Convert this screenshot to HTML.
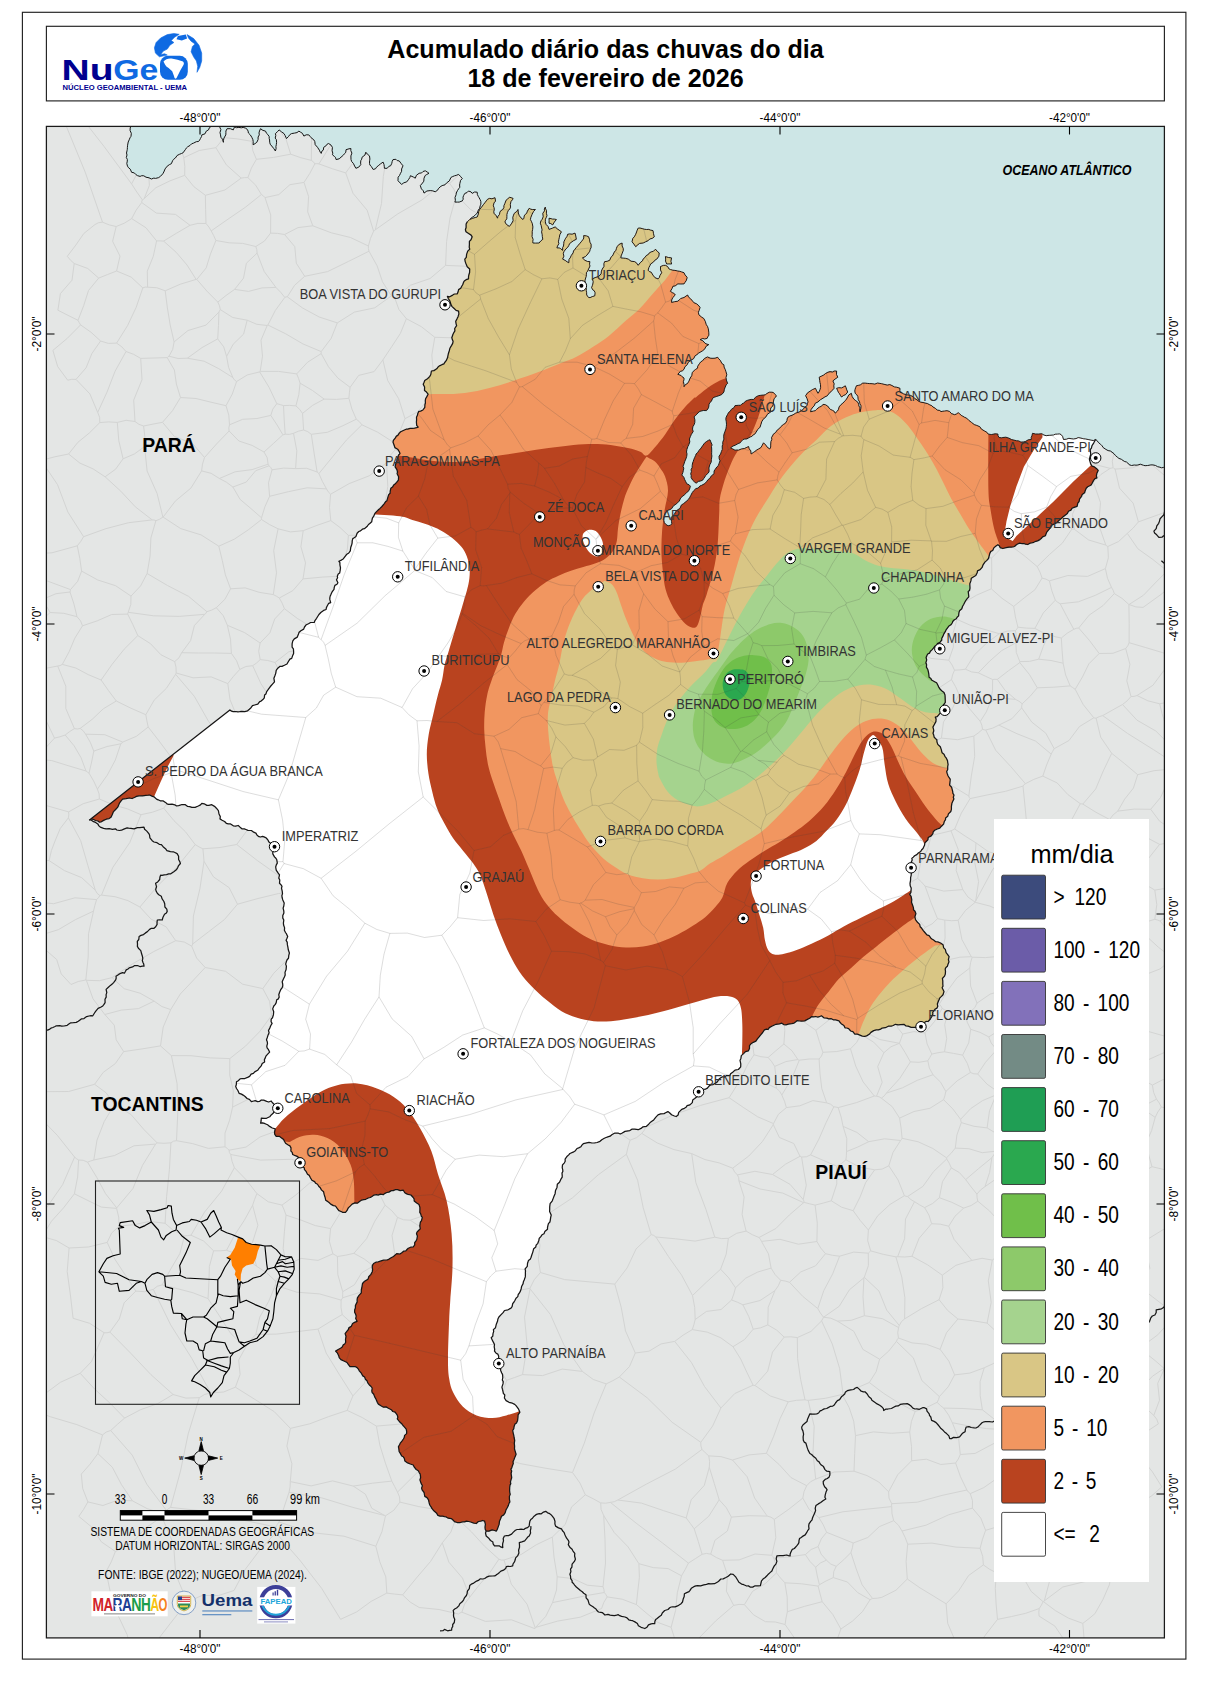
<!DOCTYPE html><html><head><meta charset="utf-8"><title>Acumulado diário das chuvas</title>
<style>html,body{margin:0;padding:0;background:#fff}svg{display:block}text{font-family:"Liberation Sans",sans-serif}</style></head><body>
<svg width="1211" height="1685" viewBox="0 0 1211 1685">
<defs>
<clipPath id="mapclip"><rect x="46" y="126" width="1119" height="1512"/></clipPath>
<clipPath id="maclip"><path d="M467.3,221.9 L469.7,219.5 L472.7,218.3 L475.3,217.5 L477.2,217.0 L478.4,213.9 L478.7,211.5 L479.6,209.5 L481.5,207.2 L483.4,204.6 L485.0,202.6 L486.3,200.9 L487.5,199.3 L489.5,198.4 L491.9,198.8 L495.0,197.7 L495.5,201.1 L494.0,202.9 L493.3,205.8 L494.0,207.4 L494.3,209.6 L493.8,211.5 L494.0,213.3 L496.4,215.9 L497.5,218.2 L497.9,216.5 L499.5,214.4 L499.9,212.1 L500.7,210.8 L502.6,209.6 L503.9,207.6 L503.9,205.7 L504.9,203.4 L506.1,200.2 L507.5,199.2 L509.4,197.2 L511.2,197.7 L513.1,198.4 L512.5,199.7 L511.0,201.4 L510.3,204.6 L510.6,207.1 L509.8,208.9 L508.3,210.5 L507.4,212.5 L506.9,214.5 L506.9,216.6 L506.8,218.8 L505.6,220.4 L504.9,221.9 L506.3,224.3 L508.0,225.5 L509.4,226.4 L511.4,223.8 L513.1,220.7 L512.8,217.3 L513.5,215.2 L514.3,213.3 L516.8,211.4 L518.0,209.5 L518.3,213.0 L519.3,215.7 L521.0,217.9 L523.0,219.5 L523.9,218.2 L524.2,215.9 L525.3,214.3 L526.7,213.3 L527.4,211.1 L529.2,208.3 L530.8,209.2 L532.7,209.6 L535.4,209.5 L533.4,211.7 L532.0,214.5 L530.9,217.2 L530.4,219.5 L531.4,221.4 L532.3,223.6 L532.9,226.9 L532.6,229.6 L532.2,231.4 L532.2,234.3 L532.0,236.5 L533.1,239.3 L532.8,241.3 L532.9,243.0 L535.6,243.1 L539.1,243.0 L540.8,240.9 L542.8,239.3 L542.3,236.6 L542.2,234.8 L541.6,231.8 L542.1,229.9 L541.7,228.1 L541.1,225.3 L540.3,223.2 L540.9,220.9 L542.0,219.6 L543.2,216.8 L542.8,213.3 L544.5,210.9 L544.3,209.0 L545.3,207.1 L545.6,208.9 L546.5,210.5 L546.4,213.3 L547.0,215.7 L546.2,217.6 L545.4,219.2 L545.3,221.8 L546.0,224.4 L548.0,226.4 L549.0,229.4 L552.3,228.2 L555.2,226.9 L557.6,229.1 L559.1,230.1 L561.4,231.8 L559.8,234.8 L559.3,237.5 L558.9,239.3 L558.4,241.8 L558.9,243.6 L557.5,246.1 L556.9,247.9 L559.2,247.9 L560.5,248.5 L562.6,250.4 L562.7,247.6 L563.5,246.0 L563.8,243.6 L563.9,241.8 L564.9,239.7 L565.6,238.3 L567.1,236.3 L567.6,234.3 L569.5,233.9 L572.1,234.2 L575.0,233.1 L575.8,236.0 L576.3,239.3 L573.8,240.5 L571.3,242.3 L569.5,243.7 L568.8,245.5 L567.7,247.3 L565.8,249.0 L563.9,251.7 L563.3,253.5 L563.9,256.2 L562.6,259.1 L565.2,260.4 L567.1,261.8 L568.8,262.8 L569.0,259.3 L570.2,257.9 L571.3,255.4 L573.1,252.9 L573.5,251.0 L575.0,249.2 L576.4,247.4 L578.3,245.2 L579.7,243.6 L581.2,241.8 L583.0,239.5 L583.8,238.0 L583.7,235.6 L586.6,235.9 L588.6,236.8 L589.6,239.8 L589.9,242.2 L591.1,244.2 L591.1,247.5 L590.1,249.6 L589.8,251.2 L588.6,252.9 L586.9,255.1 L585.4,256.6 L582.4,257.9 L584.9,260.3 L587.6,261.5 L589.9,261.6 L589.5,264.2 L590.0,266.0 L588.6,269.0 L587.6,271.2 L586.4,272.7 L586.4,274.3 L586.2,276.4 L585.7,278.0 L585.0,280.2 L585.2,283.5 L584.9,286.3 L586.3,288.7 L586.2,290.7 L586.6,292.3 L586.7,295.0 L588.6,297.5 L590.1,297.6 L592.3,296.6 L594.8,295.8 L595.1,292.7 L594.2,290.7 L592.6,289.7 L591.6,287.6 L592.3,285.7 L592.8,284.1 L593.2,281.7 L592.4,278.9 L595.1,277.6 L598.5,276.4 L601.1,273.9 L601.4,271.1 L602.3,269.0 L604.0,266.4 L603.9,263.6 L604.7,261.6 L607.1,261.3 L609.7,260.3 L610.9,257.3 L612.4,256.0 L613.4,254.1 L614.3,252.0 L615.9,250.3 L616.4,248.5 L617.1,246.7 L618.9,244.5 L622.1,243.0 L622.1,245.9 L623.2,248.3 L623.3,250.4 L622.2,253.3 L621.2,255.8 L620.8,257.9 L623.2,258.1 L625.4,258.3 L628.3,259.1 L631.0,261.2 L634.5,261.6 L636.3,262.7 L638.2,265.3 L639.2,264.0 L640.7,262.2 L642.5,260.8 L643.1,259.1 L645.1,257.3 L646.2,255.6 L648.4,254.4 L649.3,252.9 L651.1,251.9 L653.4,251.3 L655.5,249.2 L657.3,251.4 L659.2,252.9 L658.9,256.2 L656.8,259.1 L654.9,260.2 L653.4,262.1 L650.6,264.0 L649.9,265.7 L649.0,267.3 L648.1,270.2 L649.4,271.6 L651.2,272.2 L653.0,275.2 L655.0,277.7 L658.0,278.9 L659.4,277.4 L659.9,275.6 L661.7,272.7 L660.5,269.9 L660.5,266.5 L663.4,265.4 L665.4,265.3 L667.6,266.5 L669.1,269.0 L670.5,269.6 L672.9,270.2 L674.9,270.4 L677.8,271.0 L679.8,271.3 L681.6,271.9 L684.0,272.7 L684.9,274.8 L686.0,275.8 L687.2,277.7 L686.2,280.7 L684.9,282.5 L684.0,283.9 L680.9,284.0 L677.8,283.9 L675.2,285.9 L672.9,286.3 L672.0,288.6 L670.4,291.3 L672.5,292.7 L673.8,293.2 L675.3,295.0 L672.9,297.4 L671.7,300.0 L671.6,302.4 L674.6,301.7 L677.8,301.2 L679.5,299.7 L680.7,298.5 L684.0,297.5 L686.1,296.0 L687.7,295.0 L688.4,296.9 L690.5,298.7 L692.7,301.2 L693.9,302.7 L696.4,303.7 L698.2,305.1 L700.1,307.4 L699.1,310.6 L698.4,312.3 L698.9,314.8 L701.6,317.1 L703.8,318.5 L705.3,321.4 L706.3,324.7 L707.5,326.4 L708.3,328.8 L708.8,332.2 L708.9,335.2 L707.8,336.8 L707.1,338.4 L704.7,339.0 L702.8,338.5 L700.1,339.6 L702.8,340.7 L705.1,343.3 L707.0,344.2 L708.8,344.6 L705.9,346.5 L704.9,348.8 L702.6,350.8 L700.2,352.2 L698.5,353.2 L697.0,354.6 L695.2,355.7 L693.5,358.8 L691.4,359.9 L690.2,360.7 L688.1,362.5 L687.3,364.6 L684.9,366.8 L684.0,369.3 L682.3,370.9 L680.4,371.3 L679.0,373.0 L677.8,374.3 L681.1,375.5 L682.1,376.7 L684.0,378.0 L684.0,379.7 L683.4,381.6 L684.1,384.7 L684.0,386.7 L685.5,384.5 L687.4,383.6 L688.9,381.2 L690.2,378.0 L691.8,375.6 L692.2,372.7 L694.3,370.3 L695.6,369.4 L697.6,368.1 L697.7,366.2 L699.4,363.7 L700.7,361.9 L702.6,360.7 L704.4,358.5 L707.5,356.9 L710.1,358.1 L712.0,358.3 L715.0,358.2 L717.7,357.3 L718.6,358.6 L720.4,360.5 L721.9,363.5 L723.9,364.8 L724.1,367.1 L725.2,369.4 L725.9,371.4 L726.8,374.7 L726.0,377.4 L726.4,380.1 L727.6,383.4 L726.2,384.8 L725.2,387.2 L724.4,389.2 L723.9,392.0 L721.8,394.5 L718.9,395.7 L716.2,396.6 L714.0,397.3 L712.7,398.2 L711.3,401.4 L709.9,402.5 L709.0,404.4 L708.7,407.2 L707.9,408.9 L706.5,410.6 L703.3,410.5 L700.9,411.1 L699.1,411.8 L696.8,414.2 L695.6,415.5 L694.1,416.8 L694.9,419.8 L694.8,422.5 L694.2,424.5 L692.9,426.7 L692.5,429.1 L693.2,431.5 L691.4,434.3 L690.4,436.6 L689.4,439.0 L689.8,441.9 L688.8,444.7 L687.9,446.5 L686.9,449.5 L686.5,452.0 L687.0,453.9 L686.7,456.4 L685.9,458.9 L684.9,461.1 L684.0,463.9 L683.0,466.3 L683.8,468.1 L683.4,470.3 L682.8,472.8 L681.8,475.0 L683.9,477.3 L684.5,479.2 L685.5,481.2 L686.8,483.8 L689.1,484.8 L690.4,486.2 L689.6,489.0 L688.4,491.3 L686.7,492.4 L684.8,494.6 L682.9,496.0 L680.7,497.9 L679.3,501.0 L677.6,502.8 L675.9,504.2 L673.2,506.1 L671.8,508.5 L670.0,509.6 L668.3,510.2 L666.8,511.6 L664.9,513.4 L664.3,515.4 L663.8,517.8 L663.9,520.8 L664.4,522.6 L665.6,524.2 L668.1,525.8 L670.5,525.2 L671.8,523.8 L671.5,521.4 L670.9,517.9 L672.7,515.8 L674.4,514.3 L675.8,511.4 L678.0,509.6 L680.0,508.4 L681.3,505.1 L683.7,503.5 L686.0,501.6 L688.2,499.7 L689.8,497.3 L690.7,495.6 L692.2,492.7 L693.6,490.8 L696.0,488.5 L698.1,488.1 L699.9,486.0 L701.7,485.3 L704.8,483.6 L706.5,481.7 L708.1,479.6 L709.9,478.3 L711.3,475.9 L714.0,473.8 L714.1,471.0 L715.3,469.2 L716.9,466.9 L718.4,465.5 L718.9,463.9 L720.0,460.7 L719.2,458.9 L719.0,456.2 L720.6,454.0 L721.4,451.5 L722.3,449.4 L722.2,446.0 L722.8,444.4 L722.7,442.3 L723.9,439.1 L723.7,436.9 L723.8,435.0 L724.4,432.9 L725.0,431.3 L725.9,428.9 L726.3,426.7 L726.5,424.2 L726.2,421.1 L725.8,419.4 L726.1,417.3 L727.6,414.3 L728.8,412.2 L730.2,411.3 L731.3,409.4 L734.1,407.5 L735.0,405.6 L738.4,405.3 L740.5,405.3 L742.0,403.8 L743.7,403.2 L745.3,401.3 L747.8,400.2 L751.1,399.4 L753.6,399.5 L755.4,397.3 L756.9,396.4 L758.7,395.6 L760.8,395.3 L763.5,395.0 L765.3,394.8 L766.9,393.5 L769.3,392.2 L771.8,392.2 L773.4,392.5 L774.8,394.2 L776.4,395.7 L775.6,397.2 L774.1,398.6 L773.4,401.9 L773.2,404.6 L772.5,406.4 L770.9,407.7 L770.5,409.8 L770.9,411.8 L769.1,413.1 L767.4,414.3 L766.0,416.8 L764.5,418.0 L762.9,419.8 L761.7,421.8 L761.0,424.2 L760.0,427.2 L757.7,429.6 L756.2,432.0 L754.8,434.1 L753.2,434.9 L751.9,436.4 L750.1,437.0 L748.6,437.9 L746.9,438.9 L744.5,439.1 L742.9,439.6 L741.2,441.6 L740.2,442.8 L738.1,443.6 L735.0,445.3 L733.0,446.0 L730.6,447.8 L732.5,448.8 L735.0,450.2 L736.9,450.0 L738.7,450.1 L741.2,449.0 L744.4,448.5 L746.9,447.3 L748.6,446.5 L749.2,448.8 L750.8,450.8 L751.1,454.0 L753.3,452.5 L754.8,451.5 L756.6,450.1 L758.5,449.0 L760.9,447.6 L761.9,445.9 L763.5,442.8 L765.8,445.1 L766.9,446.8 L769.7,449.0 L770.7,447.1 L770.7,445.1 L770.9,441.6 L771.8,439.5 L771.6,437.3 L772.5,436.0 L773.4,434.1 L775.4,432.7 L777.4,429.9 L779.5,428.4 L780.8,426.7 L783.3,424.5 L785.4,423.3 L787.0,420.5 L787.1,418.9 L788.3,416.8 L789.9,416.0 L792.1,415.2 L793.9,414.3 L795.7,413.1 L799.0,412.1 L801.1,410.9 L803.1,409.4 L804.8,407.2 L806.9,405.8 L807.4,403.6 L808.1,401.9 L807.0,398.5 L805.6,395.7 L807.6,392.8 L810.6,390.8 L812.6,389.5 L815.5,388.3 L816.6,390.8 L818.0,393.3 L819.0,391.9 L819.9,389.9 L820.6,387.6 L820.5,384.6 L820.0,382.7 L819.7,380.4 L819.2,377.2 L821.9,375.9 L823.7,375.0 L825.4,373.6 L827.9,372.2 L830.1,371.6 L832.4,372.0 L834.2,371.0 L836.6,371.0 L836.5,374.5 L837.8,377.2 L835.1,379.1 L832.9,380.9 L834.2,383.8 L833.8,385.8 L834.1,388.3 L832.3,390.3 L830.9,391.8 L829.1,393.3 L827.3,395.8 L824.9,396.9 L823.0,398.2 L820.5,399.7 L818.0,401.9 L815.2,403.3 L814.3,405.7 L813.0,406.9 L811.1,409.5 L810.6,411.8 L813.5,411.0 L815.3,410.7 L816.4,409.5 L818.0,408.1 L819.6,407.0 L821.4,406.3 L823.0,404.4 L825.3,404.7 L827.6,406.0 L829.2,408.1 L830.4,409.4 L832.5,410.3 L833.9,411.1 L835.3,413.1 L837.5,411.0 L838.5,409.3 L839.1,406.9 L840.9,404.7 L842.8,403.2 L844.0,401.9 L845.2,400.7 L846.5,399.1 L847.7,397.0 L848.8,394.9 L851.4,393.3 L852.1,396.4 L853.8,399.1 L855.8,400.7 L857.6,401.9 L858.7,404.2 L858.9,406.0 L860.0,407.8 L859.7,410.2 L860.1,411.8 L860.9,408.3 L861.0,405.7 L859.9,403.8 L859.6,401.9 L858.1,399.4 L857.9,396.6 L856.8,394.8 L855.2,393.3 L854.8,391.0 L855.1,389.2 L855.8,387.3 L856.4,385.8 L858.6,385.3 L860.3,384.9 L862.7,383.1 L865.2,383.1 L867.5,383.4 L869.6,383.6 L872.1,383.7 L874.9,384.1 L877.5,383.0 L879.9,383.4 L881.6,383.7 L884.1,384.3 L887.2,385.1 L889.8,384.6 L891.9,385.5 L894.4,386.9 L896.7,387.2 L900.0,388.3 L899.9,390.3 L900.0,392.4 L901.8,392.7 L903.4,393.8 L906.3,394.7 L908.7,395.1 L910.5,395.4 L913.1,396.7 L914.9,398.6 L917.0,399.9 L918.7,401.3 L920.9,402.2 L923.0,402.5 L925.9,403.2 L927.5,403.6 L929.7,404.8 L931.8,405.7 L933.0,407.0 L935.3,408.3 L937.2,410.0 L939.8,410.5 L941.0,411.6 L942.9,411.2 L944.6,411.0 L947.0,410.7 L949.5,411.4 L951.4,413.5 L954.5,414.7 L956.3,414.1 L958.2,412.7 L959.5,413.6 L961.2,415.4 L962.8,416.2 L964.4,417.2 L966.7,418.2 L969.1,420.6 L971.5,422.4 L974.3,424.6 L976.7,425.4 L979.8,426.7 L981.4,429.1 L984.2,430.8 L986.9,432.3 L988.1,434.0 L990.1,434.4 L991.7,434.5 L995.0,433.8 L997.9,434.0 L998.0,435.6 L999.1,437.5 L1001.4,437.8 L1002.9,437.5 L1005.9,437.2 L1009.0,438.2 L1011.7,439.6 L1013.9,440.1 L1016.4,440.7 L1018.8,440.9 L1020.9,442.1 L1023.9,441.9 L1025.8,441.3 L1028.2,439.8 L1031.3,439.5 L1031.2,437.4 L1031.9,435.9 L1032.5,433.3 L1035.6,434.0 L1038.7,434.0 L1041.8,433.7 L1043.9,435.0 L1046.2,435.7 L1048.0,435.4 L1049.8,435.3 L1052.1,435.1 L1053.6,435.0 L1055.2,434.2 L1057.3,434.1 L1059.5,433.9 L1061.0,434.5 L1062.6,436.4 L1063.5,439.5 L1066.4,439.2 L1068.9,438.3 L1071.1,438.7 L1073.4,439.0 L1076.0,438.6 L1078.2,437.6 L1080.0,437.9 L1082.2,438.4 L1083.7,438.8 L1085.8,439.0 L1088.9,439.7 L1091.9,440.3 L1093.4,440.5 L1095.7,439.5 L1095.7,439.5 L1094.6,441.2 L1093.8,442.8 L1092.0,445.6 L1091.4,448.2 L1090.2,449.7 L1090.4,451.6 L1090.8,454.3 L1090.1,456.5 L1089.4,459.3 L1090.1,461.9 L1090.8,464.2 L1092.1,466.1 L1093.8,466.6 L1096.4,468.4 L1098.2,470.4 L1096.9,473.2 L1096.4,475.8 L1096.9,477.9 L1095.0,478.7 L1093.6,480.4 L1092.1,483.3 L1090.8,485.3 L1087.7,486.7 L1086.2,488.3 L1085.1,491.0 L1084.6,492.7 L1082.2,494.4 L1081.6,496.3 L1079.6,498.9 L1079.1,501.5 L1077.8,503.1 L1077.1,506.3 L1074.8,507.1 L1072.0,508.3 L1070.9,510.1 L1068.5,511.3 L1067.4,513.4 L1064.8,515.4 L1062.8,517.1 L1061.0,518.7 L1059.2,520.2 L1057.5,522.1 L1054.8,523.7 L1052.8,524.6 L1051.4,525.2 L1050.7,527.5 L1048.6,529.9 L1046.6,532.4 L1045.4,535.7 L1042.6,536.9 L1041.2,538.5 L1039.9,539.6 L1037.6,540.9 L1035.9,541.3 L1033.8,542.3 L1031.5,543.0 L1030.0,543.2 L1027.8,544.5 L1025.5,544.2 L1023.9,543.5 L1021.5,543.5 L1019.7,543.2 L1017.6,544.0 L1016.4,544.7 L1014.5,546.5 L1012.8,547.0 L1011.1,547.2 L1009.0,547.2 L1006.2,547.7 L1002.8,548.5 L1000.1,547.6 L999.3,545.7 L997.9,544.7 L996.0,546.0 L993.8,547.9 L992.7,550.5 L990.8,551.4 L989.8,553.4 L989.0,556.5 L988.5,558.5 L986.6,560.6 L984.9,562.1 L983.2,564.6 L982.1,567.4 L980.1,569.7 L977.5,570.8 L977.2,572.8 L975.8,575.5 L973.7,576.7 L971.3,578.2 L970.9,580.9 L969.8,583.8 L969.9,586.0 L970.0,588.1 L969.5,590.5 L968.2,591.5 L968.5,593.8 L968.8,596.8 L967.2,598.6 L965.9,600.3 L964.8,602.3 L963.8,604.2 L962.5,606.5 L961.8,608.7 L959.5,610.8 L958.9,612.9 L958.6,615.9 L957.1,617.3 L956.3,618.8 L954.4,619.7 L952.7,621.5 L952.2,623.0 L950.9,624.8 L948.9,626.1 L947.7,627.7 L946.1,629.8 L945.3,631.7 L943.7,634.2 L942.8,636.4 L941.7,638.5 L941.8,640.0 L939.9,642.4 L937.5,643.6 L936.6,645.1 L935.0,646.1 L933.4,648.2 L932.2,649.6 L930.4,651.3 L929.5,653.1 L927.7,654.0 L926.8,655.7 L926.1,657.5 L926.7,659.9 L925.9,662.7 L926.6,664.8 L926.4,667.1 L927.9,669.8 L928.5,672.3 L928.8,674.0 L929.1,677.2 L930.9,678.6 L931.6,680.0 L934.6,681.7 L936.6,682.8 L937.8,685.0 L938.6,686.8 L940.2,689.3 L941.7,690.7 L944.0,692.4 L945.0,694.9 L945.1,696.9 L945.2,699.3 L945.3,702.3 L944.2,704.0 L943.2,705.2 L942.6,708.0 L941.5,709.7 L940.4,712.8 L938.9,714.6 L937.2,716.6 L935.3,717.2 L936.1,719.0 L935.9,721.6 L934.2,724.7 L932.9,727.1 L933.4,728.7 L933.8,730.8 L933.0,733.3 L933.8,735.3 L934.1,737.0 L935.5,738.7 L936.8,739.5 L937.0,742.1 L937.8,744.4 L940.3,746.7 L941.3,749.6 L942.1,752.8 L944.0,754.3 L944.9,756.3 L946.1,757.8 L947.5,760.6 L947.7,762.3 L948.1,764.3 L947.7,766.7 L947.7,769.5 L946.7,771.6 L947.1,773.2 L948.0,775.7 L949.2,777.7 L950.2,779.1 L950.1,780.9 L949.9,782.7 L949.6,785.1 L951.6,787.2 L952.2,789.6 L952.7,791.5 L952.9,793.4 L954.0,795.0 L953.3,797.2 L953.9,799.0 L953.1,800.6 L951.9,803.3 L951.4,806.3 L951.4,809.4 L950.8,811.5 L948.4,813.9 L947.7,816.3 L945.6,817.9 L945.5,819.7 L944.3,821.5 L943.6,824.1 L941.5,826.2 L939.8,828.1 L937.3,829.0 L934.7,830.3 L933.2,831.9 L932.9,833.6 L931.2,835.9 L928.2,837.5 L927.9,839.9 L926.7,841.0 L924.9,842.9 L924.5,845.3 L923.0,848.5 L921.5,850.0 L920.7,851.5 L918.3,853.0 L916.8,854.6 L914.6,855.8 L913.3,857.1 L911.8,858.4 L912.2,859.9 L911.3,862.1 L912.4,864.7 L911.0,866.1 L910.6,868.3 L910.6,871.0 L911.4,872.5 L911.1,875.7 L910.6,877.7 L910.6,880.0 L910.0,883.3 L910.2,885.8 L911.2,888.1 L911.1,889.9 L910.9,892.5 L909.7,894.4 L911.1,896.3 L911.8,899.8 L911.5,902.3 L912.6,905.3 L913.5,907.9 L913.5,909.7 L915.0,911.3 L915.9,913.5 L914.9,916.9 L915.5,919.6 L917.5,922.3 L919.7,924.4 L920.2,926.8 L921.7,928.3 L923.3,930.6 L924.9,932.5 L926.9,934.9 L929.1,935.7 L930.7,937.9 L931.9,938.9 L933.6,940.0 L935.7,941.7 L937.8,941.9 L940.6,943.0 L943.0,944.7 L943.7,947.9 L945.3,949.4 L946.1,952.7 L947.7,954.6 L949.1,956.6 L948.4,959.6 L949.0,961.8 L948.0,964.2 L947.4,966.3 L945.9,967.5 L945.2,969.1 L945.5,971.3 L945.3,974.1 L944.5,976.2 L942.4,978.5 L942.8,980.9 L942.8,984.0 L943.0,986.1 L942.1,987.7 L943.0,989.5 L944.0,991.6 L943.0,994.8 L941.5,996.4 L939.8,997.9 L938.5,1000.9 L937.3,1003.9 L937.8,1006.3 L937.0,1008.1 L935.3,1009.0 L933.7,1010.8 L932.7,1012.3 L932.9,1014.1 L931.9,1016.3 L930.4,1018.7 L929.3,1020.3 L928.0,1021.5 L926.0,1021.4 L924.4,1022.5 L922.7,1024.7 L920.5,1026.2 L918.3,1026.7 L914.8,1027.4 L911.2,1027.3 L908.1,1026.2 L906.0,1025.9 L904.2,1024.4 L900.8,1024.7 L898.2,1024.9 L895.4,1024.3 L893.2,1025.5 L891.3,1026.1 L888.3,1026.2 L885.3,1027.7 L882.1,1028.1 L880.6,1029.2 L878.4,1029.9 L876.2,1029.9 L873.7,1030.6 L870.9,1032.4 L869.2,1034.3 L866.6,1035.9 L864.7,1036.3 L862.3,1036.1 L859.3,1034.9 L857.4,1034.1 L854.8,1034.1 L852.9,1031.7 L850.7,1031.0 L848.6,1028.6 L846.8,1028.0 L845.0,1027.8 L843.9,1025.5 L841.2,1023.7 L839.7,1022.0 L839.0,1020.8 L835.6,1019.8 L833.3,1019.8 L831.3,1018.7 L828.7,1018.8 L826.9,1018.2 L823.9,1017.8 L821.4,1015.8 L819.3,1016.7 L817.9,1017.1 L815.5,1016.5 L814.0,1016.8 L811.5,1016.7 L809.7,1018.2 L806.9,1019.6 L804.8,1020.9 L801.6,1021.2 L799.3,1021.0 L797.0,1020.7 L795.5,1022.0 L794.1,1023.1 L791.7,1023.7 L788.3,1024.2 L786.0,1024.9 L783.7,1024.6 L781.8,1023.2 L779.5,1023.9 L776.0,1024.3 L773.9,1025.2 L771.8,1026.2 L769.3,1027.6 L768.1,1029.5 L766.6,1029.1 L764.4,1029.9 L762.7,1032.5 L760.7,1034.8 L758.9,1037.1 L757.4,1038.9 L755.9,1041.2 L753.3,1042.3 L751.0,1043.8 L749.5,1045.6 L749.5,1048.4 L748.3,1050.9 L745.5,1051.6 L743.6,1053.6 L741.3,1055.6 L740.9,1058.4 L740.0,1060.4 L740.8,1063.8 L740.7,1066.8 L738.4,1069.5 L735.0,1070.1 L732.7,1072.2 L730.6,1073.8 L729.7,1075.7 L726.3,1075.7 L724.2,1077.0 L722.4,1076.8 L720.4,1078.0 L719.1,1079.0 L717.3,1081.9 L715.6,1082.9 L713.1,1084.6 L711.0,1084.8 L709.2,1085.9 L707.4,1088.1 L705.2,1089.3 L702.2,1089.0 L700.8,1090.8 L698.6,1091.8 L698.1,1093.9 L697.2,1096.6 L694.7,1098.6 L692.7,1100.0 L692.3,1102.6 L689.9,1104.9 L687.1,1105.7 L686.0,1107.3 L684.4,1108.3 L682.3,1109.1 L681.0,1110.1 L678.7,1112.4 L678.1,1115.0 L676.2,1116.5 L674.4,1116.0 L671.6,1114.8 L669.5,1112.7 L667.9,1111.6 L665.6,1112.8 L664.1,1113.6 L660.6,1113.8 L658.0,1114.9 L655.9,1117.1 L653.7,1119.9 L652.2,1121.0 L650.5,1122.2 L648.1,1124.8 L646.2,1126.4 L643.0,1126.8 L641.0,1128.4 L638.2,1129.7 L634.7,1129.1 L631.8,1129.2 L629.9,1130.6 L628.1,1130.9 L625.0,1131.4 L622.3,1133.0 L620.2,1134.0 L618.0,1133.0 L614.9,1133.0 L611.8,1134.7 L610.1,1136.2 L607.8,1136.9 L606.1,1137.5 L604.3,1138.3 L601.8,1139.7 L600.0,1141.3 L597.1,1142.5 L594.7,1142.9 L591.9,1143.0 L589.0,1142.3 L585.7,1143.1 L583.3,1143.7 L581.9,1145.1 L580.9,1146.8 L578.7,1147.9 L577.0,1148.5 L575.4,1150.7 L573.1,1152.2 L569.9,1153.5 L568.7,1154.9 L567.2,1156.2 L565.1,1159.0 L565.2,1161.3 L564.4,1162.8 L562.5,1164.9 L562.2,1167.7 L562.7,1169.6 L562.9,1171.3 L562.0,1173.1 L562.2,1175.4 L562.2,1177.2 L560.8,1179.4 L559.5,1182.2 L557.3,1184.2 L557.0,1187.4 L555.5,1190.6 L555.1,1193.7 L554.1,1196.0 L553.2,1198.4 L552.3,1200.8 L550.1,1203.6 L549.7,1207.0 L549.7,1209.3 L549.6,1211.4 L550.3,1212.9 L551.2,1215.1 L550.7,1217.3 L550.3,1220.1 L549.9,1222.0 L548.4,1223.6 L547.9,1225.6 L547.5,1227.7 L547.5,1229.3 L544.8,1231.6 L544.0,1233.8 L542.0,1234.8 L540.8,1236.6 L539.2,1238.4 L538.9,1240.2 L537.8,1243.3 L536.1,1245.2 L535.8,1247.0 L533.7,1248.7 L532.8,1252.1 L531.7,1255.2 L531.1,1257.2 L530.2,1259.2 L528.4,1260.6 L527.5,1263.5 L527.3,1266.3 L525.1,1268.8 L525.5,1270.9 L525.4,1272.5 L525.4,1275.0 L525.3,1276.9 L524.2,1280.0 L523.4,1281.7 L523.1,1283.6 L521.7,1286.2 L521.1,1289.0 L520.5,1290.9 L519.3,1293.2 L518.2,1294.5 L517.8,1296.6 L516.0,1298.2 L514.9,1300.5 L514.0,1302.0 L512.7,1303.7 L512.1,1306.6 L511.0,1308.1 L508.0,1309.8 L504.5,1310.5 L503.3,1312.3 L501.1,1314.7 L498.9,1317.0 L497.9,1319.1 L497.5,1321.3 L496.2,1324.6 L495.5,1327.7 L493.4,1329.6 L493.7,1331.4 L493.0,1333.6 L492.8,1336.1 L491.2,1337.8 L492.2,1339.9 L493.7,1342.9 L494.5,1344.5 L494.2,1346.9 L494.7,1349.4 L494.5,1351.1 L496.1,1353.2 L497.8,1354.1 L498.7,1356.2 L498.6,1357.7 L499.8,1360.4 L499.9,1362.0 L499.5,1364.3 L500.3,1366.9 L500.7,1370.4 L501.6,1372.7 L502.5,1374.4 L502.8,1377.5 L502.3,1380.0 L503.2,1381.6 L503.0,1383.9 L501.9,1387.1 L502.4,1389.2 L502.8,1390.7 L503.4,1393.5 L504.8,1394.9 L504.4,1398.0 L506.1,1400.6 L509.0,1402.3 L512.4,1403.2 L514.7,1404.4 L516.0,1405.6 L517.5,1407.6 L518.6,1409.2 L519.9,1412.2 L518.1,1414.9 L518.0,1417.0 L517.6,1420.4 L516.5,1423.0 L515.0,1424.1 L514.1,1426.4 L513.8,1428.7 L512.7,1430.5 L513.3,1433.6 L513.8,1435.5 L514.1,1437.5 L514.7,1440.3 L514.3,1443.5 L514.6,1446.0 L514.5,1449.0 L515.5,1452.4 L516.1,1454.3 L515.0,1456.9 L514.0,1459.5 L513.0,1461.8 L513.3,1463.4 L512.4,1465.7 L511.8,1467.9 L510.9,1469.2 L511.7,1471.0 L511.1,1473.5 L511.5,1476.1 L511.7,1477.8 L511.0,1479.9 L510.4,1482.0 L510.8,1483.6 L510.0,1485.1 L509.7,1487.4 L509.6,1490.6 L509.8,1492.6 L510.2,1494.2 L509.4,1496.4 L509.4,1499.2 L509.9,1502.0 L509.0,1503.3 L508.4,1505.4 L507.1,1508.0 L506.1,1509.6 L505.1,1512.9 L503.7,1514.9 L501.5,1516.3 L500.6,1518.8 L499.5,1521.2 L499.1,1524.4 L498.2,1526.9 L497.3,1529.3 L496.2,1531.1 L494.7,1530.5 L492.1,1529.9 L489.0,1531.2 L486.2,1531.1 L485.2,1529.2 L485.0,1527.2 L485.4,1524.3 L484.6,1521.2 L482.5,1520.5 L480.9,1521.1 L478.4,1521.5 L476.3,1523.5 L473.8,1523.1 L470.6,1522.0 L468.8,1521.5 L466.4,1521.2 L464.7,1521.9 L462.8,1521.8 L460.3,1522.5 L457.2,1522.5 L454.4,1521.7 L453.2,1520.2 L451.3,1518.6 L448.2,1518.2 L446.2,1516.9 L444.4,1516.7 L442.6,1516.2 L440.0,1516.2 L437.9,1515.4 L436.4,1512.9 L434.4,1511.2 L433.3,1510.2 L431.9,1508.4 L430.7,1506.3 L429.8,1505.0 L429.1,1502.7 L428.5,1499.9 L427.0,1497.6 L424.8,1496.4 L424.5,1494.9 L424.1,1492.5 L422.1,1489.9 L421.6,1488.1 L422.4,1485.7 L421.0,1483.1 L419.9,1479.9 L420.6,1477.8 L420.5,1476.1 L420.2,1474.1 L419.2,1472.6 L418.3,1470.7 L416.2,1469.5 L414.3,1467.2 L413.2,1465.0 L410.3,1464.0 L407.6,1462.9 L404.9,1461.1 L404.3,1458.3 L403.3,1456.8 L401.7,1456.0 L400.6,1453.9 L399.1,1451.5 L398.8,1448.6 L398.4,1446.8 L399.5,1444.8 L400.5,1442.8 L402.3,1440.6 L403.4,1439.0 L404.3,1437.4 L404.6,1435.4 L406.6,1433.6 L406.7,1431.7 L406.2,1429.1 L404.1,1426.6 L403.0,1425.5 L401.7,1423.7 L399.3,1421.5 L397.3,1418.8 L397.9,1417.1 L397.1,1414.8 L395.1,1412.2 L392.8,1411.5 L391.3,1409.7 L388.4,1408.3 L386.1,1406.9 L383.5,1407.2 L380.9,1405.7 L378.4,1404.1 L377.3,1402.3 L375.9,1399.0 L374.7,1396.9 L373.6,1394.0 L372.1,1392.5 L371.8,1390.8 L372.2,1388.0 L371.1,1386.5 L369.7,1385.3 L367.8,1382.9 L367.0,1380.8 L365.4,1379.2 L364.6,1377.0 L362.8,1375.9 L361.3,1373.2 L359.5,1371.1 L358.4,1369.2 L357.1,1367.6 L355.1,1366.5 L353.0,1366.7 L350.0,1366.7 L348.1,1364.2 L347.0,1362.5 L343.9,1361.0 L340.9,1359.6 L339.2,1357.7 L338.7,1355.7 L337.5,1353.2 L335.6,1351.1 L338.2,1349.5 L340.5,1348.3 L342.2,1347.0 L343.2,1344.9 L344.7,1344.0 L345.7,1342.3 L345.5,1339.5 L346.0,1336.3 L345.1,1333.6 L347.0,1331.2 L348.4,1329.5 L348.8,1327.9 L351.2,1326.4 L352.6,1323.5 L354.5,1322.4 L357.1,1321.3 L355.7,1318.5 L356.2,1316.0 L355.5,1313.9 L354.6,1312.2 L354.7,1309.8 L355.4,1308.1 L355.4,1305.5 L356.2,1303.9 L357.2,1301.9 L357.1,1299.9 L357.4,1297.8 L359.0,1295.4 L361.3,1292.8 L361.3,1290.0 L362.0,1286.6 L362.5,1283.5 L364.6,1281.2 L367.0,1279.9 L368.3,1278.7 L368.7,1276.7 L370.9,1274.4 L372.3,1271.7 L372.6,1269.4 L372.3,1267.9 L372.3,1265.6 L373.6,1263.5 L375.9,1262.2 L377.8,1262.0 L380.3,1261.2 L383.5,1260.2 L385.9,1260.0 L387.4,1259.8 L389.1,1259.1 L391.1,1257.7 L393.0,1256.7 L394.3,1255.7 L396.7,1253.6 L399.9,1254.0 L401.8,1252.7 L403.6,1251.2 L405.8,1250.9 L406.7,1249.8 L408.3,1248.2 L410.6,1247.2 L413.2,1247.0 L414.7,1244.9 L414.7,1242.7 L416.0,1240.8 L416.8,1239.5 L417.4,1236.1 L416.5,1233.8 L417.0,1232.1 L418.3,1230.7 L420.3,1228.8 L419.8,1225.9 L420.1,1223.9 L420.4,1222.1 L421.5,1220.6 L422.3,1217.4 L421.3,1216.1 L420.7,1213.9 L419.8,1212.4 L419.9,1210.2 L419.9,1207.4 L419.0,1204.5 L416.7,1203.0 L414.2,1201.0 L414.1,1198.8 L413.2,1197.5 L410.9,1195.0 L408.1,1194.3 L406.7,1193.9 L404.8,1192.7 L403.3,1190.2 L400.2,1190.6 L397.5,1189.7 L395.4,1189.6 L393.2,1190.6 L391.3,1190.6 L388.9,1192.1 L386.8,1192.5 L384.5,1193.6 L383.3,1194.7 L380.4,1194.1 L378.1,1195.1 L376.5,1194.6 L374.0,1195.1 L372.0,1196.4 L370.3,1197.5 L368.3,1198.0 L365.7,1199.3 L363.7,1199.6 L361.7,1200.1 L359.9,1201.3 L357.3,1203.2 L354.9,1202.9 L352.1,1204.1 L350.4,1205.9 L348.3,1207.9 L346.9,1210.7 L345.5,1212.3 L342.5,1212.3 L341.1,1211.5 L338.9,1210.7 L337.5,1208.8 L335.5,1206.0 L333.4,1205.6 L330.7,1204.1 L329.3,1202.8 L327.9,1201.6 L325.7,1200.2 L325.1,1197.4 L324.1,1194.2 L323.6,1191.8 L321.4,1189.9 L320.3,1187.7 L318.9,1186.5 L317.5,1184.2 L315.7,1183.3 L314.6,1181.6 L311.9,1180.3 L310.4,1177.8 L309.3,1175.4 L307.5,1174.3 L306.1,1171.4 L304.5,1169.6 L304.2,1167.7 L301.8,1166.1 L300.9,1164.4 L299.2,1161.8 L298.8,1158.3 L297.8,1156.7 L295.3,1155.7 L292.7,1154.5 L292.2,1152.4 L290.9,1151.1 L291.0,1147.9 L289.9,1145.9 L287.8,1144.8 L285.6,1143.3 L284.4,1141.3 L283.6,1139.6 L281.6,1137.9 L279.3,1136.3 L276.2,1136.4 L274.8,1134.5 L274.5,1132.3 L275.2,1128.8 L272.3,1128.0 L269.6,1126.4 L267.6,1124.8 L265.1,1123.7 L262.7,1122.8 L260.6,1123.1 L261.1,1121.0 L261.3,1118.2 L264.1,1118.4 L266.5,1118.3 L269.7,1116.8 L271.2,1114.9 L272.9,1113.6 L274.5,1111.1 L275.9,1109.1 L277.2,1106.6 L274.3,1104.5 L272.5,1102.8 L271.2,1101.0 L268.7,1102.0 L266.7,1101.4 L263.7,1100.2 L261.3,1100.0 L259.4,1101.5 L257.6,1101.7 L255.2,1100.7 L253.7,1101.0 L251.4,1101.7 L249.4,1099.4 L247.1,1098.5 L245.1,1096.5 L243.1,1095.1 L241.5,1094.1 L239.1,1093.3 L237.9,1090.5 L236.5,1088.5 L235.7,1086.4 L236.3,1084.7 L236.5,1081.8 L238.3,1080.7 L240.1,1078.9 L242.2,1078.5 L244.8,1078.5 L247.6,1077.4 L249.6,1076.4 L251.1,1074.1 L253.4,1073.4 L254.7,1071.9 L257.6,1070.3 L259.0,1068.4 L261.2,1065.9 L262.2,1063.5 L264.6,1062.0 L264.4,1059.6 L265.2,1058.1 L265.9,1056.2 L267.7,1054.1 L269.6,1052.1 L268.5,1049.7 L267.1,1047.9 L266.8,1046.1 L267.5,1043.5 L267.3,1041.9 L266.5,1039.7 L267.2,1037.8 L267.9,1035.6 L269.1,1032.7 L268.5,1030.5 L270.0,1027.6 L270.7,1025.8 L272.1,1023.4 L271.1,1021.7 L271.2,1019.1 L272.5,1017.7 L273.4,1014.9 L273.7,1011.8 L272.7,1008.9 L273.8,1006.0 L275.3,1004.4 L276.2,1002.6 L276.7,999.8 L278.1,999.1 L279.2,997.1 L278.8,994.7 L279.5,992.5 L280.8,989.5 L281.9,988.2 L282.8,986.1 L282.7,984.0 L282.2,981.8 L283.4,979.0 L284.5,976.7 L285.2,975.1 L285.0,972.4 L286.1,969.5 L286.4,966.1 L285.7,964.1 L286.3,961.9 L287.1,959.7 L288.5,958.2 L288.8,955.4 L289.4,953.0 L288.3,949.8 L287.9,947.2 L287.4,944.9 L287.2,942.1 L286.1,940.3 L286.8,938.7 L287.7,936.5 L286.5,933.9 L285.5,932.5 L284.4,930.3 L284.6,927.9 L283.6,925.0 L283.4,923.1 L283.8,920.0 L282.8,918.1 L282.8,915.6 L283.9,913.0 L283.8,910.8 L283.1,908.1 L283.8,906.0 L284.2,903.0 L282.8,899.9 L282.1,897.5 L281.9,895.6 L282.5,893.6 L282.2,891.2 L281.5,888.2 L282.0,886.3 L281.1,884.9 L279.5,883.3 L279.8,880.0 L278.8,878.1 L279.5,874.8 L278.0,872.8 L276.2,870.1 L275.7,867.0 L276.3,864.9 L277.3,863.1 L276.8,859.8 L275.9,858.3 L274.5,856.9 L272.8,853.9 L272.8,851.5 L273.3,849.8 L273.7,848.0 L272.9,845.4 L270.5,843.3 L268.7,841.8 L268.0,840.1 L266.3,838.0 L264.6,837.1 L262.6,836.3 L260.5,837.0 L259.0,836.7 L257.1,835.3 L255.9,833.1 L253.7,832.2 L251.4,830.5 L248.0,830.3 L245.9,829.5 L244.4,828.9 L242.2,828.9 L239.8,826.9 L238.2,825.5 L235.6,826.2 L233.3,825.8 L230.6,823.9 L228.3,823.9 L226.3,823.3 L224.6,821.5 L222.1,820.2 L220.0,818.9 L220.3,816.6 L219.0,814.0 L218.4,810.7 L216.4,808.2 L214.9,806.6 L211.8,804.7 L208.8,805.3 L206.9,805.4 L204.2,803.8 L201.8,803.4 L200.5,804.9 L198.3,806.0 L195.1,807.3 L191.9,807.4 L189.6,806.6 L187.7,806.5 L185.0,804.5 L182.0,804.5 L178.7,805.7 L176.5,805.9 L174.8,804.8 L172.0,804.1 L168.6,804.4 L167.0,803.8 L165.5,802.4 L163.3,800.9 L160.2,800.8 L158.2,799.8 L156.5,799.1 L154.0,796.8 L151.9,796.1 L149.7,795.0 L148.2,795.2 L145.8,795.3 L142.5,795.9 L139.1,795.8 L136.4,796.4 L134.9,797.3 L132.1,798.5 L129.4,798.0 L126.1,798.7 L122.6,799.1 L121.3,800.6 L119.6,802.8 L118.8,804.7 L117.6,807.4 L115.6,809.5 L113.3,811.9 L112.3,814.4 L111.0,817.3 L109.1,818.6 L106.2,819.2 L103.6,820.4 L101.3,821.8 L99.5,822.2 L97.9,821.0 L95.5,820.5 L93.1,819.3 L91.4,819.0 L89.5,819.9 L229.9,709.9 L231.6,711.2 L233.1,711.6 L235.7,711.5 L237.9,711.9 L239.6,711.7 L241.7,711.4 L244.8,711.6 L247.6,710.8 L249.4,709.2 L251.0,707.7 L252.5,705.6 L254.7,705.0 L257.8,704.1 L259.7,701.6 L261.1,701.1 L262.9,699.6 L264.3,697.9 L264.6,695.1 L265.9,694.0 L266.7,691.6 L268.1,689.7 L269.4,687.8 L270.8,686.0 L272.5,684.1 L274.5,681.8 L273.9,678.3 L274.9,675.8 L275.8,673.1 L276.2,670.3 L277.8,668.2 L280.1,666.3 L282.0,666.4 L284.4,665.3 L287.0,664.0 L288.4,661.5 L289.9,659.1 L291.7,658.4 L292.7,655.4 L293.6,653.4 L293.6,651.5 L293.4,648.8 L292.1,647.2 L292.1,643.8 L292.8,640.9 L294.3,638.9 L297.3,637.1 L298.5,634.0 L299.1,632.3 L300.9,630.7 L303.7,629.1 L304.5,627.0 L306.3,624.7 L308.5,623.7 L310.6,622.5 L314.2,622.4 L315.1,620.3 L316.6,618.3 L318.0,616.0 L319.2,614.2 L320.8,612.5 L323.6,610.4 L326.1,609.5 L326.4,607.6 L327.2,606.0 L328.7,603.3 L330.7,602.6 L329.9,599.9 L329.8,598.0 L330.2,596.0 L330.9,594.6 L332.3,591.6 L334.0,589.4 L334.2,587.5 L334.9,585.4 L337.0,584.3 L337.9,582.8 L336.5,579.8 L337.6,577.8 L337.3,576.2 L338.2,574.0 L339.7,573.0 L340.2,570.2 L340.5,567.9 L339.9,564.9 L339.9,562.7 L338.9,561.3 L341.4,560.1 L343.2,558.9 L344.4,557.3 L346.5,554.5 L348.8,553.0 L350.3,550.9 L350.5,549.3 L350.8,547.2 L351.6,545.0 L352.1,543.1 L352.2,540.9 L352.8,538.6 L354.2,537.7 L356.0,536.4 L357.1,533.2 L358.8,531.5 L360.5,530.9 L362.4,529.2 L364.4,528.7 L367.0,526.6 L368.5,524.5 L369.8,523.4 L371.7,521.8 L372.0,520.0 L372.4,518.1 L373.6,516.4 L374.9,513.4 L376.5,511.6 L378.7,509.5 L380.0,508.4 L381.9,506.5 L384.1,503.8 L385.5,501.8 L386.9,500.7 L387.9,497.2 L388.7,494.6 L390.1,493.2 L390.2,491.1 L390.8,488.3 L392.5,487.1 L393.7,485.0 L395.3,483.7 L396.6,482.4 L398.4,480.0 L398.6,476.7 L397.1,473.7 L397.5,472.0 L396.9,469.7 L395.1,466.8 L395.8,463.6 L396.9,461.3 L396.9,459.6 L398.0,457.1 L398.4,455.3 L400.0,453.6 L399.3,451.8 L398.0,449.6 L396.8,448.7 L394.9,447.6 L393.9,444.5 L393.0,442.1 L393.4,440.4 L395.2,438.1 L396.4,436.1 L397.8,435.4 L399.3,433.1 L400.7,431.8 L403.3,430.5 L406.1,429.2 L407.7,429.1 L410.1,428.3 L412.1,428.3 L414.5,428.2 L416.6,427.7 L418.2,427.2 L416.7,425.4 L416.4,422.0 L416.6,419.9 L416.5,417.3 L417.4,415.3 L417.7,413.8 L418.8,411.3 L420.6,411.1 L422.9,410.0 L424.8,407.4 L424.9,404.7 L425.4,403.0 L425.3,400.5 L425.6,398.8 L426.7,396.9 L428.1,394.2 L426.5,392.1 L424.5,390.5 L424.6,387.1 L423.2,384.2 L424.0,382.5 L424.7,380.6 L427.5,378.7 L429.8,376.4 L430.8,374.5 L431.4,371.0 L433.9,370.6 L436.7,368.8 L438.2,366.8 L440.0,365.6 L441.9,364.7 L443.9,363.9 L444.7,362.5 L446.2,360.7 L447.5,357.8 L448.2,354.3 L449.2,351.0 L449.9,348.3 L451.6,345.4 L452.7,343.4 L453.1,341.3 L452.4,339.8 L451.8,337.7 L452.9,334.5 L454.0,332.3 L454.9,330.9 L454.7,328.5 L456.6,325.7 L456.1,323.8 L455.7,321.2 L456.9,319.1 L458.1,316.4 L458.9,314.0 L458.6,311.1 L456.1,310.4 L453.9,308.2 L452.1,306.6 L451.1,304.9 L450.5,303.0 L449.8,300.8 L448.3,298.5 L447.4,296.3 L449.7,296.8 L452.7,295.1 L454.4,294.0 L457.3,293.8 L458.1,291.8 L458.6,289.6 L460.7,288.3 L461.6,286.5 L462.8,284.5 L463.5,282.4 L464.3,281.0 L466.1,279.7 L468.5,278.9 L468.5,276.8 L468.9,274.7 L469.6,272.5 L469.7,269.0 L467.2,266.7 L465.9,263.5 L465.2,261.6 L464.8,259.1 L466.3,257.4 L466.6,254.4 L467.7,251.1 L469.7,249.2 L469.2,247.2 L469.4,244.9 L469.4,241.4 L471.0,239.7 L472.2,236.8 L471.1,235.1 L468.6,233.5 L466.0,231.8 L465.4,229.8 L466.1,227.5 L466.1,224.0 L467.3,221.9ZM710.0,439.8 L708.3,440.4 L706.4,441.6 L704.4,443.2 L702.6,445.8 L701.0,448.1 L699.0,450.4 L697.9,452.2 L696.1,454.0 L695.6,455.5 L694.7,457.4 L693.8,459.5 L693.2,461.6 L692.6,463.0 L692.2,465.4 L692.1,467.6 L691.1,469.6 L691.4,471.6 L690.7,473.8 L691.2,475.4 L691.1,477.5 L692.7,480.2 L694.5,481.9 L696.1,483.2 L698.4,481.4 L700.3,481.1 L702.6,480.2 L703.6,478.7 L704.9,476.9 L705.7,475.5 L707.3,473.9 L709.0,472.0 L709.1,469.9 L708.9,468.0 L709.8,464.8 L711.2,462.1 L711.4,459.5 L711.9,456.0 L711.6,454.1 L711.7,452.3 L711.7,449.0 L711.5,446.5 L712.1,444.9 L710.8,441.9ZM638.2,228.1 L640.0,228.0 L642.2,228.6 L644.3,229.2 L646.5,229.5 L648.8,229.4 L650.2,230.0 L653.0,230.6 L653.5,233.7 L654.3,236.8 L652.2,238.4 L649.7,239.0 L648.1,240.7 L645.6,241.8 L643.2,243.0 L639.6,243.4 L637.9,244.7 L635.7,246.7 L633.8,244.0 L632.0,241.8 L632.8,238.4 L634.3,236.8 L635.7,234.3 L636.6,231.9 L637.2,230.1ZM549.0,218.2 L551.2,218.7 L552.6,219.1 L554.3,219.1 L556.4,219.5 L554.3,222.1 L552.7,224.9 L550.8,223.6 L549.0,223.2 L549.1,220.5ZM665.4,256.6 L668.5,257.5 L671.6,257.9 L670.9,261.2 L671.6,264.0 L668.9,263.9 L666.7,264.0 L665.5,261.1 L665.7,259.1ZM836.6,388.3 L838.7,387.7 L841.6,387.9 L843.2,387.1 L845.3,385.8 L846.1,387.7 L846.5,389.2 L847.7,392.0 L845.7,394.6 L843.7,395.4 L841.5,397.0 L840.5,395.5 L839.5,393.7 L838.5,392.5 L837.6,390.5Z"/></clipPath>
<clipPath id="legclipL"><rect x="46" y="126" width="948" height="1512"/></clipPath>
</defs>
<rect x="0" y="0" width="1211" height="1685" fill="#fff"/>
<rect x="22.4" y="12.3" width="1163.5" height="1646.8" fill="none" stroke="#222" stroke-width="1.15"/>
<rect x="46.4" y="26.3" width="1118" height="74.6" fill="#fff" stroke="#222" stroke-width="1.15"/>
<text x="605.5" y="57.5" font-size="25.1" font-weight="bold" text-anchor="middle" fill="#000">Acumulado diário das chuvas do dia</text>
<text x="605.5" y="86.5" font-size="25.1" font-weight="bold" text-anchor="middle" fill="#000">18 de fevereiro de 2026</text>
<text x="61.6" y="79.9" font-size="29" font-weight="bold" fill="#00008f" textLength="52" lengthAdjust="spacingAndGlyphs">Nu</text>
<text x="113.2" y="79.9" font-size="29" font-weight="bold" fill="#0f6ae2" textLength="45" lengthAdjust="spacingAndGlyphs">Ge</text>
<rect x="160" y="55.8" width="27.8" height="24" rx="8" ry="8" fill="#0f6ae2"/>
<path d="M163.5,61.5q3,-3.5 8,-3 l6,1.2 5.5,1.8 q1.6,1.2 0.6,3.2 l-3.2,5.5 -2.6,5.2 q-1,2.6 -2.2,3.4 q-1.4,-0.6 -1.8,-3.2 l-1.6,-4.4 -3.6,-3.2 q-2.6,-1.6 -3.6,-3.6 z" fill="#fff"/>
<path d="M155.4,53.1L154.4,47.8 156.1,42.5 160.7,37.9 167.3,34.6 173.9,33.5 179.2,34.3 174.6,37.2 171.3,40.6 173.9,42.5 169.9,45.2 167.3,49.1 163.3,51.1 160.7,54.4 164.7,53.8 167.3,55.1 159.4,56.8z" fill="#0f6ae2" stroke="#0f6ae2" stroke-width="0.6" stroke-linejoin="round"/>
<path d="M187.1,34.6L193.7,38.6 199,45.2 201.7,53.1 201.7,61 199.7,67.6 197,72.3 197.7,66.3 196.4,61 193.7,57.1 191.1,51.8 192.4,46.5 195,43.9 191.1,41.2 188.4,37.9z" fill="#0f6ae2" stroke="#0f6ae2" stroke-width="0.6" stroke-linejoin="round"/>
<path d="M177.9,35.9L185.8,34.6 187.1,38.6 181.8,40.6 176.5,39.2z" fill="#0f6ae2"/>
<text x="62.6" y="90.2" font-size="6.6" font-weight="bold" fill="#00008f" textLength="124.5" lengthAdjust="spacingAndGlyphs">NÚCLEO GEOAMBIENTAL - UEMA</text>
<g clip-path="url(#mapclip)">
<rect x="46" y="126" width="1119" height="1512" fill="#e4e6e5"/>
<path d="M1092.2,189.2L1090.0,184.2L1089.2,178.8M1092.2,189.2L1101.5,200.4L1112.2,210.2M1108.8,154.4L1101.5,159.1L1093.8,162.8M1108.8,154.4L1122.5,163.3L1133.9,175.2M1112.2,210.2L1112.5,210.2L1112.9,210.1M1089.2,178.8L1091.5,170.8L1093.8,162.8M1133.9,175.2L1127.0,186.9L1120.2,198.6L1112.9,210.1M1142.9,125.9L1150.0,139.4L1155.4,153.6L1158.9,168.5M1142.9,125.9L1126.1,127.9L1109.7,132.4M1109.7,132.4L1110.0,143.4L1108.8,154.4M1133.9,175.2L1146.6,172.7L1158.9,168.5M1094.9,1613.7L1102.9,1599.6L1109.3,1584.9L1112.4,1569.0M1124.1,1564.4L1117.8,1565.7L1112.4,1569.0M45.6,949.9L41.6,943.1L39.1,935.6M2.6,910.7L16.0,917.3L25.9,928.8L39.1,935.6M569.3,142.6L579.3,175.7L592.7,207.7L600.9,241.4M569.3,142.6L597.8,156.8L626.1,171.1L656.4,181.2M656.4,181.2L635.9,199.5L621.1,222.9L600.9,241.4M1112.2,210.2L1103.4,220.9L1093.1,230.0M1093.1,230.0L1095.6,246.0L1092.0,261.8M1112.9,210.1L1126.3,221.4L1142.8,227.2M1092.0,261.8L1107.6,259.2L1123.4,262.9L1139.0,260.8M1139.0,260.8L1143.8,252.2L1148.3,243.5M1148.3,243.5L1145.8,235.2L1142.8,227.2M1158.9,168.5L1176.2,174.1L1193.7,179.3M1142.8,227.2L1161.5,213.1L1177.3,195.9L1193.7,179.3M1002.0,391.9L1012.4,399.2L1021.6,408.0M1002.0,391.9L995.4,384.1L991.3,374.6M1011.4,357.0L1001.4,365.9L991.3,374.6M1011.4,357.0L1019.1,376.6L1035.1,391.4L1043.3,410.8M1043.3,410.8L1032.5,408.6L1021.6,408.0M1158.4,1423.8L1142.7,1434.3L1128.2,1446.4M1128.2,1446.4L1141.5,1458.2L1152.4,1471.8L1161.8,1486.8M1140.6,1503.0L1151.8,1495.7L1161.8,1486.8M1140.6,1503.0L1134.7,1511.7L1128.4,1520.1M1128.4,1520.1L1127.2,1534.2L1124.9,1548.2M1125.1,1549.1L1125.0,1548.6L1124.9,1548.2M45.6,949.9L56.7,959.5L61.2,973.9L71.0,984.5M135.5,1666.8L153.3,1645.5L170.2,1623.6L187.2,1601.7M234.0,1590.5L218.7,1595.5L202.2,1595.5L187.2,1601.7M1081.7,1652.1L1084.0,1637.8L1082.8,1623.4M1082.8,1623.4L1089.0,1618.6L1094.9,1613.7M234.0,1590.5L245.3,1569.3L259.6,1550.3L275.8,1532.7M275.8,1532.7L299.6,1559.9L321.7,1588.4L340.6,1619.3M733.7,1605.4L715.5,1621.1L698.7,1638.3L681.5,1655.1M733.7,1605.4L739.0,1604.4L744.4,1604.6M744.4,1604.6L753.5,1614.8L765.4,1621.7M97.4,789.1L93.6,780.9L89.0,773.1M97.4,789.1L107.3,775.1L115.3,760.1L120.8,743.8M120.8,743.8L107.1,746.5L93.8,751.1M89.0,773.1L91.6,762.1L93.8,751.1M122.7,742.1L104.8,734.7L85.6,734.2M122.7,742.1L121.9,743.1L120.8,743.8M93.8,751.1L90.3,742.3L85.6,734.2M723.5,336.7L740.8,327.9L754.7,314.5M723.5,336.7L737.5,347.1L751.4,357.8M775.8,325.6L765.9,318.8L754.7,314.5M775.8,325.6L775.2,332.6L772.9,339.3M751.4,357.8L761.8,348.2L772.9,339.3M723.5,336.7L720.7,337.5L717.7,337.9M716.3,377.9L716.2,357.8L717.7,337.9M716.3,377.9L728.6,380.1L741.2,380.4M751.4,357.8L747.8,369.8L741.2,380.4M716.3,377.9L707.5,383.1L698.1,387.2M729.5,433.2L721.3,416.3L707.3,403.4L698.1,387.2M729.5,433.2L733.1,417.1L745.9,404.9L748.6,388.4M741.2,380.4L744.8,384.5L748.6,388.4M554.2,958.3L567.8,947.6L584.9,944.3L599.8,936.5M554.2,958.3L546.5,944.2L541.5,929.2L539.0,913.4M599.8,936.5L603.2,920.3L604.1,903.9L604.4,887.4M534.1,889.9L536.9,901.6L539.0,913.4M534.1,889.9L548.4,884.4L562.7,879.0L576.8,872.9M576.8,872.9L590.7,880.0L604.4,887.4M543.6,1216.9L526.5,1201.3L515.8,1180.2L499.4,1163.9M543.6,1216.9L572.5,1197.8L598.4,1174.7L626.4,1154.3M626.4,1154.3L628.0,1147.2L630.1,1140.2M630.1,1140.2L613.9,1128.9L596.7,1119.4L580.2,1108.7M580.2,1108.7L561.4,1112.0L542.1,1111.1L523.6,1116.8M523.6,1116.8L512.7,1131.0L510.0,1149.5L499.4,1163.9M554.2,958.3L552.4,962.2L549.7,965.6M599.8,936.5L610.5,941.4L621.9,943.8M549.7,965.6L568.8,983.0L591.0,995.8L613.1,1008.6M613.1,1008.6L614.4,986.8L615.5,964.9L621.9,943.8M333.3,964.3L346.4,979.4L362.9,990.8M333.3,964.3L322.3,954.0L308.9,947.8L295.2,942.3M271.5,1015.6L271.6,1015.7L271.8,1015.7M271.5,1015.6L269.6,1001.3L262.8,988.6M262.8,988.6L273.7,973.3L287.2,959.7L295.2,942.3M271.8,1015.7L282.1,1015.5L292.3,1017.2M362.9,990.8L340.5,1002.8L314.9,1005.8L292.3,1017.2M333.3,964.3L352.8,959.6L372.1,954.0L390.4,945.5M390.4,945.5L386.8,962.2L379.2,977.3L371.4,992.3M362.9,990.8L367.1,991.7L371.4,992.3M436.7,970.7L420.6,962.1L408.0,949.2L395.0,936.9M436.7,970.7L421.2,990.6L404.2,1009.5L392.2,1032.0M390.4,945.5L393.0,941.4L395.0,936.9M371.4,992.3L379.1,1005.2L385.9,1018.4L392.2,1032.0M1002.0,391.9L999.2,410.5L996.6,429.1M1021.6,408.0L1010.8,423.2L1002.9,440.2M996.6,429.1L998.7,435.2L1002.9,440.2M927.1,444.6L929.7,448.5L930.7,453.0M927.1,444.6L942.6,449.3L958.4,449.7L974.4,448.6M984.8,460.9L978.6,455.6L974.4,448.6M984.8,460.9L979.0,470.4L971.5,478.7M930.7,453.0L945.3,460.0L959.1,468.2L971.5,478.7M1221.9,1183.3L1198.1,1204.5L1172.8,1223.7L1145.7,1240.4M1145.7,1240.4L1146.8,1254.5L1149.9,1268.3M1152.0,1166.7L1148.7,1154.9L1146.1,1143.0M1152.0,1166.7L1142.3,1172.3L1131.5,1174.8M1131.5,1174.8L1120.7,1163.7L1107.4,1155.9M1104.1,1108.4L1102.5,1124.4L1108.2,1139.9L1107.4,1155.9M1104.1,1108.4L1111.5,1112.3L1119.7,1114.3M1119.7,1114.3L1131.3,1130.1L1146.1,1143.0M1181.5,955.7L1177.2,957.0L1173.0,958.4M1173.0,958.4L1160.1,968.9L1144.7,974.9M1144.7,974.9L1142.1,984.1L1141.0,993.7M850.5,1048.8L856.7,1042.4L860.9,1034.5M850.5,1048.8L855.7,1066.0L863.1,1081.9L874.3,1096.0M860.9,1034.5L873.6,1042.1L883.9,1052.7M883.9,1052.7L877.7,1066.6L882.2,1082.3L876.5,1096.2M876.5,1096.2L875.4,1096.2L874.3,1096.0M858.7,947.7L860.0,954.0L861.4,960.1M858.7,947.7L870.3,937.1L880.7,925.3M880.7,925.3L891.5,933.3L902.4,941.1M886.5,976.4L877.0,971.5L866.5,969.8M886.5,976.4L891.9,976.5L897.3,975.5M897.3,975.5L902.2,958.7L902.4,941.1M861.4,960.1L863.6,965.1L866.5,969.8M722.3,977.7L717.3,976.1L712.3,974.3M722.3,977.7L728.5,962.6L741.8,952.8L750.1,939.3M712.3,974.3L711.6,957.2L701.7,942.4L700.1,925.5M750.1,939.3L734.5,927.8L715.7,922.8M715.7,922.8L708.1,925.6L700.1,925.5M1037.7,202.9L1048.1,200.9L1058.6,199.8M1037.7,202.9L1030.8,214.5L1025.9,227.1L1022.3,240.1M1022.3,240.1L1026.6,243.4L1031.1,246.4M1031.1,246.4L1042.2,236.0L1054.2,226.8L1067.6,219.5M1067.6,219.5L1062.0,210.5L1059.0,200.2M1059.0,200.2L1058.8,200.0L1058.6,199.8M1092.2,189.2L1076.6,197.8L1059.0,200.2M1093.1,230.0L1079.6,226.6L1067.6,219.5M1089.2,178.8L1073.8,176.1L1058.1,176.0M1058.1,176.0L1058.6,187.9L1058.6,199.8M1020.3,239.7L1021.4,239.7L1022.3,240.1M1020.3,239.7L1012.0,226.7L1007.7,211.4L997.0,199.8M997.0,199.8L1003.1,195.1L1009.2,190.4M1037.7,202.9L1033.9,199.5L1030.7,195.4M1030.7,195.4L1019.6,194.4L1009.2,190.4M1061.9,356.0L1068.3,344.2L1073.0,331.5L1081.1,320.8M1061.9,356.0L1048.1,354.6L1034.3,353.2L1021.7,346.8M1021.7,346.8L1030.4,330.8L1039.6,315.0L1045.4,297.6M1045.4,297.6L1057.8,289.4L1070.0,281.2M1081.1,320.8L1078.3,307.3L1072.2,294.8L1070.0,281.2M1092.0,261.8L1089.0,264.9L1087.3,268.8M1035.6,254.5L1033.0,250.6L1031.1,246.4M1035.6,254.5L1045.1,265.8L1061.0,268.6L1070.2,280.3M1087.3,268.8L1078.4,274.0L1070.2,280.3M1045.4,297.6L1027.7,292.6L1009.3,292.7M1009.3,292.7L1018.5,280.3L1024.9,265.9L1035.6,254.5M1070.0,281.2L1070.1,280.7L1070.2,280.3M1148.3,243.5L1150.2,244.1L1152.1,244.0M1145.1,278.4L1143.7,269.0L1139.0,260.8M1145.1,278.4L1167.8,278.3L1190.1,281.7L1212.5,284.4M1152.1,244.0L1170.8,259.6L1190.8,273.4L1212.5,284.4M1223.1,878.5L1204.2,895.8L1180.8,906.5L1160.0,921.0M1160.0,921.0L1168.8,931.5L1177.1,942.4L1181.5,955.7M1196.9,568.3L1178.1,580.1L1161.1,594.4L1143.1,607.4M919.7,432.8L924.0,438.3L927.1,444.6M919.7,432.8L927.8,422.9L933.9,411.5M974.4,448.6L966.6,436.1L959.7,423.2L954.8,409.3M933.9,411.5L944.3,409.6L954.8,409.3M991.3,374.6L989.9,375.0L988.5,375.0M996.6,429.1L985.8,419.2L971.3,415.2L959.8,406.5M988.5,375.0L976.4,383.2L968.3,395.0L959.8,406.5M984.8,460.9L994.8,457.1L1004.7,453.0M1002.9,440.2L1002.8,446.7L1004.7,453.0M959.8,406.5L957.4,408.0L954.8,409.3M1061.9,356.0L1075.5,370.7L1083.2,389.2M1011.4,357.0L1016.2,352.2L1020.4,346.9M1043.3,410.8L1051.8,412.0L1059.5,416.0M1021.7,346.8L1021.0,346.7L1020.4,346.9M1083.2,389.2L1078.9,394.0L1076.6,400.0M1059.5,416.0L1067.7,407.7L1076.6,400.0M1023.3,1577.4L1028.4,1563.2L1037.6,1551.3M1023.3,1577.4L1031.1,1591.3L1043.1,1601.7M1044.3,1600.9L1049.2,1582.6L1061.3,1567.0L1064.5,1548.1M1044.3,1600.9L1043.9,1601.2L1043.4,1601.6M1037.6,1551.3L1051.1,1551.5L1064.1,1547.7M1043.4,1601.6L1043.3,1601.6L1043.1,1601.7M1064.1,1547.7L1064.4,1547.9L1064.5,1548.1M1104.7,1568.4L1090.7,1562.8L1077.7,1555.4L1064.5,1548.1M1104.7,1568.4L1085.7,1581.4L1062.8,1587.0L1044.3,1600.9M1082.8,1623.4L1068.6,1618.2L1055.5,1610.7L1043.4,1601.6M1112.4,1569.0L1108.5,1569.2L1104.7,1568.4M1081.7,1652.1L1065.7,1642.2L1054.9,1626.1L1039.1,1616.1M1039.1,1616.1L1038.8,1612.2L1039.3,1608.5M1039.3,1608.5L1041.4,1605.1L1043.1,1601.7M1124.1,1564.4L1123.5,1556.7L1125.1,1549.1M1124.9,1548.2L1107.7,1532.8L1088.9,1519.6L1068.8,1508.0M1064.1,1547.7L1067.5,1534.1L1060.4,1520.6L1063.7,1507.0M1063.7,1507.0L1066.2,1507.7L1068.8,1508.0M1128.4,1520.1L1117.2,1509.0L1104.2,1500.0M1068.8,1508.0L1086.3,1502.9L1104.2,1500.0M292.3,1017.2L320.3,1030.0L350.0,1038.7L378.0,1051.5M378.0,1051.5L384.1,1047.3L389.9,1042.8M392.2,1032.0L392.2,1034.6L392.8,1037.2M392.8,1037.2L391.0,1039.8L389.9,1042.8M237.5,904.2L258.0,898.5L278.6,893.5L299.7,890.9M237.5,904.2L229.2,887.7L213.5,876.9L204.0,861.3M299.7,890.9L278.6,875.6L257.3,860.5L236.7,844.5M236.7,844.5L220.0,847.5L202.9,848.8M204.0,861.3L203.5,855.0L202.9,848.8M192.7,944.0L193.4,916.0L199.9,888.8L204.0,861.3M192.7,944.0L208.5,931.8L224.4,919.6L237.5,904.2M265.9,798.2L262.7,798.8L259.5,799.3M265.9,798.2L281.3,809.9L294.9,823.5L307.6,838.0M259.5,799.3L254.1,815.5L246.9,830.7L236.7,844.5M299.7,890.9L300.1,891.1L300.5,891.2M307.6,838.0L306.2,855.9L299.4,873.0L300.5,891.2M265.9,798.2L281.1,788.6L294.1,776.3M294.1,776.3L308.0,785.9L324.6,789.1L339.8,795.6M307.6,838.0L316.4,822.4L329.6,810.1L339.8,795.6M295.2,942.3L301.0,928.7L307.5,915.3L308.0,900.0M395.0,936.9L391.5,925.0L390.5,912.7M390.5,912.7L377.8,905.1L364.8,898.1L349.9,895.9M349.9,895.9L336.0,898.1L321.9,898.5L308.0,900.0M43.1,861.2L46.0,860.4L49.1,860.6M55.0,841.1L51.4,850.6L49.1,860.6M-7.0,783.5L19.4,789.6L42.6,804.5L68.6,811.9M68.4,817.8L68.8,814.8L68.6,811.9M68.4,817.8L60.2,828.6L55.0,841.1M2.6,910.7L18.0,908.1L32.1,901.5M32.1,901.5L32.4,887.1L42.3,875.4L43.1,861.2M95.3,890.2L87.9,865.5L80.7,840.7L68.4,817.8M95.3,890.2L81.6,877.6L64.4,870.6L49.1,860.6M32.1,901.5L53.7,903.7L75.0,897.8L96.6,899.6M95.3,890.2L97.1,893.3L99.9,895.6M96.6,899.6L98.4,897.7L99.9,895.6M39.1,935.6L58.3,929.7L75.5,919.6L93.5,911.1M96.6,899.6L94.9,905.3L93.5,911.1M71.0,984.5L78.2,981.5L85.8,980.0M93.5,911.1L88.5,933.8L88.2,957.0L85.8,980.0M141.0,814.7L129.8,842.5L112.8,867.4L101.5,895.1M141.0,814.7L127.3,808.8L113.0,804.8L99.4,799.0M99.4,799.0L83.2,803.7L68.6,811.9M101.5,895.1L100.7,895.4L99.9,895.6M141.0,814.7L152.5,812.2L163.7,808.2M163.7,808.2L173.9,820.6L185.5,831.8L195.2,844.6M195.2,844.6L177.6,866.2L157.8,885.7L139.9,907.0M101.5,895.1L115.0,896.7L127.9,900.6L139.9,907.0M94.6,1084.3L103.2,1072.4L115.3,1063.6L123.7,1051.6M94.6,1084.3L68.7,1091.5L41.4,1091.7L15.4,1098.6M123.7,1051.6L116.2,1039.8L114.3,1025.2L104.8,1014.5M104.8,1014.5L93.0,998.8L86.4,980.3M86.4,980.3L86.1,980.1L85.8,980.0M229.8,1058.6L245.5,1046.1L259.5,1031.8L271.5,1015.6M229.8,1058.6L229.7,1074.9L233.3,1090.8L232.6,1107.1M281.3,1037.4L278.4,1025.7L271.8,1015.7M281.3,1037.4L283.4,1053.5L279.5,1069.5L281.0,1085.6M232.6,1107.1L248.4,1099.2L263.5,1089.6L281.0,1085.6M353.9,1253.3L345.7,1255.2L337.4,1256.5M353.9,1253.3L364.1,1258.9L373.3,1265.9M373.3,1265.9L361.7,1272.8L354.4,1284.8L342.7,1291.7M337.4,1256.5L337.8,1274.5L342.7,1291.7M15.4,1098.6L37.8,1115.4L57.2,1135.2L74.6,1157.1M29.6,1234.6L45.5,1209.3L62.6,1184.7L74.6,1157.1M29.6,1234.6L35.8,1235.8L42.1,1236.5M42.1,1236.5L56.3,1240.5L69.1,1248.0M69.1,1248.0L67.2,1271.6L70.4,1294.9L73.1,1318.3M171.4,1055.6L177.1,1083.7L177.8,1112.2L176.5,1140.7M171.4,1055.6L190.9,1055.7L210.3,1057.9L229.8,1058.6M232.6,1107.1L229.6,1120.2L225.0,1133.1L225.0,1146.8M176.5,1140.7L192.6,1143.6L208.4,1148.4L225.0,1146.8M162.1,1284.9L177.6,1288.7L193.1,1292.8L208.0,1298.6M162.1,1284.9L170.7,1269.1L179.9,1253.5L184.5,1235.8M191.0,1235.2L187.7,1235.6L184.5,1235.8M191.0,1235.2L203.6,1241.0L213.6,1250.8M208.0,1298.6L208.9,1282.5L209.4,1266.4L213.6,1250.8M173.1,1394.5L185.9,1398.1L199.3,1397.7M173.1,1394.5L151.0,1374.7L130.7,1353.2L109.9,1332.1M109.9,1332.1L119.3,1319.0L124.1,1302.9L135.8,1291.1M199.3,1397.7L204.7,1394.4L210.8,1393.0M210.8,1393.0L191.8,1358.4L170.7,1324.9L153.3,1289.4M153.3,1289.4L144.6,1291.7L135.8,1291.1M69.1,1248.0L88.4,1247.0L107.2,1242.4M107.2,1242.4L115.1,1259.6L125.5,1275.3L135.8,1291.1M73.1,1318.3L89.6,1323.3L104.1,1332.7M104.1,1332.7L107.0,1332.8L109.9,1332.1M162.1,1284.9L157.2,1286.3L153.3,1289.4M235.4,1387.2L223.6,1392.0L210.8,1393.0M235.4,1387.2L240.1,1374.4L238.7,1360.0L245.4,1347.7M245.4,1347.7L230.5,1333.2L219.4,1315.8L208.0,1298.6M651.2,1234.6L636.1,1248.9L627.2,1267.8L614.8,1284.1M651.2,1234.6L643.2,1207.7L637.6,1180.2L626.4,1154.3M543.6,1216.9L540.5,1224.5L536.7,1231.8M614.8,1284.1L589.8,1281.9L564.7,1279.6L540.4,1272.5M536.7,1231.8L540.0,1245.2L538.3,1259.0L540.4,1272.5M440.6,1253.6L432.7,1240.4L423.2,1228.7L410.2,1220.2M440.6,1253.6L428.0,1265.7L412.3,1273.7L399.3,1285.4M392.7,1272.9L396.4,1278.9L399.3,1285.4M392.7,1272.9L394.8,1254.4L392.0,1235.5L397.5,1217.4M397.5,1217.4L403.6,1219.8L410.2,1220.2M454.0,1255.2L462.6,1243.4L468.5,1230.1M454.0,1255.2L447.4,1253.7L440.6,1253.6M468.5,1230.1L456.6,1218.1L443.5,1207.5M443.5,1207.5L427.1,1214.6L410.2,1220.2M353.9,1253.3L366.6,1238.7L374.8,1221.2L385.1,1205.2M373.3,1265.9L382.8,1270.0L392.7,1272.9M385.1,1205.2L391.8,1210.7L397.5,1217.4M41.2,460.4L57.5,484.6L67.9,512.1L83.6,536.7M83.6,536.7L80.7,541.5L77.3,545.8M77.3,545.8L52.0,552.8L26.0,554.2L0.1,556.0M41.2,460.4L54.8,456.8L68.6,454.0M83.6,536.7L105.8,528.7L128.6,522.7L152.2,519.9M68.6,454.0L79.9,463.1L93.1,468.9L105.1,476.8M105.1,476.8L120.8,491.2L135.3,506.8L152.2,519.9M67.7,380.2L57.7,366.6L52.9,350.4M205.4,195.3L205.6,209.4L206.0,223.5M205.4,195.3L224.9,190.0L241.2,178.1M206.0,223.5L208.9,227.0L211.2,230.9M247.9,177.6L244.5,177.6L241.2,178.1M247.9,177.6L255.7,185.2L261.4,194.5M261.4,194.5L245.2,207.4L228.1,219.1L211.2,230.9M449.7,183.5L480.2,154.6L512.2,127.6L545.5,102.1M449.7,183.5L446.6,183.2L443.7,182.5M418.3,150.8L426.9,161.2L435.9,171.4L443.7,182.5M418.3,150.8L411.2,147.1L404.1,143.5M443.7,182.5L422.0,199.9L397.9,213.8L375.3,229.8M375.3,229.8L381.5,203.5L383.3,176.6L387.6,150.0M404.1,143.5L396.0,147.2L387.6,150.0M94.9,224.6L83.8,233.5L75.8,245.1L67.3,256.3M46.2,73.6L65.0,123.1L85.2,172.1L102.5,222.2M102.5,222.2L98.5,222.7L94.9,224.6M57.9,310.2L60.4,293.6L72.0,280.2L74.2,263.5M74.2,263.5L70.5,260.2L67.3,256.3M141.7,202.5L156.4,213.1L175.5,214.4L190.0,225.3M141.7,202.5L136.1,210.2L131.7,218.6M163.6,241.1L176.7,233.1L190.0,225.3M163.6,241.1L160.1,240.9L156.6,240.9M131.7,218.6L146.0,227.8L156.6,240.9M46.2,73.6L75.4,109.7L104.0,146.4L131.6,183.9M131.6,183.9L136.8,192.0L142.4,199.9M102.5,222.2L109.2,224.9L116.2,226.5M142.4,199.9L141.8,201.1L141.7,202.5M131.7,218.6L124.3,223.2L116.2,226.5M144.2,198.6L155.9,187.7L169.9,180.9L184.7,175.3M144.2,198.6L149.4,185.4L148.5,171.3L150.1,157.5M184.7,175.3L184.8,166.5L183.8,157.7M183.8,157.7L179.5,143.2L170.5,131.7L160.8,120.5M150.1,157.5L156.1,139.2L160.8,120.5M142.4,199.9L143.4,199.3L144.2,198.6M205.4,195.3L193.8,186.6L184.7,175.3M206.0,223.5L197.9,223.4L190.0,225.3M131.6,183.9L139.2,169.5L150.1,157.5M215.9,147.7L226.3,164.8L241.2,178.1M215.9,147.7L199.2,150.5L183.8,157.7M-7.0,783.5L6.9,775.7L19.4,765.4L33.9,758.7M97.4,789.1L99.1,793.9L99.4,799.0M89.0,773.1L87.5,772.1L86.0,771.0M33.9,758.7L51.8,760.6L68.9,765.9L86.0,771.0M80.2,728.4L83.3,730.9L85.6,734.2M80.2,728.4L77.3,729.0L74.4,728.6M86.0,771.0L81.1,757.8L74.1,745.8L65.2,735.0M74.4,728.6L69.6,731.6L65.2,735.0M33.9,758.7L44.7,748.9L54.5,738.1M23.9,669.2L31.8,693.2L43.6,715.5L54.5,738.1M54.5,738.1L59.9,736.8L65.2,735.0M424.3,611.7L436.6,625.5L443.6,642.6M424.3,611.7L412.9,618.3L400.0,621.0M400.0,621.0L389.3,632.3L380.4,645.1M380.4,645.1L394.0,654.2L408.9,661.3L421.8,671.6M421.8,671.6L422.5,671.0L423.1,670.2M443.6,642.6L433.6,656.6L423.1,670.2M534.1,889.9L532.7,888.5L531.1,887.1M576.8,872.9L575.4,844.4L566.3,817.2L561.7,789.2M561.7,789.2L546.7,793.6L533.8,802.3M531.1,887.1L532.0,858.8L534.2,830.6L533.8,802.3M443.6,642.6L456.6,645.5L469.8,645.9M423.1,670.2L446.7,673.5L470.2,676.8L493.8,679.7M469.8,645.9L485.8,654.7L503.5,658.7M503.5,658.7L502.7,662.2L502.6,665.7M502.6,665.7L497.9,672.6L493.8,679.7M289.9,741.9L305.2,744.9L320.9,742.6L336.2,745.8M289.9,741.9L289.8,741.8L289.7,741.7M289.7,741.7L302.0,729.2L310.8,714.0M336.2,745.8L329.0,734.1L321.8,722.5L310.8,714.0M754.7,314.5L754.5,314.2L754.4,313.9M700.5,312.6L714.5,307.9L729.3,306.8M700.5,312.6L701.3,319.5L700.7,326.3M717.7,337.9L710.2,330.6L700.7,326.3M754.4,313.9L742.4,308.4L729.3,306.8M774.1,396.9L779.6,395.2L785.3,394.4M774.1,396.9L760.7,394.8L748.6,388.4M772.9,339.3L780.1,351.4L782.4,365.9L790.7,377.5M785.3,394.4L789.1,386.3L790.7,377.5M775.8,325.6L784.8,322.0L793.4,317.5M793.4,317.5L798.1,334.7L807.2,349.7L816.9,364.4M790.7,377.5L802.6,368.5L816.9,364.4M839.8,321.6L839.3,335.3L831.3,347.4L830.8,361.2M839.8,321.6L825.8,310.8L809.8,303.1M809.8,303.1L800.6,309.1L793.4,317.5M830.8,361.2L829.0,363.1L827.3,365.1M816.9,364.4L822.0,365.6L827.3,365.1M729.5,433.2L730.5,436.1L730.3,439.2M698.1,387.2L693.5,387.5L688.9,387.5M656.4,410.5L670.6,396.1L688.9,387.5M656.4,410.5L652.6,416.2L651.1,422.8M651.1,422.8L664.6,435.9L681.2,444.8M730.3,439.2L713.8,439.8L697.5,442.5L681.2,444.8M774.1,396.9L768.9,410.0L764.0,423.1M764.0,423.1L750.5,434.1L737.8,445.9M730.3,439.2L734.3,442.2L737.8,445.9M764.0,423.1L773.4,428.2L780.9,435.9M780.9,435.9L769.1,449.4L759.7,464.5L752.3,481.0M737.8,445.9L746.6,462.8L752.3,481.0M758.9,938.5L754.5,939.0L750.1,939.3M758.9,938.5L755.1,923.3L754.7,907.4L749.5,892.4M715.7,922.8L725.9,911.7L738.7,903.6L748.8,892.4M749.5,892.4L749.2,892.5L748.8,892.4M605.3,886.7L613.0,868.3L615.4,848.8L618.5,829.4M605.3,886.7L628.9,882.5L652.9,880.3L676.7,877.1M618.5,829.4L634.9,838.8L652.3,846.0L669.5,853.7M669.5,853.7L676.0,858.8L680.9,865.5M676.7,877.1L678.0,871.0L680.9,865.5M680.9,914.1L691.4,918.3L700.1,925.5M680.9,914.1L679.7,895.5L676.7,877.1M700.0,855.2L689.4,858.5L680.9,865.5M700.0,855.2L701.1,855.1L702.3,855.3M702.3,855.3L716.0,869.9L731.9,881.7L748.8,892.4M458.1,1147.3L468.0,1130.1L480.9,1115.0L492.6,1099.1M458.1,1147.3L444.2,1145.7L433.5,1135.6L419.9,1133.2M427.7,1117.0L423.9,1125.1L419.9,1133.2M427.7,1117.0L449.8,1113.3L470.3,1103.9L491.8,1098.2M491.8,1098.2L492.2,1098.7L492.6,1099.1M379.1,1111.9L377.3,1095.1L377.0,1078.2L372.5,1061.9M379.1,1111.9L388.4,1121.6L397.6,1131.3L408.0,1139.8M408.0,1139.8L413.9,1136.3L419.9,1133.2M372.5,1061.9L374.6,1056.4L378.0,1051.5M427.9,1087.9L413.6,1074.2L404.5,1056.2L389.9,1042.8M427.9,1087.9L430.5,1102.5L427.7,1117.0M427.9,1087.9L446.0,1082.2L462.1,1072.4L479.0,1064.2M479.0,1064.2L486.4,1080.9L491.8,1098.2M546.4,968.6L557.6,993.2L568.8,1017.8L578.9,1042.9M546.4,968.6L548.2,967.2L549.7,965.6M578.9,1042.9L592.8,1035.4L606.4,1027.6L617.2,1015.9M613.1,1008.6L614.9,1010.5L616.6,1012.4M617.2,1015.9L617.0,1014.1L616.6,1012.4M919.7,432.8L906.0,437.8L891.6,439.4M891.6,439.4L890.0,444.2L889.1,449.2M930.7,453.0L930.3,468.3L924.4,482.4M924.4,482.4L909.5,476.1L893.4,473.9M893.4,473.9L893.2,461.2L889.1,449.2M924.4,482.4L925.9,486.8L927.2,491.2M971.5,478.7L971.5,481.9L970.6,485.0M927.2,491.2L934.9,494.4L941.7,499.4M941.7,499.4L956.4,492.7L970.6,485.0M927.2,491.2L920.0,497.3L911.1,500.4M941.7,499.4L941.7,513.4L942.7,527.5L937.2,541.0M911.1,500.4L922.7,512.0L931.2,525.7L937.2,541.0M990.6,512.7L993.8,530.6L1002.6,546.6M990.6,512.7L989.2,511.6L987.7,510.8M1002.6,546.6L997.2,552.4L991.6,558.0M991.6,558.0L975.0,555.1L958.1,554.6M958.1,554.6L946.1,551.9L935.5,545.7M987.7,510.8L970.0,519.4L955.1,532.7L937.2,541.0M935.5,545.7L936.6,543.4L937.2,541.0M987.7,510.8L978.5,498.3L970.6,485.0M937.2,541.0L937.3,541.0L937.2,541.0M812.1,598.7L801.4,582.8L793.8,565.6L789.5,546.9M812.1,598.7L813.5,599.2L815.0,599.3M789.5,546.9L790.1,545.9L790.5,544.8M815.0,599.3L826.8,585.6L840.3,573.5M840.3,573.5L838.0,568.8L837.1,563.6M837.1,563.6L821.7,557.1L806.0,551.0L790.5,544.8M868.7,1141.7L857.8,1147.0L846.5,1151.6M868.7,1141.7L856.9,1132.4L843.1,1126.4M843.1,1126.4L846.8,1138.7L846.5,1151.6M838.2,1107.6L841.1,1116.9L843.1,1126.4M838.2,1107.6L836.0,1107.1L833.8,1106.8M833.8,1106.8L826.0,1122.8L818.9,1139.1L810.6,1154.9M845.9,1159.8L846.4,1155.7L846.5,1151.6M845.9,1159.8L841.6,1163.5L836.6,1166.1M836.6,1166.1L823.6,1160.5L810.6,1154.9M772.5,1174.5L790.0,1184.3L803.2,1199.5M772.5,1174.5L785.5,1164.2L800.0,1156.3M800.0,1156.3L800.9,1156.5L801.6,1157.0M801.6,1157.0L803.8,1171.1L806.3,1185.2L803.2,1199.5M772.5,1174.5L754.9,1171.3L737.4,1174.9M800.0,1156.3L793.8,1143.5L779.4,1137.5L773.3,1124.6M737.4,1174.9L734.6,1171.9L732.7,1168.2M732.7,1168.2L748.8,1156.0L762.4,1141.6L773.3,1124.6M833.8,1106.8L830.6,1104.2L826.7,1102.9M826.7,1102.9L812.9,1100.6L799.8,1105.8L786.4,1107.6M786.4,1107.6L778.4,1114.3L773.5,1123.6M801.6,1157.0L806.3,1156.8L810.6,1154.9M773.3,1124.6L773.4,1124.1L773.5,1123.6M1152.0,1166.7L1175.3,1172.2L1198.6,1177.7L1221.9,1183.3M1145.7,1240.4L1138.8,1234.3L1130.2,1230.9M1131.5,1174.8L1125.7,1181.5L1120.6,1188.8M1130.2,1230.9L1125.7,1217.2L1126.0,1202.3L1120.6,1188.8M1145.1,1344.2L1145.6,1348.6L1145.6,1353.0M1145.1,1344.2L1157.8,1334.8L1168.4,1323.0L1181.5,1314.1M1145.6,1353.0L1155.0,1360.5L1164.1,1368.4M1164.5,1368.5L1164.3,1368.4L1164.1,1368.4M1139.2,1286.3L1126.6,1294.8L1112.0,1298.8M1139.2,1286.3L1152.5,1296.8L1165.9,1307.1L1181.5,1314.1M1112.0,1298.8L1125.9,1311.8L1135.9,1327.7L1145.1,1344.2M1131.7,1396.5L1122.0,1383.5L1111.2,1371.4M1131.7,1396.5L1132.9,1396.7L1134.1,1397.0M1111.2,1371.4L1126.8,1359.2L1145.6,1353.0M1134.1,1397.0L1143.0,1386.3L1152.5,1376.2L1164.1,1368.4M1149.9,1268.3L1142.9,1276.3L1139.2,1286.3M1153.8,1415.4L1159.5,1400.2L1157.7,1383.4L1164.5,1368.5M1153.8,1415.4L1143.8,1406.3L1134.1,1397.0M1158.4,1423.8L1156.7,1419.2L1153.8,1415.4M1077.8,1322.3L1072.4,1348.7L1067.2,1375.2L1059.1,1401.0M1077.8,1322.3L1088.7,1337.4L1096.7,1354.1L1105.0,1370.7M1105.0,1370.7L1092.5,1382.5L1081.1,1395.1L1073.7,1410.8M1073.7,1410.8L1068.7,1409.3L1063.4,1409.7M1063.4,1409.7L1061.9,1405.0L1059.1,1401.0M733.7,1605.4L726.4,1591.2L727.5,1575.0L722.6,1560.3M722.6,1560.3L739.1,1559.9L755.1,1554.0L771.8,1555.3M744.4,1604.6L752.5,1591.4L765.7,1583.3L776.5,1572.9M771.8,1555.3L772.9,1556.6L773.7,1558.1M776.5,1572.9L776.2,1565.3L773.7,1558.1M1082.1,1135.2L1092.1,1146.0L1103.6,1155.2M1082.1,1135.2L1076.0,1139.3L1069.6,1142.9M1103.6,1155.2L1088.2,1156.4L1074.7,1165.9L1059.0,1165.7M1069.6,1142.9L1063.9,1151.7L1058.5,1160.7M1059.0,1165.7L1058.5,1163.2L1058.5,1160.7M1104.1,1108.4L1100.4,1105.7L1097.2,1102.5M1107.4,1155.9L1105.5,1155.5L1103.6,1155.2M1096.9,1102.4L1088.4,1118.3L1082.1,1135.2M1096.9,1102.4L1097.1,1102.5L1097.2,1102.5M1070.1,1086.6L1083.5,1094.5L1096.9,1102.4M1070.1,1086.6L1060.0,1088.3L1049.7,1087.7M1049.7,1087.7L1053.2,1107.2L1060.4,1125.4L1069.6,1142.9M1070.1,1086.6L1082.2,1070.9L1089.6,1052.4M1089.6,1052.4L1101.7,1056.7L1113.8,1060.8M1097.2,1102.5L1106.2,1090.0L1119.1,1081.8M1119.1,1081.8L1117.5,1071.0L1113.8,1060.8M937.5,918.7L932.1,923.9L925.4,927.3M937.5,918.7L941.2,919.4L944.8,920.1M944.8,920.1L945.1,938.0L941.5,955.6M925.4,927.3L922.2,931.5L919.7,936.2M919.7,936.2L925.2,944.5L930.3,953.1M941.5,955.6L936.1,953.4L930.3,953.1M958.2,920.3L961.9,939.5L971.3,956.7M958.2,920.3L951.5,920.7L944.8,920.1M948.9,959.7L959.9,957.2L971.3,956.7M948.9,959.7L945.3,957.3L941.5,955.6M1042.1,1086.8L1036.3,1090.3L1031.8,1095.5M1042.1,1086.8L1045.8,1087.9L1049.7,1087.7M1058.5,1160.7L1048.0,1148.1L1036.0,1136.6L1026.8,1123.0M1031.8,1095.5L1030.8,1109.5L1026.8,1123.0M977.7,1074.0L987.1,1084.2L998.5,1092.2M977.7,1074.0L985.6,1062.2L995.1,1051.5M995.1,1051.5L1009.0,1064.2L1023.7,1075.6L1041.1,1083.0M1041.1,1083.0L1041.5,1084.9L1042.1,1086.8M1031.8,1095.5L1015.2,1093.6L998.5,1092.2M1089.6,1052.4L1093.5,1035.6L1091.5,1018.6M1126.9,1020.6L1128.1,1033.2L1131.4,1045.3M1126.9,1020.6L1124.7,1017.0L1122.1,1013.6M1122.1,1013.6L1112.0,1012.5L1101.8,1012.3M1131.4,1045.3L1122.5,1052.9L1113.8,1060.8M1101.8,1012.3L1096.9,1015.8L1091.5,1018.6M1041.1,1083.0L1036.5,1069.7L1039.9,1055.7L1037.6,1042.2M1037.6,1042.2L1051.6,1031.0L1068.5,1025.5L1084.3,1017.9M1091.5,1018.6L1087.9,1018.4L1084.3,1017.9M1026.3,1019.4L1040.1,1016.0L1052.7,1009.7L1065.0,1002.8M1026.3,1019.4L1036.4,1007.5L1042.0,993.0L1048.8,979.2M1065.0,1002.8L1056.9,991.0L1048.8,979.2M753.7,970.3L762.8,985.8L768.8,1002.8M753.7,970.3L762.4,962.9L772.3,957.0M768.8,1002.8L773.7,985.1L779.9,967.8M779.9,967.8L776.1,962.3L772.3,957.0M758.9,938.5L764.7,940.5L770.4,942.7M724.3,979.3L738.4,973.0L753.7,970.3M724.3,979.3L723.2,978.6L722.3,977.7M772.3,957.0L772.3,949.7L770.4,942.7M838.2,1107.6L856.5,1102.6L874.3,1096.0M826.7,1102.9L821.8,1088.6L820.0,1073.9L819.1,1059.0M850.5,1048.8L836.8,1051.5L822.9,1052.3M822.9,1052.3L821.5,1056.0L819.1,1059.0M856.6,1015.5L859.5,1018.5L862.8,1021.0M856.6,1015.5L859.6,1000.7L861.9,985.9L865.4,971.3M886.5,976.4L879.9,989.3L876.5,1003.2L873.2,1017.2M865.4,971.3L866.0,970.5L866.5,969.8M873.2,1017.2L867.7,1018.4L862.8,1021.0M860.9,1034.5L861.5,1032.4L861.8,1030.3M883.9,1052.7L890.9,1046.8L899.4,1043.3M861.8,1030.3L879.7,1039.5L899.4,1043.3M822.9,963.5L837.9,955.9L849.3,943.5M822.9,963.5L821.5,949.0L816.6,935.2M816.6,935.2L828.9,933.6L841.1,936.0M849.3,943.5L845.8,939.2L841.1,936.0M842.5,911.9L827.3,910.9L812.4,913.5L797.3,913.4M842.5,911.9L840.9,923.9L841.1,936.0M797.3,913.4L796.9,917.5L796.6,921.6M796.6,921.6L800.1,926.0L804.5,929.3M804.5,929.3L810.4,932.7L816.6,935.2M858.7,947.7L854.2,945.2L849.3,943.5M853.2,895.9L866.8,897.2L880.4,896.0M853.2,895.9L848.0,904.0L842.5,911.9M880.7,925.3L877.8,910.7L880.4,896.0M856.6,1015.5L851.1,1013.3L845.5,1011.5M822.9,1052.3L819.3,1041.3L815.9,1030.3M861.8,1030.3L862.5,1025.7L862.8,1021.0M845.5,1011.5L829.7,1019.4L815.9,1030.3M861.4,960.1L843.2,965.2L825.9,972.7M822.9,963.5L822.2,966.8L820.8,969.9M820.8,969.9L823.5,971.1L825.9,972.7M651.2,1234.6L653.7,1235.4L655.9,1237.0M630.1,1140.2L636.5,1137.7L641.8,1133.4M691.7,1153.6L674.0,1149.6L657.3,1143.0L641.8,1133.4M691.7,1153.6L695.8,1182.5L706.0,1209.6L714.8,1237.2M655.9,1237.0L675.5,1238.8L695.1,1241.1L714.8,1237.2M737.4,1174.9L738.7,1177.7L738.9,1180.8M732.7,1168.2L719.2,1162.9L705.0,1159.6L691.7,1153.6M714.8,1237.2L721.5,1238.6L728.4,1238.3M728.4,1238.3L736.7,1233.3L746.1,1231.1M738.9,1180.8L744.1,1197.1L742.1,1214.5L746.1,1231.1M1020.3,239.7L1011.2,241.5L1003.3,246.2M997.0,199.8L985.6,197.2L973.8,197.0M967.5,211.5L970.1,204.0L973.8,197.0M967.5,211.5L979.9,226.1L991.5,241.2M1003.3,246.2L997.2,244.1L991.5,241.2M1009.2,190.4L1010.7,184.1L1012.2,177.7M970.0,189.9L972.0,193.4L973.8,197.0M970.0,189.9L971.8,174.9L970.9,159.9M970.9,159.9L974.9,156.5L978.0,152.2M1012.2,177.7L1000.3,169.8L989.7,160.2L978.0,152.2M1111.0,824.0L1126.0,833.7L1144.0,836.1L1159.6,844.4M1111.0,824.0L1110.7,821.7L1109.6,819.5M1109.6,819.5L1113.2,814.8L1117.8,811.1M1117.8,811.1L1134.2,809.1L1150.7,809.3M1150.7,809.3L1159.6,821.2L1171.9,829.5L1182.2,839.9M1182.2,839.9L1171.0,842.4L1159.6,844.4M1137.7,774.7L1124.8,763.8L1111.7,753.3M1137.7,774.7L1133.4,788.1L1124.7,799.1L1117.8,811.1M1111.7,753.3L1103.3,770.9L1095.7,789.0L1082.8,804.1M1082.8,804.1L1096.0,812.3L1109.6,819.5M1170.8,769.1L1154.0,770.7L1137.7,774.7M1170.8,769.1L1166.9,783.9L1160.5,797.5L1150.7,809.3M1170.8,769.1L1174.7,767.1L1179.0,766.2M1183.9,765.2L1181.5,766.0L1179.0,766.2M933.9,411.5L929.0,403.5L925.7,394.7M988.5,375.0L977.6,366.1L966.0,358.0M966.0,358.0L954.7,359.8L943.2,360.5M925.7,394.7L932.7,376.7L943.2,360.5M925.9,344.0L917.2,341.7L908.5,339.7M925.9,344.0L933.7,353.1L943.2,360.5M925.7,394.7L913.0,382.6L898.4,372.9M908.5,339.7L901.4,355.7L898.4,372.9M1020.4,346.9L1011.5,331.7L1000.6,318.0L991.2,303.1M1009.3,292.7L1000.0,297.4L991.2,302.8M991.2,303.1L991.2,303.0L991.2,302.8M1003.3,246.2L993.4,256.6L991.6,271.9L980.9,281.8M991.2,302.8L987.1,291.8L980.9,281.8M1153.6,327.2L1154.6,317.5L1157.7,308.3M1153.6,327.2L1139.8,329.7L1127.0,335.3M1127.0,335.3L1124.1,329.2L1119.9,323.9M1119.9,323.9L1125.7,313.7L1127.7,302.1M1157.7,308.3L1148.8,300.9L1138.9,294.8M1138.9,294.8L1133.4,298.6L1127.7,302.1M1220.7,365.1L1197.8,353.4L1175.1,341.4L1153.6,327.2M1220.7,365.1L1201.1,367.5L1183.3,375.9M1129.5,376.2L1147.4,375.0L1165.3,375.8L1183.3,375.9M1129.5,376.2L1128.2,362.6L1126.0,349.0L1127.0,335.3M1081.1,320.8L1100.4,323.4L1119.9,323.9M1087.3,268.8L1098.6,282.5L1113.7,291.6L1127.7,302.1M1145.1,278.4L1142.2,286.7L1138.9,294.8M1083.2,389.2L1098.7,385.2L1114.6,386.9M1076.6,400.0L1084.7,418.2L1096.0,434.6M1096.0,434.6L1104.7,444.8L1113.7,454.8M1113.7,454.8L1119.6,443.6L1126.3,433.0M1114.6,386.9L1120.7,401.7L1121.3,417.9L1126.3,433.0M1129.5,376.2L1122.9,379.6L1118.1,385.1M1114.6,386.9L1116.2,385.7L1118.1,385.1M1165.5,415.9L1159.3,419.0L1154.3,423.9M1165.5,415.9L1175.3,428.0L1182.5,441.9M1182.5,441.9L1171.0,443.0L1159.6,441.0M1159.6,441.0L1156.8,433.2L1153.9,425.5M1153.9,425.5L1153.9,424.7L1154.3,423.9M1183.3,375.9L1180.6,390.6L1169.1,401.5L1165.5,415.9M1118.1,385.1L1128.1,399.9L1143.8,409.4L1154.3,423.9M1148.8,462.1L1150.0,455.6L1151.5,449.1M1148.8,462.1L1165.8,476.5L1183.8,489.7L1199.9,505.2M1151.5,449.1L1154.9,444.5L1159.6,441.0M1151.5,449.1L1140.1,443.0L1130.9,433.9M1130.9,433.9L1142.8,430.8L1153.9,425.5M1126.3,433.0L1128.7,433.1L1130.9,433.9M822.3,1685.8L825.1,1665.8L834.2,1647.8L840.9,1629.0M822.3,1685.8L811.2,1664.6L798.8,1644.2L785.1,1624.5M785.1,1624.5L786.0,1618.1L787.4,1611.7M787.4,1611.7L804.7,1606.3L822.2,1601.7M822.2,1601.7L832.8,1614.5L840.9,1629.0M872.6,1598.5L871.3,1599.0L870.1,1599.7M872.6,1598.5L877.3,1598.2L881.9,1597.3M870.1,1599.7L862.5,1611.6L852.5,1621.1L840.9,1629.0M765.4,1621.7L775.4,1622.0L785.1,1624.5M776.5,1572.9L780.5,1578.0L784.9,1582.8M784.9,1582.8L787.2,1597.2L787.4,1611.7M784.9,1582.8L801.6,1583.8L818.1,1586.1M818.1,1586.1L820.1,1593.9L822.2,1601.7M997.5,1619.4L986.2,1634.0L975.4,1649.1L960.0,1660.0M997.5,1619.4L996.1,1603.9L995.3,1588.3L996.3,1572.7M960.0,1660.0L955.4,1641.3L947.7,1623.3L946.1,1603.8M946.1,1603.8L958.6,1590.9L968.6,1575.5L983.4,1564.9M996.3,1572.7L989.6,1569.3L983.4,1564.9M1039.3,1608.5L1025.7,1613.3L1011.7,1616.5L997.5,1619.4M1023.3,1577.4L1009.9,1574.4L996.3,1572.7M881.9,1597.3L896.0,1590.2L907.3,1579.0M907.3,1579.0L919.9,1587.8L933.1,1595.8L946.1,1603.8M1050.3,1492.0L1068.2,1486.8L1084.1,1476.1L1102.5,1472.1M1050.3,1492.0L1048.6,1491.1L1047.0,1490.2M1047.0,1490.2L1047.1,1489.0L1046.9,1487.7M1046.9,1487.7L1063.5,1469.1L1079.6,1450.1L1097.4,1432.7M1111.8,1445.4L1108.5,1456.3L1105.9,1467.3M1111.8,1445.4L1105.7,1440.2L1100.4,1434.1M1105.9,1467.3L1104.0,1469.5L1102.5,1472.1M1100.4,1434.1L1098.9,1433.5L1097.4,1432.7M1063.7,1507.0L1056.7,1499.8L1050.3,1492.0M1104.2,1500.0L1105.9,1485.9L1102.5,1472.1M1037.6,1551.3L1027.7,1536.3L1018.3,1520.8M1018.3,1520.8L1029.5,1506.9L1041.2,1493.3M1041.2,1493.3L1044.1,1491.8L1047.0,1490.2M1030.4,1433.5L1039.5,1422.9L1051.1,1415.9L1063.4,1409.7M1030.4,1433.5L1035.8,1451.7L1044.8,1468.6L1046.9,1487.7M1073.7,1410.8L1084.7,1422.7L1097.4,1432.7M1140.6,1503.0L1131.8,1488.4L1117.9,1478.8L1105.9,1467.3M1128.2,1446.4L1120.1,1444.8L1111.8,1445.4M1131.7,1396.5L1119.6,1407.7L1110.5,1421.4L1100.4,1434.1M1111.2,1371.4L1108.0,1371.6L1105.0,1370.7M980.1,1548.3L956.0,1547.1L932.0,1543.1L907.7,1544.2M980.1,1548.3L982.5,1539.2L985.6,1530.3M985.6,1530.3L980.8,1518.1L972.4,1508.1M972.4,1508.1L948.6,1514.8L926.0,1525.2L902.0,1531.0M902.0,1531.0L905.2,1537.5L907.7,1544.2M907.3,1579.0L906.1,1561.6L907.7,1544.2M983.4,1564.9L982.7,1556.4L980.1,1548.3M1018.3,1520.8L1001.9,1525.5L985.6,1530.3M1041.2,1493.3L1025.0,1492.2L1011.1,1483.3L995.8,1479.2M972.4,1508.1L972.5,1500.7L970.3,1493.6M995.8,1479.2L983.8,1487.6L970.3,1493.6M379.1,1111.9L363.0,1118.9L345.7,1122.4M408.0,1139.8L405.0,1149.9L400.3,1159.3M345.7,1122.4L345.6,1124.0L345.9,1125.6M400.3,1159.3L387.2,1172.1L376.4,1186.8M345.9,1125.6L358.0,1145.0L366.5,1166.3L376.4,1186.8M341.8,1120.3L331.5,1122.2L321.1,1123.7M341.8,1120.3L340.2,1107.0L334.3,1094.5L334.4,1080.8M321.1,1123.7L316.0,1111.3L308.6,1100.0M308.6,1100.0L316.1,1089.5L325.3,1080.4M325.3,1080.4L329.9,1080.4L334.4,1080.8M372.5,1061.9L361.3,1071.3L348.0,1076.3L334.4,1080.8M345.7,1122.4L343.9,1121.2L341.8,1120.3M281.3,1037.4L295.8,1051.8L313.2,1063.4L325.3,1080.4M281.0,1085.6L284.5,1094.6L290.3,1102.3M290.3,1102.3L299.5,1101.7L308.6,1100.0M396.2,1037.0L424.4,1037.6L452.5,1038.5L480.7,1039.1M396.2,1037.0L426.1,1018.1L453.0,994.7L483.0,975.8M480.7,1039.1L490.1,1029.7L496.3,1018.0M496.3,1018.0L496.5,1001.8L502.1,986.6M502.1,986.6L494.0,982.1L487.1,976.0M483.0,975.8L485.1,975.8L487.1,976.0M479.0,1064.2L478.7,1051.6L480.7,1039.1M392.8,1037.2L394.5,1036.9L396.2,1037.0M436.7,970.7L452.2,971.7L467.5,974.8L483.0,975.8M572.0,1082.3L546.0,1061.8L522.6,1038.2L496.3,1018.0M572.0,1082.3L576.6,1095.4L580.2,1108.7M523.6,1116.8L507.2,1109.5L492.6,1099.1M572.0,1082.3L577.7,1069.8L578.3,1056.4L578.9,1042.9M546.4,968.6L532.2,976.0L517.4,981.9L502.1,986.6M539.0,913.4L516.2,912.7L493.5,914.8L470.9,918.1M470.9,918.1L477.8,936.9L484.0,956.0L487.1,976.0M191.7,946.1L184.2,942.0L175.7,940.7M191.7,946.1L196.6,958.0L205.2,967.5M175.7,940.7L153.7,951.6L132.5,963.9L112.1,977.6M205.2,967.5L192.8,980.8L180.3,994.0L170.7,1009.6M112.1,977.6L124.2,988.7L140.1,993.2L154.1,1001.1M154.1,1001.1L161.8,1006.5L170.7,1009.6M192.7,944.0L192.3,945.1L191.7,946.1M195.2,844.6L199.0,846.9L202.9,848.8M139.9,907.0L151.0,919.1L166.2,926.9L175.7,940.7M262.8,988.6L242.6,984.2L225.6,971.3L205.2,967.5M308.0,900.0L304.6,895.4L300.5,891.2M86.4,980.3L99.4,980.7L112.1,977.6M171.4,1055.6L166.0,1050.8L160.5,1045.9M160.5,1045.9L163.2,1027.1L170.7,1009.6M104.8,1014.5L121.3,1010.1L138.5,1008.6L154.1,1001.1M160.5,1045.9L142.1,1048.9L123.7,1051.6M104.1,1332.7L97.8,1347.2L91.4,1361.7L80.2,1373.3M80.2,1373.3L60.4,1382.3L42.9,1395.3L24.4,1406.6M173.1,1394.5L157.6,1403.7L140.5,1409.7L124.6,1418.1M80.2,1373.3L94.4,1388.8L109.9,1403.1L124.6,1418.1M132.4,1500.8L147.1,1508.6L163.0,1513.7M132.4,1500.8L121.5,1484.7L112.3,1467.2L97.9,1453.6M97.9,1453.6L100.2,1444.3L102.5,1434.9M166.4,1510.4L164.8,1512.1L163.0,1513.7M166.4,1510.4L146.9,1484.4L132.2,1455.1L110.7,1430.5M110.7,1430.5L106.3,1432.0L102.5,1434.9M81.3,1474.1L82.7,1488.5L87.9,1501.9M81.3,1474.1L90.0,1464.2L97.9,1453.6M87.9,1501.9L102.9,1505.5L117.6,1500.2L132.4,1500.8M24.4,1406.6L50.2,1416.7L76.8,1424.6L102.5,1434.9M187.2,1601.7L175.7,1574.3L173.6,1544.2L161.9,1516.9M275.8,1532.7L276.0,1529.8L275.9,1527.0M161.9,1516.9L162.3,1515.2L163.0,1513.7M170.6,1507.4L206.2,1511.3L241.0,1519.7L275.9,1527.0M170.6,1507.4L168.4,1508.7L166.4,1510.4M170.6,1507.4L180.5,1471.0L188.2,1433.9L199.3,1397.7M124.6,1418.1L117.6,1424.2L110.7,1430.5M78.8,1516.4L91.9,1527.2L101.3,1541.8L115.4,1551.5M106.1,1571.6L111.3,1561.8L115.4,1551.5M87.9,1501.9L83.6,1509.4L78.8,1516.4M135.5,1666.8L127.1,1634.6L112.8,1604.3L106.1,1571.6M161.9,1516.9L145.9,1527.7L132.6,1542.2L115.4,1551.5M42.1,1236.5L51.5,1221.2L63.5,1207.9L74.4,1193.8M74.6,1157.1L76.5,1158.7L78.6,1160.0M78.6,1160.0L77.6,1177.1L74.4,1193.8M601.6,1608.5L580.3,1617.2L557.6,1621.1L535.6,1627.4M535.0,1628.7L535.1,1628.3L535.2,1627.9M535.6,1627.4L535.4,1627.6L535.2,1627.9M485.5,1442.2L475.0,1435.8L463.1,1432.6M485.5,1442.2L488.8,1420.3L499.7,1401.0L506.7,1380.3M463.1,1432.6L452.7,1428.2L444.2,1420.8M506.7,1380.3L493.9,1361.0L479.0,1343.2L466.1,1324.0M466.1,1324.0L450.6,1326.4L436.9,1334.2M444.2,1420.8L438.7,1392.2L435.6,1363.3L436.9,1334.2M454.0,1255.2L464.1,1271.4L475.1,1287.1L481.4,1305.3M468.5,1230.1L472.8,1227.8L477.4,1226.4M536.7,1231.8L520.7,1225.4L503.1,1229.2L486.9,1224.0M540.4,1272.5L534.2,1279.8L529.9,1288.3M529.9,1288.3L512.8,1291.5L498.3,1301.9L481.4,1305.3M486.9,1224.0L482.3,1225.6L477.4,1226.4M435.8,1180.7L441.8,1188.2L446.6,1196.5M435.8,1180.7L452.3,1170.6L468.2,1159.3M446.6,1196.5L454.3,1192.8L461.7,1188.4M461.7,1188.4L468.2,1180.1L477.0,1174.2M477.0,1174.2L478.4,1171.1L479.7,1167.8M479.7,1167.8L473.1,1164.6L468.2,1159.3M385.1,1205.2L380.6,1196.2L376.1,1187.2M443.5,1207.5L444.7,1201.9L446.6,1196.5M400.3,1159.3L410.9,1168.5L423.0,1175.2L435.8,1180.7M376.4,1186.8L376.2,1187.0L376.1,1187.2M458.1,1147.3L463.5,1153.0L468.2,1159.3M477.4,1226.4L475.8,1212.3L467.1,1201.0L461.7,1188.4M486.9,1224.0L483.8,1207.4L484.0,1190.1L477.0,1174.2M499.4,1163.9L489.6,1166.3L479.7,1167.8M74.4,728.6L65.8,708.5L65.8,686.2L57.7,666.0M23.9,669.2L27.2,668.5L30.5,667.5M30.5,667.5L44.2,668.6L57.7,666.0M101.1,680.0L108.5,690.6L116.3,701.0M101.1,680.0L88.2,674.6L75.8,668.0L62.3,664.4M116.3,701.0L103.3,708.8L92.2,719.3L80.2,728.4M62.3,664.4L60.1,665.6L57.7,666.0M77.3,545.8L79.8,558.4L81.6,571.1M0.1,556.0L23.6,567.1L46.0,580.5L70.5,589.6M81.6,571.1L77.7,581.3L70.5,589.6M155.9,520.7L154.1,520.0L152.2,519.9M155.9,520.7L150.9,537.9L150.1,555.9L147.1,573.5M147.1,573.5L140.6,585.9L131.0,596.1M81.6,571.1L97.8,580.0L115.6,585.7L131.0,596.1M101.1,680.0L112.2,664.2L124.2,649.2L137.8,635.6M137.8,635.6L132.9,624.7L127.7,614.1M62.3,664.4L69.2,651.6L74.8,638.2L82.5,625.8M82.5,625.8L97.3,620.8L111.7,614.5L127.7,614.1M163.6,241.1L176.2,252.3L187.1,265.1L196.1,279.4M156.6,240.9L153.3,256.3L147.3,271.1L147.6,287.2M147.6,287.2L156.7,287.7L165.2,290.8M165.2,290.8L180.3,284.2L196.1,279.4M211.2,230.9L213.7,235.6L215.9,240.5M215.9,240.5L210.5,253.9L206.2,267.9L196.8,279.4M196.1,279.4L196.5,279.4L196.8,279.4M215.9,147.7L219.9,142.9L223.0,137.5M256.4,159.3L252.8,150.6L251.6,141.3M256.4,159.3L273.6,157.4L290.7,154.2M277.6,127.5L286.2,139.8L290.7,154.2M277.6,127.5L266.5,129.3L255.4,130.7M255.4,130.7L253.6,136.0L251.6,141.3M247.9,177.6L251.4,168.1L256.4,159.3M223.0,137.5L237.3,138.9L251.6,141.3M530.7,204.1L517.3,211.4L501.3,211.5L488.1,219.2M530.7,204.1L539.1,222.7L549.2,240.4L559.5,258.1M488.1,219.2L491.6,236.3L499.9,252.0L503.5,269.1M559.5,258.1L546.1,266.3L534.5,277.6L518.9,282.2M518.9,282.2L510.9,276.1L503.5,269.1M552.2,120.6L541.3,147.4L539.0,176.6L530.7,204.1M552.2,120.6L549.7,111.0L545.5,102.1M449.7,183.5L453.7,188.9L456.4,195.0M456.4,195.0L470.5,209.5L488.1,219.2M552.2,120.6L559.8,132.3L569.3,142.6M600.9,241.4L600.0,247.2L599.1,253.0M590.4,255.3L594.7,254.1L599.1,253.0M590.4,255.3L574.8,255.8L559.5,258.1M456.4,195.0L450.0,218.0L446.6,241.5L445.6,265.4M445.6,265.4L464.9,266.2L484.2,267.2L503.5,269.1M509.4,334.1L513.7,317.0L515.4,299.5L518.9,282.2M509.4,334.1L515.4,341.3L520.6,349.1M590.4,255.3L582.1,286.8L573.1,318.2L565.9,350.0M565.9,350.0L550.8,352.0L535.7,347.7L520.6,349.1M509.4,334.1L484.5,333.4L459.7,338.0L434.8,337.3M445.6,265.4L430.1,278.5L410.5,285.2L394.9,298.3M394.9,298.3L398.9,309.5L406.4,318.7M434.8,337.3L421.4,326.7L406.4,318.7M375.3,229.8L374.5,230.6L373.6,231.2M387.6,150.0L375.5,151.5L363.8,155.3M373.6,231.2L367.2,210.3L353.0,193.3L345.7,172.9M363.8,155.3L353.2,162.5L345.7,172.9M74.2,263.5L87.8,268.5L98.7,278.1M116.2,226.5L112.6,241.3L120.0,256.1L116.6,271.0M98.7,278.1L107.6,274.5L116.6,271.0M57.9,310.2L67.9,315.3L78.0,320.3M98.7,278.1L88.5,290.5L83.7,305.6L78.0,320.3M147.6,287.2L145.2,287.1L142.8,287.9M116.6,271.0L131.2,277.1L142.8,287.9M52.9,350.4L67.3,338.3L80.6,324.9M78.0,320.3L79.2,322.6L80.6,324.9M230.6,588.8L245.2,587.9L259.1,592.3L273.3,594.6M230.6,588.8L225.4,574.9L222.3,560.5L218.8,546.2M218.8,546.2L234.3,539.2L248.2,529.9L261.5,519.5M273.3,594.6L276.5,572.8L273.7,550.6L278.1,528.8M278.1,528.8L269.6,524.6L261.5,519.5M424.3,611.7L429.5,602.7L432.2,592.7M400.0,621.0L391.3,613.0L386.1,602.5M432.2,592.7L414.9,587.3L399.2,578.3M399.2,578.3L394.8,591.6L386.1,602.5M470.9,918.1L467.0,905.7L461.1,894.2M531.1,887.1L513.4,885.4L495.5,885.7L477.9,882.3M461.1,894.2L469.0,887.5L477.9,882.3M390.5,912.7L402.2,902.1L415.7,894.6L430.0,888.4M461.1,894.2L445.4,892.2L430.0,888.4M533.8,802.3L514.5,803.7L495.2,804.9M477.9,882.3L486.8,857.2L489.9,830.8L495.2,804.9M358.0,750.0L363.1,757.3L367.2,765.1M358.0,750.0L357.9,730.1L350.4,711.4L348.5,691.9M367.2,765.1L379.2,748.4L392.1,732.5L408.0,719.2M408.0,719.2L392.1,709.0L378.9,695.7M378.9,695.7L364.5,692.4L350.5,687.5M348.5,691.9L349.3,689.6L350.5,687.5M315.7,705.8L330.8,695.7L348.5,691.9M315.7,705.8L313.9,710.3L310.8,714.0M336.2,745.8L346.9,748.6L358.0,750.0M435.2,713.7L434.0,699.4L424.7,687.8L421.8,674.1M435.2,713.7L434.8,714.1L434.4,714.6M421.8,674.1L407.0,680.5L393.7,689.5L378.9,695.7M434.4,714.6L420.8,714.7L408.0,719.2M380.4,645.1L365.0,651.6L348.5,654.6M421.8,674.1L421.5,672.9L421.8,671.6M348.5,654.6L350.2,671.0L350.5,687.5M363.8,789.7L364.6,804.4L365.7,819.0L370.0,833.2M363.8,789.7L367.1,786.6L369.8,782.9M369.8,782.9L378.8,783.7L387.7,785.1M387.7,785.1L404.3,794.4L420.8,803.8L437.3,813.3M370.0,833.2L387.4,843.0L406.4,848.6L425.6,853.2M437.3,813.3L433.3,826.6L426.3,839.0L425.6,853.2M339.8,795.6L351.9,793.1L363.8,789.7M349.9,895.9L357.5,875.3L362.2,853.8L370.0,833.2M294.1,776.3L290.4,759.3L289.9,741.9M367.2,765.1L368.8,774.0L369.8,782.9M434.4,714.6L432.8,731.6L436.1,748.4M436.1,748.4L417.9,758.0L405.8,775.4L387.7,785.1M474.8,782.9L477.4,790.5L479.9,798.1M474.8,782.9L459.8,773.7L451.5,757.1L436.1,748.4M479.9,798.1L466.8,806.1L451.4,807.8L437.3,813.3M430.0,888.4L430.8,870.4L425.6,853.2M479.9,798.1L487.4,801.8L495.2,804.9M629.8,622.1L646.2,618.9L660.4,610.3M629.8,622.1L622.0,610.7L623.1,595.7L614.6,584.5M614.6,584.5L622.7,569.6L620.2,551.9L627.2,536.7M674.0,586.2L666.5,597.8L660.4,610.3M674.0,586.2L669.3,563.4L660.6,542.2L649.2,522.0M627.2,536.7L631.1,529.6L635.8,523.0M649.2,522.0L642.4,521.3L635.8,523.0M628.3,429.8L619.1,449.4L612.9,470.2L603.3,489.5M628.3,429.8L639.2,425.2L650.9,422.9M603.3,489.5L612.0,502.8L623.3,513.4L635.8,523.0M650.9,422.9L653.7,454.6L655.0,486.4L658.2,518.1M658.2,518.1L653.4,519.5L649.2,522.0M435.2,713.7L449.5,709.1L465.0,710.9L479.3,705.9M474.8,782.9L478.7,767.7L483.9,752.9L483.2,737.0M483.2,737.0L481.3,721.4L479.3,705.9M493.8,679.7L488.5,691.7L482.1,703.1M479.3,705.9L480.6,704.4L482.1,703.1M348.5,654.6L342.0,649.0L336.0,643.0M336.0,643.0L331.4,641.9L326.7,641.6M315.7,705.8L303.4,695.3L288.3,689.6M288.3,689.6L304.1,676.1L312.1,656.2L326.7,641.6M854.7,725.6L854.9,706.6L848.2,688.8M854.7,725.6L866.8,723.9L878.8,726.0M848.2,688.8L850.1,685.9L851.2,682.6M878.8,726.0L890.7,711.3L905.5,699.6M905.5,699.6L900.0,689.9L894.2,680.5M851.2,682.6L865.7,684.0L880.0,684.5L894.2,680.5M729.1,643.3L735.0,638.1L740.5,632.6M729.1,643.3L722.5,643.9L715.8,643.0M715.8,643.0L705.0,635.6L697.3,624.8M697.3,624.8L706.4,608.5L715.8,592.3M740.5,632.6L733.6,618.3L726.6,604.2L715.8,592.3M696.3,574.5L706.2,580.4L717.4,583.6M696.3,574.5L686.1,582.2L674.0,586.2M697.3,624.8L678.0,619.8L660.4,610.3M715.8,592.3L716.8,588.0L717.4,583.6M756.8,491.0L756.3,490.3L755.8,489.8M756.8,491.0L751.9,508.2L741.3,522.8L734.8,539.2M755.8,489.8L744.3,501.7L730.5,510.4L715.9,517.9M715.9,517.9L721.8,530.4L727.7,543.1M734.8,539.2L731.2,541.1L727.7,543.1M756.8,491.0L769.5,497.1L781.4,504.6L792.6,513.3M789.5,546.9L775.6,554.4L765.2,566.1M790.5,544.8L792.5,529.1L792.6,513.3M734.8,539.2L744.9,548.2L754.9,557.3L765.2,566.1M689.8,530.7L703.1,524.7L715.9,517.9M689.8,530.7L695.3,536.6L699.6,543.3M699.6,543.3L712.1,543.0L724.3,545.4M724.3,545.4L726.1,544.4L727.7,543.1M812.1,598.7L806.1,600.1L801.0,603.4M801.0,603.4L790.4,589.9L776.5,580.5L762.4,571.3M765.2,566.1L764.1,568.9L762.4,571.3M916.8,170.9L916.3,170.8L916.0,170.6M916.8,170.9L922.7,179.2L929.1,187.2M911.6,234.4L905.6,232.1L899.3,231.7M911.6,234.4L916.4,231.7L921.3,229.1M888.6,182.6L901.3,174.4L916.0,170.6M888.6,182.6L893.7,196.2L891.1,210.9L894.5,224.7M921.3,229.1L925.3,215.4L928.5,201.6L929.1,187.2M894.5,224.7L897.0,228.1L899.3,231.7M656.4,181.2L666.1,177.8L676.3,176.3M620.5,268.7L611.1,259.1L599.1,253.0M620.5,268.7L641.4,243.0L660.5,215.9L683.3,191.7M683.3,191.7L679.0,184.3L676.3,176.3M558.4,449.9L575.2,438.5L594.2,431.5L612.1,422.3M558.4,449.9L561.7,436.7L561.3,422.6L567.3,410.0M567.3,410.0L580.5,408.6L593.0,404.0M612.1,422.3L601.9,413.8L593.0,404.0M628.3,429.8L620.0,426.5L612.1,422.3M603.3,489.5L582.8,493.0L561.9,487.1L541.3,491.6M541.3,491.6L537.8,483.5L536.9,474.8M536.9,474.8L548.7,463.2L558.4,449.9M529.5,397.4L548.3,404.2L567.3,410.0M529.5,397.4L528.0,415.2L521.2,431.9L517.8,449.3M517.8,449.3L527.7,461.8L536.9,474.8M588.8,376.3L581.2,362.0L569.3,350.9M588.8,376.3L589.1,390.4L593.0,404.0M529.5,397.4L522.8,379.9L519.4,361.4M565.9,350.0L567.6,350.3L569.3,350.9M520.6,349.1L520.1,355.3L519.4,361.4M657.0,274.5L644.5,276.2L632.2,278.8M657.0,274.5L668.4,264.5L671.6,248.7L682.8,238.6M632.2,278.8L627.2,272.8L620.5,268.7M683.3,191.7L688.6,201.0L694.2,210.1M682.8,238.6L688.3,224.2L694.2,210.1M780.9,435.9L786.5,433.3L792.5,432.8M753.6,485.3L753.4,485.0L753.2,484.8M753.6,485.3L770.2,476.3L784.0,463.6L798.0,451.3M753.2,484.8L753.0,482.8L752.3,481.0M792.5,432.8L795.6,441.9L798.0,451.3M792.0,402.3L792.4,415.3L794.9,428.0M792.0,402.3L790.5,400.2L789.3,398.1M789.3,398.1L787.6,395.9L785.3,394.4M792.5,432.8L793.4,430.2L794.9,428.0M632.2,278.8L631.8,295.0L630.7,311.3M569.3,350.9L587.5,341.6L604.0,329.2L622.9,321.1M630.7,311.3L627.2,316.5L622.9,321.1M588.8,376.3L607.1,373.7L624.4,367.3M622.9,321.1L622.4,336.5L624.4,351.9L624.4,367.3M656.4,410.5L652.3,395.9L643.8,383.2M650.9,422.9L651.0,422.9L651.1,422.8M624.4,367.3L633.4,376.1L643.8,383.2M682.5,339.6L683.6,356.9L685.6,374.1M682.5,339.6L667.4,336.5L652.5,332.4M685.6,374.1L673.9,367.5L665.3,356.4L652.6,351.0M652.5,332.4L654.1,341.7L652.6,351.0M700.7,326.3L692.1,333.7L682.5,339.6M688.9,387.5L686.0,381.1L685.6,374.1M657.0,274.5L672.4,284.5L690.4,288.1M690.4,288.1L697.7,299.4L700.5,312.6M630.7,311.3L642.7,320.7L652.5,332.4M643.8,383.2L645.8,366.4L652.6,351.0M691.8,465.9L685.6,457.0L681.7,447.0M691.8,465.9L686.6,484.8L683.8,504.2M681.7,447.0L677.3,471.6L667.9,494.6L659.4,517.9M683.8,504.2L677.4,512.0L669.2,517.9M669.2,517.9L664.3,517.6L659.4,517.9M681.2,444.8L681.5,445.9L681.7,447.0M727.4,485.6L740.3,485.9L753.2,484.8M727.4,485.6L714.7,480.6L704.5,471.0L691.8,465.9M727.4,485.6L711.9,489.5L698.6,498.5L683.8,504.2M658.2,518.1L658.8,518.1L659.4,517.9M689.8,530.7L679.3,524.7L669.2,517.9M753.6,485.3L754.4,487.7L755.8,489.8M699.6,543.3L699.5,559.1L696.3,574.5M744.7,814.0L748.3,798.9L754.8,784.7L756.8,769.1M744.7,814.0L731.7,807.2L722.1,796.1M756.8,769.1L743.2,782.1L726.4,790.5M722.1,796.1L724.6,793.6L726.4,790.5M700.0,855.2L698.3,836.6L703.8,818.5L704.0,800.0M704.0,800.0L713.2,799.0L722.1,796.1M746.5,816.2L745.7,815.1L744.7,814.0M746.5,816.2L739.2,828.7L735.0,842.6M702.3,855.3L718.9,849.5L735.0,842.6M760.9,765.3L759.2,767.6L756.8,769.1M760.9,765.3L754.4,761.8L748.7,757.2M721.5,766.7L736.0,764.4L748.7,757.2M721.5,766.7L722.8,778.9L726.4,790.5M762.7,842.1L752.9,844.7L742.8,845.7M762.7,842.1L774.9,852.3L788.5,860.9L800.6,871.4M742.8,845.7L751.8,858.8L762.1,871.0L772.0,883.4M772.0,883.4L782.1,883.3L792.1,882.4M792.1,882.4L796.6,877.1L800.6,871.4M772.1,818.3L770.9,815.7L769.5,813.3M772.1,818.3L766.4,829.8L762.7,842.1M746.5,816.2L758.1,815.9L769.5,813.3M735.0,842.6L738.6,844.9L742.8,845.7M814.4,852.6L811.8,857.6L810.4,863.1M814.4,852.6L812.5,850.9L810.7,849.1M810.4,863.1L804.7,866.3L800.6,871.4M810.7,849.1L796.0,841.2L786.8,826.3L772.1,818.3M749.5,892.4L761.4,889.5L772.0,883.4M797.3,913.4L792.1,898.4L792.1,882.4M770.4,942.7L782.5,930.8L796.6,921.6M810.4,863.1L824.0,874.9L839.5,884.1L853.2,895.9M648.4,979.2L662.9,992.7L676.8,1006.8M648.4,979.2L647.0,962.5L640.5,947.1M644.7,944.8L664.6,955.3L681.6,970.4L701.9,980.3M644.7,944.8L642.8,946.3L640.5,947.1M701.9,980.3L689.7,993.9L676.8,1006.8M621.9,943.8L631.5,943.8L640.5,947.1M616.6,1012.4L630.1,1004.1L636.7,989.3L648.4,979.2M680.9,914.1L671.4,927.4L657.2,935.1L644.7,944.8M712.3,974.3L706.5,976.3L701.9,980.3M604.4,887.4L604.8,887.0L605.3,886.7M892.3,477.8L882.7,484.8L872.7,491.1M892.3,477.8L897.1,490.4L901.8,503.0M872.7,491.1L887.1,497.2L900.2,505.6M901.8,503.0L901.1,504.4L900.2,505.6M893.4,473.9L893.0,475.9L892.3,477.8M911.1,500.4L906.4,501.2L901.8,503.0M894.3,519.6L896.7,512.3L900.2,505.6M894.3,519.6L907.2,527.8L915.3,541.1L926.6,551.0M926.6,551.0L930.9,548.1L935.5,545.7M891.6,439.4L884.8,432.7L876.1,428.6M889.1,449.2L878.7,459.3L866.4,466.9M839.3,451.2L840.2,453.8L841.7,456.1M839.3,451.2L841.0,443.3L845.3,436.5M876.1,428.6L861.2,434.3L845.3,436.5M866.4,466.9L854.0,461.6L841.7,456.1M837.7,451.8L827.1,466.1L814.6,478.8M837.7,451.8L825.2,450.4L812.6,450.4M814.6,478.8L808.8,466.9L807.8,453.7M812.6,450.4L810.1,451.9L807.8,453.7M812.8,493.1L813.3,485.9L814.6,478.8M812.8,493.1L828.3,488.7L844.1,485.9M839.3,451.2L838.4,451.3L837.7,451.8M841.7,456.1L842.8,471.0L844.1,485.9M812.8,493.1L804.2,504.4L793.0,513.2M792.6,513.3L792.8,513.3L793.0,513.2M798.0,451.3L802.8,452.8L807.8,453.7M794.9,428.0L805.4,428.6L815.4,432.1M815.4,432.1L814.7,441.3L812.6,450.4M876.1,428.6L874.3,422.5L873.6,416.3M898.4,372.9L889.0,374.7L880.3,378.7M873.6,416.3L874.8,397.1L880.3,378.7M805.7,408.0L812.5,418.9L820.1,429.2M805.7,408.0L818.4,411.2L831.5,410.2M831.5,410.2L834.0,418.2L833.9,426.6M820.1,429.2L826.9,427.3L833.9,426.6M792.0,402.3L798.6,405.5L805.7,408.0M815.4,432.1L817.7,430.6L820.1,429.2M845.3,436.5L839.7,431.4L833.9,426.6M1196.9,568.3L1182.1,569.8L1167.2,571.0M1143.1,607.4L1135.9,606.9L1129.0,604.5M1167.2,571.0L1155.2,583.0L1143.4,595.3L1129.0,604.5M923.9,555.6L923.9,566.1L924.3,576.5M923.9,555.6L906.3,557.5L888.9,560.7M888.9,560.7L888.0,573.5L884.6,586.0M924.3,576.5L911.9,583.2L897.8,582.7L884.6,586.0M991.6,558.0L991.8,573.4L991.3,588.8M958.1,554.6L957.4,571.0L959.2,587.2L963.0,603.1M963.0,603.1L976.7,595.1L991.3,588.8M923.9,555.6L925.3,553.3L926.6,551.0M924.3,576.5L925.4,582.7L926.2,588.9M926.2,588.9L929.6,593.6L933.4,598.0M942.6,605.0L938.0,601.5L933.4,598.0M942.6,605.0L948.8,607.2L954.5,610.5M963.0,603.1L958.4,606.4L954.5,610.5M954.5,670.2L952.1,665.0L948.8,660.2M954.5,670.2L960.0,669.9L965.4,669.2M948.8,660.2L953.4,647.0L953.2,632.8L957.0,619.4M965.4,669.2L974.2,655.1L986.0,643.7L999.2,633.7M957.0,619.4L970.6,625.4L984.9,629.5L999.2,633.7M1015.9,642.8L1001.7,650.6L989.6,661.2L978.3,672.8M1015.9,642.8L1016.5,636.7L1015.4,630.7M965.4,669.2L971.6,671.9L978.3,672.8M999.2,633.7L1007.1,631.1L1015.4,630.7M886.4,520.7L875.4,528.5L867.5,539.3M886.4,520.7L890.2,519.4L894.3,519.6M888.9,560.7L882.9,557.7L876.3,556.4M876.3,556.4L870.7,548.5L867.5,539.3M867.5,539.3L867.5,539.3L867.5,539.3M837.1,563.6L843.9,553.6L846.6,541.7M793.0,513.2L805.3,518.7L818.6,521.1L831.4,524.9M846.6,541.7L839.8,532.6L831.4,524.9M868.1,492.9L862.6,490.2L856.5,489.7M868.1,492.9L872.5,503.5L878.8,513.1M878.8,513.1L867.5,513.5L856.2,514.1M855.6,489.9L856.1,489.8L856.5,489.7M855.6,489.9L852.8,500.1L852.5,510.6M852.5,510.6L854.6,512.0L856.2,514.1M872.7,491.1L870.4,492.0L868.1,492.9M866.4,466.9L860.7,478.0L856.5,489.7M886.4,520.7L882.2,517.2L878.8,513.1M867.5,539.3L859.9,527.6L856.2,514.1M844.1,485.9L850.0,487.7L855.6,489.9M831.4,524.9L842.5,518.5L852.5,510.6M867.5,539.3L856.9,539.3L846.6,541.7M851.5,577.2L853.2,587.6L855.0,598.1M851.5,577.2L855.7,576.0L859.9,575.1M859.9,575.1L869.1,585.4L881.0,592.4M855.0,598.1L867.9,594.2L881.4,594.9M881.4,594.9L881.2,593.6L881.0,592.4M815.0,599.3L825.2,611.0L835.0,623.1L844.5,635.4M844.5,635.4L849.8,616.7L855.0,598.1M840.3,573.5L845.8,575.6L851.5,577.2M876.3,556.4L867.0,564.8L859.9,575.1M884.6,586.0L882.9,589.2L881.0,592.4M926.2,588.9L912.5,593.7L901.7,604.2L887.5,608.1M887.5,608.1L884.4,601.5L881.4,594.9M965.7,1179.6L971.2,1187.0L976.9,1194.1M965.7,1179.6L959.4,1172.6L951.3,1167.9M963.7,1208.1L971.2,1205.5L977.8,1201.2M963.7,1208.1L951.8,1202.3L939.4,1197.7M977.8,1201.2L977.1,1197.7L976.9,1194.1M951.3,1167.9L942.5,1181.6L939.4,1197.7M645.6,1127.5L672.6,1115.1L700.5,1105.4L729.1,1097.7M645.6,1127.5L652.0,1105.0L656.1,1081.9L663.7,1059.7M663.7,1059.7L669.7,1052.3L676.1,1045.2M742.5,1075.3L736.0,1086.7L729.1,1097.7M742.5,1075.3L726.7,1066.4L712.6,1055.5L701.0,1041.5M701.0,1041.5L688.7,1044.4L676.1,1045.2M773.5,1123.6L757.7,1116.8L743.3,1107.4L729.1,1097.7M641.8,1133.4L644.0,1130.6L645.6,1127.5M617.2,1015.9L631.1,1032.2L647.1,1046.3L663.7,1059.7M676.8,1006.8L678.1,1026.0L676.1,1045.2M731.6,992.1L726.9,986.3L724.3,979.3M731.6,992.1L723.1,1007.7L713.0,1022.5L706.1,1038.9M706.1,1038.9L703.4,1040.0L701.0,1041.5M1104.3,1243.4L1105.3,1226.8L1107.4,1210.3L1105.8,1193.6M1104.3,1243.4L1098.4,1247.4L1092.2,1251.1M1092.2,1251.1L1088.4,1240.7L1084.1,1230.6M1084.1,1230.6L1083.0,1214.9L1082.6,1199.0M1082.6,1199.0L1094.2,1196.1L1105.8,1193.6M1130.2,1230.9L1116.9,1236.6L1104.3,1243.4M1120.6,1188.8L1113.1,1190.7L1105.8,1193.6M1055.2,1181.3L1057.7,1185.1L1060.1,1188.8M1055.2,1181.3L1056.5,1173.4L1059.0,1165.7M1060.1,1188.8L1072.0,1192.5L1082.6,1199.0M1028.5,1255.6L1021.0,1259.4L1012.6,1260.3M1028.5,1255.6L1050.2,1265.3L1070.9,1277.2L1092.3,1287.7M1012.6,1260.3L1029.1,1277.8L1042.1,1297.8L1054.1,1318.6M1054.1,1318.6L1064.9,1317.9L1075.7,1316.5M1075.7,1316.5L1085.6,1307.7L1094.8,1298.2M1092.3,1287.7L1093.7,1293.0L1094.8,1298.2M1015.2,1347.1L1028.4,1366.2L1042.5,1384.6L1059.1,1401.0M1015.2,1347.1L1028.2,1337.7L1042.6,1330.2L1054.1,1318.6M1077.8,1322.3L1076.4,1319.5L1075.7,1316.5M1112.0,1298.8L1103.4,1297.7L1094.8,1298.2M1088.8,1262.9L1090.3,1256.9L1092.2,1251.1M1088.8,1262.9L1091.6,1275.1L1092.3,1287.7M1051.0,1208.7L1044.8,1213.5L1038.3,1217.9M1051.0,1208.7L1054.1,1219.6L1056.0,1230.8M1038.3,1217.9L1041.1,1232.8L1046.1,1247.1M1056.0,1230.8L1053.9,1239.0L1049.5,1246.2M1049.5,1246.2L1047.9,1246.9L1046.1,1247.1M1055.2,1181.3L1041.2,1183.4L1027.2,1181.5M1060.1,1188.8L1055.0,1198.5L1051.0,1208.7M1002.1,1230.9L1019.5,1222.4L1038.3,1217.9M1002.1,1230.9L1000.9,1226.5L999.7,1222.1M999.7,1222.1L1009.4,1208.9L1015.5,1193.2L1027.2,1181.5M1084.1,1230.6L1070.0,1230.4L1056.0,1230.8M1000.2,1255.3L1006.7,1257.1L1012.6,1260.3M1000.2,1255.3L1002.9,1243.2L1002.1,1230.9M1028.5,1255.6L1037.4,1251.5L1046.1,1247.1M1088.8,1262.9L1075.9,1257.0L1063.0,1250.7L1049.5,1246.2M1015.3,1171.5L999.1,1176.8L985.0,1186.6M1015.3,1171.5L1010.4,1159.6L1004.1,1148.2M985.0,1186.6L989.6,1172.4L991.9,1157.7M1004.1,1148.2L1000.0,1149.7L995.9,1151.2M991.9,1157.7L994.0,1154.5L995.9,1151.2M999.7,1222.1L989.5,1210.9L977.8,1201.2M976.9,1194.1L980.6,1189.9L985.0,1186.6M1027.2,1181.5L1021.2,1176.6L1015.3,1171.5M1026.8,1123.0L1014.5,1131.9L1005.5,1144.3M1005.5,1144.3L1004.6,1146.2L1004.1,1148.2M965.7,1179.6L978.7,1168.5L991.9,1157.7M946.5,1157.8L946.6,1158.4L946.7,1159.0M946.5,1157.8L951.2,1153.2L955.3,1148.1M955.3,1148.1L968.8,1148.7L982.2,1152.7L995.9,1151.2M946.7,1159.0L949.3,1163.3L951.3,1167.9M815.7,1479.1L834.2,1472.0L854.0,1471.2M815.7,1479.1L813.0,1452.9L814.2,1426.3L808.2,1400.4M808.2,1400.4L825.3,1398.3L842.1,1394.5M854.0,1471.2L854.7,1453.4L855.5,1435.6M842.1,1394.5L849.1,1407.4L853.7,1421.1L855.5,1435.6M722.6,1560.3L716.5,1557.6L710.7,1554.2M771.8,1555.3L775.8,1537.5L774.3,1519.4M767.2,1516.1L771.0,1517.2L774.3,1519.4M767.2,1516.1L749.2,1515.7L731.4,1517.1M710.7,1554.2L714.9,1540.3L727.4,1531.0L731.4,1517.1M818.9,1517.6L823.2,1524.7L826.6,1532.3M818.9,1517.6L842.8,1511.8L867.3,1509.1L891.7,1506.6M893.7,1520.7L892.0,1513.8L891.7,1506.6M893.7,1520.7L879.4,1526.6L867.8,1537.5L853.2,1543.0M826.6,1532.3L839.9,1537.6L853.2,1543.0M872.6,1598.5L862.1,1584.8L856.2,1568.8L850.9,1552.6M893.7,1520.7L898.6,1525.3L902.0,1531.0M850.9,1552.6L852.4,1547.8L853.2,1543.0M1156.5,1099.2L1146.6,1104.4L1135.7,1106.7M1156.5,1099.2L1159.2,1102.9L1161.3,1107.0M1135.7,1106.7L1146.0,1111.0L1155.2,1117.4M1161.3,1107.0L1157.8,1112.0L1155.2,1117.4M1119.7,1114.3L1126.8,1111.7L1132.5,1106.7M1146.1,1143.0L1151.6,1130.6L1155.2,1117.4M1132.5,1106.7L1134.1,1107.0L1135.7,1106.7M1170.3,1107.4L1165.8,1108.0L1161.3,1107.0M1144.6,1061.4L1143.6,1069.2L1142.3,1077.0M1144.6,1061.4L1159.6,1054.6L1174.6,1048.0L1189.6,1041.2M1174.0,1078.2L1162.6,1079.8L1152.4,1085.1M1152.4,1085.1L1148.2,1082.7L1144.5,1079.6M1144.5,1079.6L1143.3,1078.4L1142.3,1077.0M1131.4,1045.3L1137.1,1054.0L1144.6,1061.4M1119.1,1081.8L1130.4,1078.0L1142.3,1077.0M1126.9,1020.6L1146.7,1031.0L1167.8,1037.0L1189.6,1041.2M1170.3,1107.4L1170.3,1092.5L1174.0,1078.2M1156.5,1099.2L1153.6,1092.4L1152.4,1085.1M1132.5,1106.7L1139.5,1093.6L1144.5,1079.6M1122.1,1013.6L1132.2,1004.2L1141.0,993.7M944.5,1051.8L953.5,1053.4L962.6,1055.1M944.5,1051.8L946.7,1038.4L944.7,1024.6L948.4,1011.3M962.6,1055.1L968.7,1042.9L970.7,1029.3M970.7,1029.3L967.5,1022.8L965.3,1015.8M965.3,1015.8L957.0,1012.9L948.4,1011.3M929.3,995.5L934.4,999.7L939.3,1004.1M929.3,995.5L933.9,982.5L941.5,971.2L948.9,959.7M972.2,957.2L970.6,962.5L969.8,968.0M972.2,957.2L971.8,956.9L971.3,956.7M969.8,968.0L957.0,977.8L947.7,990.5L939.3,1004.1M995.1,1051.5L995.2,1049.8L995.4,1048.1M1037.6,1042.2L1034.2,1039.0L1031.4,1035.2M995.4,1048.1L1013.3,1041.3L1031.4,1035.2M977.7,1074.0L973.9,1073.8L970.4,1072.5M962.6,1055.1L967.3,1063.4L970.4,1072.5M970.7,1029.3L980.1,1032.4L988.8,1036.9M995.4,1048.1L991.2,1043.0L988.8,1036.9M1026.3,1019.4L1025.6,1020.1L1024.9,1020.9M1084.3,1017.9L1073.2,1012.2L1065.0,1002.8M1031.4,1035.2L1027.6,1028.3L1024.9,1020.9M1005.4,989.6L990.2,994.1L977.0,1003.1M1005.4,989.6L1010.0,1004.8L1019.3,1017.5M1019.3,1017.5L1014.3,1019.5L1009.2,1020.6M1009.2,1020.6L991.0,1012.7L971.2,1011.0M977.0,1003.1L974.8,1007.6L971.2,1011.0M988.8,1036.9L999.9,1029.9L1009.2,1020.6M1024.9,1020.9L1021.8,1019.7L1019.3,1017.5M965.3,1015.8L968.7,1013.9L971.2,1011.0M969.8,968.0L970.6,986.1L977.0,1003.1M948.4,1011.3L945.1,1010.1L942.1,1008.4M942.1,1008.4L941.0,1006.1L939.3,1004.1M976.0,842.9L988.5,851.8L1003.3,855.7M976.0,842.9L974.7,862.2L978.6,881.6L975.7,901.0M1003.3,855.7L992.5,869.8L984.1,885.4L975.7,901.0M958.2,920.3L965.6,910.3L975.2,902.3M937.5,918.7L931.0,902.6L925.1,886.2M962.8,889.6L943.7,891.1L925.1,886.2M962.8,889.6L967.9,897.0L975.2,902.2M975.2,902.3L975.2,902.3L975.2,902.2M1080.3,803.7L1081.6,803.8L1082.8,804.1M1080.3,803.7L1068.4,825.9L1051.3,844.8L1039.8,867.3M1111.0,824.0L1109.4,837.9L1103.8,850.8M1046.7,879.4L1042.5,873.8L1039.8,867.3M1046.7,879.4L1051.3,878.3L1055.9,877.2M1103.8,850.8L1088.3,860.5L1070.1,865.2L1055.9,877.2M1160.0,921.0L1157.4,920.0L1154.8,919.3M1173.0,958.4L1158.6,947.4L1145.2,935.1L1129.1,926.6M1129.1,926.6L1142.0,923.2L1154.8,919.3M1144.7,974.9L1129.6,965.3L1117.8,952.6L1107.9,937.9M1107.9,937.9L1112.4,932.6L1116.6,927.1M1129.1,926.6L1122.9,926.9L1116.6,927.1M1223.1,878.5L1200.2,881.3L1177.6,886.4L1154.8,890.1M1154.8,919.3L1156.8,904.7L1154.8,890.1M996.1,1094.9L989.5,1110.8L987.1,1127.9M996.1,1094.9L982.6,1100.6L970.7,1108.6L960.6,1119.3M987.1,1127.9L974.0,1126.3L961.3,1122.6M960.6,1119.3L960.9,1121.0L961.3,1122.6M998.5,1092.2L997.3,1093.6L996.1,1094.9M1005.5,1144.3L997.8,1134.4L987.1,1127.9M955.3,1148.1L956.9,1135.0L961.3,1122.6M881.4,1098.2L892.2,1106.6L899.6,1118.1M881.4,1098.2L884.2,1095.9L886.4,1093.1M886.4,1093.1L902.3,1087.9L917.3,1080.3L933.0,1074.7M899.6,1118.1L914.0,1111.5L929.9,1108.3L943.6,1099.7M943.6,1099.7L944.9,1095.7L945.8,1091.5M945.8,1091.5L940.6,1082.2L933.0,1074.7M902.1,1138.3L901.5,1139.5L900.6,1140.5M902.1,1138.3L901.1,1128.1L899.6,1118.1M900.6,1140.5L884.6,1138.8L868.7,1141.7M876.5,1096.2L879.1,1096.8L881.4,1098.2M946.5,1157.8L932.9,1148.5L918.2,1141.8L902.1,1138.3M960.6,1119.3L952.8,1108.9L943.6,1099.7M970.4,1072.5L957.2,1080.8L945.8,1091.5M1107.9,937.9L1106.4,938.3L1104.9,938.9M1101.8,1012.3L1099.8,996.9L1097.4,981.6L1092.0,966.9M1104.9,938.9L1098.6,953.0L1092.0,966.9M1048.8,979.2L1048.0,976.6L1047.8,973.8M1092.0,966.9L1077.3,969.4L1063.0,974.6L1047.8,973.8M561.7,789.2L562.6,788.3L563.6,787.4M618.5,829.4L613.8,815.2L605.0,803.3L596.4,791.4M596.4,791.4L580.0,789.8L563.6,787.4M483.2,737.0L507.4,747.5L532.7,754.2L558.6,759.0M563.6,787.4L561.7,773.1L558.6,759.0M482.1,703.1L508.7,719.1L532.6,739.0L558.4,756.0M558.6,759.0L558.2,757.5L558.4,756.0M775.7,683.7L781.4,687.3L787.4,690.3M775.7,683.7L773.2,663.7L763.7,645.2L762.5,624.8M801.4,653.8L793.7,671.1L788.4,689.4M801.4,653.8L787.8,639.2L775.9,623.1M788.4,689.4L787.9,689.8L787.4,690.3M775.9,623.1L771.7,623.4L767.5,622.4M767.5,622.4L764.9,623.4L762.5,624.8M848.2,688.8L828.3,687.5L808.3,688.3L788.4,689.4M845.0,636.6L845.8,637.1L846.5,637.6M845.0,636.6L829.0,638.7L817.3,651.6L801.4,653.8M846.5,637.6L849.8,652.4L848.1,667.8L851.2,682.6M801.0,603.4L788.9,613.8L775.9,623.1M845.0,636.6L844.7,636.0L844.5,635.4M729.1,643.3L730.2,644.7L730.7,646.4M740.5,632.6L742.3,631.1L744.3,630.0M744.3,630.0L753.0,626.2L762.5,624.8M775.7,683.7L771.4,682.6L767.4,680.9M767.4,680.9L756.3,668.1L741.7,659.2L730.7,646.4M760.9,765.3L761.9,765.4L763.0,765.3M748.7,757.2L741.9,744.8L731.3,735.7L721.4,726.0M784.9,710.8L771.9,714.8L758.4,714.8M784.9,710.8L787.0,715.1L788.2,719.6M788.2,719.6L780.5,735.3L771.5,750.2L763.0,765.3M721.4,726.0L740.5,722.6L758.4,714.8M784.9,710.8L784.3,700.3L787.4,690.3M767.4,680.9L753.3,686.5L738.8,691.1M758.4,714.8L749.3,702.3L738.8,691.1M730.7,646.4L730.0,658.9L729.9,671.5M729.9,671.5L733.0,681.4L733.5,691.7M733.5,691.7L736.2,691.6L738.8,691.1M810.7,849.1L803.8,830.8L793.4,814.1L787.3,795.4M769.5,813.3L774.8,803.8L778.1,793.5M787.3,795.4L782.8,794.2L778.1,793.5M854.7,725.6L854.5,726.0L854.1,726.3M788.2,719.6L797.8,726.8L808.8,731.5M854.1,726.3L839.1,729.2L823.5,726.0L808.8,731.5M804.5,948.6L801.2,960.3L796.7,971.6M804.5,948.6L810.9,960.5L820.7,969.9M796.7,971.6L801.0,974.8L805.6,977.4M820.7,969.9L813.5,974.2L805.6,977.4M779.9,967.8L788.1,970.7L796.7,971.6M804.5,929.3L803.0,938.9L804.5,948.6M820.8,969.9L820.8,969.9L820.7,969.9M783.8,1016.9L784.8,1030.4L783.9,1044.0M783.8,1016.9L775.4,1014.6L767.3,1011.4M762.1,1012.7L764.7,1011.9L767.3,1011.4M762.1,1012.7L756.2,1024.3L747.8,1034.3M783.9,1044.0L775.9,1050.7L768.1,1057.5M747.8,1034.3L752.5,1044.1L754.0,1054.8M754.0,1054.8L760.9,1056.7L768.1,1057.5M768.8,1002.8L768.5,1007.2L767.3,1011.4M796.5,1014.8L799.6,1006.9L805.4,1000.8M796.5,1014.8L790.4,1017.0L783.8,1016.9M805.4,1000.8L803.5,989.1L805.6,977.4M731.6,992.1L745.9,1003.9L762.1,1012.7M706.1,1038.9L720.3,1040.3L733.5,1032.4L747.8,1034.3M742.5,1075.3L742.5,1075.3L742.5,1075.3M742.5,1075.3L747.6,1064.7L754.0,1054.8M888.8,1019.0L892.1,1020.8L895.8,1021.3M888.8,1019.0L892.7,1004.7L895.0,990.2L897.5,975.6M895.8,1021.3L906.2,1004.6L922.0,992.9M922.0,992.9L915.6,988.3L911.3,981.8M911.3,981.8L904.9,977.5L897.5,975.6M897.3,975.5L897.4,975.6L897.5,975.6M873.2,1017.2L881.0,1018.5L888.8,1019.0M929.3,995.5L925.4,994.9L922.0,992.9M930.3,953.1L921.6,967.9L911.3,981.8M902.4,941.1L910.7,937.4L919.7,936.2M899.4,1043.3L901.1,1038.7L902.7,1034.0M899.4,1043.3L905.1,1052.5L910.4,1061.9M902.7,1034.0L913.8,1031.6L925.0,1032.9M925.0,1032.9L927.1,1043.9L931.8,1054.1M910.4,1061.9L919.1,1062.3L927.8,1060.8M931.8,1054.1L929.8,1057.5L927.8,1060.8M899.4,1043.3L899.4,1043.3L899.4,1043.3M895.8,1021.3L898.1,1028.3L902.7,1034.0M886.4,1093.1L899.7,1078.5L910.4,1061.9M942.1,1008.4L934.6,1021.4L925.0,1032.9M944.5,1051.8L938.1,1052.7L931.8,1054.1M933.0,1074.7L929.4,1068.1L927.8,1060.8M841.5,1005.6L837.0,1001.9L833.1,997.7M841.5,1005.6L847.9,992.2L853.7,978.6M833.1,997.7L834.7,990.9L833.9,984.0M853.7,978.6L844.0,982.2L833.9,984.0M845.5,1011.5L843.1,1008.8L841.5,1005.6M815.9,1030.3L805.7,1023.2L796.5,1014.8M805.4,1000.8L819.2,998.6L833.1,997.7M865.4,971.3L859.7,975.1L853.7,978.6M825.9,972.7L829.7,978.5L833.9,984.0M720.6,1269.2L706.4,1282.2L692.5,1295.5M720.6,1269.2L728.8,1277.9L735.5,1287.8M735.5,1287.8L733.8,1294.0L731.6,1300.0M731.6,1300.0L721.1,1309.5L706.5,1311.4L695.2,1319.5M692.5,1295.5L694.7,1307.4L695.2,1319.5M655.9,1237.0L668.3,1256.3L681.6,1275.1L692.5,1295.5M728.4,1238.3L726.2,1254.2L720.6,1269.2M759.0,1237.5L775.9,1228.5L789.3,1215.0L803.6,1202.7M759.0,1237.5L760.4,1239.3L761.5,1241.4M761.5,1241.4L780.0,1239.3L798.4,1244.2L816.9,1241.5M816.9,1241.5L817.3,1223.2L815.1,1205.1M815.1,1205.1L809.6,1203.8L804.2,1202.4M804.2,1202.4L804.0,1202.6L803.6,1202.7M738.9,1180.8L760.1,1189.0L782.8,1193.1L803.6,1202.7M746.1,1231.1L752.3,1234.7L759.0,1237.5M771.1,1268.1L757.8,1272.0L745.7,1278.2L735.5,1287.8M771.1,1268.1L768.5,1253.9L761.5,1241.4M836.6,1166.1L836.8,1183.9L831.3,1200.8M831.3,1200.8L823.2,1203.1L815.1,1205.1M803.2,1199.5L803.8,1200.9L804.2,1202.4M853.2,1210.7L860.4,1220.7L868.4,1230.0M853.2,1210.7L860.1,1196.9L865.7,1182.5L874.7,1169.8M868.4,1230.0L877.7,1215.8L889.9,1204.5L904.4,1195.7M904.4,1195.7L898.1,1180.0L888.8,1165.8M874.7,1169.8L882.1,1169.1L888.8,1165.8M845.9,1159.8L859.5,1167.1L874.7,1169.8M831.3,1200.8L841.6,1207.2L853.2,1210.7M900.6,1140.5L893.0,1152.4L888.8,1165.8M946.7,1159.0L933.6,1171.5L922.9,1186.4L907.6,1196.5M907.6,1196.5L906.0,1196.3L904.4,1195.7M992.3,1260.1L996.0,1257.3L1000.2,1255.3M992.3,1260.1L982.1,1258.3L971.9,1260.4M963.7,1208.1L955.0,1216.2L948.7,1226.2M948.7,1226.2L954.0,1239.3L962.9,1249.9L971.9,1260.4M942.3,229.2L948.0,226.5L954.1,224.9M942.3,229.2L948.4,240.6L950.9,253.2M954.1,224.9L961.9,235.6L969.7,246.4M950.9,253.2L959.4,255.1L967.9,256.7M969.7,246.4L967.8,251.4L967.9,256.7M921.3,229.1L931.8,231.1L942.3,229.2M929.1,187.2L942.5,190.8L956.5,187.2L970.0,189.9M967.5,211.5L959.9,217.2L954.1,224.9M991.5,241.2L980.9,245.1L969.7,246.4M980.9,281.8L978.4,280.8L976.2,279.3M976.2,279.3L970.7,268.5L967.9,256.7M938.9,156.5L935.3,143.1L928.6,130.8M938.9,156.5L945.6,154.4L952.6,154.9M952.6,154.9L945.1,136.3L941.1,116.7M928.6,130.8L935.7,124.5L941.1,116.7M916.8,170.9L927.4,163.0L938.9,156.5M905.4,137.9L910.6,154.3L916.0,170.6M905.4,137.9L916.6,133.1L928.6,130.8M970.9,159.9L961.8,157.4L952.6,154.9M1012.2,177.7L1021.4,162.9L1033.3,150.1M978.0,152.2L985.7,140.9L993.0,129.4L998.4,116.7M1033.3,150.1L1019.1,141.6L1008.0,130.0L998.4,116.7M1109.7,132.4L1096.2,118.8L1083.3,104.6M905.4,137.9L880.9,121.7L857.6,103.9L834.3,86.0M1191.8,702.1L1177.9,711.9L1165.2,723.2M1191.8,702.1L1175.6,700.6L1159.7,703.8M1159.7,703.8L1162.0,713.6L1165.2,723.2M1183.9,765.2L1177.2,755.7L1170.9,746.0M1170.9,746.0L1167.2,734.8L1165.2,723.2M966.0,358.0L964.0,341.1L959.6,324.6M991.2,303.1L983.4,309.3L974.2,313.0M974.2,313.0L967.8,320.0L959.6,324.6M925.9,344.0L944.0,336.8L959.0,324.6M959.6,324.6L959.3,324.6L959.0,324.6M1023.0,459.1L1032.0,458.8L1041.0,458.5M1023.0,459.1L1018.1,473.4L1015.4,488.5L1009.2,502.4M1041.0,458.5L1037.7,475.6L1039.8,492.7L1042.2,509.7M1009.2,502.4L1025.8,505.7L1042.2,509.7M1004.7,453.0L1013.3,457.7L1023.0,459.1M990.6,512.7L999.2,506.3L1009.2,502.4M1002.6,546.6L1007.6,547.8L1012.7,547.1M1012.7,547.1L1025.2,538.4L1034.0,525.4L1046.4,516.5M1046.4,516.5L1043.8,513.4L1042.2,509.7M1059.5,416.0L1055.8,432.4L1050.6,448.4M1096.0,434.6L1088.2,444.8L1081.3,455.5M1050.6,448.4L1065.5,453.7L1081.3,455.5M1041.0,458.5L1042.6,457.4L1044.3,456.7M1050.6,448.4L1047.8,452.8L1044.3,456.7M1199.9,505.2L1178.5,507.4L1158.4,514.7L1138.4,521.9M1167.2,571.0L1152.9,559.5L1137.9,548.8L1127.3,533.4M1138.4,521.9L1133.2,528.0L1127.3,533.4M1148.8,462.1L1132.4,467.8L1115.1,469.1M1138.4,521.9L1133.2,503.2L1119.5,488.2L1115.1,469.1M1113.7,454.8L1112.3,461.2L1113.1,467.7M1081.3,455.5L1094.6,464.4L1110.2,468.4M1110.2,468.4L1111.6,468.1L1113.1,467.7M1115.1,469.1L1114.0,468.6L1113.1,467.7M1107.8,546.5L1118.6,541.5L1127.3,533.4M1107.8,546.5L1106.8,545.9L1105.8,545.1M1110.2,468.4L1101.0,474.4L1093.4,482.2M1105.8,545.1L1098.7,524.7L1100.5,502.6L1093.4,482.2M1000.9,1439.8L988.1,1446.5L975.2,1453.4L960.3,1454.5M1000.9,1439.8L1004.0,1435.5L1008.2,1432.2M1008.2,1432.2L1006.2,1430.6L1004.0,1429.6M1004.0,1429.6L986.6,1428.6L969.4,1426.1L952.3,1422.7M952.3,1422.7L958.6,1438.1L960.3,1454.5M1013.9,1430.5L1021.9,1433.4L1030.4,1433.5M1013.9,1430.5L1011.1,1431.6L1008.2,1432.2M995.8,1479.2L999.0,1459.6L1000.9,1439.8M982.4,1409.8L963.1,1408.5L943.7,1408.1M982.4,1409.8L993.9,1418.9L1004.0,1429.6M943.7,1408.1L948.6,1415.1L952.3,1422.7M966.9,1490.0L960.5,1476.8L955.6,1463.0M966.9,1490.0L942.0,1495.4L917.3,1502.2L891.7,1503.7M955.6,1463.0L940.8,1464.5L926.4,1459.2L911.6,1460.8M911.6,1460.8L897.8,1474.6L888.6,1491.8M891.7,1503.7L889.0,1498.1L888.6,1491.8M970.3,1493.6L968.3,1492.0L966.9,1490.0M960.3,1454.5L958.3,1459.0L955.6,1463.0M891.7,1506.6L891.5,1505.2L891.7,1503.7M854.0,1471.2L867.0,1475.6L878.8,1482.0L888.6,1491.8M855.5,1435.6L873.4,1431.9L891.6,1433.3L909.7,1432.0M909.7,1432.0L911.5,1446.4L911.6,1460.8M815.7,1479.1L810.6,1481.7L806.7,1485.7M806.7,1485.7L804.0,1491.7L802.8,1498.1M802.8,1498.1L809.1,1509.3L818.9,1517.6M308.2,1140.4L314.7,1153.4L321.0,1166.6M308.2,1140.4L292.8,1133.0L275.9,1131.2M321.0,1166.6L291.3,1159.3L260.6,1160.1L230.7,1154.5M275.9,1131.2L260.0,1137.0L246.0,1147.1L229.0,1150.2M229.0,1150.2L229.4,1152.5L230.7,1154.5M345.9,1125.6L339.0,1140.8L331.9,1155.8L323.8,1170.5M321.1,1123.7L313.3,1131.0L308.2,1140.4M323.8,1170.5L322.2,1168.7L321.0,1166.6M290.3,1102.3L282.6,1116.6L275.9,1131.2M225.0,1146.8L227.2,1148.3L229.0,1150.2M191.0,1235.2L204.5,1212.1L221.6,1191.2L234.4,1167.7M184.5,1235.8L173.9,1230.9L165.1,1223.3M176.5,1140.7L173.5,1141.2L170.9,1142.8M234.4,1167.7L232.0,1161.2L230.7,1154.5M165.1,1223.3L166.6,1196.5L169.4,1169.7L170.9,1142.8M107.2,1242.4L111.6,1233.1L119.1,1226.1M165.1,1223.3L149.6,1221.4L134.4,1224.6L119.1,1226.1M74.4,1193.8L87.9,1200.5L101.3,1207.1L116.6,1208.4M119.1,1226.1L118.7,1217.1L116.6,1208.4M94.6,1084.3L106.1,1092.8L114.5,1104.3M114.5,1104.3L131.1,1114.6L143.7,1129.3L157.2,1142.9M170.9,1142.8L164.1,1143.3L157.2,1142.9M681.5,1575.8L668.2,1568.6L653.2,1567.6L638.9,1563.7M681.5,1575.8L677.3,1592.8L675.6,1610.4L671.1,1627.3M638.9,1563.7L639.4,1577.4L637.8,1591.0L636.4,1604.6M671.1,1627.3L657.8,1622.4L647.0,1613.6L636.4,1604.6M610.4,1502.4L605.6,1503.2L600.7,1502.9M610.4,1502.4L636.1,1523.1L662.4,1542.9L688.4,1563.1M688.4,1563.1L685.2,1569.5L681.5,1575.8M600.7,1502.9L601.1,1509.5L603.7,1515.5M603.7,1515.5L614.2,1532.5L628.1,1546.9L638.9,1563.7M681.5,1655.1L675.6,1641.5L671.1,1627.3M688.4,1563.1L695.3,1558.7L702.1,1554.3M702.1,1554.3L706.4,1553.4L710.7,1554.2M607.2,1596.9L622.2,1599.2L636.4,1604.6M607.2,1596.9L603.8,1602.4L601.6,1608.5M604.3,1592.5L603.9,1589.5L603.0,1586.7M604.3,1592.5L586.9,1595.5L569.7,1599.1L552.5,1602.6M603.0,1586.7L587.3,1585.2L572.8,1578.5L557.2,1576.8M552.5,1602.6L556.5,1590.0L557.2,1576.8M607.2,1596.9L605.9,1594.6L604.3,1592.5M603.7,1515.5L605.0,1539.3L605.5,1563.0L603.0,1586.7M535.6,1627.4L545.8,1616.3L552.5,1602.6M552.3,1537.1L554.0,1557.1L557.2,1576.8M552.3,1537.1L565.2,1524.5L571.6,1506.9L585.3,1494.8M585.3,1494.8L593.1,1498.7L600.7,1502.9M504.0,1560.0L511.3,1584.1L527.1,1604.2L535.2,1627.9M504.0,1560.0L521.1,1554.5L536.2,1544.8L552.3,1537.1M419.2,1607.5L439.1,1609.5L458.5,1614.0M535.0,1628.7L511.4,1619.8L485.4,1621.4L461.9,1612.2M461.9,1612.2L460.1,1612.9L458.5,1614.0M582.3,1371.4L563.8,1344.6L550.4,1314.5L530.1,1288.9M582.3,1371.4L562.2,1369.1L542.6,1375.6L522.5,1374.6M522.5,1374.6L527.2,1346.2L524.5,1317.2L530.1,1288.9M614.8,1284.1L621.2,1307.2L625.5,1330.9L635.3,1353.0M635.3,1353.0L629.5,1366.5L619.3,1377.0M606.2,1383.9L612.8,1380.7L619.3,1377.0M606.2,1383.9L593.3,1379.5L582.3,1371.4M529.9,1288.3L530.0,1288.6L530.1,1288.9M572.5,1472.5L584.3,1443.2L594.1,1413.1L606.2,1383.9M572.5,1472.5L546.0,1468.3L519.7,1463.5L494.2,1455.0M494.2,1455.0L489.0,1449.2L485.5,1442.2M506.7,1380.3L514.6,1377.5L522.5,1374.6M466.1,1324.0L474.5,1315.3L481.4,1305.3M235.4,1387.2L254.9,1399.4L274.3,1411.7L290.4,1428.4M245.4,1347.7L250.1,1340.7L255.8,1334.4M255.8,1334.4L276.6,1334.1L297.3,1331.6L318.0,1329.1M290.4,1428.4L309.8,1423.8L328.4,1416.7L347.2,1410.4M347.2,1410.4L349.9,1403.1L352.9,1395.9M352.9,1395.9L339.4,1374.6L326.2,1353.1L318.0,1329.1M399.4,1287.3L380.1,1289.0L361.1,1292.0L342.6,1297.8M399.4,1287.3L408.5,1300.1L414.8,1314.1L417.3,1329.7M417.3,1329.7L403.7,1337.1L392.0,1348.1L376.8,1352.7M376.8,1352.7L364.1,1341.1L355.0,1326.2L342.2,1314.6M342.2,1314.6L341.0,1307.4L341.1,1300.1M342.6,1297.8L341.9,1299.0L341.1,1300.1M342.7,1291.7L342.7,1294.8L342.6,1297.8M399.3,1285.4L399.4,1286.3L399.4,1287.3M436.9,1334.2L427.2,1331.5L417.3,1329.7M444.2,1420.8L421.6,1422.5L399.0,1424.2L376.4,1426.1M347.2,1410.4L362.2,1417.5L376.4,1426.1M352.9,1395.9L364.3,1383.4L368.3,1366.8L376.8,1352.7M318.0,1329.1L330.0,1321.7L342.2,1314.6M255.8,1334.4L259.8,1317.0L268.6,1301.5L275.4,1285.2M275.4,1285.2L296.8,1292.2L319.5,1293.9L341.1,1300.1M30.5,667.5L34.8,652.7L39.2,638.0L40.7,622.5M31.6,596.5L37.9,608.9L40.7,622.5M142.8,287.9L136.2,307.3L127.5,325.7L116.6,343.1M80.6,324.9L91.1,332.3L100.6,341.0M116.6,343.1L108.4,343.4L100.6,341.0M67.7,380.2L71.8,379.3L76.0,379.4M100.6,341.0L91.9,353.5L86.1,367.8L76.0,379.4M163.1,517.1L175.3,501.1L190.9,488.1L201.6,470.9M163.1,517.1L163.0,517.1L162.9,517.1M162.9,517.1L157.1,493.5L147.1,471.0L144.6,446.5M162.5,422.3L153.0,424.1L143.6,426.0M162.5,422.3L174.4,436.5L192.5,443.4L204.5,457.5M204.5,457.5L202.5,464.1L201.6,470.9M143.6,426.0L144.8,436.2L144.6,446.5M105.1,476.8L115.6,469.2L123.1,458.8M162.9,517.1L159.5,519.3L155.9,520.7M144.6,446.5L134.5,453.9L123.1,458.8M314.8,163.9L316.8,163.6L318.9,163.9M314.8,163.9L313.4,161.8L311.3,160.4M318.9,163.9L330.7,145.1L335.9,122.8L349.5,105.0M311.3,160.4L311.6,138.0L307.1,116.3L302.5,94.7M261.4,194.5L263.4,195.9L265.0,197.6M290.7,154.2L300.8,157.7L311.3,160.4M265.0,197.6L278.8,194.6L289.9,184.7L304.0,182.4M304.0,182.4L309.8,173.4L314.8,163.9M363.8,155.3L362.2,137.7L351.9,122.4L349.5,105.0M345.7,172.9L332.2,168.7L318.9,163.9M277.6,127.5L288.6,118.6L297.1,107.8L302.5,94.7M215.9,240.5L229.1,242.8L242.7,243.4L255.8,246.5M265.0,197.6L270.7,214.9L270.6,233.1M270.6,233.1L264.4,241.1L255.8,246.5M196.8,279.4L206.9,291.1L217.8,302.1M217.8,302.1L226.0,295.5L234.6,289.4M234.6,289.4L243.5,278.2L246.4,263.2L257.1,253.1M255.8,246.5L256.8,249.7L257.1,253.1M234.6,289.4L248.5,291.4L262.1,287.9L275.9,287.4M257.1,253.1L264.2,271.5L275.9,287.4M614.6,584.5L585.9,576.6L558.1,565.1L528.5,560.2M627.2,536.7L594.3,541.0L561.6,546.3L528.6,549.6M528.6,549.6L527.7,554.9L528.5,560.2M528.0,629.5L528.4,612.6L522.2,596.7L520.2,580.1M528.0,629.5L514.1,642.7L503.5,658.7M469.8,645.9L463.8,625.8L463.6,604.6L457.3,584.5M520.2,580.1L499.4,583.3L478.0,579.2L457.3,584.5M432.2,592.7L437.7,587.7L443.1,582.5M457.3,584.5L450.2,583.7L443.1,582.5M519.4,361.4L506.7,370.1L496.1,381.1L486.1,392.7M517.8,449.3L502.1,443.7L485.5,442.9M486.1,392.7L487.4,409.4L485.6,426.2L485.5,442.9M399.2,578.3L394.2,574.4L389.8,569.8M386.1,602.5L376.9,595.4L366.7,590.0M389.8,569.8L379.5,581.4L366.7,590.0M336.0,643.0L339.9,625.6L344.8,608.4L349.6,591.3M349.6,591.3L358.2,591.0L366.7,590.0M260.2,659.6L256.7,662.9L252.7,665.7M260.2,659.6L267.7,660.5L275.0,662.5M252.7,665.7L261.0,683.8L271.9,700.5M275.0,662.5L281.7,675.8L287.0,689.6M271.9,700.5L280.3,696.3L287.0,689.6M284.4,608.7L297.3,618.4L311.1,626.9L321.4,639.6M284.4,608.7L274.7,619.0L269.9,632.8L260.1,643.0M260.1,643.0L258.7,651.3L260.2,659.6M321.4,639.6L306.7,648.9L288.9,651.7L275.0,662.5M288.3,689.6L287.6,689.7L287.0,689.6M321.4,639.6L324.1,640.6L326.7,641.6M257.8,726.8L262.4,712.3L271.9,700.5M257.8,726.8L272.9,736.1L289.7,741.7M230.6,588.8L224.9,599.3L216.3,607.7M284.4,608.7L282.2,603.2L279.3,598.0M273.3,594.6L276.4,596.2L279.3,598.0M260.1,643.0L244.6,632.6L227.4,625.3M227.4,625.3L223.2,615.6L216.3,607.7M147.1,573.5L167.5,585.5L188.6,596.4L206.9,611.7M131.0,596.1L130.8,604.4L128.2,612.3M128.2,612.3L153.7,615.8L179.2,616.4L204.8,614.3M204.8,614.3L206.0,613.1L206.9,611.7M218.8,546.2L201.1,534.9L180.7,528.6L163.1,517.1M216.3,607.7L211.7,610.1L206.9,611.7M886.2,612.7L899.2,616.1L910.8,622.7M886.2,612.7L880.8,624.4L871.5,633.3M871.5,633.3L887.1,642.5L900.6,654.5M910.8,622.7L914.2,630.4L915.7,638.6M900.6,654.5L907.5,651.8L914.7,650.4M914.7,650.4L916.2,644.6L915.7,638.6M887.5,608.1L886.8,610.4L886.2,612.7M933.4,598.0L924.0,612.2L910.8,622.7M846.5,637.6L858.8,634.2L871.5,633.3M894.2,680.5L896.3,667.2L900.6,654.5M942.6,605.0L933.5,616.1L924.6,627.3L915.7,638.6M954.5,670.2L952.6,674.8L951.5,679.6M948.8,660.2L930.9,658.4L914.7,650.4M905.5,699.6L913.3,699.8L920.6,702.5M951.5,679.6L935.5,690.2L920.6,702.5M957.0,619.4L956.3,614.8L954.5,610.5M734.4,584.4L728.2,582.3L721.7,582.3M734.4,584.4L747.2,579.5L759.9,574.2M759.9,574.2L760.2,573.9L760.3,573.6M760.3,573.6L743.6,564.5L726.5,556.1M721.7,582.3L723.2,569.0L726.5,556.1M744.3,630.0L739.0,615.2L735.2,600.1L734.4,584.4M717.4,583.6L719.6,583.2L721.7,582.3M767.5,622.4L767.6,605.9L764.8,589.9L759.9,574.2M762.4,571.3L761.3,572.4L760.3,573.6M724.3,545.4L725.4,550.7L726.5,556.1M810.6,297.4L803.8,280.7L800.2,263.0M810.6,297.4L823.8,284.5L839.3,274.5M800.2,263.0L811.1,252.0L826.5,247.5L837.9,237.2M837.9,237.2L838.5,237.9L839.0,238.7M839.3,274.5L842.4,256.6L839.0,238.7M888.6,182.6L885.5,180.9L882.2,179.7M882.2,179.7L866.1,158.5L847.7,139.0L835.0,115.2M835.0,115.2L833.6,111.5L832.6,107.7M834.3,86.0L833.6,94.2L832.9,102.3M832.6,107.7L833.2,105.1L832.9,102.3M676.3,176.3L678.8,168.7L682.9,161.7M682.9,161.7L688.7,140.6L694.9,119.6L698.5,97.9M832.9,102.3L806.6,123.6L778.0,141.3L749.0,158.4M698.5,97.9L713.7,119.5L733.8,136.8L749.0,158.4M1179.0,766.2L1153.4,749.6L1127.5,733.4L1102.7,715.6M1170.9,746.0L1155.8,731.0L1137.0,720.2L1122.5,704.5M1122.5,704.5L1112.6,710.0L1102.7,715.6M1111.7,753.3L1100.7,737.2L1096.1,718.2M1102.7,715.6L1099.3,716.6L1096.1,718.2M939.4,1197.7L932.6,1203.5L924.6,1207.6M907.6,1196.5L910.8,1199.5L914.5,1201.7M924.6,1207.6L919.5,1204.8L914.5,1201.7M948.7,1226.2L940.3,1224.2L931.6,1223.7M924.6,1207.6L929.0,1215.2L931.6,1223.7M686.2,1517.9L691.2,1499.8L704.3,1485.4L709.3,1467.3M686.2,1517.9L690.2,1523.3L694.2,1528.8M694.2,1528.8L708.8,1516.2L719.2,1499.8M709.3,1467.3L714.3,1483.5L719.2,1499.8M617.8,1500.0L641.4,1503.1L663.7,1510.7L686.2,1517.9M617.8,1500.0L614.3,1501.7L610.4,1502.4M702.1,1554.3L698.3,1541.5L694.2,1528.8M731.4,1517.1L726.3,1507.7L719.2,1499.8M802.8,1498.1L788.9,1509.2L774.3,1519.4M773.7,1558.1L789.6,1556.8L805.4,1554.6M826.6,1532.3L821.3,1538.9L818.1,1546.6M805.4,1554.6L811.1,1549.5L818.1,1546.6M1117.2,869.2L1112.6,882.4L1108.2,895.6M1117.2,869.2L1128.3,871.0L1139.2,874.2M1139.2,874.2L1142.4,879.5L1144.4,885.3M1144.4,885.3L1133.3,894.9L1123.4,905.6L1117.1,919.1M1108.2,895.6L1110.6,908.1L1117.1,919.1M1103.8,850.8L1110.3,860.1L1117.2,869.2M1055.9,877.2L1074.1,881.2L1090.6,889.9L1108.2,895.6M1159.6,844.4L1148.4,858.6L1139.2,874.2M1154.8,890.1L1149.9,887.1L1144.4,885.3M1116.6,927.1L1116.1,923.0L1117.1,919.1M1037.2,963.3L1041.6,947.4L1047.8,932.2L1056.3,918.1M1037.2,963.3L1024.0,963.7L1010.9,966.1M1010.9,966.1L1005.3,960.7L998.8,956.4M998.8,956.4L1002.0,942.0L999.1,926.8L1003.8,912.5M1003.8,912.5L1017.3,905.8L1030.7,899.1L1044.3,892.6M1044.3,892.6L1051.2,904.9L1056.3,918.1M1104.9,938.9L1088.6,932.3L1072.6,924.9L1056.3,918.1M1047.8,973.8L1043.1,967.9L1037.2,963.3M1005.4,989.6L1006.4,977.4L1010.9,966.1M972.2,957.2L985.5,957.6L998.8,956.4M975.2,902.3L990.0,906.1L1003.8,912.5M1046.7,879.4L1045.2,885.9L1044.3,892.6M1039.8,867.3L1035.1,861.8L1028.9,858.2M1028.9,858.2L1016.0,857.5L1003.3,855.7M975.7,901.0L975.4,901.6L975.2,902.2M721.5,766.7L711.5,760.5L700.5,756.4M721.4,726.0L719.5,725.2L717.5,724.7M700.5,756.4L710.3,741.2L717.5,724.7M704.0,800.0L690.3,789.2L678.2,776.5M700.5,756.4L690.9,768.1L678.2,776.5M669.5,853.7L669.4,827.0L661.9,801.3L659.6,774.9M678.2,776.5L668.9,776.4L659.6,774.9M596.4,791.4L611.1,781.7L627.7,775.6L643.6,768.1M659.6,774.9L651.0,773.0L643.6,768.1M733.5,691.7L721.6,702.8L712.4,716.2M712.4,716.2L714.6,720.6L717.5,724.7M729.9,671.5L717.4,682.0L703.7,691.1L692.7,703.4M712.4,716.2L703.1,708.9L692.7,703.4M812.6,761.6L816.8,769.0L822.7,775.1M812.6,761.6L798.5,768.3L783.4,770.4L767.9,770.2M822.7,775.1L806.1,779.0L789.0,776.1L772.4,778.5M767.9,770.2L770.9,774.0L772.4,778.5M763.0,765.3L765.9,767.3L767.9,770.2M808.8,731.5L809.5,746.7L812.6,761.6M778.1,793.5L775.8,785.8L772.4,778.5M973.8,736.1L978.3,732.9L982.6,729.3M973.8,736.1L957.7,739.7L941.4,738.1M941.4,738.1L943.5,721.9L952.4,708.5L958.9,694.1M958.9,694.1L969.1,708.2L980.3,721.4M980.3,721.4L981.8,725.2L982.6,729.3M933.0,740.2L926.7,721.4L920.6,702.5M933.0,740.2L937.4,739.8L941.4,738.1M951.5,679.6L955.6,686.7L958.9,694.1M799.3,1060.2L798.6,1060.0L797.9,1059.5M799.3,1060.2L791.9,1078.3L781.8,1095.0M797.9,1059.5L785.9,1061.6L774.7,1066.4M774.7,1066.4L776.1,1077.3L776.3,1088.2M776.3,1088.2L779.6,1091.2L781.8,1095.0M819.1,1059.0L809.2,1059.0L799.3,1060.2M783.9,1044.0L792.0,1050.8L797.9,1059.5M786.4,1107.6L784.5,1101.2L781.8,1095.0M768.1,1057.5L771.7,1061.7L774.7,1066.4M742.5,1075.3L760.0,1080.2L776.3,1088.2M774.9,1290.7L760.1,1300.5L742.9,1304.8M774.9,1290.7L768.2,1307.2L767.8,1324.9M742.9,1304.8L748.8,1316.6L753.2,1329.2M767.8,1324.9L760.7,1327.8L753.2,1329.2M780.7,1280.3L775.2,1274.7L771.1,1268.1M780.7,1280.3L778.3,1285.8L774.9,1290.7M731.6,1300.0L737.4,1302.2L742.9,1304.8M695.2,1319.5L693.9,1324.6L692.3,1329.6M753.2,1329.2L744.5,1339.6L733.0,1346.7M733.0,1346.7L720.8,1337.8L707.2,1332.1L692.3,1329.6M635.3,1353.0L649.0,1351.2L661.1,1343.9L674.7,1341.4M674.7,1341.4L683.2,1335.1L692.3,1329.6M943.7,1408.1L940.2,1405.4L937.1,1402.3M909.7,1432.0L911.4,1421.5L915.1,1411.5M937.1,1402.3L926.4,1407.6L915.1,1411.5M842.1,1394.5L842.5,1394.1L843.0,1393.7M843.0,1393.7L856.2,1388.2L869.3,1382.5M915.1,1411.5L899.0,1403.1L883.7,1393.4L869.3,1382.5M1045.6,155.4L1045.1,154.3L1044.2,153.5M1045.6,155.4L1046.9,156.4L1048.1,157.4M1044.2,153.5L1055.0,139.0L1067.6,126.1L1078.9,112.1M1048.1,157.4L1065.4,159.6L1082.8,157.5M1082.8,157.5L1081.6,142.3L1079.9,127.3L1078.9,112.1M1030.7,195.4L1032.2,180.8L1037.6,167.6L1045.6,155.4M1033.3,150.1L1038.7,151.9L1044.2,153.5M1058.1,176.0L1054.1,166.2L1048.1,157.4M1083.3,104.6L1081.1,108.4L1078.9,112.1M1093.8,162.8L1088.2,160.4L1082.8,157.5M990.6,701.5L1002.9,698.3L1015.6,699.4M990.6,701.5L992.5,690.6L992.6,679.5M1015.6,699.4L1005.2,690.5L997.3,679.4M992.6,679.5L994.9,679.3L997.3,679.4M978.3,672.8L985.4,676.2L992.6,679.5M980.3,721.4L986.3,711.9L990.6,701.5M1019.8,662.6L1008.4,670.8L997.3,679.4M1019.8,662.6L1029.5,674.6L1037.3,687.8M1037.3,687.8L1030.2,696.2L1022.2,703.8M1022.2,703.8L1019.1,701.3L1015.6,699.4M1019.8,661.6L1016.3,652.5L1015.9,642.8M1019.8,661.6L1019.7,662.1L1019.8,662.6M998.9,725.1L992.5,728.2L985.7,730.0M998.9,725.1L1016.9,733.7L1035.6,741.1L1051.2,754.1M985.7,730.0L995.7,750.3L1010.9,766.7L1025.4,783.7M1025.4,783.7L1033.8,779.4L1042.8,776.1M1042.8,776.1L1046.6,765.0L1051.2,754.1M1021.7,707.9L1021.7,705.8L1022.2,703.8M1021.7,707.9L1011.9,718.7L998.9,725.1M982.6,729.3L984.1,729.8L985.7,730.0M1054.2,748.7L1045.8,733.2L1031.8,722.1L1021.7,707.9M1054.2,748.7L1052.6,751.4L1051.2,754.1M1080.3,803.7L1067.8,794.5L1057.1,782.9L1042.8,776.1M1023.0,786.1L1024.0,784.7L1025.4,783.7M1023.0,786.1L1025.4,810.1L1027.6,834.1L1028.9,858.2M1054.2,748.7L1069.0,740.5L1079.4,726.6L1093.8,717.8M1096.1,718.2L1094.9,718.1L1093.8,717.8M892.3,321.6L884.1,303.3L883.3,283.3M892.3,321.6L878.2,324.5L863.9,326.7M851.7,321.7L857.6,324.8L863.9,326.7M851.7,321.7L859.6,308.0L862.2,292.5L866.4,277.6M883.3,283.3L877.7,279.6L872.9,274.9M866.4,277.6L869.4,275.6L872.9,274.9M908.5,339.7L905.4,332.5L902.4,325.4M864.9,361.8L868.5,369.2L874.3,375.1M864.9,361.8L862.8,344.3L863.9,326.7M880.3,378.7L878.4,377.8L876.5,376.8M902.4,325.4L897.5,323.1L892.3,321.6M874.3,375.1L875.6,375.8L876.5,376.8M839.8,321.6L845.8,320.6L851.7,321.7M830.8,361.2L847.8,362.7L864.9,361.8M809.8,303.1L810.1,301.4L809.9,299.8M809.9,299.8L810.4,298.6L810.6,297.4M839.3,274.5L853.0,274.7L866.4,277.6M911.6,234.4L917.7,247.2L919.1,261.4M919.1,261.4L907.9,269.6L898.5,279.7M899.3,231.7L888.9,241.9L877.4,250.9M898.5,279.7L890.7,280.4L883.3,283.3M877.4,250.9L877.5,263.3L872.9,274.9M839.0,238.7L852.4,241.1L865.5,244.3L877.4,250.9M947.5,296.0L946.5,305.5L943.6,314.5M947.5,296.0L943.7,287.4L942.5,278.1M933.8,277.7L928.1,290.7L920.1,302.4M933.8,277.7L937.8,277.6L941.8,277.8M943.6,314.5L930.8,313.3L918.5,309.5M941.8,277.8L942.1,278.0L942.5,278.1M918.5,309.5L919.3,305.9L920.1,302.4M974.2,313.0L959.8,306.2L947.5,296.0M959.0,324.6L950.5,320.8L943.6,314.5M976.2,279.3L959.4,278.5L942.5,278.1M919.1,261.4L927.7,268.3L933.8,277.7M898.5,279.7L907.9,292.4L920.1,302.4M950.9,253.2L944.9,265.0L941.8,277.8M902.4,325.4L909.7,316.7L918.5,309.5M1070.1,481.1L1075.4,483.4L1080.5,486.0M1070.1,481.1L1063.7,493.3L1057.1,505.4L1051.9,518.2M1080.5,486.0L1078.3,500.4L1072.5,514.3L1074.4,529.3M1051.9,518.2L1062.3,522.9L1072.0,528.9M1072.0,528.9L1073.2,529.1L1074.4,529.3M1044.3,456.7L1056.7,469.4L1070.1,481.1M1093.4,482.2L1087.2,484.8L1080.5,486.0M1046.4,516.5L1049.2,517.1L1051.9,518.2M1105.8,545.1L1088.7,540.0L1074.4,529.3M1037.2,566.6L1049.4,554.6L1062.3,543.2L1072.0,528.9M1037.2,566.6L1025.3,556.5L1012.7,547.1M337.4,1256.5L335.2,1255.1L332.9,1253.8M275.4,1285.2L275.8,1283.2L275.5,1281.1M332.9,1253.8L318.0,1260.4L301.1,1258.4L286.3,1265.2M275.5,1281.1L282.1,1274.0L286.3,1265.2M330.6,1228.6L315.3,1225.6L300.8,1220.0L286.0,1215.1M330.6,1228.6L339.1,1214.8L346.8,1200.5L357.9,1188.4M357.9,1188.4L342.6,1181.4L326.5,1176.7M326.5,1176.7L309.6,1183.1L296.2,1194.7L282.0,1205.1M282.0,1205.1L284.2,1210.0L286.0,1215.1M332.9,1253.8L329.4,1241.4L330.6,1228.6M286.3,1265.2L283.2,1248.5L284.4,1231.8L286.0,1215.1M376.1,1187.2L367.1,1188.8L357.9,1188.4M323.8,1170.5L324.7,1173.8L326.5,1176.7M234.4,1167.7L246.4,1180.0L256.9,1193.6M256.9,1193.6L268.3,1201.8L282.0,1205.1M116.7,1207.9L132.9,1188.6L142.5,1165.3L155.6,1144.1M116.7,1207.9L105.5,1193.6L96.9,1177.6L87.5,1162.1M155.6,1144.1L134.0,1145.8L114.6,1155.5L93.8,1160.0M87.5,1162.1L90.6,1161.0L93.8,1160.0M116.6,1208.4L116.7,1208.1L116.7,1207.9M157.2,1142.9L156.4,1143.5L155.6,1144.1M78.6,1160.0L83.2,1160.3L87.5,1162.1M114.5,1104.3L104.2,1121.6L97.0,1140.1L93.8,1160.0M290.4,1428.4L286.9,1446.1L291.9,1463.8L290.3,1481.6M376.4,1426.1L379.8,1444.9L385.4,1463.1L391.8,1481.1M290.3,1481.6L311.1,1485.9L332.6,1480.9L353.3,1486.1M391.8,1481.1L372.5,1483.2L353.3,1486.1M463.1,1432.6L441.2,1452.4L418.4,1471.3L397.5,1492.1M391.8,1481.1L394.7,1486.6L397.5,1492.1M504.0,1560.0L501.4,1560.1L498.9,1559.2M461.9,1612.2L464.6,1604.0L469.8,1597.1M498.9,1559.2L490.0,1572.4L479.6,1584.5L469.8,1597.1M572.5,1472.5L580.0,1483.1L585.3,1494.8M494.2,1455.0L480.0,1475.0L472.8,1499.1L457.4,1518.5M498.9,1559.2L484.5,1546.2L471.5,1531.9L457.4,1518.5M42.9,599.2L46.3,606.0L50.2,612.5M42.9,599.2L56.0,593.7L70.0,592.0M50.2,612.5L63.8,613.3L77.0,616.7M70.0,592.0L74.0,604.2L77.0,616.7M31.6,596.5L37.4,597.4L42.9,599.2M40.7,622.5L45.0,617.2L50.2,612.5M70.5,589.6L70.4,590.8L70.0,592.0M82.5,625.8L80.5,620.8L77.0,616.7M127.7,614.1L127.8,613.2L128.2,612.3M261.5,519.5L261.4,518.7L261.5,517.8M261.5,517.8L250.9,508.5L240.1,499.4L232.9,487.0M201.6,470.9L211.1,473.3L219.4,478.5M232.9,487.0L226.4,482.2L219.4,478.5M217.7,338.9L223.7,346.8L226.6,356.4M217.7,338.9L218.5,325.5L218.9,312.1M226.6,356.4L233.2,344.2L243.6,334.1L247.2,320.2M247.2,320.2L232.7,317.5L220.3,309.6M220.3,309.6L219.5,310.8L218.9,312.1M187.4,358.2L202.0,347.6L217.7,338.9M187.4,358.2L204.1,361.2L218.8,368.7L232.9,377.6M232.9,377.6L228.6,367.4L226.6,356.4M169.0,356.2L178.1,358.5L187.4,358.2M169.0,356.2L172.7,349.4L174.1,341.9M174.1,341.9L188.0,330.5L206.0,325.1L218.9,312.1M165.2,290.8L167.4,307.9L170.2,325.0L174.1,341.9M217.8,302.1L219.5,305.7L220.3,309.6M169.0,356.2L168.0,356.7L167.2,357.6M167.2,357.6L174.4,370.0L176.4,384.1L180.5,397.5M180.5,397.5L196.0,398.5L211.0,402.2L226.0,405.7M232.9,377.6L234.4,379.9L236.6,381.5M236.6,381.5L232.3,394.0L226.0,405.7M140.7,358.4L142.0,379.7L133.7,400.1L135.0,421.5M140.7,358.4L133.6,354.3L126.0,351.5M126.0,351.5L115.1,371.2L107.0,392.1L97.7,412.4M135.0,421.5L126.1,420.3L117.3,422.4M117.3,422.4L108.6,421.9L99.8,422.6M99.8,422.6L99.6,417.3L97.7,412.4M167.2,357.6L154.0,358.0L140.7,358.4M180.5,397.5L172.5,410.7L162.5,422.3M143.6,426.0L138.9,424.3L135.0,421.5M116.6,343.1L121.8,346.8L126.0,351.5M76.0,379.4L89.9,393.9L97.7,412.4M123.1,458.8L118.8,440.8L117.3,422.4M68.6,454.0L77.8,442.4L89.3,433.0L99.8,422.6M312.8,225.8L298.0,227.6L284.6,234.5M312.8,225.8L331.3,232.8L350.5,237.5L368.4,246.0M284.6,234.5L294.8,246.7L296.3,263.2L304.7,276.3M304.7,276.3L327.6,271.6L348.3,261.5L369.0,251.2M369.0,251.2L368.4,248.6L368.4,246.0M304.0,182.4L308.6,196.5L307.7,211.8L312.8,225.8M270.6,233.1L277.6,233.4L284.6,234.5M373.6,231.2L370.5,238.4L368.4,246.0M275.9,287.4L280.6,292.2L284.8,297.4M284.8,297.4L286.0,296.9L287.3,296.8M287.3,296.8L294.6,285.3L304.7,276.3M391.4,295.9L374.8,307.8L354.4,312.1L337.3,322.9M391.4,295.9L382.5,281.8L377.1,265.8L369.0,251.2M337.3,322.9L319.2,317.0L302.6,308.0L287.3,296.8M394.9,298.3L393.3,296.9L391.4,295.9M541.3,491.6L532.1,505.7L526.2,521.5M528.6,549.6L526.4,542.1L525.8,534.3M526.2,521.5L526.4,527.9L525.8,534.3M528.5,560.2L523.0,569.6L520.2,580.1M443.1,582.5L439.9,568.8L435.0,555.4L433.0,541.4M525.8,534.3L494.6,533.9L463.9,539.5L433.0,541.4M434.8,337.3L431.8,355.1L433.4,372.8L436.6,390.4M406.4,318.7L400.4,333.4L391.7,346.7L382.9,359.9M382.9,359.9L387.7,380.5L398.7,398.7L405.0,418.7M436.6,390.4L426.9,400.7L417.8,411.8L405.0,418.7M486.1,392.7L468.5,395.1L451.6,400.8M436.6,390.4L443.9,395.9L451.6,400.8M485.5,442.9L476.7,443.6L468.1,444.9M451.6,400.8L454.7,416.4L462.6,430.2L468.1,444.9M279.3,598.0L292.9,590.6L303.0,578.9M278.1,528.8L290.5,531.9L303.2,530.7M303.2,530.7L300.9,546.7L305.5,562.8L303.0,578.9M349.6,591.3L346.8,583.1L341.7,576.0M303.0,578.9L322.3,577.1L341.7,576.0M116.3,701.0L130.9,708.2L145.8,714.7M122.7,742.1L136.4,736.3L148.2,727.0M148.2,727.0L146.9,720.9L145.8,714.7M163.7,808.2L171.9,796.9L171.8,782.5L178.1,770.4M148.2,727.0L159.0,740.9L169.5,755.0L178.1,770.4M259.5,799.3L245.7,784.8L229.7,772.5L217.6,756.4M178.1,770.4L191.0,765.0L205.3,763.5L217.6,756.4M252.7,665.7L245.9,666.5L239.8,669.4M227.4,625.3L230.5,639.2L231.4,653.4M239.8,669.4L236.6,660.8L231.4,653.4M204.8,614.3L194.4,625.5L190.6,640.6L181.7,652.7M231.4,653.4L214.8,653.0L198.3,653.0L181.7,652.7M137.8,635.6L150.5,643.7L161.0,654.8L174.7,661.6M174.7,661.6L179.0,657.8L181.7,652.7M704.8,214.7L713.3,213.9L721.6,216.0M704.8,214.7L711.5,231.0L720.8,245.8L730.0,260.7M721.6,216.0L736.6,224.8L753.8,227.5M740.0,260.3L745.2,243.2L753.8,227.5M740.0,260.3L739.4,261.0L738.8,261.7M738.8,261.7L734.4,261.0L730.0,260.7M682.8,238.6L695.1,249.0L711.4,252.7L723.4,263.5M694.2,210.1L697.0,211.2L699.8,211.9M704.8,214.7L702.5,212.9L699.8,211.9M730.0,260.7L726.5,261.5L723.4,263.5M690.4,288.1L691.8,287.7L693.0,286.8M723.4,263.5L710.4,278.0L693.0,286.8M729.3,306.8L726.5,300.4L725.4,293.6M693.0,286.8L709.3,289.6L725.4,293.6M754.4,313.9L752.4,303.9L751.0,293.9M725.4,293.6L735.6,287.2L743.9,278.5M751.0,293.9L747.8,286.1L743.9,278.5M809.9,299.8L799.7,290.3L786.5,286.8L774.2,281.5M751.0,293.9L761.5,285.6L774.2,281.5M738.8,261.7L740.0,265.2L742.2,268.3M743.9,278.5L743.8,273.3L742.2,268.3M699.8,211.9L711.8,200.3L729.0,197.3L741.7,186.9M721.6,216.0L735.6,207.0L747.0,195.0M747.0,195.0L745.0,190.5L741.7,186.9M682.9,161.7L702.4,169.2L720.8,179.6L741.4,184.5M741.7,186.9L741.6,185.7L741.4,184.5M789.3,398.1L803.1,398.5L815.7,392.8L828.9,390.7M827.3,365.1L827.6,366.3L828.1,367.4M828.1,367.4L829.3,379.0L828.9,390.7M874.3,375.1L861.2,378.2L847.8,379.3M828.1,367.4L836.9,375.1L847.8,379.3M1037.3,687.8L1053.8,687.2L1070.2,685.9M1093.8,717.8L1083.1,704.4L1075.2,689.3M1070.2,685.9L1072.7,687.6L1075.2,689.3M1137.0,695.5L1134.1,696.4L1131.0,696.5M1137.0,695.5L1152.9,685.3L1164.2,670.1L1178.8,658.5M1131.0,696.5L1126.8,680.8L1129.9,664.3L1125.7,648.5M1178.8,658.5L1162.5,652.6L1145.8,647.6L1129.1,642.7M1129.1,642.7L1127.8,645.8L1125.7,648.5M1159.7,703.8L1147.9,700.8L1137.0,695.5M1122.5,704.5L1127.1,700.9L1131.0,696.5M1099.2,653.5L1088.9,663.8L1082.5,676.9L1075.2,689.3M1099.2,653.5L1112.9,653.3L1125.7,648.5M1129.0,604.5L1129.0,604.5L1128.9,604.5M1128.9,604.5L1129.2,623.6L1129.1,642.7M836.2,1566.3L830.8,1564.1L826.4,1560.2M836.2,1566.3L833.7,1571.7L833.3,1577.6M826.4,1560.2L820.5,1562.9L815.6,1567.2M833.3,1577.6L826.2,1580.9L819.4,1584.7M819.4,1584.7L817.3,1576.0L815.6,1567.2M850.9,1552.6L843.8,1559.7L836.2,1566.3M818.1,1546.6L821.1,1554.1L826.4,1560.2M870.1,1599.7L857.7,1592.6L847.4,1582.0L833.3,1577.6M805.4,1554.6L809.9,1561.4L815.6,1567.2M818.1,1586.1L818.8,1585.4L819.4,1584.7M814.4,852.6L826.3,838.8L840.4,827.3M787.3,795.4L800.7,797.5L814.3,796.7L827.8,796.8M840.4,827.3L841.6,824.0L842.8,820.7M842.8,820.7L834.8,809.0L827.8,796.8M854.1,726.3L852.2,738.9L852.8,751.6M822.7,775.1L824.3,777.4L826.6,779.1M852.8,751.6L841.8,767.3L826.6,779.1M827.8,796.8L826.7,788.0L826.6,779.1M878.8,726.0L889.0,737.8L900.1,748.6L910.5,760.2M933.0,740.2L928.7,748.1L923.8,755.6M910.5,760.2L917.3,758.3L923.8,755.6M852.8,751.6L867.7,762.4L875.2,780.1L889.9,791.0M910.5,760.2L897.4,773.7L889.9,791.0M973.8,736.1L974.7,756.3L971.3,776.1L968.8,796.0M923.8,755.6L941.2,766.3L951.3,785.3L968.8,796.0M842.8,820.7L858.9,816.2L871.7,804.3L888.3,801.0M889.9,791.0L888.3,795.8L888.3,801.0M1023.0,786.1L1005.6,791.3L987.9,794.8L970.1,798.6M968.8,796.0L969.3,797.4L970.1,798.6M976.0,842.9L965.2,836.1L954.7,829.0M970.1,798.6L961.3,813.2L954.7,829.0M962.8,889.6L956.2,870.5L958.3,849.7L951.0,830.8M954.7,829.0L952.9,829.9L951.0,830.8M872.0,859.6L888.6,848.1L908.9,844.0L925.3,832.2M872.0,859.6L874.2,878.0L881.0,895.3M886.2,894.1L883.7,895.0L881.0,895.3M886.2,894.1L902.3,886.9L917.7,878.4M917.7,878.4L920.4,863.4L927.4,849.8L931.4,835.3M931.4,835.3L928.5,833.4L925.3,832.2M840.4,827.3L851.0,838.0L864.0,846.4L872.0,859.6M888.3,801.0L901.9,809.8L913.1,821.7L925.3,832.2M880.4,896.0L880.7,895.6L881.0,895.3M925.4,927.3L913.6,914.7L899.0,905.5L886.2,894.1M925.1,886.2L921.6,882.1L917.7,878.4M951.0,830.8L941.2,833.2L931.4,835.3M715.8,643.0L703.2,655.4L692.4,669.3L681.8,683.4M629.8,622.1L626.7,628.1L624.1,634.2M681.8,683.4L663.1,666.4L642.7,651.4L624.1,634.2M692.7,703.4L688.0,701.6L684.0,698.7M681.8,683.4L683.0,691.0L684.0,698.7M643.6,768.1L644.6,754.6L646.1,741.2L647.3,727.7M684.0,698.7L672.3,709.1L660.5,719.3L647.3,727.7M528.0,629.5L552.2,637.1L577.5,641.1L600.6,652.0M600.6,652.0L612.0,642.6L624.1,634.2M733.0,1346.7L740.7,1359.0L746.8,1372.2L753.1,1385.2M674.7,1341.4L691.5,1362.6L704.5,1386.5L720.9,1408.0M753.1,1385.2L734.8,1393.5L720.9,1408.0M806.7,1485.7L791.0,1477.6L779.3,1464.7L766.4,1453.3M767.2,1516.1L754.6,1498.0L747.2,1476.8L732.5,1460.0M766.4,1453.3L749.1,1454.9L732.5,1460.0M619.3,1377.0L647.2,1397.8L672.2,1422.3L700.8,1442.3M720.9,1408.0L712.6,1426.1L700.8,1442.3M709.3,1467.3L709.6,1461.6L708.8,1455.9M732.5,1460.0L720.9,1456.6L708.8,1455.9M617.8,1500.0L646.4,1484.1L675.5,1469.0L702.0,1449.4M708.8,1455.9L705.3,1452.8L702.0,1449.4M700.8,1442.3L700.9,1445.9L702.0,1449.4M914.5,1201.7L905.5,1219.0L904.6,1238.8L897.6,1256.7M931.6,1223.7L919.1,1238.3L912.0,1256.3M897.6,1256.7L904.8,1257.0L912.0,1256.3M868.4,1230.0L867.7,1240.7L870.7,1250.9M870.7,1250.9L883.2,1254.3L895.9,1256.9M897.6,1256.7L896.8,1256.7L895.9,1256.9M971.9,1260.4L955.9,1265.3L942.3,1275.2M912.0,1256.3L927.7,1264.9L942.3,1275.2M1013.9,1430.5L1012.8,1406.0L1001.9,1383.3L1000.9,1358.8M982.4,1409.8L980.2,1395.7L980.1,1381.6L984.2,1367.8M984.2,1367.8L992.8,1363.8L1000.9,1358.8M992.3,1260.1L988.3,1280.9L991.2,1302.3L987.1,1323.1M1015.2,1347.1L1012.4,1347.9L1009.5,1347.9M987.1,1323.1L999.4,1334.5L1009.5,1347.9M1000.9,1358.8L1005.4,1353.5L1009.5,1347.9M895.9,1256.9L901.8,1277.1L904.9,1297.8L904.6,1318.9M942.3,1275.2L942.9,1287.8L939.1,1299.7M904.6,1318.9L921.5,1308.6L939.1,1299.7M987.1,1323.1L972.6,1320.7L957.9,1319.0M939.1,1299.7L947.5,1310.3L957.9,1319.0M226.5,1250.3L242.7,1256.0L256.5,1266.2M226.5,1250.3L234.7,1235.0L244.2,1220.5L252.6,1205.3M252.6,1205.3L257.9,1225.3L251.3,1246.1L256.5,1266.2M213.6,1250.8L220.1,1250.8L226.5,1250.3M275.5,1281.1L266.7,1272.8L256.5,1266.2M256.9,1193.6L254.6,1199.4L252.6,1205.3M397.5,1492.1L399.5,1496.9L399.9,1502.1M457.4,1518.5L456.5,1518.9L455.6,1519.1M399.9,1502.1L418.8,1506.6L438.1,1509.8L455.6,1519.1M340.6,1619.3L356.7,1611.9L371.1,1601.4L386.8,1593.1M419.2,1607.5L410.2,1602.1L402.6,1594.9M386.8,1593.1L394.7,1594.1L402.6,1594.9M469.8,1597.1L462.5,1578.1L448.9,1562.2L442.3,1542.8M402.6,1594.9L416.4,1578.0L430.6,1561.4L442.3,1542.8M455.6,1519.1L450.9,1532.1L442.3,1542.8M284.8,297.4L275.3,310.5L267.9,325.0M247.2,320.2L256.8,324.3L267.2,325.5M267.2,325.5L267.5,325.3L267.9,325.0M337.3,322.9L331.2,338.3L321.2,351.6M267.9,325.0L285.7,333.8L302.9,343.9L321.2,351.6M204.5,457.5L216.5,444.0L229.1,431.0M226.0,405.7L228.8,415.1L229.5,424.8M229.1,431.0L228.8,427.9L229.5,424.8M475.8,502.2L463.3,517.2L447.2,528.1L431.8,539.7M475.8,502.2L464.0,490.6L453.9,477.3L440.5,467.4M435.2,468.1L437.8,467.2L440.5,467.4M435.2,468.1L434.0,490.2L426.8,511.0L421.9,532.3M421.9,532.3L426.9,536.0L431.8,539.7M526.2,521.5L510.7,511.8L493.7,505.7L475.8,502.2M433.0,541.4L432.4,540.6L431.8,539.7M468.1,444.9L456.0,458.1L440.5,467.4M405.0,418.7L400.0,430.9L392.1,441.4M395.3,449.7L393.9,445.5L392.1,441.4M395.3,449.7L408.4,456.3L422.9,459.7L435.2,468.1M387.4,534.4L385.9,552.3L389.8,569.8M387.4,534.4L404.8,536.2L421.9,532.3M330.6,494.2L349.2,483.6L369.2,475.8L386.5,462.9M330.6,494.2L329.5,507.4L330.8,520.6M330.8,520.6L340.0,527.5L348.4,535.4M386.5,462.9L387.8,486.4L384.1,509.8L385.0,533.2M385.0,533.2L366.7,534.9L348.4,535.4M269.6,496.3L264.9,506.8L261.5,517.8M269.6,496.3L288.3,491.7L307.1,487.8L326.5,488.9M326.5,488.9L328.2,491.8L330.6,494.2M303.2,530.7L316.9,525.4L330.8,520.6M341.7,576.0L343.3,562.3L347.4,549.1L348.4,535.4M387.4,534.4L386.2,533.7L385.0,533.2M395.3,449.7L390.0,455.7L386.5,462.9M227.8,683.6L211.2,676.9L193.1,677.8L176.2,673.0M227.8,683.6L230.0,699.6L236.0,714.3L242.5,728.8M242.5,728.8L235.3,737.7L225.9,744.2M225.9,744.2L208.5,721.3L194.3,696.3L175.6,674.3M175.6,674.3L175.9,673.6L176.2,673.0M239.8,669.4L233.5,676.3L227.8,683.6M174.7,661.6L176.0,667.2L176.2,673.0M257.8,726.8L250.1,727.4L242.5,728.8M217.6,756.4L222.1,750.5L225.9,744.2M145.8,714.7L154.2,700.1L166.4,688.3L175.6,674.3M782.4,254.4L786.3,253.6L790.0,252.1M782.4,254.4L772.2,261.9L764.6,272.1M771.3,276.0L768.0,274.0L764.6,272.1M771.3,276.0L782.1,265.3L790.4,252.7M790.4,252.7L790.2,252.4L790.0,252.1M788.7,243.7L789.4,247.8L790.0,252.1M788.7,243.7L772.6,236.0L760.0,223.4M740.0,260.3L754.2,259.1L768.4,257.4L782.4,254.4M760.0,223.4L756.8,225.3L753.8,227.5M742.2,268.3L753.1,272.1L764.6,272.1M774.2,281.5L773.2,278.5L771.3,276.0M800.2,263.0L794.6,258.6L790.4,252.7M837.9,237.2L837.4,235.9L837.3,234.6M788.7,243.7L799.7,234.3L806.5,221.6M806.5,221.6L822.9,225.7L837.3,234.6M880.1,181.2L866.6,184.2L855.6,192.0L844.8,200.0M880.1,181.2L872.9,195.6L864.3,209.1M844.8,200.0L854.0,205.7L864.3,209.1M882.2,179.7L881.3,180.6L880.1,181.2M835.0,115.2L834.9,139.9L830.1,164.6L833.6,189.4M833.6,189.4L837.4,195.7L843.3,200.1M844.8,200.0L844.0,200.1L843.3,200.1M833.6,189.4L817.9,196.4L802.3,203.7M802.3,203.7L803.9,212.7L806.5,221.6M837.3,234.6L838.1,232.4L839.3,230.5M843.3,200.1L842.1,215.4L839.3,230.5M749.0,158.4L749.3,158.6L749.4,159.0M741.4,184.5L745.4,175.9L750.1,167.7M749.4,159.0L749.1,163.4L750.1,167.7M873.6,416.3L864.1,411.0L854.8,405.5M876.5,376.8L865.7,383.8L854.6,390.3M854.6,390.3L854.0,397.9L854.8,405.5M1049.1,634.1L1055.0,636.7L1061.3,638.0M1049.1,634.1L1043.3,646.4L1038.7,659.2M1061.3,638.0L1062.1,650.6L1063.1,663.2M1038.7,659.2L1051.0,660.5L1063.1,663.2M1019.8,661.6L1029.4,661.4L1038.7,659.2M1070.2,685.9L1065.6,674.9L1063.1,663.2M1060.2,603.8L1078.4,601.8L1095.2,595.4L1111.5,587.4M1060.2,603.8L1066.9,616.6L1073.8,629.3M1078.7,628.0L1076.2,628.3L1073.8,629.3M1078.7,628.0L1089.2,615.1L1103.0,605.6L1114.3,593.6M1114.3,593.6L1113.2,590.3L1111.5,587.4M1099.2,653.5L1089.4,640.4L1078.7,628.0M1061.3,638.0L1067.2,633.2L1073.8,629.3M1128.9,604.5L1122.1,598.4L1114.3,593.6M1107.8,546.5L1108.4,557.7L1105.4,568.6M1105.4,568.6L1107.5,578.3L1111.5,587.4M1055.3,600.2L1051.8,590.7L1049.4,580.9M1055.3,600.2L1043.3,612.9L1034.9,628.4M1013.7,606.4L1015.4,616.9L1017.9,627.2M1013.7,606.4L1024.2,597.9L1034.9,589.8L1042.1,578.1M1042.1,578.1L1045.9,579.1L1049.4,580.9M1017.9,627.2L1026.4,628.1L1034.9,628.4M1105.4,568.6L1087.6,576.4L1067.8,575.5L1049.4,580.9M1060.2,603.8L1057.6,602.2L1055.3,600.2M1049.1,634.1L1041.7,632.0L1034.9,628.4M991.3,588.8L1002.0,598.3L1013.7,606.4M1015.4,630.7L1016.8,629.1L1017.9,627.2M1037.2,566.6L1040.0,572.2L1042.1,578.1M599.5,672.9L612.8,692.5L627.4,711.0L645.7,726.3M599.5,672.9L587.5,690.2L573.3,706.1L564.3,725.4M645.7,726.3L618.6,722.8L591.5,725.2L564.3,725.8M564.3,725.4L564.3,725.6L564.3,725.8M647.3,727.7L646.5,727.0L645.7,726.3M600.6,652.0L599.2,662.4L599.5,672.9M502.6,665.7L523.9,684.9L545.8,703.5L564.3,725.4M558.4,756.0L561.5,740.9L564.3,725.8M755.0,1385.5L770.4,1396.0L788.2,1401.8M755.0,1385.5L767.7,1371.2L772.5,1352.1L784.2,1337.1M797.3,1337.6L797.6,1358.6L800.6,1379.3L805.0,1399.8M797.3,1337.6L790.8,1336.8L784.2,1337.1M805.0,1399.8L796.6,1400.3L788.2,1401.8M753.1,1385.2L754.0,1385.5L755.0,1385.5M766.4,1453.3L773.7,1436.2L780.1,1418.6L788.2,1401.8M767.8,1324.9L776.7,1330.1L784.2,1337.1M808.2,1400.4L806.6,1400.2L805.0,1399.8M843.0,1393.7L839.6,1368.3L832.3,1344.1L821.6,1320.9M821.6,1320.9L811.0,1331.4L797.3,1337.6M825.5,1253.7L815.6,1265.8L800.8,1271.9L789.5,1282.3M825.5,1253.7L832.5,1255.3L839.6,1256.2M839.6,1256.2L832.7,1273.8L823.8,1290.6L817.8,1308.6M789.5,1282.3L802.8,1296.4L817.8,1308.6M780.7,1280.3L785.1,1281.0L789.5,1282.3M816.9,1241.5L820.7,1248.0L825.5,1253.7M870.7,1250.9L869.5,1252.0L868.3,1253.2M868.3,1253.2L853.7,1252.1L839.6,1256.2M821.6,1320.9L822.6,1319.1L823.5,1317.2M823.5,1317.2L820.4,1313.1L817.8,1308.6M869.3,1382.5L876.2,1371.6L879.6,1359.2M879.6,1359.2L862.9,1349.4L853.8,1331.3L837.4,1321.1M823.5,1317.2L823.5,1317.2L823.6,1317.2M837.4,1321.1L830.8,1318.2L823.6,1317.2M939.4,1396.6L921.9,1380.6L913.3,1357.8L896.4,1341.4M939.4,1396.6L948.3,1386.7L954.6,1374.9M954.6,1374.9L948.9,1361.2L940.1,1349.3M940.1,1349.3L926.5,1344.3L912.0,1342.9L898.5,1338.0M896.4,1341.4L897.2,1339.6L898.5,1338.0M937.1,1402.3L938.5,1399.6L939.4,1396.6M879.6,1359.2L888.8,1351.0L896.4,1341.4M984.2,1367.8L969.8,1373.1L954.6,1374.9M957.9,1319.0L946.5,1332.7L940.1,1349.3M384.7,1515.5L385.1,1515.6L385.5,1515.8M384.7,1515.5L352.9,1507.4L321.5,1497.8L289.0,1492.4M385.5,1515.8L382.0,1531.5L375.8,1546.2M375.8,1546.2L344.0,1536.2L310.7,1532.5L279.0,1522.0M279.0,1522.0L284.1,1507.2L289.0,1492.4M353.3,1486.1L365.4,1494.2L371.8,1508.3L384.7,1515.5M399.9,1502.1L393.9,1510.2L385.5,1515.8M290.3,1481.6L290.1,1487.0L289.0,1492.4M386.8,1593.1L385.8,1576.9L379.8,1561.8L375.8,1546.2M275.9,1527.0L277.3,1524.4L279.0,1522.0M382.9,359.9L374.1,371.6L358.7,375.4L350.1,387.3M321.2,351.6L321.2,352.6L321.2,353.6M350.1,387.3L338.0,378.2L328.5,366.8L321.2,353.6M392.1,441.4L377.5,432.1L361.9,424.8M350.1,387.3L349.4,392.8L348.9,398.3M348.9,398.3L351.9,409.0L356.3,419.2M361.9,424.8L359.4,421.7L356.3,419.2M326.5,488.9L322.4,481.4L318.9,473.6M361.9,424.8L346.4,440.1L332.6,456.8L318.9,473.6M881.0,220.8L865.4,224.1L849.7,226.9M881.0,220.8L873.5,216.0L866.2,211.0M866.2,211.0L858.2,219.3L849.7,226.9M894.5,224.7L887.7,222.7L881.0,220.8M839.3,230.5L844.3,228.1L849.7,226.9M864.3,209.1L865.3,210.0L866.2,211.0M747.0,195.0L752.2,199.7L758.1,203.4M750.1,167.7L761.2,177.0L774.0,183.8M774.0,183.8L766.5,193.9L758.1,203.4M760.0,223.4L760.2,220.9L761.3,218.7M802.3,203.7L801.3,203.2L800.5,202.5M800.5,202.5L785.9,204.2L772.9,209.8L761.3,218.7M761.3,218.7L758.9,211.2L758.1,203.4M847.2,382.2L840.4,389.5L831.9,394.7M847.2,382.2L848.2,386.5L848.7,390.9M848.7,390.9L844.0,396.3L838.2,400.5M838.2,400.5L836.8,400.9L835.2,400.9M835.2,400.9L833.6,397.7L831.9,394.7M847.8,379.3L847.7,380.8L847.2,382.2M828.9,390.7L830.5,392.6L831.9,394.7M854.6,390.3L851.6,390.6L848.7,390.9M854.8,405.5L846.1,404.4L838.2,400.5M831.5,410.2L833.6,405.6L835.2,400.9M864.3,1277.3L864.2,1277.6L863.9,1277.8M864.3,1277.3L879.0,1291.1L886.7,1310.1L899.3,1325.5M863.9,1277.8L863.0,1296.8L864.4,1315.7M864.4,1315.7L882.5,1318.7L898.6,1327.6M898.6,1327.6L898.8,1326.5L899.3,1325.5M868.3,1253.2L868.4,1265.6L864.3,1277.3M823.6,1317.2L839.2,1306.3L849.4,1289.8L863.9,1277.8M904.6,1318.9L901.4,1321.7L899.3,1325.5M837.4,1321.1L851.3,1320.3L864.4,1315.7M898.5,1338.0L897.7,1332.8L898.6,1327.6M267.2,325.5L261.0,340.2L262.5,356.1L260.2,371.4M321.2,353.6L307.6,362.2L296.7,373.9M296.7,373.9L278.5,371.4L260.2,371.4M236.6,381.5L247.4,374.9L259.7,371.9M229.5,424.8L242.7,419.3L257.0,418.5L270.8,415.4M270.8,415.4L272.8,409.1L276.8,403.7M276.8,403.7L269.1,387.4L259.7,371.9M259.7,371.9L260.0,371.7L260.2,371.4M356.3,419.2L341.9,426.2L327.3,432.3L311.3,434.3M318.9,473.6L318.1,472.6L317.1,472.0M311.3,434.3L314.1,453.1L317.1,472.0M799.9,201.4L787.6,192.6L775.7,183.3M799.9,201.4L802.8,182.7L804.3,164.0L804.7,145.1M775.7,183.3L783.5,171.9L787.6,158.7M804.7,145.1L796.5,152.3L787.6,158.7M774.0,183.8L774.9,183.5L775.7,183.3M800.5,202.5L800.1,202.0L799.9,201.4M832.6,107.7L820.3,117.9L815.4,133.7L804.7,145.1M749.4,159.0L768.5,161.3L787.6,158.7M324.2,399.1L312.5,390.5L300.1,383.2M324.2,399.1L312.7,405.3L302.5,413.4M300.1,383.2L298.8,394.7L295.9,405.9M302.5,413.4L299.6,409.3L295.9,405.9M348.9,398.3L336.5,399.4L324.2,399.1M296.7,373.9L298.6,378.5L300.1,383.2M311.3,434.3L307.7,431.6L303.6,430.0M303.6,430.0L303.1,421.7L302.5,413.4M276.8,403.7L280.2,404.6L283.5,405.6M283.5,405.6L289.7,405.4L295.9,405.9M285.2,434.2L284.1,434.6L282.9,434.8M285.2,434.2L289.4,434.4L293.5,433.3M293.5,433.3L296.8,450.8L295.6,468.6M282.9,434.8L273.5,443.4L264.0,452.0M264.0,452.0L267.2,457.7L268.1,464.2M268.1,464.2L268.7,464.9L269.0,465.8M269.0,465.8L270.8,467.6L272.0,469.8M272.0,469.8L283.7,468.1L295.6,468.6M270.8,415.4L277.1,425.0L282.9,434.8M283.5,405.6L284.2,419.9L285.2,434.2M303.6,430.0L298.4,431.2L293.5,433.3M317.1,472.0L306.7,468.3L295.6,468.6M229.1,431.0L238.9,441.0L252.1,445.4L264.0,452.0M219.4,478.5L235.1,471.8L252.1,469.6L268.1,464.2M232.9,487.0L246.2,482.1L255.7,470.7L269.0,465.8M269.6,496.3L268.5,482.8L272.0,469.8" fill="none" stroke="#d3d4d3" stroke-width="1"/>
<path d="M131.0,120.0 L130.8,125.9 L130.2,128.1 L130.1,130.5 L131.3,133.3 L131.0,136.3 L130.0,137.8 L129.2,139.8 L128.2,142.0 L127.6,145.2 L127.4,147.4 L127.3,149.3 L127.0,150.8 L126.5,153.0 L127.0,155.0 L126.3,157.5 L127.3,159.3 L127.3,161.1 L126.8,163.5 L127.5,166.2 L128.6,167.8 L130.3,169.2 L131.6,172.3 L134.3,172.9 L135.8,174.5 L137.6,175.7 L140.1,176.4 L141.7,175.7 L143.8,175.8 L146.0,177.2 L149.0,177.8 L151.4,179.0 L153.8,178.1 L155.6,178.4 L158.7,177.6 L160.6,176.2 L162.8,173.8 L163.8,172.0 L165.1,168.9 L167.2,166.2 L169.6,164.5 L171.4,163.7 L172.6,160.7 L173.5,159.4 L175.4,158.0 L177.1,155.5 L179.7,154.2 L181.5,153.5 L183.2,152.7 L184.3,151.0 L185.3,149.7 L186.3,148.1 L187.7,146.8 L190.1,145.4 L191.6,143.8 L193.6,143.1 L196.3,141.7 L198.5,141.5 L199.7,140.0 L200.5,138.4 L201.6,136.4 L201.8,134.9 L205.0,133.8 L206.3,131.1 L208.5,129.9 L209.4,127.7 L211.8,125.9 L213.6,125.0 L216.4,125.1 L219.6,125.9 L220.0,127.9 L220.9,129.5 L220.0,132.5 L220.5,134.9 L220.9,137.3 L222.5,139.2 L223.4,142.3 L223.4,140.5 L224.0,138.0 L225.8,134.9 L225.9,132.7 L225.9,131.0 L227.1,128.7 L230.3,128.7 L233.3,129.9 L234.5,126.9 L236.4,127.7 L238.9,127.4 L241.3,127.8 L243.2,127.4 L245.6,128.2 L247.2,129.3 L248.1,131.1 L248.4,133.0 L250.3,134.9 L251.8,137.3 L252.9,139.7 L253.2,141.7 L253.1,144.8 L255.1,143.6 L256.8,142.3 L258.1,139.5 L258.1,137.0 L259.3,134.9 L259.0,132.9 L259.5,131.0 L260.5,128.7 L262.9,130.4 L265.5,131.1 L266.5,133.3 L267.9,134.6 L269.2,136.6 L269.2,138.6 L269.6,140.0 L269.7,142.2 L270.2,144.2 L271.7,146.0 L273.6,148.3 L275.4,151.0 L276.1,148.6 L275.9,146.7 L276.3,144.7 L276.6,142.3 L276.3,139.5 L275.2,138.1 L275.8,135.6 L275.4,133.6 L277.5,131.7 L279.1,129.9 L281.6,131.9 L284.0,133.6 L285.1,135.5 L286.5,138.6 L288.6,136.4 L289.9,134.6 L291.5,133.6 L294.5,133.1 L297.0,132.6 L298.9,131.1 L300.4,132.1 L302.4,133.3 L303.9,136.1 L306.2,134.8 L308.8,134.9 L310.0,136.3 L311.1,137.7 L313.8,139.8 L314.8,141.6 L315.2,144.7 L317.5,147.3 L319.4,150.2 L320.3,152.3 L321.2,153.4 L321.9,151.1 L323.3,150.1 L323.7,147.3 L325.9,145.9 L327.1,144.2 L328.6,143.5 L331.0,145.1 L332.4,147.3 L332.1,150.8 L332.8,153.2 L332.4,154.7 L334.3,156.4 L335.5,157.4 L336.1,159.6 L339.2,158.8 L341.0,157.2 L343.3,155.2 L344.6,153.6 L345.8,152.2 L346.0,149.7 L349.0,148.8 L350.9,148.5 L350.8,150.6 L351.9,153.1 L350.9,155.9 L351.0,159.5 L351.7,161.6 L353.4,163.4 L354.6,166.0 L355.9,168.3 L358.8,167.1 L360.8,164.6 L360.6,163.1 L360.8,160.6 L361.7,159.2 L362.1,157.2 L364.9,155.1 L365.8,152.2 L367.4,154.2 L369.5,155.9 L369.9,159.0 L369.6,160.8 L369.5,163.4 L369.9,165.0 L371.3,166.5 L373.2,169.5 L375.6,168.7 L376.5,167.2 L378.2,165.8 L380.6,163.8 L383.1,162.1 L384.0,164.5 L384.3,166.8 L384.4,168.3 L387.2,168.3 L388.9,166.3 L390.6,165.8 L391.8,163.3 L392.2,161.4 L393.0,159.6 L395.9,159.3 L397.2,160.6 L399.2,160.9 L401.3,163.7 L403.0,165.8 L401.6,169.0 L401.6,171.3 L400.5,173.3 L399.5,175.5 L398.1,177.2 L398.0,180.7 L400.0,182.9 L401.7,184.4 L403.8,182.8 L406.7,181.9 L408.7,179.3 L409.9,177.4 L410.4,175.7 L413.3,177.0 L415.3,178.2 L416.4,175.3 L419.1,173.3 L421.7,172.9 L423.0,171.5 L425.3,170.8 L427.6,172.3 L429.0,173.3 L426.7,174.5 L425.2,175.5 L424.0,178.2 L423.8,181.2 L422.5,183.0 L420.3,185.6 L421.4,188.9 L423.3,190.8 L424.0,193.1 L426.9,191.0 L430.2,190.6 L432.7,190.8 L435.2,191.8 L437.6,190.2 L438.3,188.8 L440.1,186.9 L442.1,185.6 L445.0,184.8 L446.6,182.9 L449.4,180.9 L450.2,179.0 L451.1,177.3 L452.8,176.5 L454.5,175.8 L456.2,175.4 L458.6,174.4 L460.4,176.3 L462.3,178.6 L460.6,180.3 L459.9,183.3 L459.6,185.0 L459.8,187.3 L458.7,188.7 L457.4,190.7 L456.3,193.0 L456.1,194.7 L455.0,197.5 L455.4,200.3 L454.9,202.1 L457.4,202.1 L459.2,202.1 L462.3,200.9 L463.2,199.2 L463.0,197.2 L463.7,195.4 L464.8,193.4 L467.0,192.6 L468.5,191.0 L471.0,191.9 L472.2,193.4 L474.6,192.0 L477.2,192.2 L477.4,194.6 L478.3,196.4 L479.1,197.7 L480.1,199.6 L480.8,201.3 L480.9,204.1 L480.2,205.8 L479.6,208.3 L478.3,210.1 L477.2,213.3 L475.5,214.5 L473.9,216.4 L472.1,217.3 L469.7,219.5 L467.3,221.9 L469.7,219.5 L472.7,218.3 L475.3,217.5 L477.2,217.0 L478.4,213.9 L478.7,211.5 L479.6,209.5 L481.5,207.2 L483.4,204.6 L485.0,202.6 L486.3,200.9 L487.5,199.3 L489.5,198.4 L491.9,198.8 L495.0,197.7 L495.5,201.1 L494.0,202.9 L493.3,205.8 L494.0,207.4 L494.3,209.6 L493.8,211.5 L494.0,213.3 L496.4,215.9 L497.5,218.2 L497.9,216.5 L499.5,214.4 L499.9,212.1 L500.7,210.8 L502.6,209.6 L503.9,207.6 L503.9,205.7 L504.9,203.4 L506.1,200.2 L507.5,199.2 L509.4,197.2 L511.2,197.7 L513.1,198.4 L512.5,199.7 L511.0,201.4 L510.3,204.6 L510.6,207.1 L509.8,208.9 L508.3,210.5 L507.4,212.5 L506.9,214.5 L506.9,216.6 L506.8,218.8 L505.6,220.4 L504.9,221.9 L506.3,224.3 L508.0,225.5 L509.4,226.4 L511.4,223.8 L513.1,220.7 L512.8,217.3 L513.5,215.2 L514.3,213.3 L516.8,211.4 L518.0,209.5 L518.3,213.0 L519.3,215.7 L521.0,217.9 L523.0,219.5 L523.9,218.2 L524.2,215.9 L525.3,214.3 L526.7,213.3 L527.4,211.1 L529.2,208.3 L530.8,209.2 L532.7,209.6 L535.4,209.5 L533.4,211.7 L532.0,214.5 L530.9,217.2 L530.4,219.5 L531.4,221.4 L532.3,223.6 L532.9,226.9 L532.6,229.6 L532.2,231.4 L532.2,234.3 L532.0,236.5 L533.1,239.3 L532.8,241.3 L532.9,243.0 L535.6,243.1 L539.1,243.0 L540.8,240.9 L542.8,239.3 L542.3,236.6 L542.2,234.8 L541.6,231.8 L542.1,229.9 L541.7,228.1 L541.1,225.3 L540.3,223.2 L540.9,220.9 L542.0,219.6 L543.2,216.8 L542.8,213.3 L544.5,210.9 L544.3,209.0 L545.3,207.1 L545.6,208.9 L546.5,210.5 L546.4,213.3 L547.0,215.7 L546.2,217.6 L545.4,219.2 L545.3,221.8 L546.0,224.4 L548.0,226.4 L549.0,229.4 L552.3,228.2 L555.2,226.9 L557.6,229.1 L559.1,230.1 L561.4,231.8 L559.8,234.8 L559.3,237.5 L558.9,239.3 L558.4,241.8 L558.9,243.6 L557.5,246.1 L556.9,247.9 L559.2,247.9 L560.5,248.5 L562.6,250.4 L562.7,247.6 L563.5,246.0 L563.8,243.6 L563.9,241.8 L564.9,239.7 L565.6,238.3 L567.1,236.3 L567.6,234.3 L569.5,233.9 L572.1,234.2 L575.0,233.1 L575.8,236.0 L576.3,239.3 L573.8,240.5 L571.3,242.3 L569.5,243.7 L568.8,245.5 L567.7,247.3 L565.8,249.0 L563.9,251.7 L563.3,253.5 L563.9,256.2 L562.6,259.1 L565.2,260.4 L567.1,261.8 L568.8,262.8 L569.0,259.3 L570.2,257.9 L571.3,255.4 L573.1,252.9 L573.5,251.0 L575.0,249.2 L576.4,247.4 L578.3,245.2 L579.7,243.6 L581.2,241.8 L583.0,239.5 L583.8,238.0 L583.7,235.6 L586.6,235.9 L588.6,236.8 L589.6,239.8 L589.9,242.2 L591.1,244.2 L591.1,247.5 L590.1,249.6 L589.8,251.2 L588.6,252.9 L586.9,255.1 L585.4,256.6 L582.4,257.9 L584.9,260.3 L587.6,261.5 L589.9,261.6 L589.5,264.2 L590.0,266.0 L588.6,269.0 L587.6,271.2 L586.4,272.7 L586.4,274.3 L586.2,276.4 L585.7,278.0 L585.0,280.2 L585.2,283.5 L584.9,286.3 L586.3,288.7 L586.2,290.7 L586.6,292.3 L586.7,295.0 L588.6,297.5 L590.1,297.6 L592.3,296.6 L594.8,295.8 L595.1,292.7 L594.2,290.7 L592.6,289.7 L591.6,287.6 L592.3,285.7 L592.8,284.1 L593.2,281.7 L592.4,278.9 L595.1,277.6 L598.5,276.4 L601.1,273.9 L601.4,271.1 L602.3,269.0 L604.0,266.4 L603.9,263.6 L604.7,261.6 L607.1,261.3 L609.7,260.3 L610.9,257.3 L612.4,256.0 L613.4,254.1 L614.3,252.0 L615.9,250.3 L616.4,248.5 L617.1,246.7 L618.9,244.5 L622.1,243.0 L622.1,245.9 L623.2,248.3 L623.3,250.4 L622.2,253.3 L621.2,255.8 L620.8,257.9 L623.2,258.1 L625.4,258.3 L628.3,259.1 L631.0,261.2 L634.5,261.6 L636.3,262.7 L638.2,265.3 L639.2,264.0 L640.7,262.2 L642.5,260.8 L643.1,259.1 L645.1,257.3 L646.2,255.6 L648.4,254.4 L649.3,252.9 L651.1,251.9 L653.4,251.3 L655.5,249.2 L657.3,251.4 L659.2,252.9 L658.9,256.2 L656.8,259.1 L654.9,260.2 L653.4,262.1 L650.6,264.0 L649.9,265.7 L649.0,267.3 L648.1,270.2 L649.4,271.6 L651.2,272.2 L653.0,275.2 L655.0,277.7 L658.0,278.9 L659.4,277.4 L659.9,275.6 L661.7,272.7 L660.5,269.9 L660.5,266.5 L663.4,265.4 L665.4,265.3 L667.6,266.5 L669.1,269.0 L670.5,269.6 L672.9,270.2 L674.9,270.4 L677.8,271.0 L679.8,271.3 L681.6,271.9 L684.0,272.7 L684.9,274.8 L686.0,275.8 L687.2,277.7 L686.2,280.7 L684.9,282.5 L684.0,283.9 L680.9,284.0 L677.8,283.9 L675.2,285.9 L672.9,286.3 L672.0,288.6 L670.4,291.3 L672.5,292.7 L673.8,293.2 L675.3,295.0 L672.9,297.4 L671.7,300.0 L671.6,302.4 L674.6,301.7 L677.8,301.2 L679.5,299.7 L680.7,298.5 L684.0,297.5 L686.1,296.0 L687.7,295.0 L688.4,296.9 L690.5,298.7 L692.7,301.2 L693.9,302.7 L696.4,303.7 L698.2,305.1 L700.1,307.4 L699.1,310.6 L698.4,312.3 L698.9,314.8 L701.6,317.1 L703.8,318.5 L705.3,321.4 L706.3,324.7 L707.5,326.4 L708.3,328.8 L708.8,332.2 L708.9,335.2 L707.8,336.8 L707.1,338.4 L704.7,339.0 L702.8,338.5 L700.1,339.6 L702.8,340.7 L705.1,343.3 L707.0,344.2 L708.8,344.6 L705.9,346.5 L704.9,348.8 L702.6,350.8 L700.2,352.2 L698.5,353.2 L697.0,354.6 L695.2,355.7 L693.5,358.8 L691.4,359.9 L690.2,360.7 L688.1,362.5 L687.3,364.6 L684.9,366.8 L684.0,369.3 L682.3,370.9 L680.4,371.3 L679.0,373.0 L677.8,374.3 L681.1,375.5 L682.1,376.7 L684.0,378.0 L684.0,379.7 L683.4,381.6 L684.1,384.7 L684.0,386.7 L685.5,384.5 L687.4,383.6 L688.9,381.2 L690.2,378.0 L691.8,375.6 L692.2,372.7 L694.3,370.3 L695.6,369.4 L697.6,368.1 L697.7,366.2 L699.4,363.7 L700.7,361.9 L702.6,360.7 L704.4,358.5 L707.5,356.9 L710.1,358.1 L712.0,358.3 L715.0,358.2 L717.7,357.3 L718.6,358.6 L720.4,360.5 L721.9,363.5 L723.9,364.8 L724.1,367.1 L725.2,369.4 L725.9,371.4 L726.8,374.7 L726.0,377.4 L726.4,380.1 L727.6,383.4 L726.2,384.8 L725.2,387.2 L724.4,389.2 L723.9,392.0 L721.8,394.5 L718.9,395.7 L716.2,396.6 L714.0,397.3 L712.7,398.2 L711.3,401.4 L709.9,402.5 L709.0,404.4 L708.7,407.2 L707.9,408.9 L706.5,410.6 L703.3,410.5 L700.9,411.1 L699.1,411.8 L696.8,414.2 L695.6,415.5 L694.1,416.8 L694.9,419.8 L694.8,422.5 L694.2,424.5 L692.9,426.7 L692.5,429.1 L693.2,431.5 L691.4,434.3 L690.4,436.6 L689.4,439.0 L689.8,441.9 L688.8,444.7 L687.9,446.5 L686.9,449.5 L686.5,452.0 L687.0,453.9 L686.7,456.4 L685.9,458.9 L684.9,461.1 L684.0,463.9 L683.0,466.3 L683.8,468.1 L683.4,470.3 L682.8,472.8 L681.8,475.0 L683.9,477.3 L684.5,479.2 L685.5,481.2 L686.8,483.8 L689.1,484.8 L690.4,486.2 L689.6,489.0 L688.4,491.3 L686.7,492.4 L684.8,494.6 L682.9,496.0 L680.7,497.9 L679.3,501.0 L677.6,502.8 L675.9,504.2 L673.2,506.1 L671.8,508.5 L670.0,509.6 L668.3,510.2 L666.8,511.6 L664.9,513.4 L664.3,515.4 L663.8,517.8 L663.9,520.8 L664.4,522.6 L665.6,524.2 L668.1,525.8 L670.5,525.2 L671.8,523.8 L671.5,521.4 L670.9,517.9 L672.7,515.8 L674.4,514.3 L675.8,511.4 L678.0,509.6 L680.0,508.4 L681.3,505.1 L683.7,503.5 L686.0,501.6 L688.2,499.7 L689.8,497.3 L690.7,495.6 L692.2,492.7 L693.6,490.8 L696.0,488.5 L698.1,488.1 L699.9,486.0 L701.7,485.3 L704.8,483.6 L706.5,481.7 L708.1,479.6 L709.9,478.3 L711.3,475.9 L714.0,473.8 L714.1,471.0 L715.3,469.2 L716.9,466.9 L718.4,465.5 L718.9,463.9 L720.0,460.7 L719.2,458.9 L719.0,456.2 L720.6,454.0 L721.4,451.5 L722.3,449.4 L722.2,446.0 L722.8,444.4 L722.7,442.3 L723.9,439.1 L723.7,436.9 L723.8,435.0 L724.4,432.9 L725.0,431.3 L725.9,428.9 L726.3,426.7 L726.5,424.2 L726.2,421.1 L725.8,419.4 L726.1,417.3 L727.6,414.3 L728.8,412.2 L730.2,411.3 L731.3,409.4 L734.1,407.5 L735.0,405.6 L738.4,405.3 L740.5,405.3 L742.0,403.8 L743.7,403.2 L745.3,401.3 L747.8,400.2 L751.1,399.4 L753.6,399.5 L755.4,397.3 L756.9,396.4 L758.7,395.6 L760.8,395.3 L763.5,395.0 L765.3,394.8 L766.9,393.5 L769.3,392.2 L771.8,392.2 L773.4,392.5 L774.8,394.2 L776.4,395.7 L775.6,397.2 L774.1,398.6 L773.4,401.9 L773.2,404.6 L772.5,406.4 L770.9,407.7 L770.5,409.8 L770.9,411.8 L769.1,413.1 L767.4,414.3 L766.0,416.8 L764.5,418.0 L762.9,419.8 L761.7,421.8 L761.0,424.2 L760.0,427.2 L757.7,429.6 L756.2,432.0 L754.8,434.1 L753.2,434.9 L751.9,436.4 L750.1,437.0 L748.6,437.9 L746.9,438.9 L744.5,439.1 L742.9,439.6 L741.2,441.6 L740.2,442.8 L738.1,443.6 L735.0,445.3 L733.0,446.0 L730.6,447.8 L732.5,448.8 L735.0,450.2 L736.9,450.0 L738.7,450.1 L741.2,449.0 L744.4,448.5 L746.9,447.3 L748.6,446.5 L749.2,448.8 L750.8,450.8 L751.1,454.0 L753.3,452.5 L754.8,451.5 L756.6,450.1 L758.5,449.0 L760.9,447.6 L761.9,445.9 L763.5,442.8 L765.8,445.1 L766.9,446.8 L769.7,449.0 L770.7,447.1 L770.7,445.1 L770.9,441.6 L771.8,439.5 L771.6,437.3 L772.5,436.0 L773.4,434.1 L775.4,432.7 L777.4,429.9 L779.5,428.4 L780.8,426.7 L783.3,424.5 L785.4,423.3 L787.0,420.5 L787.1,418.9 L788.3,416.8 L789.9,416.0 L792.1,415.2 L793.9,414.3 L795.7,413.1 L799.0,412.1 L801.1,410.9 L803.1,409.4 L804.8,407.2 L806.9,405.8 L807.4,403.6 L808.1,401.9 L807.0,398.5 L805.6,395.7 L807.6,392.8 L810.6,390.8 L812.6,389.5 L815.5,388.3 L816.6,390.8 L818.0,393.3 L819.0,391.9 L819.9,389.9 L820.6,387.6 L820.5,384.6 L820.0,382.7 L819.7,380.4 L819.2,377.2 L821.9,375.9 L823.7,375.0 L825.4,373.6 L827.9,372.2 L830.1,371.6 L832.4,372.0 L834.2,371.0 L836.6,371.0 L836.5,374.5 L837.8,377.2 L835.1,379.1 L832.9,380.9 L834.2,383.8 L833.8,385.8 L834.1,388.3 L832.3,390.3 L830.9,391.8 L829.1,393.3 L827.3,395.8 L824.9,396.9 L823.0,398.2 L820.5,399.7 L818.0,401.9 L815.2,403.3 L814.3,405.7 L813.0,406.9 L811.1,409.5 L810.6,411.8 L813.5,411.0 L815.3,410.7 L816.4,409.5 L818.0,408.1 L819.6,407.0 L821.4,406.3 L823.0,404.4 L825.3,404.7 L827.6,406.0 L829.2,408.1 L830.4,409.4 L832.5,410.3 L833.9,411.1 L835.3,413.1 L837.5,411.0 L838.5,409.3 L839.1,406.9 L840.9,404.7 L842.8,403.2 L844.0,401.9 L845.2,400.7 L846.5,399.1 L847.7,397.0 L848.8,394.9 L851.4,393.3 L852.1,396.4 L853.8,399.1 L855.8,400.7 L857.6,401.9 L858.7,404.2 L858.9,406.0 L860.0,407.8 L859.7,410.2 L860.1,411.8 L860.9,408.3 L861.0,405.7 L859.9,403.8 L859.6,401.9 L858.1,399.4 L857.9,396.6 L856.8,394.8 L855.2,393.3 L854.8,391.0 L855.1,389.2 L855.8,387.3 L856.4,385.8 L858.6,385.3 L860.3,384.9 L862.7,383.1 L865.2,383.1 L867.5,383.4 L869.6,383.6 L872.1,383.7 L874.9,384.1 L877.5,383.0 L879.9,383.4 L881.6,383.7 L884.1,384.3 L887.2,385.1 L889.8,384.6 L891.9,385.5 L894.4,386.9 L896.7,387.2 L900.0,388.3 L899.9,390.3 L900.0,392.4 L901.8,392.7 L903.4,393.8 L906.3,394.7 L908.7,395.1 L910.5,395.4 L913.1,396.7 L914.9,398.6 L917.0,399.9 L918.7,401.3 L920.9,402.2 L923.0,402.5 L925.9,403.2 L927.5,403.6 L929.7,404.8 L931.8,405.7 L933.0,407.0 L935.3,408.3 L937.2,410.0 L939.8,410.5 L941.0,411.6 L942.9,411.2 L944.6,411.0 L947.0,410.7 L949.5,411.4 L951.4,413.5 L954.5,414.7 L956.3,414.1 L958.2,412.7 L959.5,413.6 L961.2,415.4 L962.8,416.2 L964.4,417.2 L966.7,418.2 L969.1,420.6 L971.5,422.4 L974.3,424.6 L976.7,425.4 L979.8,426.7 L981.4,429.1 L984.2,430.8 L986.9,432.3 L988.1,434.0 L990.1,434.4 L991.7,434.5 L995.0,433.8 L997.9,434.0 L998.0,435.6 L999.1,437.5 L1001.4,437.8 L1002.9,437.5 L1005.9,437.2 L1009.0,438.2 L1011.7,439.6 L1013.9,440.1 L1016.4,440.7 L1018.8,440.9 L1020.9,442.1 L1023.9,441.9 L1025.8,441.3 L1028.2,439.8 L1031.3,439.5 L1031.2,437.4 L1031.9,435.9 L1032.5,433.3 L1035.6,434.0 L1038.7,434.0 L1041.8,433.7 L1043.9,435.0 L1046.2,435.7 L1048.0,435.4 L1049.8,435.3 L1052.1,435.1 L1053.6,435.0 L1055.2,434.2 L1057.3,434.1 L1059.5,433.9 L1061.0,434.5 L1062.6,436.4 L1063.5,439.5 L1066.4,439.2 L1068.9,438.3 L1071.1,438.7 L1073.4,439.0 L1076.0,438.6 L1078.2,437.6 L1080.0,437.9 L1082.2,438.4 L1083.7,438.8 L1085.8,439.0 L1088.9,439.7 L1091.9,440.3 L1093.4,440.5 L1095.7,439.5 L1097.2,440.7 L1098.3,442.4 L1100.7,444.4 L1102.2,445.9 L1103.1,447.5 L1105.9,449.4 L1108.1,450.6 L1110.4,451.0 L1112.1,452.2 L1114.0,453.7 L1115.5,455.6 L1117.2,457.0 L1118.9,458.4 L1121.4,459.3 L1123.0,460.5 L1124.8,461.6 L1126.5,462.0 L1127.8,463.0 L1129.1,464.7 L1131.6,465.5 L1134.2,465.0 L1136.0,465.2 L1137.9,465.0 L1140.3,464.2 L1143.5,465.3 L1145.1,465.7 L1147.7,465.5 L1150.9,464.9 L1152.9,464.9 L1155.6,465.5 L1157.6,466.7 L1159.9,467.2 L1161.6,467.8 L1163.6,467.4 L1166.3,468.2 L1170.0,468.0 L1170.0,120.0Z" fill="#cde6e6"/>
<path d="M130.8,125.9 L130.2,128.1 L130.1,130.5 L131.3,133.3 L131.0,136.3 L130.0,137.8 L129.2,139.8 L128.2,142.0 L127.6,145.2 L127.4,147.4 L127.3,149.3 L127.0,150.8 L126.5,153.0 L127.0,155.0 L126.3,157.5 L127.3,159.3 L127.3,161.1 L126.8,163.5 L127.5,166.2 L128.6,167.8 L130.3,169.2 L131.6,172.3 L134.3,172.9 L135.8,174.5 L137.6,175.7 L140.1,176.4 L141.7,175.7 L143.8,175.8 L146.0,177.2 L149.0,177.8 L151.4,179.0 L153.8,178.1 L155.6,178.4 L158.7,177.6 L160.6,176.2 L162.8,173.8 L163.8,172.0 L165.1,168.9 L167.2,166.2 L169.6,164.5 L171.4,163.7 L172.6,160.7 L173.5,159.4 L175.4,158.0 L177.1,155.5 L179.7,154.2 L181.5,153.5 L183.2,152.7 L184.3,151.0 L185.3,149.7 L186.3,148.1 L187.7,146.8 L190.1,145.4 L191.6,143.8 L193.6,143.1 L196.3,141.7 L198.5,141.5 L199.7,140.0 L200.5,138.4 L201.6,136.4 L201.8,134.9 L205.0,133.8 L206.3,131.1 L208.5,129.9 L209.4,127.7 L211.8,125.9 L213.6,125.0 L216.4,125.1 L219.6,125.9 L220.0,127.9 L220.9,129.5 L220.0,132.5 L220.5,134.9 L220.9,137.3 L222.5,139.2 L223.4,142.3 L223.4,140.5 L224.0,138.0 L225.8,134.9 L225.9,132.7 L225.9,131.0 L227.1,128.7 L230.3,128.7 L233.3,129.9 L234.5,126.9 L236.4,127.7 L238.9,127.4 L241.3,127.8 L243.2,127.4 L245.6,128.2 L247.2,129.3 L248.1,131.1 L248.4,133.0 L250.3,134.9 L251.8,137.3 L252.9,139.7 L253.2,141.7 L253.1,144.8 L255.1,143.6 L256.8,142.3 L258.1,139.5 L258.1,137.0 L259.3,134.9 L259.0,132.9 L259.5,131.0 L260.5,128.7 L262.9,130.4 L265.5,131.1 L266.5,133.3 L267.9,134.6 L269.2,136.6 L269.2,138.6 L269.6,140.0 L269.7,142.2 L270.2,144.2 L271.7,146.0 L273.6,148.3 L275.4,151.0 L276.1,148.6 L275.9,146.7 L276.3,144.7 L276.6,142.3 L276.3,139.5 L275.2,138.1 L275.8,135.6 L275.4,133.6 L277.5,131.7 L279.1,129.9 L281.6,131.9 L284.0,133.6 L285.1,135.5 L286.5,138.6 L288.6,136.4 L289.9,134.6 L291.5,133.6 L294.5,133.1 L297.0,132.6 L298.9,131.1 L300.4,132.1 L302.4,133.3 L303.9,136.1 L306.2,134.8 L308.8,134.9 L310.0,136.3 L311.1,137.7 L313.8,139.8 L314.8,141.6 L315.2,144.7 L317.5,147.3 L319.4,150.2 L320.3,152.3 L321.2,153.4 L321.9,151.1 L323.3,150.1 L323.7,147.3 L325.9,145.9 L327.1,144.2 L328.6,143.5 L331.0,145.1 L332.4,147.3 L332.1,150.8 L332.8,153.2 L332.4,154.7 L334.3,156.4 L335.5,157.4 L336.1,159.6 L339.2,158.8 L341.0,157.2 L343.3,155.2 L344.6,153.6 L345.8,152.2 L346.0,149.7 L349.0,148.8 L350.9,148.5 L350.8,150.6 L351.9,153.1 L350.9,155.9 L351.0,159.5 L351.7,161.6 L353.4,163.4 L354.6,166.0 L355.9,168.3 L358.8,167.1 L360.8,164.6 L360.6,163.1 L360.8,160.6 L361.7,159.2 L362.1,157.2 L364.9,155.1 L365.8,152.2 L367.4,154.2 L369.5,155.9 L369.9,159.0 L369.6,160.8 L369.5,163.4 L369.9,165.0 L371.3,166.5 L373.2,169.5 L375.6,168.7 L376.5,167.2 L378.2,165.8 L380.6,163.8 L383.1,162.1 L384.0,164.5 L384.3,166.8 L384.4,168.3 L387.2,168.3 L388.9,166.3 L390.6,165.8 L391.8,163.3 L392.2,161.4 L393.0,159.6 L395.9,159.3 L397.2,160.6 L399.2,160.9 L401.3,163.7 L403.0,165.8 L401.6,169.0 L401.6,171.3 L400.5,173.3 L399.5,175.5 L398.1,177.2 L398.0,180.7 L400.0,182.9 L401.7,184.4 L403.8,182.8 L406.7,181.9 L408.7,179.3 L409.9,177.4 L410.4,175.7 L413.3,177.0 L415.3,178.2 L416.4,175.3 L419.1,173.3 L421.7,172.9 L423.0,171.5 L425.3,170.8 L427.6,172.3 L429.0,173.3 L426.7,174.5 L425.2,175.5 L424.0,178.2 L423.8,181.2 L422.5,183.0 L420.3,185.6 L421.4,188.9 L423.3,190.8 L424.0,193.1 L426.9,191.0 L430.2,190.6 L432.7,190.8 L435.2,191.8 L437.6,190.2 L438.3,188.8 L440.1,186.9 L442.1,185.6 L445.0,184.8 L446.6,182.9 L449.4,180.9 L450.2,179.0 L451.1,177.3 L452.8,176.5 L454.5,175.8 L456.2,175.4 L458.6,174.4 L460.4,176.3 L462.3,178.6 L460.6,180.3 L459.9,183.3 L459.6,185.0 L459.8,187.3 L458.7,188.7 L457.4,190.7 L456.3,193.0 L456.1,194.7 L455.0,197.5 L455.4,200.3 L454.9,202.1 L457.4,202.1 L459.2,202.1 L462.3,200.9 L463.2,199.2 L463.0,197.2 L463.7,195.4 L464.8,193.4 L467.0,192.6 L468.5,191.0 L471.0,191.9 L472.2,193.4 L474.6,192.0 L477.2,192.2 L477.4,194.6 L478.3,196.4 L479.1,197.7 L480.1,199.6 L480.8,201.3 L480.9,204.1 L480.2,205.8 L479.6,208.3 L478.3,210.1 L477.2,213.3 L475.5,214.5 L473.9,216.4 L472.1,217.3 L469.7,219.5" fill="none" stroke="#161616" stroke-width="1.0" stroke-linejoin="round"/>
<path d="M1095.7,439.5 L1097.2,440.7 L1098.3,442.4 L1100.7,444.4 L1102.2,445.9 L1103.1,447.5 L1105.9,449.4 L1108.1,450.6 L1110.4,451.0 L1112.1,452.2 L1114.0,453.7 L1115.5,455.6 L1117.2,457.0 L1118.9,458.4 L1121.4,459.3 L1123.0,460.5 L1124.8,461.6 L1126.5,462.0 L1127.8,463.0 L1129.1,464.7 L1131.6,465.5 L1134.2,465.0 L1136.0,465.2 L1137.9,465.0 L1140.3,464.2 L1143.5,465.3 L1145.1,465.7 L1147.7,465.5 L1150.9,464.9 L1152.9,464.9 L1155.6,465.5 L1157.6,466.7 L1159.9,467.2 L1161.6,467.8 L1163.6,467.4 L1166.3,468.2" fill="none" stroke="#161616" stroke-width="1.0" stroke-linejoin="round"/>
<path d="M89.5,819.9 L91.0,820.0 L92.9,821.3 L95.6,822.4 L97.8,823.9 L98.9,825.9 L100.3,827.1 L103.6,828.3 L106.1,828.8 L109.2,828.6 L112.5,829.3 L115.4,828.8 L116.8,830.0 L119.3,830.5 L121.5,830.2 L123.8,829.1 L127.1,827.9 L128.6,828.2 L130.9,828.4 L134.1,828.8 L137.4,827.7 L139.7,827.7 L141.9,827.4 L144.0,827.2 L144.6,829.2 L146.8,831.1 L149.0,833.8 L149.6,835.3 L149.9,837.9 L152.2,840.7 L154.0,842.0 L157.0,842.7 L159.3,844.3 L161.4,844.7 L163.1,846.7 L165.5,848.7 L166.9,850.6 L170.4,851.7 L173.3,851.8 L174.9,852.5 L177.1,853.6 L178.6,856.3 L178.6,859.5 L179.8,861.6 L180.4,863.5 L178.4,865.9 L177.6,867.8 L176.3,869.8 L173.8,871.8 L170.8,873.8 L168.6,873.9 L166.6,874.7 L164.2,874.8 L162.0,875.3 L160.6,875.1 L159.9,877.3 L159.7,879.5 L157.7,881.9 L155.6,883.3 L156.5,886.7 L155.7,889.4 L156.2,891.3 L157.3,893.2 L158.8,894.7 L161.3,896.2 L162.0,898.7 L163.9,901.5 L164.7,903.7 L164.9,907.0 L166.8,909.1 L167.2,911.4 L166.4,913.0 L164.5,914.3 L163.0,917.2 L162.2,920.0 L159.6,919.8 L157.3,920.0 L157.0,922.7 L157.1,924.4 L155.7,926.7 L154.0,928.3 L151.4,928.3 L149.6,929.4 L147.1,931.9 L145.5,932.9 L143.5,934.6 L141.0,935.4 L139.1,936.5 L138.8,939.5 L137.3,941.4 L137.5,944.1 L137.4,946.4 L138.4,948.3 L140.8,950.6 L141.6,953.8 L142.4,956.3 L142.8,958.3 L142.3,960.6 L143.0,962.4 L143.7,963.9 L144.0,966.2 L142.3,966.2 L140.3,966.7 L137.6,965.5 L134.7,965.5 L132.6,966.9 L129.2,967.9 L128.0,969.0 L126.2,969.9 L125.5,971.3 L124.4,973.2 L122.5,972.7 L120.7,973.3 L118.7,974.4 L116.0,976.2 L116.2,978.0 L115.7,979.8 L113.8,982.4 L112.2,984.1 L110.4,985.4 L108.4,987.2 L106.1,989.4 L106.8,992.6 L106.1,994.6 L106.2,997.1 L105.0,999.3 L105.1,1002.6 L103.8,1004.7 L102.8,1005.9 L101.1,1007.0 L98.1,1008.4 L95.8,1011.1 L94.5,1013.0 L92.8,1015.8 L91.0,1015.7 L89.0,1016.0 L86.6,1016.6 L84.0,1018.6 L81.6,1018.8 L79.7,1020.2 L78.3,1021.3 L76.3,1022.4 L73.5,1022.7 L70.8,1022.8 L69.2,1023.8 L67.2,1025.3 L64.1,1026.0 L61.7,1026.1 L59.8,1025.7 L56.3,1025.8 L55.0,1026.5 L52.9,1027.5 L50.9,1028.2 L49.3,1029.4 L47.7,1030.1 L45.0,1029.7" fill="none" stroke="#161616" stroke-width="1.25" stroke-linejoin="round"/>
<path d="M486.2,1531.1 L485.5,1533.0 L486.2,1536.0 L488.5,1537.9 L490.5,1540.5 L492.9,1542.1 L493.1,1543.9 L494.5,1545.9 L497.2,1545.9 L499.2,1545.8 L500.7,1546.9 L502.8,1547.6 L502.6,1545.5 L502.7,1543.5 L503.5,1540.9 L503.2,1538.6 L504.4,1536.0 L506.6,1535.7 L508.5,1535.6 L511.6,1534.1 L513.1,1532.4 L515.4,1530.3 L517.1,1529.5 L519.3,1529.4 L521.1,1529.2 L523.9,1529.5 L525.4,1528.3 L527.4,1527.7 L529.2,1526.1 L529.5,1523.2 L529.9,1521.1 L530.8,1519.5 L532.5,1518.2 L534.1,1516.2 L535.7,1514.9 L537.2,1514.1 L539.2,1513.6 L541.0,1513.9 L543.5,1512.1 L545.7,1511.3 L547.6,1512.8 L549.1,1513.3 L550.7,1514.4 L552.3,1516.2 L554.0,1518.3 L555.0,1521.5 L554.9,1523.9 L555.6,1526.1 L558.5,1527.9 L561.5,1528.9 L562.5,1530.8 L564.2,1532.6 L564.7,1534.3 L565.5,1536.0 L566.6,1538.2 L568.3,1540.3 L569.0,1542.0 L568.3,1544.6 L569.8,1547.2 L572.1,1549.2 L573.0,1551.1 L574.8,1553.4 L574.6,1556.0 L575.4,1559.2 L574.4,1561.4 L572.1,1564.1 L571.9,1567.1 L570.5,1569.1 L570.9,1571.5 L569.9,1574.3 L570.5,1576.0 L570.7,1578.7 L572.1,1580.7 L572.1,1582.3 L573.5,1583.5 L574.6,1585.1 L576.3,1587.0 L578.7,1589.0 L580.4,1590.5 L582.3,1591.8 L583.7,1593.3 L586.0,1594.7 L586.1,1597.9 L588.0,1600.0 L588.6,1602.1 L589.2,1604.1 L590.5,1605.3 L593.0,1606.8 L594.2,1607.8 L596.0,1609.0 L597.2,1610.8 L598.5,1612.0 L600.7,1612.3 L602.5,1612.7 L605.0,1615.0 L608.0,1614.4 L610.1,1615.2 L611.8,1615.3 L614.4,1615.6 L616.6,1615.2 L618.3,1614.7 L619.7,1615.7 L621.6,1616.4 L625.0,1617.0 L627.0,1617.9 L628.8,1619.8 L630.8,1620.4 L632.6,1620.7 L634.9,1621.9 L637.4,1623.5 L638.4,1625.7 L641.1,1627.3 L643.3,1628.0 L644.8,1628.5 L647.0,1627.2 L648.5,1624.9 L651.1,1623.9 L652.6,1623.7 L654.7,1623.6 L654.9,1621.2 L655.7,1619.6 L657.1,1618.5 L659.5,1616.5 L661.3,1615.3 L662.3,1613.0 L664.7,1610.5 L668.0,1609.5 L669.7,1607.7 L671.2,1607.0 L672.7,1606.9 L675.1,1606.9 L677.6,1605.9 L679.1,1605.0 L681.1,1603.7 L682.5,1602.0 L683.3,1598.7 L684.2,1596.5 L684.4,1593.8 L686.7,1592.6 L689.0,1591.7 L690.0,1590.3 L691.3,1588.3 L693.8,1586.7 L695.8,1585.9 L697.6,1585.6 L700.6,1585.9 L703.8,1584.9 L706.5,1584.4 L708.6,1583.7 L710.9,1583.9 L714.5,1583.7 L717.6,1582.0 L718.9,1581.0 L720.8,1579.0 L723.2,1578.9 L725.9,1577.5 L728.2,1576.2 L730.7,1574.0 L733.2,1574.4 L734.9,1576.1 L735.9,1577.2 L737.6,1580.0 L738.9,1582.3 L741.6,1584.1 L743.8,1584.7 L746.7,1586.0 L748.4,1585.9 L750.5,1587.2 L752.7,1587.1 L755.1,1585.8 L758.1,1585.9 L760.4,1585.6 L761.1,1582.5 L761.5,1580.8 L763.0,1579.1 L765.2,1577.5 L766.9,1575.8 L768.3,1574.2 L770.3,1572.4 L771.9,1571.0 L772.7,1569.0 L774.3,1565.9 L775.9,1564.1 L776.9,1561.4 L776.2,1558.8 L776.9,1555.9 L779.9,1555.6 L783.1,1555.7 L786.6,1555.0 L788.5,1555.6 L790.1,1555.9 L790.1,1554.2 L790.8,1552.2 L792.3,1549.3 L794.4,1548.5 L796.7,1545.9 L798.1,1544.2 L798.9,1542.6 L799.0,1540.6 L799.5,1538.6 L800.8,1537.7 L802.5,1536.4 L805.2,1534.9 L806.6,1532.7 L807.9,1530.3 L809.0,1528.9 L808.7,1526.1 L809.0,1523.8 L810.7,1521.4 L812.1,1519.8 L812.4,1518.2 L813.2,1516.2 L814.7,1513.1 L815.6,1510.4 L815.2,1508.3 L815.9,1505.6 L818.3,1503.9 L820.7,1502.5 L823.3,1500.5 L825.8,1499.0 L824.9,1497.2 L825.3,1494.7 L826.0,1492.1 L827.1,1489.8 L826.1,1488.2 L824.6,1486.7 L823.4,1484.1 L823.2,1481.5 L825.2,1479.3 L827.3,1478.5 L829.2,1476.9 L829.9,1474.7 L829.8,1471.6 L826.8,1471.2 L825.0,1469.6 L823.5,1466.6 L821.3,1465.1 L819.9,1463.4 L819.1,1461.9 L817.3,1460.8 L815.8,1458.3 L813.3,1456.2 L811.6,1454.5 L809.9,1453.5 L808.2,1450.4 L807.2,1447.6 L806.6,1445.5 L805.9,1443.1 L804.2,1442.1 L803.3,1440.2 L803.1,1436.9 L803.6,1434.1 L802.9,1430.9 L801.9,1428.9 L801.7,1427.0 L802.9,1425.0 L804.6,1423.6 L807.0,1421.6 L807.4,1419.6 L808.5,1417.1 L809.9,1413.8 L812.2,1414.2 L814.2,1414.2 L816.8,1413.9 L818.6,1413.0 L820.1,1410.9 L821.7,1410.3 L824.2,1408.9 L826.7,1408.5 L828.6,1407.4 L830.1,1406.4 L832.8,1406.1 L834.2,1405.1 L835.5,1403.0 L837.4,1400.6 L839.6,1399.7 L841.4,1396.8 L843.0,1395.5 L844.7,1394.0 L845.5,1391.9 L847.3,1390.7 L850.7,1389.9 L853.6,1389.5 L855.4,1388.0 L857.2,1387.4 L859.5,1389.4 L861.2,1391.2 L863.4,1391.8 L865.0,1391.8 L867.2,1394.0 L868.5,1396.1 L869.5,1397.3 L871.1,1398.6 L871.9,1400.3 L874.4,1402.0 L877.1,1403.9 L879.7,1405.2 L881.4,1406.4 L883.4,1408.6 L883.7,1410.5 L886.0,1409.0 L887.9,1409.0 L891.4,1408.5 L893.6,1407.2 L895.8,1406.1 L898.1,1405.9 L900.3,1404.4 L903.5,1403.9 L905.1,1403.8 L907.2,1403.6 L909.6,1404.9 L911.3,1406.3 L912.9,1408.2 L915.0,1409.0 L916.7,1408.9 L919.4,1409.3 L922.6,1407.7 L924.4,1407.7 L926.6,1408.9 L927.0,1411.1 L929.2,1413.8 L929.5,1415.4 L930.8,1417.0 L931.6,1420.4 L934.1,1421.4 L936.1,1422.6 L937.8,1424.5 L939.1,1426.1 L941.0,1428.6 L943.1,1430.3 L944.5,1431.9 L946.6,1433.6 L948.9,1435.9 L949.7,1438.6 L951.4,1438.6 L953.5,1437.4 L956.8,1437.6 L959.6,1436.9 L961.4,1434.5 L963.0,1432.9 L965.1,1431.7 L965.3,1429.6 L966.2,1427.0 L969.0,1426.6 L971.2,1427.5 L974.3,1427.9 L975.9,1428.0 L977.8,1427.0 L979.5,1425.4 L982.0,1422.8 L984.1,1421.8 L985.8,1421.5 L989.3,1421.6 L992.4,1422.0 L994.3,1421.1 L996.9,1418.8 L998.3,1417.9 L1000.7,1417.4 L1002.5,1416.8 L1005.3,1415.8 L1007.5,1415.8 L1009.9,1415.9 L1012.9,1415.0 L1015.0,1414.5 L1017.1,1414.9 L1019.4,1414.9 L1020.8,1415.3 L1022.8,1413.8 L1024.3,1413.6 L1026.5,1413.6 L1028.5,1413.9 L1030.5,1413.5 L1032.7,1411.9 L1035.4,1411.5 L1038.8,1410.9 L1042.2,1410.5 L1044.0,1409.9 L1045.3,1408.4 L1047.7,1408.2 L1049.5,1407.5 L1051.6,1407.5 L1052.8,1406.1 L1055.5,1404.9 L1057.4,1403.4 L1059.3,1400.5 L1060.7,1399.3 L1063.3,1398.4 L1064.9,1398.1 L1067.1,1396.7 L1069.4,1394.0 L1071.7,1392.6 L1073.2,1392.3 L1075.6,1391.9 L1078.6,1390.0 L1080.4,1388.4 L1083.5,1388.3 L1085.7,1388.1 L1087.8,1386.6 L1088.7,1384.8 L1091.8,1384.1 L1094.0,1383.8 L1096.5,1382.6 L1098.5,1381.2 L1099.6,1379.8 L1101.0,1377.5 L1101.6,1375.9 L1103.3,1374.5 L1105.2,1373.1 L1106.1,1371.3 L1108.3,1370.0 L1110.2,1367.9 L1112.3,1365.2 L1113.8,1363.4 L1115.5,1362.8 L1117.4,1361.3 L1119.5,1360.2 L1120.5,1359.1 L1123.2,1358.0 L1124.5,1356.8 L1125.2,1354.9 L1126.8,1352.4 L1128.1,1351.1 L1128.9,1348.7 L1130.7,1347.3 L1131.5,1345.6 L1132.8,1343.5 L1134.9,1343.3 L1137.1,1341.8 L1138.5,1339.5 L1140.3,1337.8 L1140.9,1336.4 L1142.5,1334.9 L1143.2,1333.6 L1143.7,1330.9 L1144.9,1329.0 L1146.4,1327.2 L1146.7,1325.0 L1147.8,1323.5 L1149.6,1321.3 L1150.8,1317.9 L1152.3,1316.0 L1154.9,1315.0 L1156.2,1312.5 L1156.2,1309.8 L1158.9,1309.3 L1161.5,1308.8 L1163.2,1307.8 L1164.4,1306.5" fill="none" stroke="#161616" stroke-width="1.25" stroke-linejoin="round"/>
<path d="M530.8,1526.1 L530.9,1528.4 L530.3,1530.9 L530.6,1533.1 L529.2,1536.0 L527.7,1537.1 L526.5,1538.7 L524.7,1540.8 L521.8,1541.8 L519.3,1542.6 L519.5,1545.0 L519.5,1547.3 L518.6,1550.2 L518.9,1552.9 L517.6,1555.9 L515.6,1557.9 L515.2,1559.8 L514.6,1561.6 L513.0,1564.0 L512.7,1565.8 L510.3,1566.5 L507.8,1566.4 L506.3,1566.7 L505.6,1568.6 L503.5,1570.2 L500.9,1571.1 L499.5,1572.4 L497.6,1574.0 L496.2,1574.9 L494.8,1575.9 L492.6,1576.0 L489.1,1576.2 L486.6,1577.2 L484.7,1578.5 L482.9,1579.0 L480.1,1578.8 L478.9,1580.1 L476.6,1581.1 L473.7,1583.1 L471.9,1583.8 L469.7,1585.6 L469.3,1588.7 L467.4,1591.2 L467.1,1593.6 L466.4,1595.5 L464.4,1597.9 L463.6,1599.8 L462.2,1601.8 L459.8,1603.7 L458.8,1605.9 L456.6,1608.0 L454.7,1609.0 L453.2,1610.4 L453.7,1613.0 L453.5,1615.1 L453.7,1617.1 L454.7,1619.3 L454.3,1622.5 L452.7,1624.5 L452.7,1626.6 L451.8,1628.0 L451.6,1630.2 L449.7,1630.3 L447.6,1630.8 L444.5,1629.4 L443.0,1630.7 L440.0,1630.8" fill="none" stroke="#161616" stroke-width="1.25" stroke-linejoin="round"/>
<path d="M1165.6,508.8 L1164.8,510.3 L1164.5,512.3 L1163.9,514.8 L1161.8,516.9 L1160.1,518.7 L1159.5,521.1 L1158.7,523.3 L1156.8,525.9 L1156.2,528.6 L1153.9,531.1 L1154.6,533.0 L1156.7,534.8 L1158.9,537.3 L1162.0,537.2 L1163.3,536.1 L1165.6,534.8" fill="none" stroke="#161616" stroke-width="1.25" stroke-linejoin="round"/>
<path d="M1161.4,560.8 L1163.9,562.9 L1165.6,564.6" fill="none" stroke="#161616" stroke-width="1.25" stroke-linejoin="round"/>
<g clip-path="url(#maclip)">
<rect x="46" y="126" width="1119" height="1512" fill="#b9431f"/>
<path d="M370.0,514.0 C375.0,514.4 392.9,515.3 400.0,516.3 C407.1,517.3 408.3,518.8 412.4,520.0 C416.5,521.2 420.7,522.3 424.8,523.7 C428.9,525.1 433.1,526.5 437.2,528.6 C441.3,530.7 445.8,533.4 449.5,536.1 C453.2,538.8 456.8,541.8 459.5,544.7 C462.2,547.6 464.0,549.9 465.6,553.4 C467.2,556.9 468.8,561.7 469.4,565.8 C470.0,569.9 469.8,574.1 469.4,578.2 C469.0,582.3 467.9,586.5 466.9,590.6 C465.9,594.7 464.4,598.9 463.2,603.0 C462.0,607.1 460.8,611.2 459.5,615.3 C458.2,619.4 456.9,623.6 455.7,627.7 C454.4,631.8 453.2,636.0 452.0,640.1 C450.8,644.2 449.5,648.4 448.3,652.5 C447.1,656.6 445.6,660.3 444.6,664.9 C443.6,669.5 443.2,675.0 442.1,680.0 C441.0,685.0 439.4,689.1 437.9,694.9 C436.4,700.7 434.7,708.1 433.2,714.7 C431.7,721.3 429.8,727.9 428.7,734.5 C427.6,741.1 426.8,747.7 426.8,754.3 C426.8,760.9 427.6,767.9 428.5,774.1 C429.4,780.3 430.8,785.7 432.2,791.5 C433.6,797.3 435.1,803.4 437.2,808.8 C439.3,814.2 441.9,818.8 444.6,823.7 C447.3,828.7 450.2,834.0 453.3,838.5 C456.4,843.0 459.9,846.8 463.2,850.9 C466.5,855.0 470.2,859.2 473.1,863.3 C476.0,867.4 478.1,870.4 480.5,875.7 C482.9,881.0 485.1,888.4 487.2,894.9 C489.3,901.4 491.1,908.1 493.4,914.7 C495.7,921.3 498.1,927.9 500.8,934.5 C503.5,941.1 506.4,948.1 509.5,954.3 C512.6,960.5 515.7,966.3 519.4,971.7 C523.1,977.1 527.3,981.8 531.8,986.5 C536.3,991.2 541.6,996.0 546.6,1000.1 C551.6,1004.2 556.5,1008.4 561.5,1011.3 C566.5,1014.2 570.9,1015.9 576.3,1017.5 C581.7,1019.1 587.9,1020.6 593.7,1021.2 C599.5,1021.8 605.2,1021.6 611.0,1021.2 C616.8,1020.8 622.2,1019.7 628.4,1018.7 C634.6,1017.7 641.6,1016.4 648.2,1015.0 C654.8,1013.6 661.8,1011.8 668.0,1010.1 C674.2,1008.5 679.5,1006.8 685.3,1005.1 C691.1,1003.4 697.3,1001.6 702.7,1000.1 C708.1,998.6 713.0,997.0 717.5,996.4 C722.0,995.8 726.6,995.8 729.9,996.4 C733.2,997.0 735.5,998.0 737.4,1000.1 C739.3,1002.2 740.3,1004.9 741.1,1008.8 C741.9,1012.7 742.1,1018.3 742.3,1023.7 C742.5,1029.1 742.4,1035.0 742.3,1041.0 C742.2,1047.0 741.9,1056.5 741.8,1059.6 L760.0,1100.0 L800.0,1660.0 L60.0,1660.0 L60.0,514.0Z" fill="#ffffff"/>
<path d="M910.6,890.6 C909.4,891.4 906.4,893.4 903.1,895.5 C899.8,897.6 894.9,900.7 890.8,903.0 C886.7,905.3 883.4,906.6 878.4,909.1 C873.4,911.6 866.8,914.9 861.0,917.8 C855.2,920.7 849.1,923.6 843.7,926.5 C838.3,929.4 834.2,932.3 828.8,935.2 C823.4,938.1 816.9,941.3 811.5,943.8 C806.1,946.3 801.1,948.4 796.6,950.0 C792.1,951.6 787.9,953.0 784.2,953.7 C780.5,954.5 777.0,955.1 774.3,954.5 C771.6,953.9 769.7,952.4 768.1,950.0 C766.5,947.6 765.7,943.8 764.9,940.1 C764.1,936.4 764.1,931.8 763.2,927.7 C762.3,923.6 760.8,919.4 759.5,915.3 C758.2,911.2 757.0,906.7 755.7,903.0 C754.5,899.3 752.8,896.3 752.0,893.0 C751.2,889.7 750.6,886.0 750.8,883.1 C751.0,880.2 751.4,878.2 753.3,875.7 C755.1,873.2 758.4,870.8 761.9,868.3 C765.4,865.8 769.8,863.1 774.3,860.8 C778.8,858.5 784.2,856.6 789.2,854.6 C794.2,852.6 799.5,850.8 804.0,848.5 C808.5,846.2 812.7,843.9 816.4,841.0 C820.1,838.1 823.0,834.6 826.3,831.1 C829.6,827.6 833.0,824.5 836.3,820.0 C839.6,815.5 843.3,809.5 846.2,803.9 C849.1,798.3 851.3,792.3 853.6,786.5 C855.9,780.7 858.1,774.6 859.8,769.2 C861.4,763.8 862.3,758.8 863.5,754.3 C864.7,749.8 866.0,744.9 867.2,741.9 C868.4,738.9 869.7,737.5 870.9,736.5 C872.1,735.5 872.7,734.0 874.6,735.7 C876.5,737.4 880.4,742.1 882.1,746.9 C883.8,751.6 883.6,758.0 884.6,764.2 C885.6,770.4 886.4,777.8 888.3,784.0 C890.1,790.2 892.8,795.6 895.7,801.4 C898.6,807.2 902.3,813.8 905.6,818.7 C908.9,823.7 912.6,827.4 915.5,831.1 C918.4,834.8 921.5,838.5 923.0,841.0 C924.5,843.5 924.0,845.2 924.2,846.0 L937.8,850.9 L937.8,888.1Z" fill="#ffffff"/>
<path d="M1042.4,424.6 L1103.1,424.6 L1103.1,454.3 L1092.0,464.2 L1073.4,481.6 L1053.6,501.4 L1033.8,520.0 L1016.4,536.1 L1012.7,541.0 L1007.8,538.5 L1005.3,528.6 L1006.5,521.2 L1010.2,506.3 L1016.4,486.5 L1023.9,466.7 L1035.0,448.1 L1042.4,437.5Z" fill="#ffffff"/>
<path d="M583.3,533.6 C584.2,532.0 586.2,530.3 588.3,529.9 C590.4,529.5 593.6,529.9 595.7,531.1 C597.8,532.3 599.5,535.0 600.7,537.3 C601.9,539.6 602.9,542.0 603.1,544.7 C603.3,547.4 602.9,551.5 601.9,553.4 C600.9,555.3 598.8,556.4 596.9,556.4 C595.0,556.4 592.6,554.9 590.8,553.4 C588.9,551.9 587.1,549.5 585.8,547.2 C584.5,544.9 583.2,542.1 582.8,539.8 C582.4,537.5 582.4,535.2 583.3,533.6Z" fill="#ffffff"/>
<path d="M275.2,1128.8 C276.7,1127.0 280.1,1122.2 284.4,1118.2 C288.7,1114.2 294.9,1109.4 301.0,1105.0 C307.1,1100.6 314.8,1095.1 320.8,1091.8 C326.9,1088.5 331.2,1086.6 337.3,1085.2 C343.4,1083.8 350.5,1083.0 357.1,1083.5 C363.7,1084.0 370.8,1086.3 376.9,1088.5 C382.9,1090.7 388.4,1093.4 393.4,1096.7 C398.3,1100.0 402.2,1103.1 406.6,1108.3 C411.0,1113.5 415.8,1120.8 419.9,1128.0 C424.0,1135.2 428.4,1143.5 431.4,1151.2 C434.4,1158.9 435.5,1166.0 438.0,1174.3 C440.5,1182.6 444.3,1190.9 446.6,1200.8 C448.9,1210.7 450.6,1222.8 451.6,1233.8 C452.6,1244.8 452.7,1255.8 452.5,1266.8 C452.3,1277.8 450.9,1291.2 450.3,1300.0 C449.8,1308.8 449.6,1309.5 449.2,1319.3 C448.8,1329.1 448.0,1349.0 448.0,1358.9 C448.0,1368.8 448.3,1373.1 449.2,1378.7 C450.1,1384.3 450.9,1388.0 453.2,1392.6 C455.4,1397.2 458.8,1402.7 462.7,1406.5 C466.6,1410.3 471.7,1413.5 476.6,1415.4 C481.6,1417.3 487.4,1418.0 492.4,1418.0 C497.3,1418.0 501.8,1416.5 506.3,1415.4 C510.8,1414.3 517.1,1411.9 519.3,1411.2 L570.0,1420.0 L570.0,1620.0 L200.0,1620.0 L200.0,1135.0Z" fill="#b9431f"/>
<path d="M80.0,740.0 L173.8,755.2 L168.0,766.0 L161.0,781.0 L154.0,796.8 L150.0,840.0 L80.0,840.0Z" fill="#b9431f"/>
<path d="M360.0,452.0 C366.3,452.6 386.3,454.1 398.0,455.5 C409.7,456.9 420.5,459.4 430.0,460.5 C439.5,461.6 447.3,462.2 455.0,462.0 C462.7,461.8 468.6,460.6 476.0,459.5 C483.4,458.4 491.1,456.9 499.1,455.6 C507.1,454.3 515.6,453.1 523.9,451.8 C532.1,450.6 540.4,449.2 548.6,448.1 C556.9,447.0 566.0,445.6 573.4,444.9 C580.8,444.2 587.0,443.9 593.2,443.9 C599.4,443.9 604.8,444.2 610.6,444.9 C616.4,445.6 623.0,447.0 627.9,448.1 C632.8,449.2 637.2,450.6 640.3,451.8 C643.4,453.1 644.0,456.4 646.5,455.6 C649.0,454.8 652.1,450.4 655.2,446.9 C658.3,443.4 661.8,439.1 665.1,434.5 C668.4,429.9 671.7,424.1 675.0,419.6 C678.3,415.1 681.6,411.0 684.9,407.3 C688.2,403.6 693.1,398.9 694.8,397.3 C696.5,395.7 693.1,399.4 695.2,397.8 C697.3,396.2 703.4,390.8 707.5,387.9 C711.6,385.0 716.6,382.1 719.9,380.5 C723.2,378.9 726.1,378.4 727.4,378.0 L727.5,300.0 L727.5,150.0 L360.0,150.0Z" fill="#f19660"/>
<path d="M646.5,456.8 C645.7,458.0 643.4,461.3 641.5,464.2 C639.6,467.1 637.4,470.4 635.3,474.1 C633.2,477.8 631.0,482.4 629.1,486.5 C627.2,490.6 625.6,494.3 624.2,498.9 C622.8,503.4 621.5,508.8 620.5,513.8 C619.5,518.8 618.6,524.1 618.0,528.6 C617.4,533.1 617.6,537.3 616.8,541.0 C616.0,544.7 614.9,548.0 613.0,550.9 C611.1,553.8 608.5,556.3 605.6,558.4 C602.7,560.5 599.4,561.9 595.7,563.3 C592.0,564.7 587.4,565.8 583.3,567.0 C579.2,568.2 575.0,569.3 570.9,570.8 C566.8,572.2 562.6,573.9 558.5,575.7 C554.4,577.6 550.1,579.4 546.2,581.9 C542.3,584.4 538.7,587.3 535.0,590.6 C531.3,593.9 527.2,597.8 523.9,601.7 C520.6,605.6 517.7,609.8 515.2,614.1 C512.7,618.4 510.9,623.0 509.0,627.7 C507.1,632.5 505.4,637.6 504.0,642.6 C502.6,647.6 502.4,651.3 500.3,657.5 C498.2,663.7 493.9,673.8 491.7,680.0 C489.5,686.2 488.4,689.5 487.2,694.9 C486.0,700.3 485.2,706.4 484.7,712.2 C484.2,718.0 484.1,723.7 484.2,729.5 C484.3,735.3 484.9,741.1 485.5,746.9 C486.1,752.7 486.7,758.4 487.9,764.2 C489.1,770.0 491.0,775.8 492.9,781.6 C494.8,787.4 497.0,793.1 499.1,798.9 C501.2,804.7 503.0,810.5 505.3,816.3 C507.6,822.1 510.0,827.8 512.7,833.6 C515.4,839.4 518.7,845.1 521.4,850.9 C524.1,856.7 525.8,861.4 528.8,868.3 C531.8,875.2 535.8,885.9 539.2,892.4 C542.6,898.9 545.4,902.8 549.1,907.3 C552.8,911.8 557.0,915.7 561.5,919.6 C566.0,923.5 571.3,927.5 576.3,930.8 C581.2,934.1 585.8,937.1 591.2,939.5 C596.6,941.9 602.7,943.6 608.5,944.9 C614.3,946.2 620.1,947.1 625.9,947.4 C631.7,947.6 637.4,947.3 643.2,946.4 C649.0,945.5 654.8,943.9 660.6,941.9 C666.4,939.9 672.5,937.2 677.9,934.5 C683.3,931.8 688.2,928.7 692.8,925.8 C697.3,922.9 701.5,920.3 705.2,917.2 C708.9,914.1 712.2,910.6 715.1,907.3 C718.0,904.0 720.5,901.3 722.5,897.3 C724.5,893.3 724.8,887.5 727.3,883.1 C729.8,878.7 733.5,874.5 737.2,870.8 C740.9,867.1 745.0,864.1 749.5,860.8 C754.0,857.5 759.4,854.0 764.4,850.9 C769.4,847.8 774.3,845.4 779.3,842.3 C784.2,839.2 789.1,835.9 794.1,832.4 C799.1,828.9 804.0,825.6 809.0,821.2 C814.0,816.9 819.4,811.7 823.9,806.3 C828.4,800.9 832.6,794.8 836.3,789.0 C840.0,783.2 843.1,777.5 846.2,771.7 C849.3,765.9 852.1,759.5 854.8,754.3 C857.5,749.1 859.8,744.2 862.3,740.7 C864.8,737.2 867.4,734.8 869.7,733.3 C872.0,731.8 873.6,731.3 875.9,731.5 C878.2,731.7 880.8,732.1 883.3,734.5 C885.8,736.9 888.3,741.1 890.8,745.6 C893.3,750.1 895.7,756.6 898.2,761.8 C900.7,767.0 902.7,771.6 905.6,776.6 C908.5,781.6 912.2,786.5 915.5,791.5 C918.8,796.5 922.1,801.8 925.4,806.3 C928.7,810.8 932.6,815.6 935.3,818.7 C938.0,821.8 940.5,823.9 941.5,824.9 L985.0,800.0 L1000.0,700.0 L1003.0,560.0 L999.0,543.5 C998.2,541.0 995.5,534.4 994.1,528.6 C992.7,522.8 991.4,515.4 990.4,508.8 C989.4,502.2 988.7,501.6 988.4,489.0 C988.1,476.4 988.4,442.3 988.4,433.0 L988.0,355.0 L775.0,355.0 L761.9,406.0 C761.3,407.9 759.6,413.3 758.2,417.2 C756.8,421.1 754.8,426.2 753.3,429.5 C751.8,432.8 752.2,433.3 749.5,437.0 C746.8,440.7 740.5,446.9 737.2,451.8 C733.9,456.8 732.0,461.3 729.7,466.7 C727.4,472.1 725.1,478.6 723.5,484.0 C721.9,489.4 720.5,494.1 719.8,498.9 C719.1,503.7 719.6,505.1 719.2,513.0 C718.8,520.9 718.5,536.4 717.5,546.0 C716.5,555.6 715.2,562.8 713.4,570.8 C711.6,578.8 708.6,588.2 706.8,594.0 C705.0,599.8 703.8,601.6 702.7,605.5 C701.6,609.4 701.2,613.6 700.2,617.1 C699.2,620.6 698.3,624.5 696.9,626.2 C695.5,627.9 693.8,627.9 691.9,627.5 C690.0,627.1 687.8,626.0 685.3,623.7 C682.8,621.4 679.6,617.4 677.1,613.8 C674.6,610.2 672.4,606.3 670.5,602.2 C668.6,598.1 666.8,594.0 665.5,589.0 C664.2,584.0 663.7,578.8 663.0,572.5 C662.3,566.2 661.5,558.2 661.4,551.0 C661.3,543.8 661.7,536.4 662.2,529.5 C662.8,522.6 663.7,516.1 664.7,509.7 C665.7,503.3 667.9,496.5 668.0,491.0 C668.1,485.5 666.4,480.5 665.1,476.6 C663.8,472.8 661.8,470.4 660.1,467.9 C658.5,465.4 656.9,463.3 655.2,461.8 C653.6,460.3 651.7,459.6 650.2,458.8 C648.8,458.0 647.1,457.1 646.5,456.8Z" fill="#f19660"/>
<path d="M289.4,1142.0 C291.3,1141.1 296.9,1137.6 301.0,1136.4 C305.1,1135.2 309.8,1134.4 314.2,1134.7 C318.6,1135.0 323.0,1135.8 327.4,1138.0 C331.8,1140.2 336.8,1143.5 340.6,1147.9 C344.5,1152.3 348.3,1158.9 350.5,1164.4 C352.7,1169.9 353.2,1174.8 353.8,1180.9 C354.4,1187.0 354.3,1197.5 354.4,1200.8 L350.0,1235.0 L280.0,1205.0 L268.0,1140.0Z" fill="#f19660"/>
<path d="M812.7,1015.0 C813.7,1013.1 816.2,1007.8 818.9,1003.9 C821.6,1000.0 825.5,995.6 828.8,991.5 C832.1,987.4 835.0,983.0 838.7,979.1 C842.4,975.2 847.0,971.6 851.1,967.9 C855.2,964.2 859.4,960.3 863.5,956.8 C867.6,953.3 871.8,950.2 875.9,946.9 C880.0,943.6 884.6,939.9 888.3,937.0 C892.0,934.1 894.9,932.0 898.2,929.5 C901.5,927.0 905.2,924.1 908.1,922.1 C911.0,920.1 914.3,918.0 915.5,917.2 L960.0,900.0 L995.0,960.0 L975.0,1065.0 L800.0,1065.0Z" fill="#f19660"/>
<path d="M400.0,394.0 C406.7,394.0 429.2,394.3 440.0,394.1 C450.8,393.9 456.6,393.9 464.8,392.9 C473.1,391.9 481.2,390.0 489.5,387.9 C497.8,385.8 506.0,383.2 514.3,380.5 C522.6,377.8 531.5,374.7 539.1,371.8 C546.7,368.9 553.7,365.9 559.9,363.4 C566.1,360.9 571.0,359.5 576.5,356.7 C582.0,353.9 587.6,350.4 593.1,346.8 C598.6,343.2 603.9,339.8 609.4,335.4 C614.9,331.0 621.0,324.9 626.0,320.5 C631.0,316.1 635.0,313.3 639.4,308.9 C643.8,304.5 648.2,298.9 652.6,294.0 C657.0,289.1 663.5,281.7 665.7,279.2 L680.0,260.0 L700.0,150.0 L400.0,150.0Z" fill="#d9c685"/>
<path d="M603.1,581.9 C602.3,582.5 600.2,584.1 598.2,585.6 C596.2,587.1 593.3,588.5 590.8,590.6 C588.3,592.7 585.6,595.1 583.3,598.0 C581.0,600.9 579.0,604.6 577.1,607.9 C575.2,611.2 573.9,614.1 572.2,617.8 C570.6,621.5 568.7,626.1 567.2,630.2 C565.8,634.3 564.5,638.5 563.5,642.6 C562.5,646.7 561.8,650.9 561.0,655.0 C560.2,659.1 559.5,663.2 558.5,667.4 C557.5,671.6 556.2,675.4 555.1,680.0 C554.0,684.6 553.1,689.5 551.9,694.9 C550.7,700.3 548.7,706.4 548.1,712.2 C547.5,718.0 547.8,723.7 548.1,729.5 C548.4,735.3 549.2,741.1 549.9,746.9 C550.6,752.7 551.2,758.4 552.4,764.2 C553.6,770.0 555.4,775.8 557.3,781.6 C559.1,787.4 561.2,793.5 563.5,798.9 C565.8,804.3 568.2,808.8 570.9,813.8 C573.6,818.8 576.5,823.6 579.6,828.6 C582.7,833.6 586.0,839.0 589.5,843.5 C593.0,848.0 596.8,852.2 600.7,855.9 C604.6,859.6 608.5,862.7 613.0,865.8 C617.5,868.9 622.9,872.4 627.9,874.5 C632.9,876.6 637.8,877.4 642.8,878.2 C647.8,879.0 652.6,879.4 657.6,879.4 C662.6,879.4 667.5,879.0 672.5,878.2 C677.5,877.4 682.8,875.7 687.4,874.5 C692.0,873.3 696.2,872.6 700.0,870.8 C703.8,869.0 705.8,866.2 709.9,863.6 C714.0,861.0 719.4,858.2 724.8,854.9 C730.2,851.6 736.3,847.6 742.1,844.0 C747.9,840.4 754.1,837.3 759.5,833.3 C764.9,829.3 769.3,824.8 774.3,820.0 C779.2,815.2 784.2,809.6 789.2,804.4 C794.2,799.2 799.5,794.0 804.0,789.0 C808.5,784.0 812.3,779.5 816.4,774.1 C820.5,768.7 824.7,762.4 828.8,756.8 C832.9,751.2 837.1,745.5 841.2,740.7 C845.3,736.0 849.5,731.6 853.6,728.3 C857.7,725.0 861.9,722.5 866.0,720.9 C870.1,719.2 874.3,718.4 878.4,718.4 C882.5,718.4 886.7,719.0 890.8,720.9 C894.9,722.8 899.4,726.0 903.1,729.5 C906.8,733.0 909.7,737.8 913.0,741.9 C916.3,746.0 919.7,750.8 923.0,754.3 C926.3,757.8 929.8,760.9 932.9,763.0 C936.0,765.1 939.4,765.9 941.5,766.7 C943.6,767.5 944.7,767.7 945.3,767.9 L975.0,760.0 L1005.0,650.0 L998.0,560.0 L988.6,555.9 C988.0,555.1 986.8,553.4 984.9,550.9 C983.0,548.4 980.2,544.7 977.5,541.0 C974.8,537.3 971.7,533.1 968.8,528.6 C965.9,524.1 963.0,518.8 960.1,513.8 C957.2,508.8 954.1,503.9 951.4,498.9 C948.7,493.9 946.5,488.9 944.0,484.0 C941.5,479.1 939.3,474.1 936.6,469.2 C933.9,464.2 931.0,459.2 927.9,454.3 C924.8,449.4 921.3,444.2 918.0,439.5 C914.7,434.8 911.4,429.7 908.1,425.8 C904.8,421.9 901.5,418.4 898.2,415.9 C894.9,413.4 892.0,411.9 888.3,411.0 C884.6,410.1 880.4,410.0 875.9,410.2 C871.4,410.4 866.0,411.0 861.0,412.2 C856.0,413.4 851.2,414.9 846.2,417.2 C841.2,419.5 836.3,422.0 831.3,425.8 C826.3,429.6 821.8,434.9 816.4,440.0 C811.0,445.1 804.7,450.4 799.1,456.5 C793.5,462.6 787.6,469.7 782.6,476.3 C777.6,482.9 773.8,489.3 769.4,496.2 C765.0,503.1 760.1,510.5 756.2,517.6 C752.3,524.8 749.2,531.7 746.2,539.1 C743.2,546.5 740.5,554.5 738.0,562.2 C735.5,569.9 733.6,577.6 731.4,585.3 C729.2,593.0 726.4,601.3 724.8,608.5 C723.1,615.7 722.5,621.8 721.5,628.3 C720.5,634.8 719.7,642.9 718.6,647.5 C717.5,652.1 716.7,654.0 715.0,656.0 C713.3,658.0 711.6,658.5 708.6,659.3 C705.6,660.1 701.5,660.4 697.0,661.0 C692.5,661.6 685.9,662.5 681.3,662.7 C676.7,662.9 673.2,662.7 669.5,662.3 C665.8,661.9 662.5,661.4 659.1,660.2 C655.7,659.0 652.4,657.6 649.2,655.3 C646.0,653.0 642.6,650.1 639.8,646.5 C637.0,642.9 634.8,638.0 632.5,633.5 C630.2,629.0 628.2,624.2 626.3,619.5 C624.4,614.8 622.6,609.6 621.0,605.0 C619.4,600.4 618.0,595.5 616.5,592.0 C615.0,588.5 613.6,586.0 611.8,584.2 C610.0,582.4 607.0,581.6 605.6,581.2 C604.2,580.8 603.5,581.8 603.1,581.9Z" fill="#d9c685"/>
<path d="M858.5,1034.8 C859.3,1032.5 861.4,1026.0 863.5,1021.2 C865.6,1016.5 868.0,1011.0 870.9,1006.3 C873.8,1001.5 877.1,997.2 880.8,992.7 C884.5,988.2 889.1,983.2 893.2,979.1 C897.3,975.0 901.5,971.4 905.6,967.9 C909.7,964.4 914.3,960.9 918.0,958.0 C921.7,955.1 925.0,952.7 927.9,950.6 C930.8,948.5 934.1,946.4 935.3,945.6 L990.0,940.0 L990.0,1065.0 L850.0,1065.0Z" fill="#d9c685"/>
<path d="M971.3,585.6 C970.3,585.4 968.2,585.2 965.1,584.4 C962.0,583.6 957.2,582.2 952.7,580.7 C948.2,579.2 942.8,577.2 937.8,575.7 C932.8,574.2 928.0,573.0 923.0,572.0 C918.0,571.0 913.1,570.1 908.1,569.5 C903.1,568.9 898.2,568.9 893.2,568.3 C888.2,567.7 882.9,567.0 878.4,565.8 C873.9,564.5 870.1,562.9 866.0,560.8 C861.9,558.7 858.1,555.0 853.6,553.4 C849.1,551.8 843.7,551.5 838.7,550.9 C833.8,550.3 828.4,550.1 823.9,549.7 C819.4,549.3 815.6,548.7 811.5,548.5 C807.4,548.3 803.2,547.7 799.1,548.5 C795.0,549.3 790.4,550.9 786.7,553.4 C783.0,555.9 780.1,559.6 776.8,563.3 C773.5,567.0 770.2,571.6 766.9,575.7 C763.6,579.8 760.3,583.6 757.0,588.1 C753.7,592.6 750.4,597.6 747.1,603.0 C743.8,608.4 740.5,614.1 737.2,620.3 C733.9,626.5 730.6,633.5 727.3,640.1 C724.0,646.7 719.7,656.1 717.3,659.9 C714.9,663.7 714.6,660.9 712.7,662.7 C710.8,664.5 708.6,668.1 706.1,670.9 C703.6,673.6 700.6,676.5 697.8,679.2 C695.0,682.0 692.2,684.4 689.5,687.4 C686.8,690.4 684.0,693.7 681.3,697.3 C678.5,700.9 675.5,704.8 673.0,708.9 C670.5,713.0 668.3,717.7 666.4,722.1 C664.5,726.5 663.0,730.9 661.5,735.3 C660.0,739.7 658.1,744.1 657.3,748.5 C656.5,752.9 656.4,757.7 656.5,761.8 C656.6,765.9 657.6,770.4 658.2,773.3 C658.8,776.2 658.6,776.1 660.1,779.1 C661.6,782.1 664.6,788.0 667.5,791.5 C670.4,795.0 673.8,797.8 677.5,800.1 C681.2,802.4 686.0,804.1 689.8,805.1 C693.5,806.1 696.2,806.7 700.0,806.3 C703.8,805.9 708.3,804.2 712.4,802.6 C716.5,801.0 720.3,798.7 724.8,796.4 C729.3,794.1 734.6,791.9 739.6,789.0 C744.6,786.1 749.1,783.2 754.5,779.1 C759.9,775.0 766.4,769.2 771.8,764.2 C777.2,759.2 781.7,754.8 786.7,749.4 C791.7,744.0 797.1,737.4 801.6,732.0 C806.1,726.6 809.5,722.2 814.0,717.2 C818.5,712.2 823.8,706.6 828.8,702.3 C833.8,697.9 838.8,693.9 843.7,691.1 C848.7,688.3 853.5,686.5 858.5,685.5 C863.5,684.5 868.4,684.3 873.4,685.0 C878.4,685.7 883.8,687.6 888.3,689.9 C892.8,692.2 896.6,695.7 900.7,698.6 C904.8,701.5 908.9,705.0 913.0,707.3 C917.1,709.6 921.0,711.2 925.4,712.2 C929.8,713.2 936.8,713.2 939.1,713.4 L975.0,700.0 L985.0,600.0Z" fill="#a5d38e"/>
<path d="M782.0,623.0 C785.9,623.5 790.1,625.1 793.6,627.2 C797.1,629.3 800.4,632.0 802.7,635.4 C805.0,638.8 806.6,643.5 807.6,647.8 C808.6,652.1 808.9,656.3 808.5,661.0 C808.1,665.7 806.6,671.2 805.2,675.9 C803.8,680.6 802.1,684.1 800.2,689.1 C798.3,694.1 795.8,700.4 793.6,705.6 C791.4,710.8 789.5,716.1 787.0,720.5 C784.5,724.9 781.7,728.4 778.7,732.0 C775.7,735.6 772.4,738.6 768.8,741.9 C765.2,745.2 761.1,749.0 757.3,751.8 C753.4,754.6 749.8,756.6 745.7,758.5 C741.6,760.4 736.9,762.7 732.5,763.4 C728.1,764.1 723.4,763.7 719.3,762.6 C715.2,761.5 711.0,759.1 707.7,756.8 C704.4,754.4 701.7,751.5 699.5,748.5 C697.3,745.5 695.6,742.5 694.5,738.6 C693.4,734.8 692.8,729.8 692.8,725.4 C692.8,721.0 693.7,716.1 694.5,712.2 C695.3,708.4 696.1,705.9 697.8,702.3 C699.4,698.7 702.2,694.3 704.4,690.7 C706.6,687.1 708.5,684.4 711.0,680.8 C713.5,677.2 716.5,673.1 719.3,669.3 C722.0,665.4 724.8,661.3 727.5,657.7 C730.2,654.1 732.8,651.1 735.8,647.8 C738.8,644.5 742.1,640.9 745.7,637.9 C749.3,634.9 753.2,631.9 757.3,629.6 C761.4,627.3 766.4,625.0 770.5,623.9 C774.6,622.8 778.1,622.5 782.0,623.0Z" fill="#8dc96a"/>
<path d="M955.2,619.1 C953.1,618.7 946.9,616.6 942.8,616.6 C938.7,616.6 934.1,617.5 930.4,619.1 C926.7,620.8 923.2,623.4 920.5,626.5 C917.8,629.6 915.8,633.7 914.3,637.6 C912.8,641.5 911.8,645.9 911.8,650.0 C911.8,654.1 912.8,658.7 914.3,662.4 C915.8,666.1 917.8,669.2 920.5,672.3 C923.2,675.4 928.8,679.5 930.4,681.0 L947.7,681.0 L962.6,652.5 L962.6,627.7Z" fill="#8dc96a"/>
<path d="M754.0,655.2 C757.3,655.4 761.1,655.6 763.9,656.9 C766.6,658.1 769.1,660.1 770.5,662.7 C771.9,665.3 772.1,669.0 772.1,672.6 C772.1,676.2 771.3,680.2 770.5,684.1 C769.7,688.0 768.6,691.6 767.2,695.7 C765.8,699.8 764.1,705.0 762.2,708.9 C760.3,712.8 758.1,716.0 755.6,718.8 C753.1,721.5 750.3,723.8 747.3,725.4 C744.3,727.0 740.7,728.2 737.4,728.7 C734.1,729.2 730.5,729.2 727.5,728.7 C724.5,728.2 721.6,727.0 719.3,725.4 C717.0,723.8 714.8,721.5 713.5,718.8 C712.2,716.0 711.6,712.5 711.3,708.9 C711.0,705.3 711.3,700.9 711.8,697.3 C712.3,693.7 713.0,691.0 714.3,687.4 C715.5,683.8 717.4,679.5 719.3,675.9 C721.2,672.3 723.4,668.8 725.9,666.0 C728.4,663.2 731.1,661.1 734.1,659.4 C737.1,657.7 740.7,656.4 744.0,655.7 C747.3,655.0 750.7,655.0 754.0,655.2Z" fill="#70bf4a"/>
<path d="M739.1,669.3 C741.2,669.5 743.9,669.5 745.7,670.9 C747.5,672.3 749.2,675.0 749.8,677.5 C750.3,680.0 749.7,683.0 749.0,685.8 C748.3,688.5 747.4,691.7 745.7,694.0 C744.1,696.3 741.4,699.0 739.1,699.8 C736.8,700.6 733.9,699.8 731.7,699.0 C729.5,698.2 727.4,696.8 725.9,694.9 C724.4,693.0 723.3,690.0 722.9,687.4 C722.5,684.8 722.6,681.7 723.4,679.2 C724.2,676.7 725.9,674.2 727.5,672.6 C729.1,671.0 731.4,670.2 733.3,669.6 C735.2,669.0 737.0,669.1 739.1,669.3Z" fill="#2aa84f"/>
<path d="M1004.8,1317.7L997.3,1296.7L987.6,1276.5L981.4,1255.1M401.4,1452.6L389.3,1453.4L377.7,1449.9M377.7,1449.9L367.5,1464.4L361.3,1481.5L350.1,1495.5M276.4,1438.9L302.2,1456.2L326.0,1476.0L350.1,1495.5M276.4,1438.9L294.3,1432.0L313.0,1426.6L328.8,1415.2M328.8,1415.2L345.3,1426.5L359.1,1441.5L377.7,1449.9M276.4,1438.9L276.0,1439.0L275.7,1439.2M275.7,1439.2L266.8,1450.9L257.5,1462.1L244.8,1469.9M135.5,1496.6L144.5,1473.2L160.7,1453.5L169.7,1430.1M244.8,1469.9L220.1,1455.9L196.3,1440.4L169.7,1430.1M69.5,1380.5L101.0,1400.1L135.2,1414.0L168.9,1429.0M168.9,1429.0L169.3,1429.6L169.7,1430.1M280.7,1273.0L294.9,1281.7L305.5,1294.4M280.7,1273.0L282.0,1245.6L293.2,1220.1L295.8,1192.9M295.8,1192.9L316.1,1187.2L336.3,1180.9L355.5,1171.8M355.5,1171.8L341.4,1213.1L327.0,1254.3L314.7,1296.2M314.7,1296.2L310.1,1295.0L305.5,1294.4M364.3,1164.4L359.3,1167.4L355.5,1171.8M364.3,1164.4L361.5,1149.9L364.9,1135.5L365.2,1121.1M365.2,1121.1L329.5,1128.6L292.8,1130.5L257.2,1139.1M246.2,1158.4L253.1,1149.5L257.2,1139.1M246.2,1158.4L263.9,1168.3L281.2,1178.7L295.8,1192.9M43.4,611.6L74.3,618.1L104.5,627.1L134.5,637.0M146.3,666.9L141.9,651.3L134.5,637.0M146.3,666.9L123.6,710.0L98.0,751.5L76.4,795.3M328.8,1415.2L335.8,1388.0L346.0,1362.0L354.4,1335.3M251.2,1354.9L261.7,1382.3L266.4,1411.4L275.7,1439.2M251.2,1354.9L269.3,1334.8L289.5,1316.5L305.5,1294.4M314.7,1296.2L324.1,1303.0L335.3,1306.3M354.4,1335.3L344.9,1320.7L335.3,1306.3M401.4,1452.6L423.9,1437.3L451.1,1431.3L473.5,1416.0M497.1,1436.6L487.1,1424.3L473.5,1416.0M354.4,1335.3L389.9,1343.4L425.3,1351.8L460.7,1360.2M473.5,1416.0L472.6,1396.6L463.1,1379.2L460.7,1360.2M1131.8,1151.0L1085.1,1166.2L1036.8,1176.0L989.9,1190.8M1131.8,1151.0L1101.6,1115.9L1070.4,1081.7L1038.1,1048.5M989.9,1190.8L982.2,1155.6L969.5,1121.9L959.1,1087.5M1038.1,1048.5L1012.0,1062.1L986.4,1076.5L959.1,1087.5M981.4,1255.1L971.7,1241.6L965.1,1226.3M965.1,1226.3L972.5,1213.9L981.2,1202.3L989.9,1190.8M116.6,967.4L117.1,947.8L114.6,928.3L112.2,908.9M112.2,908.9L99.1,892.8L85.1,877.5L72.7,860.8M183.7,853.5L146.6,854.9L109.8,859.3L72.7,860.8M183.7,853.5L184.1,853.7L184.5,853.9M112.2,908.9L128.7,912.4L145.3,915.1L162.2,915.9M184.5,853.9L178.0,874.9L169.5,895.2L162.2,915.9M251.2,1354.9L232.2,1352.4L213.1,1353.2M280.7,1273.0L265.8,1264.6L248.8,1262.9L232.7,1258.2M232.7,1258.2L224.5,1284.1L212.3,1308.5L204.2,1334.4M204.2,1334.4L210.0,1343.1L213.1,1353.2M168.9,1429.0L178.6,1407.9L187.3,1386.2L201.4,1367.3M201.4,1367.3L207.4,1360.4L213.1,1353.2M278.4,799.8L243.3,791.6L209.1,780.4L174.9,769.5M278.4,799.8L289.7,773.1L297.7,745.3L305.8,717.5M305.8,717.5L261.6,714.2L218.5,704.0L174.9,696.6M174.9,769.5L170.9,745.2L177.5,720.9L174.9,696.6M417.0,720.8L419.1,746.2L418.3,771.8L423.2,797.0M417.0,720.8L408.9,714.8L402.1,707.5M402.1,707.5L380.7,698.2L357.0,696.7L335.7,687.2M335.7,687.2L323.6,695.2L316.4,708.0L305.8,717.5M283.0,861.7L283.6,862.5L284.0,863.5M283.0,861.7L284.7,840.8L282.6,820.2L278.4,799.8M284.0,863.5L303.4,868.7L321.1,878.3M321.1,878.3L355.5,851.6L389.1,823.9L423.2,797.0M177.4,603.6L225.1,612.0L271.6,625.5L318.6,637.3M177.4,603.6L178.5,601.3L178.7,598.8M178.7,598.8L205.0,579.2L233.6,562.9L259.3,542.5M318.6,637.3L313.1,616.0L305.7,595.3L296.3,575.4M296.3,575.4L284.6,563.7L273.8,551.0L259.3,542.5M171.1,772.8L175.2,795.3L176.9,818.1L179.5,840.8M171.1,772.8L153.9,778.5L137.4,786.4L119.1,788.6M119.1,788.6L139.3,805.9L158.0,825.0L179.5,840.8M183.7,853.5L181.8,847.1L179.5,840.8M283.0,861.7L249.9,861.6L217.1,858.5L184.5,853.9M174.9,769.5L173.0,771.2L171.1,772.8M146.3,666.9L158.1,674.6L167.1,685.0L174.9,696.6M76.4,795.3L90.9,794.9L104.4,787.7L119.1,788.6M701.8,1377.7L707.8,1362.7L717.8,1350.1M842.1,1386.7L824.1,1367.9L810.5,1345.7L794.5,1325.3M717.8,1350.1L742.2,1338.2L769.4,1335.0L794.5,1325.3M364.3,1164.4L374.7,1176.2L384.3,1188.7L396.5,1198.7M335.3,1306.3L357.9,1288.4L378.7,1268.6L398.6,1247.8M398.6,1247.8L398.1,1231.4L395.7,1215.1L396.5,1198.7M365.2,1121.1L367.9,1115.1L370.1,1108.8M455.2,1159.2L442.4,1150.1L432.0,1138.7L422.8,1126.1M455.2,1159.2L446.2,1170.1L439.3,1182.4L432.3,1194.6M370.1,1108.8L388.6,1111.9L405.4,1119.9L422.8,1126.1M432.3,1194.6L414.3,1196.0L396.5,1198.7M455.2,1159.2L479.1,1155.1L503.5,1156.7L527.6,1153.7M432.3,1194.6L454.4,1204.1L474.9,1216.3L494.2,1230.5M494.2,1230.5L504.7,1204.7L514.9,1178.6L527.6,1153.7M563.1,1089.4L515.9,1099.9L469.7,1114.6L422.8,1126.1M563.1,1089.4L569.5,1096.3L574.7,1104.2M527.6,1153.7L545.1,1139.0L560.9,1122.6L574.7,1104.2M667.7,969.5L647.0,966.1L625.9,970.0L605.3,965.7M667.7,969.5L675.4,972.4L682.4,976.6M605.3,965.7L594.1,1007.8L575.0,1047.1L562.7,1088.7M693.4,1065.9L663.7,1082.5L635.3,1101.4L603.9,1114.9M693.4,1065.9L694.3,1059.9L693.2,1054.0M682.4,976.6L689.4,1001.9L693.2,1027.7L693.2,1054.0M562.7,1088.7L562.8,1089.1L563.1,1089.4M574.7,1104.2L589.4,1109.3L603.9,1114.9M701.8,1377.7L680.0,1368.8L656.9,1364.8L634.1,1359.3M634.1,1359.3L621.1,1397.1L602.9,1432.6L587.1,1469.1M497.1,1436.6L516.5,1444.4L538.1,1444.5L556.9,1453.9M587.1,1469.1L572.8,1459.9L556.9,1453.9M859.4,1230.6L876.0,1227.4L892.9,1226.8L909.6,1224.7M859.4,1230.6L830.3,1214.3L804.0,1193.7L774.4,1178.1M909.6,1224.7L892.8,1192.9L875.8,1161.2L859.4,1129.3M859.4,1129.3L833.6,1139.5L805.6,1141.2L779.3,1149.8M774.4,1178.1L775.1,1163.7L779.3,1149.8M924.9,1230.6L904.4,1274.4L888.9,1320.4L865.6,1362.9M924.9,1230.6L916.8,1228.8L909.6,1224.7M842.1,1386.7L854.4,1375.4L865.6,1362.9M788.3,1297.1L792.6,1311.0L794.5,1325.3M788.3,1297.1L812.5,1275.5L836.7,1253.9L859.4,1230.6M873.5,1094.0L867.5,1112.0L859.4,1129.3M873.5,1094.0L901.6,1091.8L929.6,1088.2L957.8,1086.6M957.8,1086.6L958.5,1086.9L959.1,1087.5M965.1,1226.3L951.4,1225.1L938.3,1228.9L924.9,1230.6M990.2,1424.8L1020.9,1440.0L1053.4,1450.8L1085.6,1462.2M1103.9,1460.9L1094.7,1461.1L1085.6,1462.2M1004.4,1325.7L1003.8,1332.9L1001.2,1339.7M1001.2,1339.7L1002.3,1353.7L1005.8,1367.4L1007.3,1381.4M1004.8,1317.7L1004.9,1321.7L1004.4,1325.7M865.6,1362.9L910.2,1352.1L955.5,1344.9L1001.2,1339.7M990.2,1424.8L992.7,1409.1L1002.8,1396.3L1007.3,1381.4M1070.4,244.7L1065.7,240.7L1061.3,236.4M1070.4,244.7L1067.8,262.6L1059.0,278.5L1054.0,295.7M1061.3,236.4L1041.6,240.6L1023.9,250.2M1054.0,295.7L1053.5,296.0L1053.2,296.3M1053.2,296.3L1038.8,285.3L1028.6,270.3M1023.9,250.2L1025.8,260.4L1028.6,270.3M1133.1,219.2L1111.8,226.8L1091.4,236.3L1070.4,244.7M246.2,1158.4L237.2,1163.5L227.8,1167.6M232.7,1258.2L229.4,1255.9L226.2,1253.5M227.8,1167.6L223.7,1185.6L218.1,1203.1L212.1,1220.4M226.2,1253.5L217.1,1237.8L212.1,1220.4M227.8,1167.6L208.6,1153.1L189.3,1138.7L167.8,1127.8M156.5,1131.4L162.5,1130.7L167.8,1127.8M156.5,1131.4L149.1,1157.9L141.8,1184.4L131.5,1209.9M212.1,1220.4L185.0,1218.9L157.8,1217.2L131.5,1209.9M148.0,1128.3L140.5,1097.9L127.7,1069.1L121.6,1038.3M284.0,863.5L266.5,891.9L246.5,918.9L231.4,948.9M162.2,915.9L176.3,931.8L191.8,946.1L207.8,960.1M231.4,948.9L227.4,951.5L223.9,954.8M207.8,960.1L215.9,957.8L223.9,954.8M137.6,167.2L139.8,186.7L146.6,205.1M137.6,167.2L128.0,184.3L121.9,203.2L111.1,219.7M111.1,219.7L122.1,215.7L133.8,215.5M133.8,215.5L141.1,211.4L146.6,205.1M102.4,485.1L116.8,476.7L133.3,474.4L148.6,468.7M148.6,468.7L148.5,455.1L144.5,442.1M138.2,431.7L140.7,437.4L144.5,442.1M138.2,431.7L143.1,410.8L140.4,388.8L146.8,368.1M178.7,598.8L176.3,584.4L179.0,570.1M259.3,542.5L255.9,529.4L252.2,516.4M219.9,503.9L209.0,527.7L194.5,549.2L179.0,570.1M219.9,503.9L223.9,504.3L227.8,505.5M252.2,516.4L240.6,509.5L227.8,505.5M189.2,479.4L196.7,483.5L205.0,485.6M189.2,479.4L193.7,460.1L193.7,440.2M205.0,485.6L218.7,471.9L230.0,456.3L238.8,439.0M193.7,440.2L204.0,431.0L219.0,429.3L228.7,418.8M238.8,439.0L233.2,429.2L228.7,418.8M148.6,468.7L156.4,475.6L165.2,481.2M165.2,481.2L177.3,481.7L189.2,479.4M144.5,442.1L162.0,433.6L180.8,428.8M180.8,428.8L186.3,435.6L193.7,440.2M219.9,503.9L212.9,494.4L205.0,485.6M227.8,505.5L240.5,487.7L249.7,467.7L262.0,449.7M262.0,449.7L250.9,443.3L238.8,439.0M156.3,527.0L156.5,513.5L159.7,500.3M156.3,527.0L140.6,527.8L124.9,526.5M159.7,500.3L146.0,501.9L132.3,503.8L119.6,509.8M124.9,526.5L122.5,518.1L119.6,509.8M165.2,481.2L162.2,490.7L159.7,500.3M179.0,570.1L168.4,557.4L163.7,541.5L156.3,527.0M43.4,611.6L68.9,581.6L96.5,553.7L124.9,526.5M134.5,637.0L148.3,625.2L163.0,614.7L177.4,603.6M102.4,485.1L111.9,496.8L119.6,509.8M518.8,209.9L516.8,215.0L515.7,220.4M518.8,209.9L484.0,209.5L449.4,206.7L415.3,199.7M452.3,235.8L441.2,222.6L427.5,211.9L415.3,199.7M452.3,235.8L461.7,247.1L474.5,254.3M515.7,220.4L501.4,231.0L487.9,242.5L474.5,254.3M654.7,1293.7L671.7,1304.6L690.9,1311.7L706.5,1324.9M654.7,1293.7L660.0,1270.9L662.5,1247.6L667.4,1224.8M706.5,1324.9L718.5,1302.7L733.1,1282.3L749.7,1263.3M667.4,1224.8L686.9,1222.1L706.0,1225.8L725.2,1228.7M725.2,1228.7L734.1,1239.7L741.3,1251.9L749.7,1263.3M717.8,1350.1L713.9,1336.7L706.5,1324.9M627.2,1335.8L632.6,1347.0L634.1,1359.3M627.2,1335.8L634.0,1320.2L642.4,1305.7L654.7,1293.7M788.3,1297.1L775.3,1286.0L762.3,1274.9L749.7,1263.3M774.4,1178.1L760.8,1197.7L742.7,1212.9L725.2,1228.7M486.4,1281.7L490.7,1276.0L496.0,1271.2M486.4,1281.7L483.1,1303.8L475.3,1324.7L468.9,1345.9M496.0,1271.2L514.8,1268.7L533.4,1270.2L551.9,1273.7M468.9,1345.9L500.3,1344.0L531.6,1344.2L563.0,1345.7M551.9,1273.7L564.9,1290.5L578.2,1307.1L590.0,1324.7M590.0,1324.7L575.8,1334.3L563.0,1345.7M398.6,1247.8L428.5,1257.6L457.4,1269.7L486.4,1281.7M494.2,1230.5L497.7,1243.9L491.8,1257.8L496.0,1271.2M460.7,1360.2L465.7,1353.6L468.9,1345.9M637.8,1198.7L623.6,1171.9L617.4,1142.0L603.9,1114.9M637.8,1198.7L608.4,1222.8L578.6,1246.6L551.9,1273.7M556.9,1453.9L562.3,1418.0L563.4,1381.9L563.0,1345.7M637.8,1198.7L651.2,1213.4L667.4,1224.8M627.2,1335.8L608.5,1330.6L590.0,1324.7M153.7,1290.9L140.4,1267.3L128.9,1242.7L115.9,1219.0M153.7,1290.9L150.3,1299.3L147.8,1308.0M147.8,1308.0L137.6,1318.1L126.6,1327.4M88.7,1218.9L94.6,1258.1L107.9,1295.5L117.3,1333.8M88.7,1218.9L102.3,1218.4L115.9,1219.0M117.3,1333.8L122.3,1331.1L126.6,1327.4M226.2,1253.5L202.0,1265.9L178.2,1279.0L153.7,1290.9M131.5,1209.9L123.9,1214.9L115.9,1219.0M204.2,1334.4L186.2,1323.9L165.7,1318.8L147.8,1308.0M201.4,1367.3L177.5,1352.2L150.8,1342.0L126.6,1327.4M69.5,1380.5L83.3,1362.8L99.1,1347.2L117.3,1333.8M156.5,1131.4L152.2,1130.0L148.0,1128.3M116.6,967.4L129.6,981.0L142.5,994.6L158.2,1005.1M207.8,960.1L195.7,977.6L175.9,987.2L163.3,1004.2M158.2,1005.1L160.8,1004.7L163.3,1004.2M251.5,1084.8L237.1,1083.4L224.8,1076.1L211.7,1071.0M251.5,1084.8L265.8,1071.6L285.1,1065.3L298.8,1051.3M298.8,1051.3L282.2,1041.0L264.9,1032.0L250.4,1018.6M250.4,1018.6L238.0,1033.9L221.8,1044.7L206.3,1056.3M211.7,1071.0L208.0,1064.0L206.3,1056.3M223.9,954.8L232.8,976.1L241.4,997.4L250.4,1018.6M163.3,1004.2L176.6,1022.4L192.4,1038.6L206.3,1056.3M335.7,687.2L331.3,673.5L328.4,659.4L325.1,645.4M318.6,637.3L319.9,638.4L321.1,639.6M321.1,639.6L323.6,642.2L325.1,645.4M146.8,368.1L150.1,363.7L154.5,360.3M180.8,428.8L179.8,413.9L183.6,399.4M154.5,360.3L162.7,374.5L172.4,387.5L183.6,399.4M228.7,418.8L228.6,418.4L228.6,418.0M183.6,399.4L199.5,403.5L212.3,415.1L228.6,418.0M154.5,360.3L154.8,359.6L155.0,358.9M155.0,358.9L148.3,346.5L146.5,332.5M128.8,328.5L137.7,330.3L146.5,332.5M111.1,219.7L95.4,225.9L82.3,236.2L69.3,246.7M133.8,215.5L134.2,229.8L129.2,243.8L130.8,258.1M146.6,205.1L146.8,205.3L146.9,205.4M146.9,205.4L149.4,215.4L155.1,223.9M155.1,223.9L144.9,233.8L141.6,248.6L130.8,258.1M69.3,246.7L88.8,252.7L107.7,260.4L127.8,264.6M130.8,258.1L128.9,261.2L127.8,264.6M305.2,510.3L311.7,496.2L316.1,481.4L318.2,466.0M305.2,510.3L288.9,513.7L272.2,513.1L255.7,513.9M255.7,513.9L265.3,492.7L281.7,475.5L290.2,453.8M290.2,453.8L302.3,452.3L313.0,446.5M313.0,446.5L316.0,456.1L318.2,466.0M313.6,528.8L308.9,519.8L305.2,510.3M313.6,528.8L330.4,524.2L347.9,522.6M341.5,490.4L347.0,506.0L347.9,522.6M341.5,490.4L327.8,480.1L318.2,466.0M296.3,575.4L299.0,558.7L311.2,545.6L313.6,528.8M252.2,516.4L254.0,515.2L255.7,513.9M262.0,449.7L276.3,450.5L290.2,453.8M323.0,429.4L325.1,429.3L327.0,428.5M323.0,429.4L319.4,438.8L313.0,446.5M327.0,428.5L350.8,442.5L378.6,447.3L402.4,461.5M402.4,461.5L389.5,476.4L374.6,489.3M374.6,489.3L358.1,492.9L341.5,490.4M231.4,948.9L257.7,966.9L282.6,986.9L309.4,1004.2M298.8,1051.3L304.3,1050.9L309.6,1049.1M309.6,1049.1L310.5,1034.1L305.7,1019.2L309.4,1004.2M257.2,1139.1L255.2,1121.0L256.9,1102.6L251.5,1084.8M370.1,1108.8L370.2,1106.9L370.0,1104.9M370.0,1104.9L356.6,1093.5L350.7,1075.7L336.7,1064.8M309.6,1049.1L324.7,1054.4L336.7,1064.8M321.1,878.3L333.1,895.8L349.4,909.1L364.9,923.2M309.4,1004.2L326.5,976.3L347.6,951.1L364.9,923.2M484.3,1027.9L472.0,996.2L458.5,965.0L441.9,935.2M484.3,1027.9L462.6,1035.1L443.6,1047.5L424.1,1058.9M424.1,1058.9L411.6,1036.3L392.1,1018.9L379.0,996.9M441.9,935.2L424.5,937.5L407.3,933.1L389.9,933.4M389.9,933.4L384.0,954.2L380.3,975.3L379.0,996.9M562.7,1088.7L544.7,1073.8L530.4,1054.8L510.8,1041.7M510.8,1041.7L497.9,1034.2L484.3,1027.9M370.0,1104.9L386.0,1087.2L408.0,1076.5L424.1,1058.9M336.7,1064.8L351.3,1042.5L364.6,1019.3L379.0,996.9M364.9,923.2L376.9,929.5L389.9,933.4M543.6,768.5L552.9,767.1L562.3,768.3M543.6,768.5L539.2,789.0L534.7,809.6L528.0,829.6M562.3,768.3L556.2,788.6L553.3,809.3L554.3,830.5M554.3,830.5L550.6,831.9L546.9,833.2M528.0,829.6L537.3,832.2L546.9,833.2M423.2,797.0L440.8,814.2L458.3,831.5L474.0,850.5M441.9,935.2L450.1,926.8L457.6,917.7M474.0,850.5L469.8,873.2L459.8,894.5L457.6,917.7M667.7,969.5L662.3,951.6L654.0,934.9M605.3,965.7L604.6,964.0L603.5,962.6M603.5,962.6L611.9,949.7L616.8,935.0M616.8,935.0L627.2,924.0L634.3,910.6M654.0,934.9L641.8,924.6L634.3,910.6M786.5,1002.8L805.8,1006.1L825.0,1010.0L843.8,1015.8M786.5,1002.8L773.5,1029.1L754.1,1051.4L739.4,1076.7M740.2,1077.2L739.9,1076.9L739.4,1076.7M740.2,1077.2L777.5,1073.7L813.6,1063.0L850.7,1058.5M850.7,1058.5L856.6,1039.5L856.8,1019.5M856.8,1019.5L850.3,1017.6L843.8,1015.8M783.0,982.4L796.9,980.7L809.7,975.2M783.0,982.4L782.9,992.9L786.5,1002.8M809.7,975.2L819.2,990.3L830.6,1003.8L843.8,1015.8M693.4,1065.9L709.3,1067.1L723.9,1074.1L739.4,1076.7M693.2,1054.0L719.8,1023.7L747.3,994.2L769.8,960.6M769.8,960.6L775.7,972.0L783.0,982.4M779.3,1149.8L767.2,1125.2L755.5,1100.3L740.2,1077.2M873.5,1094.0L864.9,1082.8L861.4,1068.4L850.7,1058.5M681.7,554.2L676.5,538.4L674.0,522.4L676.1,505.8M681.7,554.2L687.1,555.5L692.4,557.0M686.8,498.4L681.2,501.7L676.1,505.8M686.8,498.4L702.9,496.9L718.6,503.3L734.7,500.5M734.7,500.5L738.1,517.1L735.3,533.8M735.3,533.8L732.2,537.0L730.4,541.1M730.4,541.1L717.4,545.4L705.2,551.9L692.4,557.0M1073.4,544.2L1089.0,518.2L1104.0,491.8L1117.9,464.9M1073.4,544.2L1077.2,558.0L1075.9,572.1M1078.9,574.9L1077.4,573.5L1075.9,572.1M809.7,975.2L823.0,971.0L834.7,963.3M856.8,1019.5L857.3,1018.9L857.7,1018.3M834.7,963.3L844.9,980.6L852.5,998.9L857.7,1018.3M957.8,1086.6L951.1,1057.2L944.2,1027.8L936.9,998.5M1038.1,1048.5L1039.7,1028.6L1046.8,1009.6L1048.2,989.6M1048.2,989.6L1011.2,993.2L974.3,999.3L936.9,998.5M1048.2,989.6L1055.5,977.7L1064.2,966.9L1072.7,955.9M857.7,1018.3L878.4,1005.2L899.6,993.1L922.3,983.7M936.9,998.5L928.9,991.8L922.3,983.7M600.4,563.8L619.0,565.4L636.3,572.2M600.4,563.8L586.1,572.8L575.3,585.9M575.3,585.9L574.2,590.1L574.0,594.3M574.0,594.3L584.5,613.6L600.0,629.1L612.5,646.9M612.5,646.9L614.8,648.3L617.4,649.1M636.3,572.2L638.3,583.6L643.7,593.8M643.7,593.8L638.9,610.6L639.3,628.6L632.3,644.9M617.4,649.1L624.9,647.2L632.3,644.9M562.3,768.3L566.9,762.2L573.1,757.7M554.3,830.5L556.6,830.0L558.9,830.0M558.9,830.0L568.1,819.2L579.8,811.7L592.3,805.4M573.1,757.7L583.1,760.2L593.5,759.9M592.3,805.4L590.3,790.2L596.7,775.2L593.5,759.9M1053.2,296.3L1046.0,314.4L1032.9,328.8M1028.6,270.3L1013.8,266.3L998.6,263.3M994.7,322.8L1008.5,326.8L1021.0,333.6M994.7,322.8L993.1,306.7L985.6,292.3M1032.9,328.8L1027.4,332.1L1021.0,333.6M985.6,292.3L992.9,278.2L998.6,263.3M1023.9,250.2L1023.4,249.6L1023.1,248.8M998.6,263.3L993.0,249.8L988.6,235.8M1023.1,248.8L1006.6,240.2L988.6,235.8M1061.3,236.4L1050.5,222.5L1038.3,209.7M1023.1,248.8L1030.2,236.5L1033.2,222.7L1038.3,209.7M1133.1,219.2L1094.3,202.6L1056.6,183.3L1017.1,168.3M1038.3,209.7L1033.3,194.8L1020.9,183.7L1017.1,168.3M872.1,310.6L868.8,305.2L867.1,299.0M872.1,310.6L890.8,313.8L909.0,319.3M867.1,299.0L880.5,281.5L894.3,264.3L911.5,250.2M931.7,299.1L921.5,310.5L909.0,319.3M931.7,299.1L929.4,288.2L929.8,277.2M911.5,250.2L922.7,262.3L929.8,277.2M988.6,235.8L984.5,229.3L979.2,223.8M1017.1,168.3L1012.2,160.1L1004.8,154.1M1004.8,154.1L996.7,173.7L982.0,189.7L973.9,209.3M973.9,209.3L975.5,217.0L979.2,223.8M626.2,438.4L632.7,424.3L633.6,408.2L641.4,394.6M626.2,438.4L642.6,436.5L657.8,431.1L672.7,424.4M672.7,424.4L673.1,420.1L673.8,415.8M673.8,415.8L672.6,413.7L672.3,411.2M672.3,411.2L656.9,402.8L641.4,394.6M626.2,438.4L623.3,440.4L620.7,442.9M624.5,383.3L629.5,383.3L634.5,383.6M624.5,383.3L613.3,400.7L604.6,419.4L596.8,438.5M620.7,442.9L608.4,442.5L596.8,438.5M641.4,394.6L638.3,388.8L634.5,383.6M709.6,282.9L692.4,288.9L677.9,300.0M709.6,282.9L722.3,292.1L733.4,303.0M677.9,300.0L693.5,310.2L711.1,316.4L727.5,325.0M727.5,325.0L731.4,314.2L733.4,303.0M726.5,262.4L716.4,271.3L709.6,282.9M726.5,262.4L744.1,264.0L760.5,270.8M760.5,270.8L759.8,272.5L759.8,274.3M733.4,303.0L747.6,289.6L759.8,274.3M931.2,540.9L925.8,525.2L926.0,508.6M931.2,540.9L931.3,541.0L931.5,541.2M931.5,541.2L946.5,541.3L960.7,536.5L975.2,533.3M926.0,508.6L942.8,506.3L958.5,500.5L974.4,495.1M975.2,533.3L976.5,518.9L981.4,505.3M974.4,495.1L977.2,500.7L981.4,505.3M912.8,500.3L899.8,505.3L887.9,512.4M912.8,500.3L919.0,505.1L926.0,508.6M887.9,512.4L891.7,526.9L891.6,542.0M891.6,542.0L911.4,540.2L931.2,540.9M849.0,269.1L832.0,268.4L815.1,268.5L798.3,270.7M849.0,269.1L852.2,283.4L859.9,296.0M859.9,296.0L857.5,296.6L854.9,296.9M798.3,270.7L800.2,273.4L801.2,276.5M854.9,296.9L836.7,291.0L818.3,285.4L801.2,276.5M968.6,327.3L953.9,339.3L942.1,354.1L930.3,368.8M968.6,327.3L956.7,317.3L944.9,307.3L931.7,299.1M909.0,319.3L914.7,331.9L913.8,346.2L919.5,358.8M930.3,368.8L924.9,363.9L919.5,358.8M994.7,322.8L981.3,322.7L968.6,327.3M974.1,398.0L964.7,397.5L955.3,398.0M974.1,398.0L987.5,387.0L997.8,372.5L1013.4,364.0M1013.4,364.0L1014.3,348.0L1021.0,333.6M955.3,398.0L942.6,388.6L931.2,377.6M930.3,368.8L930.8,373.2L931.2,377.6M872.1,310.6L870.1,330.3L862.3,348.5M862.3,348.5L862.9,350.0L863.2,351.6M919.5,358.8L900.5,357.9L881.7,356.2L863.2,351.6M1032.9,328.8L1046.3,340.0L1060.9,349.5M1008.2,507.2L994.8,506.8L981.4,505.3M1008.2,507.2L1017.7,494.8L1023.1,480.3L1027.8,465.6M996.7,450.4L1009.9,452.3L1022.9,455.3M996.7,450.4L995.0,452.0L993.1,453.3M974.2,493.1L979.9,479.6L988.0,467.1L993.1,453.3M974.2,493.1L974.2,494.1L974.4,495.1M1027.8,465.6L1026.0,460.1L1022.9,455.3M1008.2,507.2L1014.3,511.4L1021.3,513.7M1021.3,513.7L1034.3,511.9L1046.6,507.2M1046.6,507.2L1050.7,496.5L1056.5,486.6M1027.8,465.6L1042.3,476.0L1056.5,486.6M1073.4,544.2L1064.9,531.6L1056.6,518.7L1046.6,507.2M1117.9,464.9L1110.8,464.9L1103.7,464.9M1056.5,486.6L1070.8,476.3L1088.5,473.2L1103.7,464.9M1022.9,455.3L1032.9,443.6L1044.9,434.0M1103.7,464.9L1084.8,456.9L1066.4,447.9L1050.7,434.4M1050.7,434.4L1047.8,434.2L1044.9,434.0M996.7,450.4L994.1,438.5L995.0,426.5M995.0,426.5L1011.8,416.0L1029.9,408.0M1044.9,434.0L1039.9,419.6L1029.9,408.0M974.1,398.0L987.3,410.3L995.0,426.5M1013.4,364.0L1025.2,379.9L1030.6,399.0M1030.6,399.0L1030.7,403.5L1029.9,408.0M947.2,437.4L939.4,446.4L932.2,456.0M947.2,437.4L948.1,430.0L948.8,422.7M948.8,422.7L935.1,420.4L921.5,423.0M932.2,456.0L923.1,458.1L913.9,459.6M919.1,424.6L914.5,441.0L910.1,457.3M919.1,424.6L920.2,423.7L921.5,423.0M913.9,459.6L912.1,458.4L910.1,457.3M974.2,493.1L961.0,479.9L945.0,469.8L932.2,456.0M993.1,453.3L978.6,445.6L962.5,442.7L947.2,437.4M955.3,398.0L952.6,410.5L948.8,422.7M931.2,377.6L929.9,378.6L928.6,379.6M928.6,379.6L927.5,394.3L923.6,408.5L921.5,423.0M912.8,500.3L911.1,486.7L912.0,473.2L913.9,459.6M901.0,400.7L912.3,411.0L919.1,424.6M901.0,400.7L909.5,391.5L920.3,385.1M920.3,385.1L924.5,382.5L928.6,379.6M170.8,1120.8L158.5,1091.0L144.8,1062.0L126.8,1035.1M170.8,1120.8L173.5,1115.2L177.2,1110.3M177.2,1110.3L166.4,1080.8L156.4,1051.0L141.2,1023.3M126.8,1035.1L134.6,1030.0L141.2,1023.3M167.8,1127.8L169.1,1124.2L170.8,1120.8M121.6,1038.3L124.3,1036.9L126.8,1035.1M211.7,1071.0L197.9,1082.1L189.6,1098.0L177.2,1110.3M158.2,1005.1L149.0,1013.5L141.2,1023.3M575.3,585.9L560.0,584.9L545.7,580.1L531.8,573.8M574.0,594.3L563.5,606.5L558.5,621.7L551.9,635.9M551.9,635.9L540.8,639.1L529.3,639.2M529.3,639.2L511.9,623.7L498.8,604.8L486.3,585.5M531.8,573.8L516.6,577.6L501.9,583.2L486.3,585.5M374.6,489.3L373.0,503.0L373.2,516.8M347.9,522.6L351.5,524.3L354.4,527.1M373.2,516.8L364.7,523.6L354.4,527.1M321.1,639.6L332.9,607.3L344.2,574.7L357.2,542.8M357.2,542.8L354.4,535.2L354.4,527.1M373.2,516.8L386.4,518.2L398.7,522.9M357.2,542.8L372.9,542.8L388.0,546.4L402.9,551.1M398.7,522.9L398.4,537.3L402.9,551.1M325.1,645.4L357.2,623.1L385.1,595.7L414.8,570.5M414.8,570.5L414.7,570.0L414.7,569.5M414.7,569.5L408.8,560.4L402.9,551.1M340.5,414.9L343.6,393.2L341.4,370.9L347.6,349.4M340.5,414.9L357.3,407.1L371.7,395.2M371.7,395.2L374.3,377.3L378.2,359.6L383.8,342.3M383.8,342.3L366.2,348.5L347.6,349.4M393.8,279.1L397.4,294.4L404.9,308.4L407.1,324.1M393.8,279.1L407.4,283.9L421.6,285.9M407.1,324.1L412.6,311.6L417.6,299.0L421.6,285.9M452.3,235.8L448.6,251.7L449.5,268.6L443.0,283.9M415.3,199.7L411.9,198.7L408.9,196.9M408.9,196.9L413.9,225.7L427.1,252.1L433.8,280.4M443.0,283.9L438.4,282.3L433.8,280.4M620.7,442.9L631.7,455.5L639.9,470.1M683.1,446.7L677.0,436.0L672.7,424.4M683.1,446.7L674.7,457.8L661.3,463.8L654.0,476.0M639.9,470.1L647.1,472.7L654.0,476.0M708.5,461.0L695.8,454.1L683.4,446.8M708.5,461.0L704.2,475.2L694.7,486.3L686.8,498.4M676.1,505.8L667.2,499.6L660.4,491.3M683.1,446.7L683.2,446.8L683.4,446.8M654.0,476.0L657.4,483.5L660.4,491.3M522.2,386.6L520.9,386.9L519.5,386.8M522.2,386.6L544.4,405.4L567.8,422.7L591.8,439.1M538.8,463.1L523.3,449.1L512.2,431.6L500.0,415.0M538.8,463.1L541.8,465.5L544.4,468.3M591.8,439.1L589.7,447.8L587.4,456.5M500.0,415.0L511.9,402.4L519.5,386.8M544.4,468.3L559.2,466.1L572.7,459.0L587.4,456.5M155.0,358.9L155.9,358.8L156.7,358.6M156.7,358.6L181.8,371.2L205.9,385.9L232.8,394.5M228.6,418.0L235.2,409.8L238.5,399.8M238.5,399.8L235.9,397.0L232.8,394.5M156.7,358.6L172.3,353.8L188.3,350.2L204.2,346.5M232.8,394.5L226.7,376.5L216.9,360.6L204.2,346.5M146.5,332.5L147.1,328.9L147.8,325.4M127.8,264.6L140.9,273.2L150.4,285.7M147.8,325.4L150.6,305.6L150.4,285.7M557.7,279.4L561.8,299.2L568.8,318.4L570.3,338.7M557.7,279.4L564.3,272.3L573.0,268.0M573.0,268.0L584.8,275.2L598.3,277.7M598.3,277.7L608.2,290.8L612.9,306.4M612.9,306.4L597.5,315.6L582.5,325.3L570.3,338.7M557.7,279.4L549.8,277.9L541.9,278.8M522.2,386.6L535.2,379.3L545.1,367.3L559.6,362.2M509.4,354.8L518.3,328.7L529.9,303.6L541.9,278.8M509.4,354.8L511.3,369.0L516.6,382.4M516.6,382.4L517.9,384.7L519.5,386.8M570.3,338.7L565.5,350.7L559.6,362.2M624.5,383.3L609.7,374.2L594.0,366.7M591.8,439.1L594.3,439.1L596.8,438.5M559.6,362.2L577.1,362.2L594.0,366.7M605.5,916.7L619.6,911.7L634.2,908.7M605.5,916.7L592.5,910.9L580.6,903.0M585.2,900.2L583.1,901.9L580.6,903.0M585.2,900.2L602.0,899.5L618.1,904.1L634.3,907.4M634.3,907.4L634.3,908.0L634.2,908.7M616.8,935.0L610.0,926.5L605.5,916.7M634.3,910.6L634.4,909.6L634.2,908.7M683.9,888.2L669.4,886.9L655.6,891.5L641.3,892.7M683.9,888.2L675.1,904.5L663.8,919.2L654.0,934.9M641.3,892.7L638.3,900.3L634.3,907.4M579.6,903.5L569.8,902.2L560.2,899.8M579.6,903.5L589.0,921.6L596.5,940.3L600.6,960.4M560.2,899.8L546.5,908.9L535.9,921.5M535.9,921.5L544.4,936.0L551.5,951.2M551.5,951.2L568.4,951.7L584.9,953.9L600.6,960.4M603.5,962.6L602.2,961.3L600.6,960.4M580.6,903.0L580.0,903.2L579.6,903.5M518.8,829.1L503.5,835.4L490.5,846.7L474.0,850.5M518.8,829.1L523.4,828.6L528.0,829.6M546.9,833.2L551.0,855.5L552.8,878.2L560.2,899.8M457.6,917.7L483.6,920.5L509.8,918.8L535.9,921.5M510.8,1041.7L522.7,1010.8L538.1,981.4L551.5,951.2M558.9,830.0L573.1,838.4L587.2,846.9M585.2,900.2L593.4,884.7L605.9,872.5M605.9,872.5L597.3,859.2L587.2,846.9M641.3,892.7L633.1,884.2L628.0,873.4M605.9,872.5L616.9,874.7L628.0,873.4M925.9,885.9L931.3,868.8L936.1,851.4M925.9,885.9L932.9,904.8L934.6,924.9L940.3,944.1M940.3,944.1L968.4,933.2L995.2,918.9L1024.0,909.7M936.1,851.4L963.6,873.6L993.9,891.5L1024.0,909.7M681.7,554.2L667.5,562.5L651.2,565.7L636.3,572.2M643.7,593.8L654.7,608.8L668.0,621.7M692.4,557.0L700.5,568.2L704.1,581.6M704.1,581.6L704.3,596.4L699.1,610.2M668.0,621.7L684.6,618.8L699.1,610.2M1125.5,806.2L1105.9,810.0L1086.5,814.8L1066.3,814.1M1072.7,955.9L1056.8,940.3L1038.5,927.1L1024.4,909.7M1024.4,909.7L1031.5,890.6L1034.1,870.7L1034.2,850.4M1066.3,814.1L1057.9,828.3L1046.8,840.0L1034.2,850.4M1066.3,814.1L1049.6,795.9L1033.6,776.9L1014.3,761.2M996.6,829.3L1007.8,838.8L1020.1,846.1L1034.2,850.4M996.6,829.3L1003.1,806.7L1004.7,783.0L1013.0,760.9M1013.0,760.9L1013.6,761.1L1014.3,761.2M1024.7,553.6L1043.2,559.4L1059.2,570.5M1024.7,553.6L1011.4,555.8L998.2,558.7L985.8,564.3M1059.2,570.5L1040.6,583.1L1021.9,595.5L1002.0,606.2M983.0,571.4L984.4,567.9L985.8,564.3M983.0,571.4L987.7,588.4L994.3,604.6M994.3,604.6L998.2,605.2L1002.0,606.2M1021.3,513.7L1021.8,527.1L1024.2,540.3L1024.7,553.6M1075.9,572.1L1067.5,572.0L1059.2,570.5M975.2,533.3L979.6,549.1L985.8,564.3M932.1,560.1L940.2,568.0L945.7,578.0M932.1,560.1L932.5,550.6L931.5,541.2M945.7,578.0L964.8,577.6L983.0,571.4M462.4,613.2L480.8,625.7L500.7,635.0L521.1,643.6M462.4,613.2L462.3,613.7L462.1,614.1M462.1,614.1L475.9,625.7L489.0,638.0L498.5,653.7M521.1,643.6L515.2,651.1L508.8,658.1M508.8,658.1L503.5,656.2L498.5,653.7M529.3,639.2L524.8,640.7L521.1,643.6M464.7,596.8L471.4,589.8L480.2,585.6M464.7,596.8L464.7,605.2L462.4,613.2M486.3,585.5L483.3,585.9L480.2,585.6M402.1,707.5L412.5,688.8L427.0,673.0L439.1,655.5M414.8,570.5L432.3,577.6L446.2,591.5L464.7,596.8M439.1,655.5L448.2,642.5L456.3,628.9L462.1,614.1M439.1,655.5L459.0,657.6L478.7,654.4L498.5,653.7M417.0,720.8L427.0,720.5L436.9,721.5M436.9,721.5L460.8,703.1L483.5,683.2L507.2,664.6M507.2,664.6L507.6,661.3L508.8,658.1M543.6,768.5L542.2,767.0L540.6,765.9M573.1,757.7L565.3,746.7L555.9,736.9M555.9,736.9L551.0,752.9L540.6,765.9M518.8,829.1L516.2,801.5L508.6,775.0L500.6,748.6M540.6,765.9L527.6,759.2L515.1,751.5L500.6,748.6M436.9,721.5L456.9,722.7L474.4,733.7L494.0,736.2M500.6,748.6L498.2,741.9L494.0,736.2M898.7,232.3L899.1,213.2L893.8,194.8L891.7,176.0M898.7,232.3L905.8,236.4L911.3,242.6M891.7,176.0L918.2,187.7L945.5,197.7L971.7,210.3M911.3,242.6L932.9,234.7L953.4,224.5L971.7,210.3M855.5,232.3L869.9,232.0L884.3,234.2L898.7,232.3M855.5,232.3L848.0,220.2L845.0,206.8L843.5,192.9M849.0,237.1L846.6,253.1L849.0,269.1M849.0,237.1L852.7,235.3L855.5,232.3M859.9,296.0L863.3,297.9L867.1,299.0M911.5,250.2L911.4,246.4L911.3,242.6M973.9,209.3L972.7,209.7L971.7,210.3M974.6,282.0L974.4,270.1L970.9,258.7M974.6,282.0L961.1,281.7L948.1,277.7L934.7,276.9M934.7,276.9L946.7,270.7L957.9,262.9L970.9,258.7M985.6,292.3L979.3,288.0L974.6,282.0M979.2,223.8L977.2,241.8L970.9,258.7M929.8,277.2L932.2,276.7L934.7,276.9M672.3,411.2L678.2,393.6L685.3,376.5M634.5,383.6L647.2,369.7L657.8,354.2M685.3,376.5L684.9,375.4L684.5,374.2M684.5,374.2L669.6,366.2L657.8,354.2M594.0,366.7L615.0,353.0L634.9,337.7L653.6,321.0M657.8,354.2L655.3,337.6L653.6,321.0M612.9,306.4L626.8,309.2L640.8,311.8L654.4,315.9M653.6,321.0L654.3,318.5L654.4,315.9M901.0,400.7L886.4,412.0L869.2,419.2M920.3,385.1L899.5,382.1L879.7,375.4L860.1,367.8M869.2,419.2L864.3,402.4L863.8,384.8L860.1,367.8M863.2,351.6L862.2,358.3L859.2,364.4M859.2,364.4L859.6,366.1L860.1,367.8M739.6,192.9L728.1,199.2L718.3,207.8M664.3,146.2L663.3,144.2L662.1,142.3M664.3,146.2L681.9,165.3L699.4,184.5L713.5,206.4M713.5,206.4L716.0,207.0L718.3,207.8M792.4,263.3L777.4,264.1L763.1,269.0M792.4,263.3L798.7,251.3L804.4,238.9M763.1,269.0L755.3,254.8L752.0,239.4L751.3,223.3M804.4,238.9L802.5,223.3L795.3,209.3M751.3,223.3L757.5,212.6L766.4,204.0M795.3,209.3L790.0,202.8L784.0,197.1M766.4,204.0L774.6,199.0L784.0,197.1M849.0,237.1L834.1,234.6L819.5,242.3L804.4,238.9M798.3,270.7L795.6,266.8L792.4,263.3M726.5,262.4L723.4,256.1L718.7,251.0M760.5,270.8L761.7,269.7L763.1,269.0M718.7,251.0L726.6,238.3L731.1,224.0M731.1,224.0L741.3,225.0L751.3,223.3M843.5,192.9L828.4,201.2L811.2,203.4L795.3,209.3M739.6,192.9L753.7,196.8L766.4,204.0M731.1,224.0L723.3,217.0L718.3,207.8M733.2,335.5L742.5,343.8L751.2,352.6M733.2,335.5L715.2,336.3L698.8,343.6M751.2,352.6L733.4,359.6L713.8,356.9L695.8,362.8M698.8,343.6L697.8,353.3L695.8,362.8M756.6,356.0L761.4,338.5L768.8,322.0M756.6,356.0L753.9,354.2L751.2,352.6M727.5,325.0L731.2,329.8L733.2,335.5M768.8,322.0L768.2,305.6L761.8,290.4L759.8,274.3M684.5,374.2L690.8,369.1L695.8,362.8M657.7,312.9L656.1,314.5L654.4,315.9M657.7,312.9L671.5,323.1L682.8,336.4L698.8,343.6M786.5,313.4L794.6,295.9L801.3,277.9M786.5,313.4L802.2,315.2L817.0,320.9M801.3,277.9L805.3,292.1L813.8,304.5L817.8,318.7M817.0,320.9L817.4,319.8L817.8,318.7M768.8,322.0L777.8,318.0L786.5,313.4M801.2,276.5L801.1,277.2L801.3,277.9M854.9,296.9L843.0,304.9L830.8,312.4L817.8,318.7M862.3,348.5L848.2,340.6L830.9,341.9L817.1,333.0M817.1,333.0L817.9,326.9L817.0,320.9M1071.3,402.6L1066.3,397.9L1060.4,394.5M1071.3,402.6L1066.8,408.0L1063.1,414.0M1063.1,414.0L1049.7,406.5L1036.8,398.3M1060.4,394.5L1048.4,395.0L1036.8,398.3M1060.9,349.5L1059.7,364.5L1063.6,379.5L1060.4,394.5M1050.7,434.4L1056.3,423.8L1063.1,414.0M1030.6,399.0L1033.7,398.2L1036.8,398.3M371.7,395.2L391.2,397.4L409.0,405.8M385.8,340.5L384.8,341.4L383.8,342.3M385.8,340.5L394.9,340.4L403.9,340.2M403.9,340.2L407.3,341.0L410.3,342.8M409.0,405.8L405.6,384.7L408.6,363.8L410.3,342.8M383.1,335.5L366.1,324.9L352.0,310.7L337.0,297.6M383.1,335.5L379.2,314.3L379.5,292.8L378.7,271.4M378.7,271.4L370.6,258.9L361.0,247.5M361.0,247.5L352.2,258.8L344.9,271.4L333.7,280.8M333.7,280.8L334.8,289.3L337.0,297.6M393.8,279.1L386.9,273.9L378.7,271.4M385.8,340.5L384.6,338.0L383.1,335.5M403.9,340.2L406.2,332.3L407.1,324.1M398.2,188.5L385.1,206.0L371.9,223.5L361.7,243.0M398.2,188.5L403.3,193.1L408.9,196.9M361.7,243.0L361.0,245.2L361.0,247.5M433.8,280.4L427.5,282.7L421.6,285.9M339.2,347.4L332.6,334.9L327.7,321.6M339.2,347.4L319.6,353.5L303.3,366.0L285.7,375.9M285.7,375.9L284.6,375.4L283.7,374.5M283.7,374.5L295.2,357.9L307.5,341.8L317.8,324.3M317.8,324.3L322.7,323.0L327.7,321.6M347.6,349.4L343.3,348.7L339.2,347.4M337.0,297.6L330.9,309.0L327.7,321.6M323.0,429.4L310.0,412.0L300.4,392.1L285.7,375.9M327.0,428.5L332.6,420.6L340.5,414.9M282.3,373.9L279.0,374.0L275.8,373.4M282.3,373.9L283.1,374.1L283.7,374.5M275.8,373.4L264.1,383.3L250.0,389.7L238.5,399.8M288.9,312.9L285.0,333.1L288.1,354.0L282.3,373.9M288.9,312.9L303.3,318.7L317.8,324.3M288.9,312.9L287.7,305.5L284.4,298.7M292.1,283.6L286.9,290.4L284.4,298.7M292.1,283.6L305.8,279.3L319.8,280.6L333.7,280.8M161.6,205.7L170.3,209.5L179.8,210.0M161.6,205.7L167.7,201.4L173.5,196.7M179.8,210.0L176.1,203.6L173.5,196.7M161.6,205.7L154.2,205.2L146.9,205.4M289.6,223.5L287.2,224.9L284.9,226.5M284.9,226.5L266.5,211.8L244.3,203.5L224.3,191.5M361.7,243.0L338.5,233.6L314.0,228.5L289.6,223.5M518.8,209.9L520.7,207.3L523.2,205.5M155.1,223.9L171.1,229.1L186.6,235.5M179.8,210.0L189.1,215.5L197.5,222.3M186.6,235.5L192.9,229.6L197.5,222.3M224.3,191.5L220.2,201.1L215.9,210.6M197.5,222.3L205.6,214.7L215.9,210.6M622.2,486.6L613.9,504.2L606.2,522.0L596.4,538.8M622.2,486.6L611.0,478.5L598.3,473.3L585.9,467.5M572.3,508.1L576.8,494.5L584.5,482.0L585.9,467.5M572.3,508.1L581.4,525.7L596.0,539.3M596.0,539.3L596.2,539.0L596.4,538.8M639.9,470.1L629.7,476.9L622.2,486.6M660.4,491.3L640.2,508.7L615.9,520.5L596.4,538.8M587.4,456.5L586.4,462.0L585.9,467.5M600.4,563.8L597.5,551.7L596.0,539.3M284.4,298.7L271.9,300.5L260.4,306.0M275.8,373.4L263.0,359.7L249.1,347.1L235.1,334.7M260.4,306.0L249.6,322.0L235.1,334.7M204.2,346.5L217.1,341.1L228.8,333.5M228.8,333.5L232.0,333.8L235.1,334.7M245.9,277.1L259.9,280.1L274.0,278.8L288.0,277.2M245.9,277.1L240.4,268.9L234.0,261.4M234.0,261.4L235.2,256.4L238.1,252.2M238.1,252.2L256.9,245.0L277.1,245.1M277.1,245.1L282.6,261.2L288.0,277.2M292.1,283.6L290.3,280.2L288.0,277.2M246.8,288.9L252.5,298.3L260.4,306.0M246.8,288.9L247.4,283.0L245.9,277.1M284.9,226.5L279.4,235.2L277.1,245.1M215.9,210.6L225.4,223.4L231.5,237.9L238.1,252.2M523.2,205.5L536.0,218.1L551.2,226.7L567.9,233.0M593.3,213.7L581.6,224.7L567.9,233.0M515.7,220.4L515.2,237.5L520.0,253.6L525.2,269.6M541.9,278.8L533.3,274.6L525.2,269.6M573.0,268.0L572.6,258.9L573.1,249.8M567.9,233.0L572.0,240.9L573.1,249.8M664.3,146.2L666.5,167.7L672.9,188.2L678.8,208.9M713.5,206.4L702.8,219.3L695.1,234.0M678.8,208.9L687.1,221.4L695.1,234.0M718.7,251.0L706.2,247.9L694.4,242.7M695.1,234.0L695.0,238.4L694.4,242.7M598.3,277.7L610.7,268.2L620.9,256.4M573.1,249.8L590.7,247.9L606.7,240.4M620.9,256.4L612.8,249.3L606.7,240.4M593.3,213.7L600.1,217.0L607.1,219.9M606.7,240.4L608.1,230.2L607.1,219.9M662.1,142.3L651.6,165.2L650.0,191.1L638.4,213.6M638.4,213.6L623.1,218.3L607.1,219.9M881.9,916.3L865.4,923.2L849.4,931.2M881.9,916.3L898.0,931.6L909.3,951.2L925.9,966.2M849.4,931.2L865.8,942.2L879.8,956.1L895.9,967.3M925.9,966.2L924.6,973.8L922.2,981.3M895.9,967.3L910.3,972.1L922.2,981.3M925.9,885.9L912.2,892.4L897.8,896.7L883.4,900.9M940.3,944.1L932.1,954.5L925.9,966.2M883.4,900.9L883.7,908.7L881.9,916.3M835.3,955.3L855.7,958.1L875.9,962.4L895.9,967.3M835.3,955.3L832.8,943.5L831.5,931.6M831.5,931.6L840.4,929.9L849.4,931.2M922.3,983.7L922.2,982.5L922.2,981.3M1024.4,909.7L1024.2,909.7L1024.0,909.7M834.7,963.3L835.2,959.3L835.3,955.3M730.4,541.1L744.4,554.8L755.7,571.0L769.9,584.6M704.1,581.6L713.0,588.3L722.8,593.5M769.9,584.6L753.9,586.2L738.1,588.4L722.8,593.5M699.1,610.2L700.7,613.4L702.1,616.7M702.1,616.7L718.0,617.7L733.8,618.1M722.8,593.5L729.2,605.4L733.8,618.1M932.1,560.1L917.0,569.9L899.7,574.0L882.9,579.2M891.6,542.0L885.4,552.3L880.6,563.2M880.6,563.2L882.5,571.1L882.9,579.2M703.9,646.2L690.1,657.4L679.8,671.9M703.9,646.2L717.6,638.8L733.8,640.5L747.6,633.7M698.4,694.2L688.8,690.7L680.6,684.5M698.4,694.2L717.8,694.4L736.2,688.5M736.2,688.5L738.9,684.9L741.8,681.6M741.8,681.6L746.6,668.9L749.0,655.6L753.0,642.7M753.0,642.7L751.1,637.8L747.8,633.8M680.6,684.5L680.5,678.2L679.8,672.0M747.6,633.7L747.7,633.7L747.8,633.8M679.8,672.0L679.8,671.9L679.8,671.9M668.0,621.7L668.5,639.2L673.0,655.8L679.8,671.9M702.1,616.7L701.7,631.6L703.9,646.2M733.8,618.1L740.8,625.8L747.6,633.7M617.4,649.1L615.6,665.6L620.3,682.1L617.9,698.6M632.3,644.9L647.9,654.4L662.2,666.0L679.8,672.0M617.9,698.6L629.8,706.7L642.7,713.2M642.7,713.2L655.7,704.1L668.9,695.3L680.6,684.5M769.9,584.6L771.7,585.5L773.4,586.5M773.4,586.5L773.8,590.9L774.0,595.2M774.0,595.2L765.6,608.3L758.6,622.3L747.8,633.8M794.7,612.9L783.7,604.7L774.0,595.2M794.7,612.9L791.6,628.4L794.0,644.0M753.0,642.7L757.5,643.8L761.7,645.6M794.0,644.0L777.9,645.5L761.7,645.6M741.8,681.6L755.9,682.1L770.0,680.6L784.2,681.4M761.7,645.6L767.7,658.5L778.0,668.7L784.2,681.4M759.2,714.9L763.8,718.5L768.5,722.1M759.2,714.9L748.7,700.8L736.2,688.5M805.5,699.2L795.0,709.8L780.0,713.1L768.5,722.1M805.5,699.2L806.6,696.5L807.5,693.7M784.2,681.4L795.8,687.5L807.5,693.7M1125.5,806.2L1111.0,787.8L1101.6,765.8L1085.1,748.8M1085.1,748.8L1091.3,730.4L1095.1,711.3M960.0,770.8L940.2,766.8L920.2,763.4L901.0,757.0M960.0,770.8L956.2,789.0L957.4,808.0L950.5,825.7M901.0,757.0L907.6,784.9L913.4,812.9L921.2,840.5M950.5,825.7L943.3,835.9L934.2,844.4M934.2,844.4L927.4,843.4L921.2,840.5M936.1,851.4L935.2,847.9L934.2,844.4M996.6,829.3L981.2,828.2L966.0,825.4L950.5,825.7M784.0,755.3L773.9,744.6L766.7,731.7M784.0,755.3L798.4,764.2L814.7,768.4L830.3,774.1M805.5,699.2L812.7,725.5L823.7,750.3L837.1,774.1M768.5,722.1L767.3,726.9L766.7,731.7M830.3,774.1L833.7,774.0L837.1,774.1M555.9,736.9L551.7,728.2L546.1,720.4M494.0,736.2L509.1,729.3L521.7,717.7L538.3,713.7M538.3,713.7L542.2,717.0L546.1,720.4M507.2,664.6L517.0,679.6L531.2,691.0L541.2,705.7M538.3,713.7L539.6,709.7L541.2,705.7M593.5,759.9L595.7,758.7L597.6,757.0M597.6,757.0L593.4,739.2L584.4,723.4M546.1,720.4L565.0,725.1L584.4,723.4M598.6,806.0L605.0,803.9L611.7,803.1M598.6,806.0L606.6,817.4L618.8,825.2L625.2,837.9M611.7,803.1L626.3,811.1L639.7,821.0M639.7,821.0L638.8,831.2L639.8,841.3M625.2,837.9L632.2,840.0L639.3,841.7M639.8,841.3L639.5,841.4L639.3,841.7M636.7,745.3L624.0,750.3L609.6,749.5L597.6,757.0M636.7,745.3L636.8,763.1L638.1,780.9M592.3,805.4L595.5,805.3L598.6,806.0M638.1,780.9L623.4,790.2L611.7,803.1M587.2,846.9L605.7,840.3L625.2,837.9M652.2,799.6L646.7,810.8L639.7,821.0M652.2,799.6L645.4,790.1L638.1,780.9M692.2,805.1L688.4,818.5L688.7,832.2L687.7,845.9M692.2,805.1L679.1,801.3L665.6,800.9L652.2,799.6M687.7,845.9L672.0,841.6L656.1,839.0L639.8,841.3M628.0,873.4L631.7,856.9L639.3,841.7M707.6,882.0L698.7,871.2L693.7,858.3L687.7,845.9M707.6,882.0L695.2,882.9L683.9,888.2M887.9,512.4L882.1,509.1L875.7,507.4M910.1,457.3L893.3,455.1L879.1,446.0L863.8,439.6M875.7,507.4L867.5,490.3L863.2,471.9M863.2,471.9L861.2,455.7L863.8,439.6M869.2,419.2L863.6,427.0L861.1,436.2M863.8,439.6L862.3,438.1L861.1,436.2M734.7,500.5L736.0,494.8L738.5,489.5M735.3,533.8L752.5,529.6L770.1,529.0M770.1,529.0L772.9,515.2L780.2,503.0L784.3,489.7M784.3,489.7L780.5,485.0L777.2,479.9M777.2,479.9L757.4,482.9L738.5,489.5M708.5,461.0L714.4,461.4L720.3,461.1M738.5,489.5L729.6,475.2L720.3,461.1M817.1,333.0L810.0,345.5L798.8,354.5L789.6,365.3M789.6,365.3L782.3,367.2L774.8,367.7M756.6,356.0L757.4,358.5L759.0,360.5M759.0,360.5L766.4,365.4L774.8,367.7M685.3,376.5L700.1,381.1L712.4,391.1L727.6,394.6M759.0,360.5L750.3,373.5L736.9,382.1L727.6,394.6M437.8,538.1L429.9,524.8L426.6,509.3L418.4,496.1M437.8,538.1L455.4,535.9L470.9,527.4M470.9,527.4L466.8,500.6L453.3,476.2L449.5,449.3M418.4,496.1L424.7,479.1L428.3,461.2M428.3,461.2L439.4,456.2L449.5,449.3M398.7,522.9L406.4,507.9L418.4,496.1M414.7,569.5L425.8,553.4L437.8,538.1M480.2,585.6L481.6,567.5L475.7,549.9L476.1,531.9M476.1,531.9L473.9,529.2L470.9,527.4M402.4,461.5L415.4,462.2L428.3,461.2M450.6,447.9L450.1,448.6L449.5,449.3M450.6,447.9L447.0,444.2L444.2,439.9M409.0,405.8L420.9,417.0L430.5,430.5L444.2,439.9M538.8,463.1L537.6,474.8L534.6,486.1M500.0,415.0L488.3,424.7L478.0,436.0M478.0,436.0L490.9,450.2L499.3,467.1L507.6,484.2M507.6,484.2L521.2,483.4L534.6,486.1M544.4,468.3L554.6,483.5L563.3,499.5M534.6,486.1L549.2,492.1L563.3,499.5M572.3,508.1L571.6,507.8L570.9,507.7M570.9,507.7L566.6,504.1L563.3,499.5M531.8,573.8L526.8,560.9L521.1,548.2L519.4,534.3M570.9,507.7L554.7,508.8L539.2,513.5M519.4,534.3L529.6,524.2L539.2,513.5M507.6,484.2L508.2,488.3L510.1,492.1M539.2,513.5L524.1,503.5L510.1,492.1M416.0,343.2L418.7,343.9L421.2,345.1M416.0,343.2L425.3,323.0L441.6,307.5L452.3,288.2M452.3,288.2L463.0,287.9L473.5,289.6M425.0,345.6L423.1,345.4L421.2,345.1M425.0,345.6L443.8,330.3L461.8,314.2L480.6,299.0M473.5,289.6L476.1,293.0L479.6,295.2M480.6,299.0L480.4,297.0L479.6,295.2M444.2,439.9L432.9,409.2L429.2,376.6L421.2,345.1M410.3,342.8L413.1,343.4L416.0,343.2M443.0,283.9L447.3,286.9L452.3,288.2M474.5,254.3L475.6,272.0L473.5,289.6M516.6,382.4L485.8,370.8L454.5,360.6L425.0,345.6M450.6,447.9L464.7,442.9L478.0,436.0M509.4,354.8L498.5,336.9L488.3,318.6L480.6,299.0M525.2,269.6L511.9,281.5L496.0,288.8L479.6,295.2M186.6,235.5L185.8,237.8L185.8,240.1M234.0,261.4L227.9,265.7L221.4,269.4M221.4,269.4L207.2,262.5L199.3,247.9L185.8,240.1M693.9,243.0L679.8,239.6L665.4,238.6M693.9,243.0L682.6,260.6L675.1,279.7L670.8,300.2M665.6,302.1L660.7,284.2L652.5,267.9L642.8,252.3M665.6,302.1L668.3,301.4L670.8,300.2M665.4,238.6L656.1,240.2L646.7,241.4M642.8,252.3L644.8,246.9L646.7,241.4M678.8,208.9L673.2,224.2L665.4,238.6M694.4,242.7L694.1,242.8L693.9,243.0M677.9,300.0L674.4,300.5L670.8,300.2M657.7,312.9L661.8,307.6L665.6,302.1M620.9,256.4L631.8,254.4L642.8,252.3M638.4,213.6L643.3,227.3L646.7,241.4M639.4,742.1L642.8,727.8L642.7,713.2M639.4,742.1L658.0,754.4L678.2,763.5L699.1,771.2M698.4,694.2L701.1,702.8L704.4,711.2M699.1,771.2L702.4,751.3L703.8,731.3L704.4,711.2M692.2,805.1L698.8,797.7L704.3,789.4M639.4,742.1L637.9,743.5L636.7,745.3M704.3,789.4L704.7,784.7L705.7,780.0M699.1,771.2L701.6,776.1L705.7,780.0M759.2,714.9L740.9,717.9L725.1,727.5M704.4,711.2L715.2,718.7L725.1,727.5M875.7,507.4L861.0,519.5L842.9,525.4M880.6,563.2L867.0,551.5L851.2,543.0M842.9,525.4L847.5,534.0L851.2,543.0M846.4,603.0L836.4,589.6L825.4,576.9M846.4,603.0L859.6,599.2L868.9,588.1L881.9,584.1M882.9,579.2L882.6,581.7L881.9,584.1M851.2,543.0L839.8,552.2L832.1,564.1L825.4,576.9M1031.6,750.8L1038.2,736.7L1049.3,726.0L1059.3,714.4M1031.6,750.8L1047.6,751.0L1063.5,749.9L1079.2,746.2M1079.2,746.2L1072.3,728.4L1059.3,714.4M1014.3,761.2L1022.9,756.1L1031.6,750.8M1085.1,748.8L1081.9,748.0L1079.2,746.2M1060.7,705.4L1077.7,709.0L1095.1,711.3M1060.7,705.4L1060.5,710.0L1059.3,714.4M1034.0,673.2L1041.6,682.3L1051.2,689.0M1034.0,673.2L1039.8,658.3L1048.0,644.5M1051.2,689.0L1085.7,680.8L1120.6,675.0L1155.4,668.7M1155.4,668.7L1121.4,658.3L1086.5,651.0L1052.2,641.7M1052.2,641.7L1050.2,643.3L1048.0,644.5M983.5,656.3L981.5,640.0L982.8,623.6M983.5,656.3L995.6,662.7L1005.3,672.1L1015.8,680.5M1015.8,680.5L1025.5,678.4L1034.0,673.2M986.7,613.6L985.6,618.9L982.8,623.6M986.7,613.6L989.8,608.5L994.3,604.6M1002.0,606.2L1019.0,617.0L1033.7,630.5L1048.0,644.5M1060.7,705.4L1055.3,697.6L1051.2,689.0M1078.9,574.9L1070.7,597.5L1058.0,618.2L1052.2,641.7M898.5,755.8L879.8,759.9L861.4,764.7M898.5,755.8L904.6,741.1L904.8,724.7L912.1,710.5M861.4,764.7L862.0,743.1L859.2,721.4L861.5,699.8M861.5,699.8L878.7,704.4L896.6,704.7M912.1,710.5L904.9,706.1L896.6,704.7M866.3,655.1L865.6,657.2L865.0,659.4M866.3,655.1L861.5,637.5L853.8,621.0L845.8,604.7M865.0,659.4L856.5,669.3L847.9,679.1M831.9,612.8L838.3,607.8L845.8,604.7M831.9,612.8L823.6,626.9L815.9,641.3L810.2,656.6M847.9,679.1L833.8,681.4L819.5,681.5M810.2,656.6L815.1,669.0L819.5,681.5M861.5,699.8L855.6,688.8L847.9,679.1M896.6,704.7L892.1,687.1L885.5,670.2M885.5,670.2L874.4,666.5L865.0,659.4M794.7,612.9L813.3,611.4L831.9,612.8M773.4,586.5L784.8,572.8L800.2,563.7M846.4,603.0L846.1,603.9L845.8,604.7M800.2,563.7L813.6,568.7L825.4,576.9M794.0,644.0L801.8,650.6L810.2,656.6M861.4,764.7L852.5,770.6L844.7,777.7M807.5,693.7L814.2,688.3L819.5,681.5M844.7,777.7L840.7,776.3L837.1,774.1M935.7,632.7L920.5,629.5L906.0,623.5M935.7,632.7L941.8,620.0L944.5,606.1M939.5,589.9L926.2,594.3L912.5,597.2L898.7,599.0M939.5,589.9L940.7,598.4L944.5,606.1M898.7,599.0L904.5,610.6L906.0,623.5M986.7,613.6L972.0,614.4L958.0,611.6L944.5,606.1M982.8,623.6L967.4,628.0L951.9,631.6L935.9,633.0M935.9,633.0L935.8,632.8L935.7,632.7M945.7,578.0L943.4,584.4L939.5,589.9M881.9,584.1L890.8,591.0L898.7,599.0M894.4,640.0L901.3,632.6L906.0,623.5M894.4,640.0L880.4,647.8L866.3,655.1M764.3,843.6L793.4,836.8L822.8,831.4L850.9,820.6M764.3,843.6L759.0,863.8L752.0,883.5L744.4,902.9M754.9,910.4L750.5,907.2L745.5,905.2M754.9,910.4L772.5,914.0L790.0,907.3L807.6,909.2M807.6,909.2L820.0,892.5L837.6,880.7L850.7,864.7M745.5,905.2L745.0,904.0L744.4,902.9M850.7,864.7L854.6,849.2L859.3,833.9M859.3,833.9L854.3,827.8L850.9,820.6M844.7,777.7L845.7,792.2L848.5,806.3L850.9,820.6M830.3,774.1L818.4,783.9L803.3,786.5L789.7,792.6M789.7,792.6L780.1,806.1L766.2,815.1M761.1,828.8L763.1,821.7L766.2,815.1M761.1,828.8L762.7,836.2L764.3,843.6M707.6,882.0L718.5,891.3L731.5,897.0L744.4,902.9M704.3,789.4L722.1,804.1L742.1,815.8L761.1,828.8M682.4,976.6L704.0,953.3L724.6,929.1L745.5,905.2M769.8,960.6L761.1,945.0L757.3,927.9L754.9,910.4M831.5,931.6L821.1,918.8L807.6,909.2M883.4,900.9L870.0,891.0L859.7,878.5L850.7,864.7M921.2,840.5L900.7,837.6L880.1,834.7L859.3,833.9M898.5,755.8L899.7,756.4L901.0,757.0M611.6,697.9L604.0,706.6L593.9,712.2M611.6,697.9L598.4,690.4L586.7,680.3L572.1,675.3M593.9,712.2L577.8,706.0L560.7,705.0L544.0,702.4M572.1,675.3L568.1,675.2L564.3,673.9M564.3,673.9L554.7,688.5L544.0,702.4M617.9,698.6L614.8,698.1L611.6,697.9M584.4,723.4L589.6,718.1L593.9,712.2M612.5,646.9L600.5,658.5L586.1,666.6L572.1,675.3M541.2,705.7L542.4,703.9L544.0,702.4M551.9,635.9L556.1,655.6L564.3,673.9M683.4,446.8L697.9,437.3L711.0,426.2L722.4,413.1M673.8,415.8L690.3,413.3L706.5,410.0L722.9,407.3M722.9,407.3L722.7,410.2L722.4,413.1M727.6,394.6L726.3,398.4L726.0,402.5M722.9,407.3L724.5,404.9L726.0,402.5M720.3,461.1L724.5,455.6L728.1,449.7M722.4,413.1L724.9,431.5L728.1,449.7M777.2,479.9L777.8,475.9L779.0,472.1M779.0,472.1L767.3,462.3L756.1,451.7M756.1,451.7L747.1,450.1L738.5,446.8M728.1,449.7L733.2,448.1L738.5,446.8M843.7,435.8L843.1,435.9L842.5,436.0M843.7,435.8L835.7,415.5L828.8,394.9L826.7,372.9M842.5,436.0L841.5,435.0L840.3,434.2M840.3,434.2L827.7,410.8L809.7,391.1L796.1,368.4M796.1,368.4L811.6,369.3L826.7,372.9M859.2,364.4L843.5,370.9L826.7,372.9M861.1,436.2L852.4,435.3L843.7,435.8M794.6,410.9L788.4,423.5L780.0,434.8M794.6,410.9L809.5,419.3L824.3,428.0L840.3,434.2M834.6,441.5L838.3,438.3L842.5,436.0M834.6,441.5L819.6,442.2L806.4,449.3L792.1,452.8M792.1,452.8L786.9,443.2L780.0,434.8M789.6,365.3L792.8,367.0L796.1,368.4M774.8,367.7L776.3,372.1L776.2,376.7M776.2,376.7L788.4,392.2L794.6,410.9M487.5,528.9L496.5,518.1L501.4,504.7L509.7,493.4M487.5,528.9L500.6,530.5L513.8,532.0M513.8,532.0L509.3,512.9L509.7,493.4M476.1,531.9L481.7,530.1L487.5,528.9M510.1,492.1L509.8,492.7L509.7,493.4M519.4,534.3L516.5,533.4L513.8,532.0M161.4,279.4L180.2,284.2L196.5,295.2L214.8,301.4M161.4,279.4L163.3,276.9L165.9,275.3M165.9,275.3L183.3,276.3L200.7,278.1L218.1,274.6M218.1,274.6L218.1,287.8L217.5,300.9M214.8,301.4L216.0,301.5L217.3,301.6M217.5,300.9L217.5,301.3L217.3,301.6M147.8,325.4L169.7,316.0L192.1,308.5L214.8,301.4M150.4,285.7L156.1,282.9L161.4,279.4M185.8,240.1L182.1,253.5L173.2,263.9L165.9,275.3M221.4,269.4L219.4,271.8L218.1,274.6M246.8,288.9L233.1,297.3L217.5,300.9M228.8,333.5L223.6,317.4L217.3,301.6M730.7,767.4L735.2,759.3L740.5,751.6M730.7,767.4L744.1,772.2L755.8,780.4M755.8,780.4L761.4,777.0L767.6,774.6M758.3,760.3L765.1,764.0L770.4,769.7M758.3,760.3L750.6,754.7L742.0,750.7M767.6,774.6L769.1,772.2L770.4,769.7M742.0,750.7L741.3,751.3L740.5,751.6M705.7,780.0L718.2,773.7L730.7,767.4M725.1,727.5L732.9,739.4L740.5,751.6M766.2,815.1L762.0,797.4L755.8,780.4M789.7,792.6L777.5,785.0L767.6,774.6M777.1,762.2L767.7,761.4L758.3,760.3M777.1,762.2L773.9,766.1L770.4,769.7M777.1,762.2L780.2,758.4L784.0,755.3M766.7,731.7L753.5,740.0L742.0,750.7M842.0,525.1L827.7,532.0L812.7,537.8L800.1,548.0M842.0,525.1L835.8,514.9L829.9,504.5M829.9,504.5L824.0,499.5L816.8,496.7M799.7,547.5L800.6,531.1L801.2,514.7L803.6,498.4M799.7,547.5L799.9,547.7L800.1,548.0M803.6,498.4L810.1,497.1L816.8,496.7M842.9,525.4L842.5,525.2L842.0,525.1M800.2,563.7L800.4,555.8L800.1,548.0M863.2,471.9L852.6,483.2L840.9,493.5L829.9,504.5M834.6,441.5L826.6,459.2L825.9,479.3L816.8,496.7M770.1,529.0L784.7,538.5L799.7,547.5M784.3,489.7L794.7,492.3L803.6,498.4M779.0,472.1L785.4,462.3L792.1,452.8M894.4,640.0L907.0,652.9L919.2,666.3M885.5,670.2L898.9,674.0L912.5,677.0M912.5,677.0L916.9,672.3L919.2,666.3M935.9,633.0L937.3,644.5L940.6,655.6M919.2,666.3L930.0,661.3L940.6,655.6M983.5,656.3L968.7,662.6L952.6,663.8M952.6,663.8L946.5,659.8L940.6,655.6M745.3,417.1L746.4,425.5L750.3,432.9M745.3,417.1L756.2,418.4L767.1,417.2M750.3,432.9L759.4,429.8L769.0,429.9M767.1,417.2L768.1,423.4L770.1,429.4M770.1,429.4L769.6,429.8L769.0,429.9M726.0,402.5L735.0,410.7L745.3,417.1M738.5,446.8L745.4,440.7L750.3,432.9M776.2,376.7L772.7,390.1L769.0,403.4L767.1,417.2M756.1,451.7L762.4,440.7L769.0,429.9M780.0,434.8L775.6,431.2L770.1,429.4M915.1,708.1L915.4,707.1L916.1,706.2M915.1,708.1L936.6,724.8L959.9,738.7L984.3,750.7M916.1,706.2L932.5,696.0L951.1,691.1M951.1,691.1L962.7,704.8L977.0,715.4L991.0,726.3M991.0,726.3L988.9,737.1L989.5,748.2M984.3,750.7L986.8,749.2L989.5,748.2M912.1,710.5L913.7,709.4L915.1,708.1M912.5,677.0L916.6,691.3L916.1,706.2M960.0,770.8L970.4,758.7L984.3,750.7M952.6,663.8L952.2,677.5L951.1,691.1M1015.8,680.5L1008.6,696.3L1000.8,711.9L991.0,726.3M1013.0,760.9L1002.2,752.7L989.5,748.2" fill="none" stroke="#3c3c3c" stroke-opacity="0.2" stroke-width="0.9"/>
</g>
<path d="M467.3,221.9 L469.7,219.5 L472.7,218.3 L475.3,217.5 L477.2,217.0 L478.4,213.9 L478.7,211.5 L479.6,209.5 L481.5,207.2 L483.4,204.6 L485.0,202.6 L486.3,200.9 L487.5,199.3 L489.5,198.4 L491.9,198.8 L495.0,197.7 L495.5,201.1 L494.0,202.9 L493.3,205.8 L494.0,207.4 L494.3,209.6 L493.8,211.5 L494.0,213.3 L496.4,215.9 L497.5,218.2 L497.9,216.5 L499.5,214.4 L499.9,212.1 L500.7,210.8 L502.6,209.6 L503.9,207.6 L503.9,205.7 L504.9,203.4 L506.1,200.2 L507.5,199.2 L509.4,197.2 L511.2,197.7 L513.1,198.4 L512.5,199.7 L511.0,201.4 L510.3,204.6 L510.6,207.1 L509.8,208.9 L508.3,210.5 L507.4,212.5 L506.9,214.5 L506.9,216.6 L506.8,218.8 L505.6,220.4 L504.9,221.9 L506.3,224.3 L508.0,225.5 L509.4,226.4 L511.4,223.8 L513.1,220.7 L512.8,217.3 L513.5,215.2 L514.3,213.3 L516.8,211.4 L518.0,209.5 L518.3,213.0 L519.3,215.7 L521.0,217.9 L523.0,219.5 L523.9,218.2 L524.2,215.9 L525.3,214.3 L526.7,213.3 L527.4,211.1 L529.2,208.3 L530.8,209.2 L532.7,209.6 L535.4,209.5 L533.4,211.7 L532.0,214.5 L530.9,217.2 L530.4,219.5 L531.4,221.4 L532.3,223.6 L532.9,226.9 L532.6,229.6 L532.2,231.4 L532.2,234.3 L532.0,236.5 L533.1,239.3 L532.8,241.3 L532.9,243.0 L535.6,243.1 L539.1,243.0 L540.8,240.9 L542.8,239.3 L542.3,236.6 L542.2,234.8 L541.6,231.8 L542.1,229.9 L541.7,228.1 L541.1,225.3 L540.3,223.2 L540.9,220.9 L542.0,219.6 L543.2,216.8 L542.8,213.3 L544.5,210.9 L544.3,209.0 L545.3,207.1 L545.6,208.9 L546.5,210.5 L546.4,213.3 L547.0,215.7 L546.2,217.6 L545.4,219.2 L545.3,221.8 L546.0,224.4 L548.0,226.4 L549.0,229.4 L552.3,228.2 L555.2,226.9 L557.6,229.1 L559.1,230.1 L561.4,231.8 L559.8,234.8 L559.3,237.5 L558.9,239.3 L558.4,241.8 L558.9,243.6 L557.5,246.1 L556.9,247.9 L559.2,247.9 L560.5,248.5 L562.6,250.4 L562.7,247.6 L563.5,246.0 L563.8,243.6 L563.9,241.8 L564.9,239.7 L565.6,238.3 L567.1,236.3 L567.6,234.3 L569.5,233.9 L572.1,234.2 L575.0,233.1 L575.8,236.0 L576.3,239.3 L573.8,240.5 L571.3,242.3 L569.5,243.7 L568.8,245.5 L567.7,247.3 L565.8,249.0 L563.9,251.7 L563.3,253.5 L563.9,256.2 L562.6,259.1 L565.2,260.4 L567.1,261.8 L568.8,262.8 L569.0,259.3 L570.2,257.9 L571.3,255.4 L573.1,252.9 L573.5,251.0 L575.0,249.2 L576.4,247.4 L578.3,245.2 L579.7,243.6 L581.2,241.8 L583.0,239.5 L583.8,238.0 L583.7,235.6 L586.6,235.9 L588.6,236.8 L589.6,239.8 L589.9,242.2 L591.1,244.2 L591.1,247.5 L590.1,249.6 L589.8,251.2 L588.6,252.9 L586.9,255.1 L585.4,256.6 L582.4,257.9 L584.9,260.3 L587.6,261.5 L589.9,261.6 L589.5,264.2 L590.0,266.0 L588.6,269.0 L587.6,271.2 L586.4,272.7 L586.4,274.3 L586.2,276.4 L585.7,278.0 L585.0,280.2 L585.2,283.5 L584.9,286.3 L586.3,288.7 L586.2,290.7 L586.6,292.3 L586.7,295.0 L588.6,297.5 L590.1,297.6 L592.3,296.6 L594.8,295.8 L595.1,292.7 L594.2,290.7 L592.6,289.7 L591.6,287.6 L592.3,285.7 L592.8,284.1 L593.2,281.7 L592.4,278.9 L595.1,277.6 L598.5,276.4 L601.1,273.9 L601.4,271.1 L602.3,269.0 L604.0,266.4 L603.9,263.6 L604.7,261.6 L607.1,261.3 L609.7,260.3 L610.9,257.3 L612.4,256.0 L613.4,254.1 L614.3,252.0 L615.9,250.3 L616.4,248.5 L617.1,246.7 L618.9,244.5 L622.1,243.0 L622.1,245.9 L623.2,248.3 L623.3,250.4 L622.2,253.3 L621.2,255.8 L620.8,257.9 L623.2,258.1 L625.4,258.3 L628.3,259.1 L631.0,261.2 L634.5,261.6 L636.3,262.7 L638.2,265.3 L639.2,264.0 L640.7,262.2 L642.5,260.8 L643.1,259.1 L645.1,257.3 L646.2,255.6 L648.4,254.4 L649.3,252.9 L651.1,251.9 L653.4,251.3 L655.5,249.2 L657.3,251.4 L659.2,252.9 L658.9,256.2 L656.8,259.1 L654.9,260.2 L653.4,262.1 L650.6,264.0 L649.9,265.7 L649.0,267.3 L648.1,270.2 L649.4,271.6 L651.2,272.2 L653.0,275.2 L655.0,277.7 L658.0,278.9 L659.4,277.4 L659.9,275.6 L661.7,272.7 L660.5,269.9 L660.5,266.5 L663.4,265.4 L665.4,265.3 L667.6,266.5 L669.1,269.0 L670.5,269.6 L672.9,270.2 L674.9,270.4 L677.8,271.0 L679.8,271.3 L681.6,271.9 L684.0,272.7 L684.9,274.8 L686.0,275.8 L687.2,277.7 L686.2,280.7 L684.9,282.5 L684.0,283.9 L680.9,284.0 L677.8,283.9 L675.2,285.9 L672.9,286.3 L672.0,288.6 L670.4,291.3 L672.5,292.7 L673.8,293.2 L675.3,295.0 L672.9,297.4 L671.7,300.0 L671.6,302.4 L674.6,301.7 L677.8,301.2 L679.5,299.7 L680.7,298.5 L684.0,297.5 L686.1,296.0 L687.7,295.0 L688.4,296.9 L690.5,298.7 L692.7,301.2 L693.9,302.7 L696.4,303.7 L698.2,305.1 L700.1,307.4 L699.1,310.6 L698.4,312.3 L698.9,314.8 L701.6,317.1 L703.8,318.5 L705.3,321.4 L706.3,324.7 L707.5,326.4 L708.3,328.8 L708.8,332.2 L708.9,335.2 L707.8,336.8 L707.1,338.4 L704.7,339.0 L702.8,338.5 L700.1,339.6 L702.8,340.7 L705.1,343.3 L707.0,344.2 L708.8,344.6 L705.9,346.5 L704.9,348.8 L702.6,350.8 L700.2,352.2 L698.5,353.2 L697.0,354.6 L695.2,355.7 L693.5,358.8 L691.4,359.9 L690.2,360.7 L688.1,362.5 L687.3,364.6 L684.9,366.8 L684.0,369.3 L682.3,370.9 L680.4,371.3 L679.0,373.0 L677.8,374.3 L681.1,375.5 L682.1,376.7 L684.0,378.0 L684.0,379.7 L683.4,381.6 L684.1,384.7 L684.0,386.7 L685.5,384.5 L687.4,383.6 L688.9,381.2 L690.2,378.0 L691.8,375.6 L692.2,372.7 L694.3,370.3 L695.6,369.4 L697.6,368.1 L697.7,366.2 L699.4,363.7 L700.7,361.9 L702.6,360.7 L704.4,358.5 L707.5,356.9 L710.1,358.1 L712.0,358.3 L715.0,358.2 L717.7,357.3 L718.6,358.6 L720.4,360.5 L721.9,363.5 L723.9,364.8 L724.1,367.1 L725.2,369.4 L725.9,371.4 L726.8,374.7 L726.0,377.4 L726.4,380.1 L727.6,383.4 L726.2,384.8 L725.2,387.2 L724.4,389.2 L723.9,392.0 L721.8,394.5 L718.9,395.7 L716.2,396.6 L714.0,397.3 L712.7,398.2 L711.3,401.4 L709.9,402.5 L709.0,404.4 L708.7,407.2 L707.9,408.9 L706.5,410.6 L703.3,410.5 L700.9,411.1 L699.1,411.8 L696.8,414.2 L695.6,415.5 L694.1,416.8 L694.9,419.8 L694.8,422.5 L694.2,424.5 L692.9,426.7 L692.5,429.1 L693.2,431.5 L691.4,434.3 L690.4,436.6 L689.4,439.0 L689.8,441.9 L688.8,444.7 L687.9,446.5 L686.9,449.5 L686.5,452.0 L687.0,453.9 L686.7,456.4 L685.9,458.9 L684.9,461.1 L684.0,463.9 L683.0,466.3 L683.8,468.1 L683.4,470.3 L682.8,472.8 L681.8,475.0 L683.9,477.3 L684.5,479.2 L685.5,481.2 L686.8,483.8 L689.1,484.8 L690.4,486.2 L689.6,489.0 L688.4,491.3 L686.7,492.4 L684.8,494.6 L682.9,496.0 L680.7,497.9 L679.3,501.0 L677.6,502.8 L675.9,504.2 L673.2,506.1 L671.8,508.5 L670.0,509.6 L668.3,510.2 L666.8,511.6 L664.9,513.4 L664.3,515.4 L663.8,517.8 L663.9,520.8 L664.4,522.6 L665.6,524.2 L668.1,525.8 L670.5,525.2 L671.8,523.8 L671.5,521.4 L670.9,517.9 L672.7,515.8 L674.4,514.3 L675.8,511.4 L678.0,509.6 L680.0,508.4 L681.3,505.1 L683.7,503.5 L686.0,501.6 L688.2,499.7 L689.8,497.3 L690.7,495.6 L692.2,492.7 L693.6,490.8 L696.0,488.5 L698.1,488.1 L699.9,486.0 L701.7,485.3 L704.8,483.6 L706.5,481.7 L708.1,479.6 L709.9,478.3 L711.3,475.9 L714.0,473.8 L714.1,471.0 L715.3,469.2 L716.9,466.9 L718.4,465.5 L718.9,463.9 L720.0,460.7 L719.2,458.9 L719.0,456.2 L720.6,454.0 L721.4,451.5 L722.3,449.4 L722.2,446.0 L722.8,444.4 L722.7,442.3 L723.9,439.1 L723.7,436.9 L723.8,435.0 L724.4,432.9 L725.0,431.3 L725.9,428.9 L726.3,426.7 L726.5,424.2 L726.2,421.1 L725.8,419.4 L726.1,417.3 L727.6,414.3 L728.8,412.2 L730.2,411.3 L731.3,409.4 L734.1,407.5 L735.0,405.6 L738.4,405.3 L740.5,405.3 L742.0,403.8 L743.7,403.2 L745.3,401.3 L747.8,400.2 L751.1,399.4 L753.6,399.5 L755.4,397.3 L756.9,396.4 L758.7,395.6 L760.8,395.3 L763.5,395.0 L765.3,394.8 L766.9,393.5 L769.3,392.2 L771.8,392.2 L773.4,392.5 L774.8,394.2 L776.4,395.7 L775.6,397.2 L774.1,398.6 L773.4,401.9 L773.2,404.6 L772.5,406.4 L770.9,407.7 L770.5,409.8 L770.9,411.8 L769.1,413.1 L767.4,414.3 L766.0,416.8 L764.5,418.0 L762.9,419.8 L761.7,421.8 L761.0,424.2 L760.0,427.2 L757.7,429.6 L756.2,432.0 L754.8,434.1 L753.2,434.9 L751.9,436.4 L750.1,437.0 L748.6,437.9 L746.9,438.9 L744.5,439.1 L742.9,439.6 L741.2,441.6 L740.2,442.8 L738.1,443.6 L735.0,445.3 L733.0,446.0 L730.6,447.8 L732.5,448.8 L735.0,450.2 L736.9,450.0 L738.7,450.1 L741.2,449.0 L744.4,448.5 L746.9,447.3 L748.6,446.5 L749.2,448.8 L750.8,450.8 L751.1,454.0 L753.3,452.5 L754.8,451.5 L756.6,450.1 L758.5,449.0 L760.9,447.6 L761.9,445.9 L763.5,442.8 L765.8,445.1 L766.9,446.8 L769.7,449.0 L770.7,447.1 L770.7,445.1 L770.9,441.6 L771.8,439.5 L771.6,437.3 L772.5,436.0 L773.4,434.1 L775.4,432.7 L777.4,429.9 L779.5,428.4 L780.8,426.7 L783.3,424.5 L785.4,423.3 L787.0,420.5 L787.1,418.9 L788.3,416.8 L789.9,416.0 L792.1,415.2 L793.9,414.3 L795.7,413.1 L799.0,412.1 L801.1,410.9 L803.1,409.4 L804.8,407.2 L806.9,405.8 L807.4,403.6 L808.1,401.9 L807.0,398.5 L805.6,395.7 L807.6,392.8 L810.6,390.8 L812.6,389.5 L815.5,388.3 L816.6,390.8 L818.0,393.3 L819.0,391.9 L819.9,389.9 L820.6,387.6 L820.5,384.6 L820.0,382.7 L819.7,380.4 L819.2,377.2 L821.9,375.9 L823.7,375.0 L825.4,373.6 L827.9,372.2 L830.1,371.6 L832.4,372.0 L834.2,371.0 L836.6,371.0 L836.5,374.5 L837.8,377.2 L835.1,379.1 L832.9,380.9 L834.2,383.8 L833.8,385.8 L834.1,388.3 L832.3,390.3 L830.9,391.8 L829.1,393.3 L827.3,395.8 L824.9,396.9 L823.0,398.2 L820.5,399.7 L818.0,401.9 L815.2,403.3 L814.3,405.7 L813.0,406.9 L811.1,409.5 L810.6,411.8 L813.5,411.0 L815.3,410.7 L816.4,409.5 L818.0,408.1 L819.6,407.0 L821.4,406.3 L823.0,404.4 L825.3,404.7 L827.6,406.0 L829.2,408.1 L830.4,409.4 L832.5,410.3 L833.9,411.1 L835.3,413.1 L837.5,411.0 L838.5,409.3 L839.1,406.9 L840.9,404.7 L842.8,403.2 L844.0,401.9 L845.2,400.7 L846.5,399.1 L847.7,397.0 L848.8,394.9 L851.4,393.3 L852.1,396.4 L853.8,399.1 L855.8,400.7 L857.6,401.9 L858.7,404.2 L858.9,406.0 L860.0,407.8 L859.7,410.2 L860.1,411.8 L860.9,408.3 L861.0,405.7 L859.9,403.8 L859.6,401.9 L858.1,399.4 L857.9,396.6 L856.8,394.8 L855.2,393.3 L854.8,391.0 L855.1,389.2 L855.8,387.3 L856.4,385.8 L858.6,385.3 L860.3,384.9 L862.7,383.1 L865.2,383.1 L867.5,383.4 L869.6,383.6 L872.1,383.7 L874.9,384.1 L877.5,383.0 L879.9,383.4 L881.6,383.7 L884.1,384.3 L887.2,385.1 L889.8,384.6 L891.9,385.5 L894.4,386.9 L896.7,387.2 L900.0,388.3 L899.9,390.3 L900.0,392.4 L901.8,392.7 L903.4,393.8 L906.3,394.7 L908.7,395.1 L910.5,395.4 L913.1,396.7 L914.9,398.6 L917.0,399.9 L918.7,401.3 L920.9,402.2 L923.0,402.5 L925.9,403.2 L927.5,403.6 L929.7,404.8 L931.8,405.7 L933.0,407.0 L935.3,408.3 L937.2,410.0 L939.8,410.5 L941.0,411.6 L942.9,411.2 L944.6,411.0 L947.0,410.7 L949.5,411.4 L951.4,413.5 L954.5,414.7 L956.3,414.1 L958.2,412.7 L959.5,413.6 L961.2,415.4 L962.8,416.2 L964.4,417.2 L966.7,418.2 L969.1,420.6 L971.5,422.4 L974.3,424.6 L976.7,425.4 L979.8,426.7 L981.4,429.1 L984.2,430.8 L986.9,432.3 L988.1,434.0 L990.1,434.4 L991.7,434.5 L995.0,433.8 L997.9,434.0 L998.0,435.6 L999.1,437.5 L1001.4,437.8 L1002.9,437.5 L1005.9,437.2 L1009.0,438.2 L1011.7,439.6 L1013.9,440.1 L1016.4,440.7 L1018.8,440.9 L1020.9,442.1 L1023.9,441.9 L1025.8,441.3 L1028.2,439.8 L1031.3,439.5 L1031.2,437.4 L1031.9,435.9 L1032.5,433.3 L1035.6,434.0 L1038.7,434.0 L1041.8,433.7 L1043.9,435.0 L1046.2,435.7 L1048.0,435.4 L1049.8,435.3 L1052.1,435.1 L1053.6,435.0 L1055.2,434.2 L1057.3,434.1 L1059.5,433.9 L1061.0,434.5 L1062.6,436.4 L1063.5,439.5 L1066.4,439.2 L1068.9,438.3 L1071.1,438.7 L1073.4,439.0 L1076.0,438.6 L1078.2,437.6 L1080.0,437.9 L1082.2,438.4 L1083.7,438.8 L1085.8,439.0 L1088.9,439.7 L1091.9,440.3 L1093.4,440.5 L1095.7,439.5M710.0,439.8 L708.3,440.4 L706.4,441.6 L704.4,443.2 L702.6,445.8 L701.0,448.1 L699.0,450.4 L697.9,452.2 L696.1,454.0 L695.6,455.5 L694.7,457.4 L693.8,459.5 L693.2,461.6 L692.6,463.0 L692.2,465.4 L692.1,467.6 L691.1,469.6 L691.4,471.6 L690.7,473.8 L691.2,475.4 L691.1,477.5 L692.7,480.2 L694.5,481.9 L696.1,483.2 L698.4,481.4 L700.3,481.1 L702.6,480.2 L703.6,478.7 L704.9,476.9 L705.7,475.5 L707.3,473.9 L709.0,472.0 L709.1,469.9 L708.9,468.0 L709.8,464.8 L711.2,462.1 L711.4,459.5 L711.9,456.0 L711.6,454.1 L711.7,452.3 L711.7,449.0 L711.5,446.5 L712.1,444.9 L710.8,441.9ZM638.2,228.1 L640.0,228.0 L642.2,228.6 L644.3,229.2 L646.5,229.5 L648.8,229.4 L650.2,230.0 L653.0,230.6 L653.5,233.7 L654.3,236.8 L652.2,238.4 L649.7,239.0 L648.1,240.7 L645.6,241.8 L643.2,243.0 L639.6,243.4 L637.9,244.7 L635.7,246.7 L633.8,244.0 L632.0,241.8 L632.8,238.4 L634.3,236.8 L635.7,234.3 L636.6,231.9 L637.2,230.1ZM549.0,218.2 L551.2,218.7 L552.6,219.1 L554.3,219.1 L556.4,219.5 L554.3,222.1 L552.7,224.9 L550.8,223.6 L549.0,223.2 L549.1,220.5ZM665.4,256.6 L668.5,257.5 L671.6,257.9 L670.9,261.2 L671.6,264.0 L668.9,263.9 L666.7,264.0 L665.5,261.1 L665.7,259.1ZM836.6,388.3 L838.7,387.7 L841.6,387.9 L843.2,387.1 L845.3,385.8 L846.1,387.7 L846.5,389.2 L847.7,392.0 L845.7,394.6 L843.7,395.4 L841.5,397.0 L840.5,395.5 L839.5,393.7 L838.5,392.5 L837.6,390.5Z" fill="none" stroke="#161616" stroke-width="0.95" stroke-linejoin="round"/>
<path d="M1095.7,439.5 L1095.7,439.5 L1094.6,441.2 L1093.8,442.8 L1092.0,445.6 L1091.4,448.2 L1090.2,449.7 L1090.4,451.6 L1090.8,454.3 L1090.1,456.5 L1089.4,459.3 L1090.1,461.9 L1090.8,464.2 L1092.1,466.1 L1093.8,466.6 L1096.4,468.4 L1098.2,470.4 L1096.9,473.2 L1096.4,475.8 L1096.9,477.9 L1095.0,478.7 L1093.6,480.4 L1092.1,483.3 L1090.8,485.3 L1087.7,486.7 L1086.2,488.3 L1085.1,491.0 L1084.6,492.7 L1082.2,494.4 L1081.6,496.3 L1079.6,498.9 L1079.1,501.5 L1077.8,503.1 L1077.1,506.3 L1074.8,507.1 L1072.0,508.3 L1070.9,510.1 L1068.5,511.3 L1067.4,513.4 L1064.8,515.4 L1062.8,517.1 L1061.0,518.7 L1059.2,520.2 L1057.5,522.1 L1054.8,523.7 L1052.8,524.6 L1051.4,525.2 L1050.7,527.5 L1048.6,529.9 L1046.6,532.4 L1045.4,535.7 L1042.6,536.9 L1041.2,538.5 L1039.9,539.6 L1037.6,540.9 L1035.9,541.3 L1033.8,542.3 L1031.5,543.0 L1030.0,543.2 L1027.8,544.5 L1025.5,544.2 L1023.9,543.5 L1021.5,543.5 L1019.7,543.2 L1017.6,544.0 L1016.4,544.7 L1014.5,546.5 L1012.8,547.0 L1011.1,547.2 L1009.0,547.2 L1006.2,547.7 L1002.8,548.5 L1000.1,547.6 L999.3,545.7 L997.9,544.7 L996.0,546.0 L993.8,547.9 L992.7,550.5 L990.8,551.4 L989.8,553.4 L989.0,556.5 L988.5,558.5 L986.6,560.6 L984.9,562.1 L983.2,564.6 L982.1,567.4 L980.1,569.7 L977.5,570.8 L977.2,572.8 L975.8,575.5 L973.7,576.7 L971.3,578.2 L970.9,580.9 L969.8,583.8 L969.9,586.0 L970.0,588.1 L969.5,590.5 L968.2,591.5 L968.5,593.8 L968.8,596.8 L967.2,598.6 L965.9,600.3 L964.8,602.3 L963.8,604.2 L962.5,606.5 L961.8,608.7 L959.5,610.8 L958.9,612.9 L958.6,615.9 L957.1,617.3 L956.3,618.8 L954.4,619.7 L952.7,621.5 L952.2,623.0 L950.9,624.8 L948.9,626.1 L947.7,627.7 L946.1,629.8 L945.3,631.7 L943.7,634.2 L942.8,636.4 L941.7,638.5 L941.8,640.0 L939.9,642.4 L937.5,643.6 L936.6,645.1 L935.0,646.1 L933.4,648.2 L932.2,649.6 L930.4,651.3 L929.5,653.1 L927.7,654.0 L926.8,655.7 L926.1,657.5 L926.7,659.9 L925.9,662.7 L926.6,664.8 L926.4,667.1 L927.9,669.8 L928.5,672.3 L928.8,674.0 L929.1,677.2 L930.9,678.6 L931.6,680.0 L934.6,681.7 L936.6,682.8 L937.8,685.0 L938.6,686.8 L940.2,689.3 L941.7,690.7 L944.0,692.4 L945.0,694.9 L945.1,696.9 L945.2,699.3 L945.3,702.3 L944.2,704.0 L943.2,705.2 L942.6,708.0 L941.5,709.7 L940.4,712.8 L938.9,714.6 L937.2,716.6 L935.3,717.2 L936.1,719.0 L935.9,721.6 L934.2,724.7 L932.9,727.1 L933.4,728.7 L933.8,730.8 L933.0,733.3 L933.8,735.3 L934.1,737.0 L935.5,738.7 L936.8,739.5 L937.0,742.1 L937.8,744.4 L940.3,746.7 L941.3,749.6 L942.1,752.8 L944.0,754.3 L944.9,756.3 L946.1,757.8 L947.5,760.6 L947.7,762.3 L948.1,764.3 L947.7,766.7 L947.7,769.5 L946.7,771.6 L947.1,773.2 L948.0,775.7 L949.2,777.7 L950.2,779.1 L950.1,780.9 L949.9,782.7 L949.6,785.1 L951.6,787.2 L952.2,789.6 L952.7,791.5 L952.9,793.4 L954.0,795.0 L953.3,797.2 L953.9,799.0 L953.1,800.6 L951.9,803.3 L951.4,806.3 L951.4,809.4 L950.8,811.5 L948.4,813.9 L947.7,816.3 L945.6,817.9 L945.5,819.7 L944.3,821.5 L943.6,824.1 L941.5,826.2 L939.8,828.1 L937.3,829.0 L934.7,830.3 L933.2,831.9 L932.9,833.6 L931.2,835.9 L928.2,837.5 L927.9,839.9 L926.7,841.0 L924.9,842.9 L924.5,845.3 L923.0,848.5 L921.5,850.0 L920.7,851.5 L918.3,853.0 L916.8,854.6 L914.6,855.8 L913.3,857.1 L911.8,858.4 L912.2,859.9 L911.3,862.1 L912.4,864.7 L911.0,866.1 L910.6,868.3 L910.6,871.0 L911.4,872.5 L911.1,875.7 L910.6,877.7 L910.6,880.0 L910.0,883.3 L910.2,885.8 L911.2,888.1 L911.1,889.9 L910.9,892.5 L909.7,894.4 L911.1,896.3 L911.8,899.8 L911.5,902.3 L912.6,905.3 L913.5,907.9 L913.5,909.7 L915.0,911.3 L915.9,913.5 L914.9,916.9 L915.5,919.6 L917.5,922.3 L919.7,924.4 L920.2,926.8 L921.7,928.3 L923.3,930.6 L924.9,932.5 L926.9,934.9 L929.1,935.7 L930.7,937.9 L931.9,938.9 L933.6,940.0 L935.7,941.7 L937.8,941.9 L940.6,943.0 L943.0,944.7 L943.7,947.9 L945.3,949.4 L946.1,952.7 L947.7,954.6 L949.1,956.6 L948.4,959.6 L949.0,961.8 L948.0,964.2 L947.4,966.3 L945.9,967.5 L945.2,969.1 L945.5,971.3 L945.3,974.1 L944.5,976.2 L942.4,978.5 L942.8,980.9 L942.8,984.0 L943.0,986.1 L942.1,987.7 L943.0,989.5 L944.0,991.6 L943.0,994.8 L941.5,996.4 L939.8,997.9 L938.5,1000.9 L937.3,1003.9 L937.8,1006.3 L937.0,1008.1 L935.3,1009.0 L933.7,1010.8 L932.7,1012.3 L932.9,1014.1 L931.9,1016.3 L930.4,1018.7 L929.3,1020.3 L928.0,1021.5 L926.0,1021.4 L924.4,1022.5 L922.7,1024.7 L920.5,1026.2 L918.3,1026.7 L914.8,1027.4 L911.2,1027.3 L908.1,1026.2 L906.0,1025.9 L904.2,1024.4 L900.8,1024.7 L898.2,1024.9 L895.4,1024.3 L893.2,1025.5 L891.3,1026.1 L888.3,1026.2 L885.3,1027.7 L882.1,1028.1 L880.6,1029.2 L878.4,1029.9 L876.2,1029.9 L873.7,1030.6 L870.9,1032.4 L869.2,1034.3 L866.6,1035.9 L864.7,1036.3 L862.3,1036.1 L859.3,1034.9 L857.4,1034.1 L854.8,1034.1 L852.9,1031.7 L850.7,1031.0 L848.6,1028.6 L846.8,1028.0 L845.0,1027.8 L843.9,1025.5 L841.2,1023.7 L839.7,1022.0 L839.0,1020.8 L835.6,1019.8 L833.3,1019.8 L831.3,1018.7 L828.7,1018.8 L826.9,1018.2 L823.9,1017.8 L821.4,1015.8 L819.3,1016.7 L817.9,1017.1 L815.5,1016.5 L814.0,1016.8 L811.5,1016.7 L809.7,1018.2 L806.9,1019.6 L804.8,1020.9 L801.6,1021.2 L799.3,1021.0 L797.0,1020.7 L795.5,1022.0 L794.1,1023.1 L791.7,1023.7 L788.3,1024.2 L786.0,1024.9 L783.7,1024.6 L781.8,1023.2 L779.5,1023.9 L776.0,1024.3 L773.9,1025.2 L771.8,1026.2 L769.3,1027.6 L768.1,1029.5 L766.6,1029.1 L764.4,1029.9 L762.7,1032.5 L760.7,1034.8 L758.9,1037.1 L757.4,1038.9 L755.9,1041.2 L753.3,1042.3 L751.0,1043.8 L749.5,1045.6 L749.5,1048.4 L748.3,1050.9 L745.5,1051.6 L743.6,1053.6 L741.3,1055.6 L740.9,1058.4 L740.0,1060.4 L740.8,1063.8 L740.7,1066.8 L738.4,1069.5 L735.0,1070.1 L732.7,1072.2 L730.6,1073.8 L729.7,1075.7 L726.3,1075.7 L724.2,1077.0 L722.4,1076.8 L720.4,1078.0 L719.1,1079.0 L717.3,1081.9 L715.6,1082.9 L713.1,1084.6 L711.0,1084.8 L709.2,1085.9 L707.4,1088.1 L705.2,1089.3 L702.2,1089.0 L700.8,1090.8 L698.6,1091.8 L698.1,1093.9 L697.2,1096.6 L694.7,1098.6 L692.7,1100.0 L692.3,1102.6 L689.9,1104.9 L687.1,1105.7 L686.0,1107.3 L684.4,1108.3 L682.3,1109.1 L681.0,1110.1 L678.7,1112.4 L678.1,1115.0 L676.2,1116.5 L674.4,1116.0 L671.6,1114.8 L669.5,1112.7 L667.9,1111.6 L665.6,1112.8 L664.1,1113.6 L660.6,1113.8 L658.0,1114.9 L655.9,1117.1 L653.7,1119.9 L652.2,1121.0 L650.5,1122.2 L648.1,1124.8 L646.2,1126.4 L643.0,1126.8 L641.0,1128.4 L638.2,1129.7 L634.7,1129.1 L631.8,1129.2 L629.9,1130.6 L628.1,1130.9 L625.0,1131.4 L622.3,1133.0 L620.2,1134.0 L618.0,1133.0 L614.9,1133.0 L611.8,1134.7 L610.1,1136.2 L607.8,1136.9 L606.1,1137.5 L604.3,1138.3 L601.8,1139.7 L600.0,1141.3 L597.1,1142.5 L594.7,1142.9 L591.9,1143.0 L589.0,1142.3 L585.7,1143.1 L583.3,1143.7 L581.9,1145.1 L580.9,1146.8 L578.7,1147.9 L577.0,1148.5 L575.4,1150.7 L573.1,1152.2 L569.9,1153.5 L568.7,1154.9 L567.2,1156.2 L565.1,1159.0 L565.2,1161.3 L564.4,1162.8 L562.5,1164.9 L562.2,1167.7 L562.7,1169.6 L562.9,1171.3 L562.0,1173.1 L562.2,1175.4 L562.2,1177.2 L560.8,1179.4 L559.5,1182.2 L557.3,1184.2 L557.0,1187.4 L555.5,1190.6 L555.1,1193.7 L554.1,1196.0 L553.2,1198.4 L552.3,1200.8 L550.1,1203.6 L549.7,1207.0 L549.7,1209.3 L549.6,1211.4 L550.3,1212.9 L551.2,1215.1 L550.7,1217.3 L550.3,1220.1 L549.9,1222.0 L548.4,1223.6 L547.9,1225.6 L547.5,1227.7 L547.5,1229.3 L544.8,1231.6 L544.0,1233.8 L542.0,1234.8 L540.8,1236.6 L539.2,1238.4 L538.9,1240.2 L537.8,1243.3 L536.1,1245.2 L535.8,1247.0 L533.7,1248.7 L532.8,1252.1 L531.7,1255.2 L531.1,1257.2 L530.2,1259.2 L528.4,1260.6 L527.5,1263.5 L527.3,1266.3 L525.1,1268.8 L525.5,1270.9 L525.4,1272.5 L525.4,1275.0 L525.3,1276.9 L524.2,1280.0 L523.4,1281.7 L523.1,1283.6 L521.7,1286.2 L521.1,1289.0 L520.5,1290.9 L519.3,1293.2 L518.2,1294.5 L517.8,1296.6 L516.0,1298.2 L514.9,1300.5 L514.0,1302.0 L512.7,1303.7 L512.1,1306.6 L511.0,1308.1 L508.0,1309.8 L504.5,1310.5 L503.3,1312.3 L501.1,1314.7 L498.9,1317.0 L497.9,1319.1 L497.5,1321.3 L496.2,1324.6 L495.5,1327.7 L493.4,1329.6 L493.7,1331.4 L493.0,1333.6 L492.8,1336.1 L491.2,1337.8 L492.2,1339.9 L493.7,1342.9 L494.5,1344.5 L494.2,1346.9 L494.7,1349.4 L494.5,1351.1 L496.1,1353.2 L497.8,1354.1 L498.7,1356.2 L498.6,1357.7 L499.8,1360.4 L499.9,1362.0 L499.5,1364.3 L500.3,1366.9 L500.7,1370.4 L501.6,1372.7 L502.5,1374.4 L502.8,1377.5 L502.3,1380.0 L503.2,1381.6 L503.0,1383.9 L501.9,1387.1 L502.4,1389.2 L502.8,1390.7 L503.4,1393.5 L504.8,1394.9 L504.4,1398.0 L506.1,1400.6 L509.0,1402.3 L512.4,1403.2 L514.7,1404.4 L516.0,1405.6 L517.5,1407.6 L518.6,1409.2 L519.9,1412.2 L518.1,1414.9 L518.0,1417.0 L517.6,1420.4 L516.5,1423.0 L515.0,1424.1 L514.1,1426.4 L513.8,1428.7 L512.7,1430.5 L513.3,1433.6 L513.8,1435.5 L514.1,1437.5 L514.7,1440.3 L514.3,1443.5 L514.6,1446.0 L514.5,1449.0 L515.5,1452.4 L516.1,1454.3 L515.0,1456.9 L514.0,1459.5 L513.0,1461.8 L513.3,1463.4 L512.4,1465.7 L511.8,1467.9 L510.9,1469.2 L511.7,1471.0 L511.1,1473.5 L511.5,1476.1 L511.7,1477.8 L511.0,1479.9 L510.4,1482.0 L510.8,1483.6 L510.0,1485.1 L509.7,1487.4 L509.6,1490.6 L509.8,1492.6 L510.2,1494.2 L509.4,1496.4 L509.4,1499.2 L509.9,1502.0 L509.0,1503.3 L508.4,1505.4 L507.1,1508.0 L506.1,1509.6 L505.1,1512.9 L503.7,1514.9 L501.5,1516.3 L500.6,1518.8 L499.5,1521.2 L499.1,1524.4 L498.2,1526.9 L497.3,1529.3 L496.2,1531.1 L494.7,1530.5 L492.1,1529.9 L489.0,1531.2 L486.2,1531.1 L485.2,1529.2 L485.0,1527.2 L485.4,1524.3 L484.6,1521.2 L482.5,1520.5 L480.9,1521.1 L478.4,1521.5 L476.3,1523.5 L473.8,1523.1 L470.6,1522.0 L468.8,1521.5 L466.4,1521.2 L464.7,1521.9 L462.8,1521.8 L460.3,1522.5 L457.2,1522.5 L454.4,1521.7 L453.2,1520.2 L451.3,1518.6 L448.2,1518.2 L446.2,1516.9 L444.4,1516.7 L442.6,1516.2 L440.0,1516.2 L437.9,1515.4 L436.4,1512.9 L434.4,1511.2 L433.3,1510.2 L431.9,1508.4 L430.7,1506.3 L429.8,1505.0 L429.1,1502.7 L428.5,1499.9 L427.0,1497.6 L424.8,1496.4 L424.5,1494.9 L424.1,1492.5 L422.1,1489.9 L421.6,1488.1 L422.4,1485.7 L421.0,1483.1 L419.9,1479.9 L420.6,1477.8 L420.5,1476.1 L420.2,1474.1 L419.2,1472.6 L418.3,1470.7 L416.2,1469.5 L414.3,1467.2 L413.2,1465.0 L410.3,1464.0 L407.6,1462.9 L404.9,1461.1 L404.3,1458.3 L403.3,1456.8 L401.7,1456.0 L400.6,1453.9 L399.1,1451.5 L398.8,1448.6 L398.4,1446.8 L399.5,1444.8 L400.5,1442.8 L402.3,1440.6 L403.4,1439.0 L404.3,1437.4 L404.6,1435.4 L406.6,1433.6 L406.7,1431.7 L406.2,1429.1 L404.1,1426.6 L403.0,1425.5 L401.7,1423.7 L399.3,1421.5 L397.3,1418.8 L397.9,1417.1 L397.1,1414.8 L395.1,1412.2 L392.8,1411.5 L391.3,1409.7 L388.4,1408.3 L386.1,1406.9 L383.5,1407.2 L380.9,1405.7 L378.4,1404.1 L377.3,1402.3 L375.9,1399.0 L374.7,1396.9 L373.6,1394.0 L372.1,1392.5 L371.8,1390.8 L372.2,1388.0 L371.1,1386.5 L369.7,1385.3 L367.8,1382.9 L367.0,1380.8 L365.4,1379.2 L364.6,1377.0 L362.8,1375.9 L361.3,1373.2 L359.5,1371.1 L358.4,1369.2 L357.1,1367.6 L355.1,1366.5 L353.0,1366.7 L350.0,1366.7 L348.1,1364.2 L347.0,1362.5 L343.9,1361.0 L340.9,1359.6 L339.2,1357.7 L338.7,1355.7 L337.5,1353.2 L335.6,1351.1 L338.2,1349.5 L340.5,1348.3 L342.2,1347.0 L343.2,1344.9 L344.7,1344.0 L345.7,1342.3 L345.5,1339.5 L346.0,1336.3 L345.1,1333.6 L347.0,1331.2 L348.4,1329.5 L348.8,1327.9 L351.2,1326.4 L352.6,1323.5 L354.5,1322.4 L357.1,1321.3 L355.7,1318.5 L356.2,1316.0 L355.5,1313.9 L354.6,1312.2 L354.7,1309.8 L355.4,1308.1 L355.4,1305.5 L356.2,1303.9 L357.2,1301.9 L357.1,1299.9 L357.4,1297.8 L359.0,1295.4 L361.3,1292.8 L361.3,1290.0 L362.0,1286.6 L362.5,1283.5 L364.6,1281.2 L367.0,1279.9 L368.3,1278.7 L368.7,1276.7 L370.9,1274.4 L372.3,1271.7 L372.6,1269.4 L372.3,1267.9 L372.3,1265.6 L373.6,1263.5 L375.9,1262.2 L377.8,1262.0 L380.3,1261.2 L383.5,1260.2 L385.9,1260.0 L387.4,1259.8 L389.1,1259.1 L391.1,1257.7 L393.0,1256.7 L394.3,1255.7 L396.7,1253.6 L399.9,1254.0 L401.8,1252.7 L403.6,1251.2 L405.8,1250.9 L406.7,1249.8 L408.3,1248.2 L410.6,1247.2 L413.2,1247.0 L414.7,1244.9 L414.7,1242.7 L416.0,1240.8 L416.8,1239.5 L417.4,1236.1 L416.5,1233.8 L417.0,1232.1 L418.3,1230.7 L420.3,1228.8 L419.8,1225.9 L420.1,1223.9 L420.4,1222.1 L421.5,1220.6 L422.3,1217.4 L421.3,1216.1 L420.7,1213.9 L419.8,1212.4 L419.9,1210.2 L419.9,1207.4 L419.0,1204.5 L416.7,1203.0 L414.2,1201.0 L414.1,1198.8 L413.2,1197.5 L410.9,1195.0 L408.1,1194.3 L406.7,1193.9 L404.8,1192.7 L403.3,1190.2 L400.2,1190.6 L397.5,1189.7 L395.4,1189.6 L393.2,1190.6 L391.3,1190.6 L388.9,1192.1 L386.8,1192.5 L384.5,1193.6 L383.3,1194.7 L380.4,1194.1 L378.1,1195.1 L376.5,1194.6 L374.0,1195.1 L372.0,1196.4 L370.3,1197.5 L368.3,1198.0 L365.7,1199.3 L363.7,1199.6 L361.7,1200.1 L359.9,1201.3 L357.3,1203.2 L354.9,1202.9 L352.1,1204.1 L350.4,1205.9 L348.3,1207.9 L346.9,1210.7 L345.5,1212.3 L342.5,1212.3 L341.1,1211.5 L338.9,1210.7 L337.5,1208.8 L335.5,1206.0 L333.4,1205.6 L330.7,1204.1 L329.3,1202.8 L327.9,1201.6 L325.7,1200.2 L325.1,1197.4 L324.1,1194.2 L323.6,1191.8 L321.4,1189.9 L320.3,1187.7 L318.9,1186.5 L317.5,1184.2 L315.7,1183.3 L314.6,1181.6 L311.9,1180.3 L310.4,1177.8 L309.3,1175.4 L307.5,1174.3 L306.1,1171.4 L304.5,1169.6 L304.2,1167.7 L301.8,1166.1 L300.9,1164.4 L299.2,1161.8 L298.8,1158.3 L297.8,1156.7 L295.3,1155.7 L292.7,1154.5 L292.2,1152.4 L290.9,1151.1 L291.0,1147.9 L289.9,1145.9 L287.8,1144.8 L285.6,1143.3 L284.4,1141.3 L283.6,1139.6 L281.6,1137.9 L279.3,1136.3 L276.2,1136.4 L274.8,1134.5 L274.5,1132.3 L275.2,1128.8 L272.3,1128.0 L269.6,1126.4 L267.6,1124.8 L265.1,1123.7 L262.7,1122.8 L260.6,1123.1 L261.1,1121.0 L261.3,1118.2 L264.1,1118.4 L266.5,1118.3 L269.7,1116.8 L271.2,1114.9 L272.9,1113.6 L274.5,1111.1 L275.9,1109.1 L277.2,1106.6 L274.3,1104.5 L272.5,1102.8 L271.2,1101.0 L268.7,1102.0 L266.7,1101.4 L263.7,1100.2 L261.3,1100.0 L259.4,1101.5 L257.6,1101.7 L255.2,1100.7 L253.7,1101.0 L251.4,1101.7 L249.4,1099.4 L247.1,1098.5 L245.1,1096.5 L243.1,1095.1 L241.5,1094.1 L239.1,1093.3 L237.9,1090.5 L236.5,1088.5 L235.7,1086.4 L236.3,1084.7 L236.5,1081.8 L238.3,1080.7 L240.1,1078.9 L242.2,1078.5 L244.8,1078.5 L247.6,1077.4 L249.6,1076.4 L251.1,1074.1 L253.4,1073.4 L254.7,1071.9 L257.6,1070.3 L259.0,1068.4 L261.2,1065.9 L262.2,1063.5 L264.6,1062.0 L264.4,1059.6 L265.2,1058.1 L265.9,1056.2 L267.7,1054.1 L269.6,1052.1 L268.5,1049.7 L267.1,1047.9 L266.8,1046.1 L267.5,1043.5 L267.3,1041.9 L266.5,1039.7 L267.2,1037.8 L267.9,1035.6 L269.1,1032.7 L268.5,1030.5 L270.0,1027.6 L270.7,1025.8 L272.1,1023.4 L271.1,1021.7 L271.2,1019.1 L272.5,1017.7 L273.4,1014.9 L273.7,1011.8 L272.7,1008.9 L273.8,1006.0 L275.3,1004.4 L276.2,1002.6 L276.7,999.8 L278.1,999.1 L279.2,997.1 L278.8,994.7 L279.5,992.5 L280.8,989.5 L281.9,988.2 L282.8,986.1 L282.7,984.0 L282.2,981.8 L283.4,979.0 L284.5,976.7 L285.2,975.1 L285.0,972.4 L286.1,969.5 L286.4,966.1 L285.7,964.1 L286.3,961.9 L287.1,959.7 L288.5,958.2 L288.8,955.4 L289.4,953.0 L288.3,949.8 L287.9,947.2 L287.4,944.9 L287.2,942.1 L286.1,940.3 L286.8,938.7 L287.7,936.5 L286.5,933.9 L285.5,932.5 L284.4,930.3 L284.6,927.9 L283.6,925.0 L283.4,923.1 L283.8,920.0 L282.8,918.1 L282.8,915.6 L283.9,913.0 L283.8,910.8 L283.1,908.1 L283.8,906.0 L284.2,903.0 L282.8,899.9 L282.1,897.5 L281.9,895.6 L282.5,893.6 L282.2,891.2 L281.5,888.2 L282.0,886.3 L281.1,884.9 L279.5,883.3 L279.8,880.0 L278.8,878.1 L279.5,874.8 L278.0,872.8 L276.2,870.1 L275.7,867.0 L276.3,864.9 L277.3,863.1 L276.8,859.8 L275.9,858.3 L274.5,856.9 L272.8,853.9 L272.8,851.5 L273.3,849.8 L273.7,848.0 L272.9,845.4 L270.5,843.3 L268.7,841.8 L268.0,840.1 L266.3,838.0 L264.6,837.1 L262.6,836.3 L260.5,837.0 L259.0,836.7 L257.1,835.3 L255.9,833.1 L253.7,832.2 L251.4,830.5 L248.0,830.3 L245.9,829.5 L244.4,828.9 L242.2,828.9 L239.8,826.9 L238.2,825.5 L235.6,826.2 L233.3,825.8 L230.6,823.9 L228.3,823.9 L226.3,823.3 L224.6,821.5 L222.1,820.2 L220.0,818.9 L220.3,816.6 L219.0,814.0 L218.4,810.7 L216.4,808.2 L214.9,806.6 L211.8,804.7 L208.8,805.3 L206.9,805.4 L204.2,803.8 L201.8,803.4 L200.5,804.9 L198.3,806.0 L195.1,807.3 L191.9,807.4 L189.6,806.6 L187.7,806.5 L185.0,804.5 L182.0,804.5 L178.7,805.7 L176.5,805.9 L174.8,804.8 L172.0,804.1 L168.6,804.4 L167.0,803.8 L165.5,802.4 L163.3,800.9 L160.2,800.8 L158.2,799.8 L156.5,799.1 L154.0,796.8 L151.9,796.1 L149.7,795.0 L148.2,795.2 L145.8,795.3 L142.5,795.9 L139.1,795.8 L136.4,796.4 L134.9,797.3 L132.1,798.5 L129.4,798.0 L126.1,798.7 L122.6,799.1 L121.3,800.6 L119.6,802.8 L118.8,804.7 L117.6,807.4 L115.6,809.5 L113.3,811.9 L112.3,814.4 L111.0,817.3 L109.1,818.6 L106.2,819.2 L103.6,820.4 L101.3,821.8 L99.5,822.2 L97.9,821.0 L95.5,820.5 L93.1,819.3 L91.4,819.0 L89.5,819.9 L229.9,709.9 L231.6,711.2 L233.1,711.6 L235.7,711.5 L237.9,711.9 L239.6,711.7 L241.7,711.4 L244.8,711.6 L247.6,710.8 L249.4,709.2 L251.0,707.7 L252.5,705.6 L254.7,705.0 L257.8,704.1 L259.7,701.6 L261.1,701.1 L262.9,699.6 L264.3,697.9 L264.6,695.1 L265.9,694.0 L266.7,691.6 L268.1,689.7 L269.4,687.8 L270.8,686.0 L272.5,684.1 L274.5,681.8 L273.9,678.3 L274.9,675.8 L275.8,673.1 L276.2,670.3 L277.8,668.2 L280.1,666.3 L282.0,666.4 L284.4,665.3 L287.0,664.0 L288.4,661.5 L289.9,659.1 L291.7,658.4 L292.7,655.4 L293.6,653.4 L293.6,651.5 L293.4,648.8 L292.1,647.2 L292.1,643.8 L292.8,640.9 L294.3,638.9 L297.3,637.1 L298.5,634.0 L299.1,632.3 L300.9,630.7 L303.7,629.1 L304.5,627.0 L306.3,624.7 L308.5,623.7 L310.6,622.5 L314.2,622.4 L315.1,620.3 L316.6,618.3 L318.0,616.0 L319.2,614.2 L320.8,612.5 L323.6,610.4 L326.1,609.5 L326.4,607.6 L327.2,606.0 L328.7,603.3 L330.7,602.6 L329.9,599.9 L329.8,598.0 L330.2,596.0 L330.9,594.6 L332.3,591.6 L334.0,589.4 L334.2,587.5 L334.9,585.4 L337.0,584.3 L337.9,582.8 L336.5,579.8 L337.6,577.8 L337.3,576.2 L338.2,574.0 L339.7,573.0 L340.2,570.2 L340.5,567.9 L339.9,564.9 L339.9,562.7 L338.9,561.3 L341.4,560.1 L343.2,558.9 L344.4,557.3 L346.5,554.5 L348.8,553.0 L350.3,550.9 L350.5,549.3 L350.8,547.2 L351.6,545.0 L352.1,543.1 L352.2,540.9 L352.8,538.6 L354.2,537.7 L356.0,536.4 L357.1,533.2 L358.8,531.5 L360.5,530.9 L362.4,529.2 L364.4,528.7 L367.0,526.6 L368.5,524.5 L369.8,523.4 L371.7,521.8 L372.0,520.0 L372.4,518.1 L373.6,516.4 L374.9,513.4 L376.5,511.6 L378.7,509.5 L380.0,508.4 L381.9,506.5 L384.1,503.8 L385.5,501.8 L386.9,500.7 L387.9,497.2 L388.7,494.6 L390.1,493.2 L390.2,491.1 L390.8,488.3 L392.5,487.1 L393.7,485.0 L395.3,483.7 L396.6,482.4 L398.4,480.0 L398.6,476.7 L397.1,473.7 L397.5,472.0 L396.9,469.7 L395.1,466.8 L395.8,463.6 L396.9,461.3 L396.9,459.6 L398.0,457.1 L398.4,455.3 L400.0,453.6 L399.3,451.8 L398.0,449.6 L396.8,448.7 L394.9,447.6 L393.9,444.5 L393.0,442.1 L393.4,440.4 L395.2,438.1 L396.4,436.1 L397.8,435.4 L399.3,433.1 L400.7,431.8 L403.3,430.5 L406.1,429.2 L407.7,429.1 L410.1,428.3 L412.1,428.3 L414.5,428.2 L416.6,427.7 L418.2,427.2 L416.7,425.4 L416.4,422.0 L416.6,419.9 L416.5,417.3 L417.4,415.3 L417.7,413.8 L418.8,411.3 L420.6,411.1 L422.9,410.0 L424.8,407.4 L424.9,404.7 L425.4,403.0 L425.3,400.5 L425.6,398.8 L426.7,396.9 L428.1,394.2 L426.5,392.1 L424.5,390.5 L424.6,387.1 L423.2,384.2 L424.0,382.5 L424.7,380.6 L427.5,378.7 L429.8,376.4 L430.8,374.5 L431.4,371.0 L433.9,370.6 L436.7,368.8 L438.2,366.8 L440.0,365.6 L441.9,364.7 L443.9,363.9 L444.7,362.5 L446.2,360.7 L447.5,357.8 L448.2,354.3 L449.2,351.0 L449.9,348.3 L451.6,345.4 L452.7,343.4 L453.1,341.3 L452.4,339.8 L451.8,337.7 L452.9,334.5 L454.0,332.3 L454.9,330.9 L454.7,328.5 L456.6,325.7 L456.1,323.8 L455.7,321.2 L456.9,319.1 L458.1,316.4 L458.9,314.0 L458.6,311.1 L456.1,310.4 L453.9,308.2 L452.1,306.6 L451.1,304.9 L450.5,303.0 L449.8,300.8 L448.3,298.5 L447.4,296.3 L449.7,296.8 L452.7,295.1 L454.4,294.0 L457.3,293.8 L458.1,291.8 L458.6,289.6 L460.7,288.3 L461.6,286.5 L462.8,284.5 L463.5,282.4 L464.3,281.0 L466.1,279.7 L468.5,278.9 L468.5,276.8 L468.9,274.7 L469.6,272.5 L469.7,269.0 L467.2,266.7 L465.9,263.5 L465.2,261.6 L464.8,259.1 L466.3,257.4 L466.6,254.4 L467.7,251.1 L469.7,249.2 L469.2,247.2 L469.4,244.9 L469.4,241.4 L471.0,239.7 L472.2,236.8 L471.1,235.1 L468.6,233.5 L466.0,231.8 L465.4,229.8 L466.1,227.5 L466.1,224.0 L467.3,221.9 L467.3,221.9" fill="none" stroke="#161616" stroke-width="1.25" stroke-linejoin="round"/>
<circle cx="445.0" cy="304.8" r="5.2" fill="#fff" stroke="#000" stroke-width="1"/><circle cx="445.0" cy="304.8" r="2" fill="#000"/>
<circle cx="581.4" cy="285.8" r="5.2" fill="#fff" stroke="#000" stroke-width="1"/><circle cx="581.4" cy="285.8" r="2" fill="#000"/>
<circle cx="590" cy="369.4" r="5.2" fill="#fff" stroke="#000" stroke-width="1"/><circle cx="590" cy="369.4" r="2" fill="#000"/>
<circle cx="741.2" cy="417.3" r="5.2" fill="#fff" stroke="#000" stroke-width="1"/><circle cx="741.2" cy="417.3" r="2" fill="#000"/>
<circle cx="379.2" cy="471.1" r="5.2" fill="#fff" stroke="#000" stroke-width="1"/><circle cx="379.2" cy="471.1" r="2" fill="#000"/>
<circle cx="539.7" cy="516.9" r="5.2" fill="#fff" stroke="#000" stroke-width="1"/><circle cx="539.7" cy="516.9" r="2" fill="#000"/>
<circle cx="631.2" cy="525.8" r="5.2" fill="#fff" stroke="#000" stroke-width="1"/><circle cx="631.2" cy="525.8" r="2" fill="#000"/>
<circle cx="597.9" cy="550.7" r="5.2" fill="#fff" stroke="#000" stroke-width="1"/><circle cx="597.9" cy="550.7" r="2" fill="#000"/>
<circle cx="694.4" cy="560.7" r="5.2" fill="#fff" stroke="#000" stroke-width="1"/><circle cx="694.4" cy="560.7" r="2" fill="#000"/>
<circle cx="598.2" cy="586.7" r="5.2" fill="#fff" stroke="#000" stroke-width="1"/><circle cx="598.2" cy="586.7" r="2" fill="#000"/>
<circle cx="790.3" cy="558.5" r="5.2" fill="#fff" stroke="#000" stroke-width="1"/><circle cx="790.3" cy="558.5" r="2" fill="#000"/>
<circle cx="873.8" cy="588" r="5.2" fill="#fff" stroke="#000" stroke-width="1"/><circle cx="873.8" cy="588" r="2" fill="#000"/>
<circle cx="887.6" cy="406" r="5.2" fill="#fff" stroke="#000" stroke-width="1"/><circle cx="887.6" cy="406" r="2" fill="#000"/>
<circle cx="1095.7" cy="457.9" r="5.2" fill="#fff" stroke="#000" stroke-width="1"/><circle cx="1095.7" cy="457.9" r="2" fill="#000"/>
<circle cx="1008.2" cy="533.5" r="5.2" fill="#fff" stroke="#000" stroke-width="1"/><circle cx="1008.2" cy="533.5" r="2" fill="#000"/>
<circle cx="939.8" cy="648.8" r="5.2" fill="#fff" stroke="#000" stroke-width="1"/><circle cx="939.8" cy="648.8" r="2" fill="#000"/>
<circle cx="944.8" cy="710.3" r="5.2" fill="#fff" stroke="#000" stroke-width="1"/><circle cx="944.8" cy="710.3" r="2" fill="#000"/>
<circle cx="874.7" cy="743.6" r="5.2" fill="#fff" stroke="#000" stroke-width="1"/><circle cx="874.7" cy="743.6" r="2" fill="#000"/>
<circle cx="911.1" cy="867.8" r="5.2" fill="#fff" stroke="#000" stroke-width="1"/><circle cx="911.1" cy="867.8" r="2" fill="#000"/>
<circle cx="787.8" cy="661.4" r="5.2" fill="#fff" stroke="#000" stroke-width="1"/><circle cx="787.8" cy="661.4" r="2" fill="#000"/>
<circle cx="730" cy="679.2" r="5.2" fill="#fff" stroke="#000" stroke-width="1"/><circle cx="730" cy="679.2" r="2" fill="#000"/>
<circle cx="713.5" cy="653.4" r="5.2" fill="#fff" stroke="#000" stroke-width="1"/><circle cx="713.5" cy="653.4" r="2" fill="#000"/>
<circle cx="669.6" cy="714.9" r="5.2" fill="#fff" stroke="#000" stroke-width="1"/><circle cx="669.6" cy="714.9" r="2" fill="#000"/>
<circle cx="615.4" cy="707.6" r="5.2" fill="#fff" stroke="#000" stroke-width="1"/><circle cx="615.4" cy="707.6" r="2" fill="#000"/>
<circle cx="600.5" cy="841.4" r="5.2" fill="#fff" stroke="#000" stroke-width="1"/><circle cx="600.5" cy="841.4" r="2" fill="#000"/>
<circle cx="756.1" cy="876.1" r="5.2" fill="#fff" stroke="#000" stroke-width="1"/><circle cx="756.1" cy="876.1" r="2" fill="#000"/>
<circle cx="743.2" cy="918.5" r="5.2" fill="#fff" stroke="#000" stroke-width="1"/><circle cx="743.2" cy="918.5" r="2" fill="#000"/>
<circle cx="466.1" cy="887" r="5.2" fill="#fff" stroke="#000" stroke-width="1"/><circle cx="466.1" cy="887" r="2" fill="#000"/>
<circle cx="397.7" cy="576.8" r="5.2" fill="#fff" stroke="#000" stroke-width="1"/><circle cx="397.7" cy="576.8" r="2" fill="#000"/>
<circle cx="424.1" cy="671" r="5.2" fill="#fff" stroke="#000" stroke-width="1"/><circle cx="424.1" cy="671" r="2" fill="#000"/>
<circle cx="138.1" cy="781.9" r="5.2" fill="#fff" stroke="#000" stroke-width="1"/><circle cx="138.1" cy="781.9" r="2" fill="#000"/>
<circle cx="274.5" cy="846.7" r="5.2" fill="#fff" stroke="#000" stroke-width="1"/><circle cx="274.5" cy="846.7" r="2" fill="#000"/>
<circle cx="277.8" cy="1108.3" r="5.2" fill="#fff" stroke="#000" stroke-width="1"/><circle cx="277.8" cy="1108.3" r="2" fill="#000"/>
<circle cx="409.3" cy="1110.6" r="5.2" fill="#fff" stroke="#000" stroke-width="1"/><circle cx="409.3" cy="1110.6" r="2" fill="#000"/>
<circle cx="300" cy="1162.8" r="5.2" fill="#fff" stroke="#000" stroke-width="1"/><circle cx="300" cy="1162.8" r="2" fill="#000"/>
<circle cx="463.1" cy="1053.8" r="5.2" fill="#fff" stroke="#000" stroke-width="1"/><circle cx="463.1" cy="1053.8" r="2" fill="#000"/>
<circle cx="698.6" cy="1091.8" r="5.2" fill="#fff" stroke="#000" stroke-width="1"/><circle cx="698.6" cy="1091.8" r="2" fill="#000"/>
<circle cx="921" cy="1026.7" r="5.2" fill="#fff" stroke="#000" stroke-width="1"/><circle cx="921" cy="1026.7" r="2" fill="#000"/>
<circle cx="498.8" cy="1363.6" r="5.2" fill="#fff" stroke="#000" stroke-width="1"/><circle cx="498.8" cy="1363.6" r="2" fill="#000"/>
<text transform="translate(441,299) scale(0.915,1)" font-size="14" fill="#333" text-anchor="end">BOA VISTA DO GURUPI</text>
<text transform="translate(588.6,280.2) scale(0.915,1)" font-size="14" fill="#333" text-anchor="start">TURIAÇU</text>
<text transform="translate(597,363.8) scale(0.915,1)" font-size="14" fill="#333" text-anchor="start">SANTA HELENA</text>
<text transform="translate(748.8,412.3) scale(0.915,1)" font-size="14" fill="#333" text-anchor="start">SÃO LUÍS</text>
<text transform="translate(385,465.5) scale(0.915,1)" font-size="14" fill="#333" text-anchor="start">PARAGOMINAS-PA</text>
<text transform="translate(547.3,512) scale(0.915,1)" font-size="14" fill="#333" text-anchor="start">ZÉ DOCA</text>
<text transform="translate(638.4,519.6) scale(0.915,1)" font-size="14" fill="#333" text-anchor="start">CAJARI</text>
<text transform="translate(590.5,546.5) scale(0.915,1)" font-size="14" fill="#333" text-anchor="end">MONÇÃO</text>
<text transform="translate(601,555) scale(0.915,1)" font-size="14" fill="#333" text-anchor="start">MIRANDA DO NORTE</text>
<text transform="translate(605.2,581.1) scale(0.915,1)" font-size="14" fill="#333" text-anchor="start">BELA VISTA DO MA</text>
<text transform="translate(797.7,552.5) scale(0.915,1)" font-size="14" fill="#333" text-anchor="start">VARGEM GRANDE</text>
<text transform="translate(881,582.1) scale(0.915,1)" font-size="14" fill="#333" text-anchor="start">CHAPADINHA</text>
<text transform="translate(894.6,400.8) scale(0.915,1)" font-size="14" fill="#333" text-anchor="start">SANTO AMARO DO MA</text>
<text transform="translate(988.4,452) scale(0.915,1)" font-size="14" fill="#333" text-anchor="start">ILHA GRANDE-PI</text>
<text transform="translate(1014,528.3) scale(0.915,1)" font-size="14" fill="#333" text-anchor="start">SÃO BERNADO</text>
<text transform="translate(946.4,642.9) scale(0.915,1)" font-size="14" fill="#333" text-anchor="start">MIGUEL ALVEZ-PI</text>
<text transform="translate(952,704) scale(0.915,1)" font-size="14" fill="#333" text-anchor="start">UNIÃO-PI</text>
<text transform="translate(881.4,738) scale(0.915,1)" font-size="14" fill="#333" text-anchor="start">CAXIAS</text>
<text transform="translate(918.3,862.5) scale(0.915,1)" font-size="14" fill="#333" text-anchor="start">PARNARAMA</text>
<text transform="translate(795.4,656) scale(0.915,1)" font-size="14" fill="#333" text-anchor="start">TIMBIRAS</text>
<text transform="translate(737.3,684) scale(0.915,1)" font-size="14" fill="#333" text-anchor="start">PERITORÓ</text>
<text transform="translate(526.5,648.2) scale(0.915,1)" font-size="14" fill="#333" text-anchor="start">ALTO ALEGREDO MARANHÃO</text>
<text transform="translate(676.2,709) scale(0.915,1)" font-size="14" fill="#333" text-anchor="start">BERNADO DO MEARIM</text>
<text transform="translate(507,702.3) scale(0.915,1)" font-size="14" fill="#333" text-anchor="start">LAGO DA PEDRA</text>
<text transform="translate(607.5,835.4) scale(0.915,1)" font-size="14" fill="#333" text-anchor="start">BARRA DO CORDA</text>
<text transform="translate(762.7,870.1) scale(0.915,1)" font-size="14" fill="#333" text-anchor="start">FORTUNA</text>
<text transform="translate(750.5,913) scale(0.915,1)" font-size="14" fill="#333" text-anchor="start">COLINAS</text>
<text transform="translate(472.4,881.7) scale(0.915,1)" font-size="14" fill="#333" text-anchor="start">GRAJAÚ</text>
<text transform="translate(404.7,571.2) scale(0.915,1)" font-size="14" fill="#333" text-anchor="start">TUFILÂNDIA</text>
<text transform="translate(431.4,665.3) scale(0.915,1)" font-size="14" fill="#333" text-anchor="start">BURITICUPU</text>
<text transform="translate(145,776) scale(0.915,1)" font-size="14" fill="#333" text-anchor="start">S. PEDRO DA ÁGUA BRANCA</text>
<text transform="translate(281.8,841.1) scale(0.915,1)" font-size="14" fill="#333" text-anchor="start">IMPERATRIZ</text>
<text transform="translate(284.4,1102.7) scale(0.915,1)" font-size="14" fill="#333" text-anchor="start">CAROLINA</text>
<text transform="translate(416.5,1105) scale(0.915,1)" font-size="14" fill="#333" text-anchor="start">RIACHÃO</text>
<text transform="translate(306.2,1156.8) scale(0.915,1)" font-size="14" fill="#333" text-anchor="start">GOIATINS-TO</text>
<text transform="translate(470.4,1048.2) scale(0.915,1)" font-size="14" fill="#333" text-anchor="start">FORTALEZA DOS NOGUEIRAS</text>
<text transform="translate(705.2,1085.2) scale(0.915,1)" font-size="14" fill="#333" text-anchor="start">BENEDITO LEITE</text>
<text transform="translate(928.3,1020) scale(0.915,1)" font-size="14" fill="#333" text-anchor="start">FLORIANO-PI</text>
<text transform="translate(506,1357.7) scale(0.915,1)" font-size="14" fill="#333" text-anchor="start">ALTO PARNAÍBA</text>
<text x="142.2" y="451.6" font-size="19.4" font-weight="bold" fill="#000">PARÁ</text>
<text x="91" y="1110.5" font-size="19.4" font-weight="bold" fill="#000">TOCANTINS</text>
<text x="815.3" y="1178.8" font-size="19.4" font-weight="bold" fill="#000">PIAUÍ</text>
<text x="1002.6" y="174.5" font-size="14.5" font-weight="bold" font-style="italic" fill="#000" textLength="128.8" lengthAdjust="spacingAndGlyphs">OCEANO ATLÂNTICO</text>
<rect x="95.5" y="1181" width="204" height="223.3" fill="none" stroke="#222" stroke-width="1.1"/>
<path d="M238.2,1237.1L242.7,1238.9L246.2,1242.5L251.6,1244.2L260.4,1245.1L257.8,1251.3L256.0,1258.4L253.3,1263.8L246.2,1265.5L242.7,1268.2L240.9,1274.4L240.6,1281.5L237.4,1278.9L234.7,1274.4L235.6,1270.9L232.0,1265.5L231.1,1259.3L226.7,1257.6L230.3,1254.9L234.7,1247.8Z" fill="#ff7f00" stroke="none"/>
<path d="M98.9,1271.8L103.3,1263.8L106.9,1258.4L113.1,1255.8L120.2,1254.0L119.3,1230.0L118.4,1228.3L123.7,1227.4L119.3,1225.6L120.2,1222.6L132.6,1220.8L135.3,1225.6L139.7,1227.9L145.0,1225.6L151.3,1222.0L149.5,1214.9L146.8,1210.5L153.9,1211.4L161.0,1209.6L167.2,1207.8L168.1,1205.5L171.3,1206.1L172.0,1213.2L173.4,1219.4L176.6,1225.6L182.3,1222.9L189.4,1221.5L191.2,1219.4L196.5,1220.3L201.0,1222.0L207.2,1219.4L210.7,1213.2L213.7,1210.5L216.1,1215.8L218.7,1222.0L221.4,1227.4L221.0,1230.0L226.7,1232.7L232.0,1234.5L238.2,1237.1L242.7,1238.9L246.2,1242.5L251.6,1244.2L260.4,1245.1L264.9,1246.0L271.1,1245.7L276.4,1249.6L280.9,1254.9L285.3,1256.7L291.5,1256.7L293.8,1262.0L294.2,1269.1L292.4,1274.4L288.8,1278.9L284.4,1283.3L280.0,1288.6L276.4,1295.7L274.6,1302.8L273.8,1311.7L272.9,1318.8L270.2,1325.9L267.5,1331.2L263.1,1336.6L256.9,1341.0L249.8,1342.8L244.5,1346.3L239.1,1349.9L233.8,1352.5L230.3,1357.0L230.3,1363.2L229.4,1368.5L226.7,1372.1L224.0,1375.6L222.3,1382.7L217.8,1388.0L213.4,1392.5L210.7,1396.9L209.8,1392.5L205.4,1388.0L200.1,1384.5L194.7,1381.8L191.6,1380.9L194.7,1375.6L200.1,1370.3L205.4,1365.0L207.2,1360.5L203.6,1357.9L202.7,1350.8L199.2,1349.9L197.4,1343.7L193.0,1341.0L186.8,1341.0L185.0,1333.0L185.9,1324.1L186.8,1319.7L182.3,1318.8L181.4,1313.5L173.4,1313.1L171.7,1306.4L170.8,1300.2L164.6,1299.3L157.5,1297.5L151.3,1295.7L146.8,1290.4L145.0,1283.3L141.5,1281.5L136.2,1283.3L129.1,1290.4L119.3,1291.3L117.5,1283.3L111.3,1284.2L105.1,1282.4L103.3,1276.2ZM98.9,1271.8L116.6,1273.5L129.1,1279.7L141.5,1281.5M151.3,1222.0L158.4,1230.0L161.0,1237.1L163.7,1239.8L166.3,1235.4L171.7,1231.8L176.1,1230.0L176.6,1225.6M177.0,1230.0L182.3,1236.3L190.3,1242.5L185.9,1253.1L179.7,1265.5L180.5,1271.8L179.7,1275.3M179.7,1275.3L164.6,1276.2L162.8,1274.4L157.5,1272.6L152.1,1274.4L146.8,1279.7L145.0,1283.3M164.6,1276.2L165.5,1286.8L172.6,1288.6L171.7,1299.3L170.8,1300.2M179.7,1275.3L185.9,1278.0L217.8,1279.7M201.0,1222.0L205.4,1228.3L209.8,1237.1L214.3,1233.6L221.4,1227.4M226.7,1257.6L230.3,1259.3L224.9,1267.3L220.5,1276.2L217.8,1279.7L217.8,1295.7L216.1,1302.8L210.7,1308.2L206.3,1315.3L203.6,1317.0M238.2,1285.1L238.2,1295.7L230.3,1296.6L223.2,1295.7L218.7,1294.0L217.8,1295.7M237.4,1278.9L238.2,1285.1L240.6,1281.5M260.4,1245.1L264.9,1246.0L265.8,1254.9L266.7,1263.8L267.5,1269.1L264.9,1272.6L260.4,1276.2L253.3,1278.0L248.0,1281.5L242.7,1283.3L240.6,1281.5M267.5,1269.1L274.6,1267.3L278.2,1260.2L280.9,1254.9M278.2,1260.2L285.3,1259.3L291.5,1257.0M276.4,1263.8L282.6,1261.6L285.3,1263.8L293.8,1262.3M274.6,1267.3L280.9,1265.9L287.1,1267.3L293.8,1266.4M274.6,1267.3L278.2,1271.8L285.3,1270.9L292.4,1273.5M278.2,1271.8L280.0,1276.2L284.4,1277.1L288.8,1278.9M280.0,1276.2L278.2,1281.5L284.4,1283.3M240.6,1281.5L239.1,1290.4L240.0,1302.8L246.2,1300.2L255.1,1304.6L264.0,1308.2L269.3,1310.8L267.5,1318.8L264.9,1322.4L263.1,1329.5L256.9,1338.3L249.8,1341.0L244.5,1342.8L239.1,1341.9L236.5,1334.8L234.7,1329.5L226.7,1327.7L216.9,1326.8M278.2,1281.5L276.4,1288.6L276.4,1295.7M264.9,1322.4L270.2,1325.9M263.1,1329.5L267.5,1331.2M238.2,1295.7L237.4,1306.4L230.3,1308.2L233.8,1311.7L232.9,1318.8L224.9,1320.6L217.8,1322.4L216.9,1326.8L207.2,1318.8L203.6,1317.0M181.4,1313.5L186.8,1319.7L193.0,1317.0L203.6,1317.0M216.9,1326.8L212.5,1334.8L210.7,1341.0L205.4,1343.7L203.6,1350.8M210.7,1341.0L217.8,1341.9L224.9,1342.8L227.6,1349.0L230.3,1353.4L233.8,1352.5M239.1,1341.9L244.5,1346.3M203.6,1357.9L208.1,1360.5L217.8,1357.9L228.5,1357.0M207.2,1360.5L214.3,1363.2L221.4,1365.9L229.4,1368.5M205.4,1365.0L214.3,1366.7L221.4,1370.3L226.7,1372.1" fill="none" stroke="#000" stroke-width="1.15" stroke-linejoin="round"/>
<g stroke="#000" stroke-width="0.8" fill="#000"><circle cx="201.2" cy="1458.1" r="7.3" fill="none" stroke-width="0.9"/><path d="M201.2,1441.6L203.5,1450.8L198.89999999999998,1450.8Z M201.2,1474.6L203.5,1465.3999999999999L198.89999999999998,1465.3999999999999Z M184.7,1458.1L193.89999999999998,1455.8L193.89999999999998,1460.3999999999999Z M217.7,1458.1L208.5,1455.8L208.5,1460.3999999999999Z"/></g>
<text x="201.2" y="1440.6" font-size="4.5" font-weight="bold" text-anchor="middle" fill="#000">N</text>
<text x="201.2" y="1479.6" font-size="4.5" font-weight="bold" text-anchor="middle" fill="#000">S</text>
<text x="181.2" y="1459.8" font-size="4.5" font-weight="bold" text-anchor="middle" fill="#000">W</text>
<text x="221.2" y="1459.8" font-size="4.5" font-weight="bold" text-anchor="middle" fill="#000">E</text>
<rect x="120.3" y="1510.6" width="176.3" height="9.600000000000136" fill="#fff" stroke="#000" stroke-width="1"/>
<rect x="120.3" y="1510.6" width="22.10000000000001" height="4.800000000000182" fill="#000"/>
<rect x="142.4" y="1515.4" width="22.099999999999994" height="4.800000000000182" fill="#000"/>
<rect x="164.5" y="1510.6" width="44.0" height="4.800000000000182" fill="#000"/>
<rect x="208.5" y="1515.4" width="43.900000000000006" height="4.800000000000182" fill="#000"/>
<rect x="252.4" y="1510.6" width="44.20000000000002" height="4.800000000000182" fill="#000"/>
<text x="120.3" y="1503.7" font-size="13.8" text-anchor="middle" fill="#000" textLength="11.2" lengthAdjust="spacingAndGlyphs">33</text>
<text x="164.5" y="1503.7" font-size="13.8" text-anchor="middle" fill="#000" textLength="5.6" lengthAdjust="spacingAndGlyphs">0</text>
<text x="208.5" y="1503.7" font-size="13.8" text-anchor="middle" fill="#000" textLength="11.2" lengthAdjust="spacingAndGlyphs">33</text>
<text x="252.4" y="1503.7" font-size="13.8" text-anchor="middle" fill="#000" textLength="11.5" lengthAdjust="spacingAndGlyphs">66</text>
<text x="290" y="1503.7" font-size="13.8" fill="#000" textLength="30" lengthAdjust="spacingAndGlyphs">99 km</text>
<text x="202.3" y="1536" font-size="12.4" text-anchor="middle" fill="#000" textLength="223.7" lengthAdjust="spacingAndGlyphs">SISTEMA DE COORDENADAS GEOGRÁFICAS</text>
<text x="202.6" y="1550.2" font-size="12.4" text-anchor="middle" fill="#000" textLength="174.7" lengthAdjust="spacingAndGlyphs">DATUM HORIZONTAL: SIRGAS 2000</text>
<text x="202.5" y="1579" font-size="12.4" text-anchor="middle" fill="#000" textLength="208.8" lengthAdjust="spacingAndGlyphs">FONTE: IBGE (2022); NUGEO/UEMA (2024).</text>
<rect x="91.4" y="1591.3" width="76.3" height="25" fill="#fff"/>
<text x="129.5" y="1596.6" font-size="3.6" font-weight="bold" text-anchor="middle" fill="#222" textLength="33" lengthAdjust="spacingAndGlyphs">GOVERNO DO</text>
<text x="92.6" y="1610.9" font-size="17.6" font-weight="bold" fill="#d2232a" textLength="11.5" lengthAdjust="spacingAndGlyphs">M</text>
<text x="103.5" y="1610.9" font-size="17.6" font-weight="bold" fill="#d2232a" textLength="9.7" lengthAdjust="spacingAndGlyphs">A</text>
<text x="112.6" y="1610.9" font-size="17.6" font-weight="bold" fill="#1c3f94" textLength="10.0" lengthAdjust="spacingAndGlyphs">R</text>
<text x="122" y="1610.9" font-size="17.6" font-weight="bold" fill="#1c3f94" textLength="9.9" lengthAdjust="spacingAndGlyphs">A</text>
<text x="131.3" y="1610.9" font-size="17.6" font-weight="bold" fill="#1a9e4a" textLength="10.3" lengthAdjust="spacingAndGlyphs">N</text>
<text x="141" y="1610.9" font-size="17.6" font-weight="bold" fill="#1a9e4a" textLength="9.8" lengthAdjust="spacingAndGlyphs">H</text>
<text x="150.2" y="1610.9" font-size="17.6" font-weight="bold" fill="#f7c412" textLength="9.0" lengthAdjust="spacingAndGlyphs">Ã</text>
<text x="158.6" y="1610.9" font-size="17.6" font-weight="bold" fill="#f58220" textLength="8.9" lengthAdjust="spacingAndGlyphs">O</text>
<path d="M117.4,1602.6l1.1,2.6 2.8,0.2 -2.1,1.8 0.7,2.7 -2.5,-1.5 -2.4,1.5 0.7,-2.7 -2.2,-1.8 2.8,-0.2z" fill="#fff"/>
<rect x="104" y="1613.2" width="51" height="1.3" fill="#777" opacity="0.7"/>
<circle cx="184" cy="1602.9" r="11.8" fill="#eef0ee" stroke="#5a7fb8" stroke-width="0.7"/>
<path d="M177.3,1596h13.4v8.5q0,4.6 -6.7,6.4q-6.7,-1.8 -6.7,-6.4z" fill="#fff" stroke="#c9a227" stroke-width="0.8"/>
<path d="M178,1597.3h12M178,1599.3h12M178,1601.3h12" stroke="#d2232a" stroke-width="1"/>
<rect x="178" y="1596.5" width="4" height="3.6" fill="#1c3f94"/>
<path d="M178,1603.5h12v1.5q0,3.6 -6,5.2q-6,-1.6 -6,-5.2z" fill="#2e8b57"/>
<path d="M180,1605.5h8v1.8h-8z" fill="#f2d14a"/>
<text x="201.6" y="1605.6" font-size="16.6" font-weight="bold" fill="#14306a" textLength="50.8" lengthAdjust="spacingAndGlyphs">Uema</text>
<rect x="202.3" y="1610.3" width="50" height="1.3" fill="#3f78b8" opacity="0.75"/><rect x="202.3" y="1614" width="29" height="1.3" fill="#3f78b8" opacity="0.75"/>
<rect x="257.2" y="1586.9" width="38.2" height="36.7" fill="#fff"/>
<circle cx="275.9" cy="1601.6" r="14.6" fill="none" stroke="#3d3f99" stroke-width="4.2"/>
<path d="M262.5,1608.5a14.6,14.6 0 0 0 26.8,0" fill="none" stroke="#21a5da" stroke-width="2" transform="translate(0,-2.6) scale(1)"/>
<rect x="258.8" y="1597.3" width="35" height="8.2" fill="#fff"/>
<text x="276.2" y="1604.4" font-size="7.9" font-weight="bold" text-anchor="middle" fill="#21a5da" textLength="31.5" lengthAdjust="spacingAndGlyphs">FAPEAD</text>
<path d="M272.5,1595.6v-3h1.2v3zM274.6,1595.6v-4.4h1.3v4.4zM276.8,1595.6v-5.8h1.4v5.8z" fill="#3d3f99"/>
<rect x="258.5" y="1619" width="35.5" height="1.1" fill="#3d3f99" opacity="0.7"/><rect x="264" y="1621.4" width="24" height="1" fill="#3d3f99" opacity="0.6"/>
<rect x="994" y="819" width="155" height="763" fill="#fff"/>
<text x="1030.4" y="863.2" font-size="26.2" fill="#000" textLength="83.1" lengthAdjust="spacingAndGlyphs">mm/dia</text>
<rect x="1001.7" y="875.2" width="43.8" height="43.8" rx="1.5" fill="#3c4b7c" stroke="#333" stroke-width="0.9"/>
<text transform="translate(1053.4,904.7) scale(0.83,1)" font-size="23" word-spacing="5.54" fill="#000">&gt; 120</text>
<rect x="1001.7" y="928.3" width="43.8" height="43.8" rx="1.5" fill="#6b5ca8" stroke="#333" stroke-width="0.9"/>
<text transform="translate(1053.4,957.8) scale(0.83,1)" font-size="23" word-spacing="3.63" fill="#000">100 - 120</text>
<rect x="1001.7" y="981.4" width="43.8" height="43.8" rx="1.5" fill="#8271ba" stroke="#333" stroke-width="0.9"/>
<text transform="translate(1053.4,1010.9) scale(0.83,1)" font-size="23" word-spacing="3.58" fill="#000">80 - 100</text>
<rect x="1001.7" y="1034.5" width="43.8" height="43.8" rx="1.5" fill="#738b85" stroke="#333" stroke-width="0.9"/>
<text transform="translate(1053.4,1064.0) scale(0.83,1)" font-size="23" word-spacing="3.65" fill="#000">70 - 80</text>
<rect x="1001.7" y="1087.6" width="43.8" height="43.8" rx="1.5" fill="#1f9e54" stroke="#333" stroke-width="0.9"/>
<text transform="translate(1053.4,1117.1) scale(0.83,1)" font-size="23" word-spacing="3.65" fill="#000">60 - 70</text>
<rect x="1001.7" y="1140.7" width="43.8" height="43.8" rx="1.5" fill="#2aa84f" stroke="#333" stroke-width="0.9"/>
<text transform="translate(1053.4,1170.2) scale(0.83,1)" font-size="23" word-spacing="3.65" fill="#000">50 - 60</text>
<rect x="1001.7" y="1193.8" width="43.8" height="43.8" rx="1.5" fill="#70bf4a" stroke="#333" stroke-width="0.9"/>
<text transform="translate(1053.4,1223.3) scale(0.83,1)" font-size="23" word-spacing="3.65" fill="#000">40 - 50</text>
<rect x="1001.7" y="1246.9" width="43.8" height="43.8" rx="1.5" fill="#8dc96a" stroke="#333" stroke-width="0.9"/>
<text transform="translate(1053.4,1276.4) scale(0.83,1)" font-size="23" word-spacing="3.65" fill="#000">30 - 40</text>
<rect x="1001.7" y="1300.0" width="43.8" height="43.8" rx="1.5" fill="#a5d38e" stroke="#333" stroke-width="0.9"/>
<text transform="translate(1053.4,1329.5) scale(0.83,1)" font-size="23" word-spacing="3.65" fill="#000">20 - 30</text>
<rect x="1001.7" y="1353.1" width="43.8" height="43.8" rx="1.5" fill="#d9c685" stroke="#333" stroke-width="0.9"/>
<text transform="translate(1053.4,1382.6) scale(0.83,1)" font-size="23" word-spacing="3.65" fill="#000">10 - 20</text>
<rect x="1001.7" y="1406.2" width="43.8" height="43.8" rx="1.5" fill="#f19660" stroke="#333" stroke-width="0.9"/>
<text transform="translate(1053.4,1435.7) scale(0.83,1)" font-size="23" word-spacing="3.12" fill="#000">5 - 10</text>
<rect x="1001.7" y="1459.3" width="43.8" height="43.8" rx="1.5" fill="#b9431f" stroke="#333" stroke-width="0.9"/>
<text transform="translate(1053.4,1488.8) scale(0.83,1)" font-size="23" word-spacing="2.89" fill="#000">2 - 5</text>
<rect x="1001.7" y="1512.4" width="43.8" height="43.8" rx="1.5" fill="#ffffff" stroke="#333" stroke-width="0.9"/>
<text transform="translate(1053.4,1541.9) scale(0.83,1)" font-size="23" word-spacing="10.10" fill="#000">&lt;= 2</text>
</g>
<rect x="46.4" y="126.4" width="1118" height="1511.5" fill="none" stroke="#1a1a1a" stroke-width="1.25"/>
<path d="M200 126.5V134.5 M200 1638V1630" stroke="#000" stroke-width="1.1"/>
<text x="200" y="122" font-size="13.6" text-anchor="middle" fill="#000" textLength="41" lengthAdjust="spacingAndGlyphs">-48°0'0"</text>
<text x="200" y="1652.7" font-size="13.6" text-anchor="middle" fill="#000" textLength="41" lengthAdjust="spacingAndGlyphs">-48°0'0"</text>
<path d="M490 126.5V134.5 M490 1638V1630" stroke="#000" stroke-width="1.1"/>
<text x="490" y="122" font-size="13.6" text-anchor="middle" fill="#000" textLength="41" lengthAdjust="spacingAndGlyphs">-46°0'0"</text>
<text x="490" y="1652.7" font-size="13.6" text-anchor="middle" fill="#000" textLength="41" lengthAdjust="spacingAndGlyphs">-46°0'0"</text>
<path d="M780 126.5V134.5 M780 1638V1630" stroke="#000" stroke-width="1.1"/>
<text x="780" y="122" font-size="13.6" text-anchor="middle" fill="#000" textLength="41" lengthAdjust="spacingAndGlyphs">-44°0'0"</text>
<text x="780" y="1652.7" font-size="13.6" text-anchor="middle" fill="#000" textLength="41" lengthAdjust="spacingAndGlyphs">-44°0'0"</text>
<path d="M1069.5 126.5V134.5 M1069.5 1638V1630" stroke="#000" stroke-width="1.1"/>
<text x="1069.5" y="122" font-size="13.6" text-anchor="middle" fill="#000" textLength="41" lengthAdjust="spacingAndGlyphs">-42°0'0"</text>
<text x="1069.5" y="1652.7" font-size="13.6" text-anchor="middle" fill="#000" textLength="41" lengthAdjust="spacingAndGlyphs">-42°0'0"</text>
<path d="M46.5 334H54.5 M1164.5 334H1156.5" stroke="#000" stroke-width="1.1"/>
<text transform="translate(41,334) rotate(-90)" font-size="13.6" text-anchor="middle" fill="#000" textLength="35" lengthAdjust="spacingAndGlyphs">-2°0'0"</text>
<text transform="translate(1178,334) rotate(-90)" font-size="13.6" text-anchor="middle" fill="#000" textLength="35" lengthAdjust="spacingAndGlyphs">-2°0'0"</text>
<path d="M46.5 624H54.5 M1164.5 624H1156.5" stroke="#000" stroke-width="1.1"/>
<text transform="translate(41,624) rotate(-90)" font-size="13.6" text-anchor="middle" fill="#000" textLength="35" lengthAdjust="spacingAndGlyphs">-4°0'0"</text>
<text transform="translate(1178,624) rotate(-90)" font-size="13.6" text-anchor="middle" fill="#000" textLength="35" lengthAdjust="spacingAndGlyphs">-4°0'0"</text>
<path d="M46.5 914H54.5 M1164.5 914H1156.5" stroke="#000" stroke-width="1.1"/>
<text transform="translate(41,914) rotate(-90)" font-size="13.6" text-anchor="middle" fill="#000" textLength="35" lengthAdjust="spacingAndGlyphs">-6°0'0"</text>
<text transform="translate(1178,914) rotate(-90)" font-size="13.6" text-anchor="middle" fill="#000" textLength="35" lengthAdjust="spacingAndGlyphs">-6°0'0"</text>
<path d="M46.5 1204H54.5 M1164.5 1204H1156.5" stroke="#000" stroke-width="1.1"/>
<text transform="translate(41,1204) rotate(-90)" font-size="13.6" text-anchor="middle" fill="#000" textLength="35" lengthAdjust="spacingAndGlyphs">-8°0'0"</text>
<text transform="translate(1178,1204) rotate(-90)" font-size="13.6" text-anchor="middle" fill="#000" textLength="35" lengthAdjust="spacingAndGlyphs">-8°0'0"</text>
<path d="M46.5 1494H54.5 M1164.5 1494H1156.5" stroke="#000" stroke-width="1.1"/>
<text transform="translate(41,1494) rotate(-90)" font-size="13.6" text-anchor="middle" fill="#000" textLength="41" lengthAdjust="spacingAndGlyphs">-10°0'0"</text>
<text transform="translate(1178,1494) rotate(-90)" font-size="13.6" text-anchor="middle" fill="#000" textLength="41" lengthAdjust="spacingAndGlyphs">-10°0'0"</text>
</svg></body></html>
